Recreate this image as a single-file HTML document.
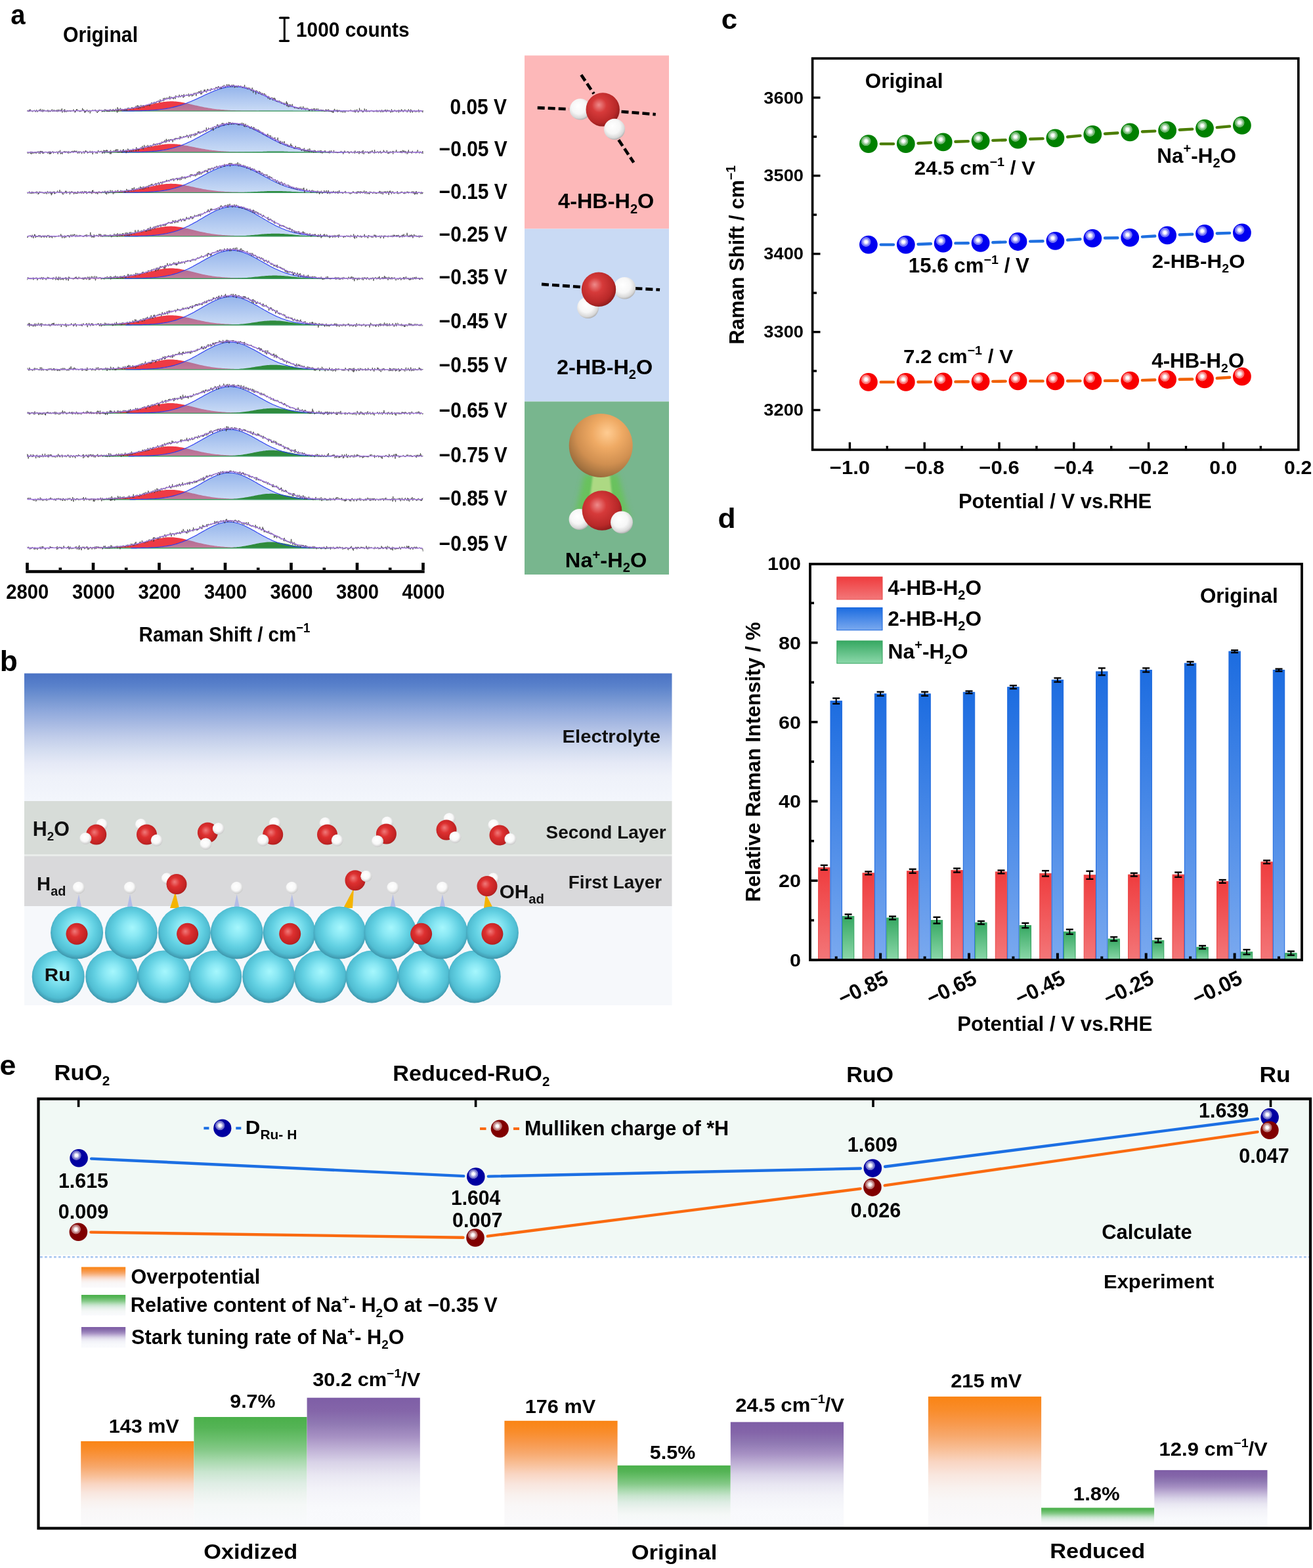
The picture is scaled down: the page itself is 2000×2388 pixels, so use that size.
<!DOCTYPE html><html><head><meta charset="utf-8"><title>Figure</title><style>html,body{margin:0;padding:0;background:#fff;width:2000px;height:2388px;overflow:hidden}svg{display:block}text{font-family:"Liberation Sans",Arial,sans-serif;font-weight:bold}</style></head><body><svg width="2000" height="2388" viewBox="0 0 2000 2388"><rect width="2000" height="2388" fill="#fff"/><defs><linearGradient id="gBlueA" x1="0" y1="0" x2="0" y2="1"><stop offset="0" stop-color="#2a6ad8"/><stop offset="1" stop-color="#96b8ec"/></linearGradient></defs>
<path d="M111.5,168.8 113.5,168.8 115.5,168.7 117.5,168.7 119.5,168.7 121.5,168.7 123.5,168.7 125.5,168.7 127.5,168.7 129.5,168.7 131.5,168.7 133.5,168.6 135.5,168.6 137.5,168.6 139.5,168.6 141.5,168.6 143.5,168.5 145.5,168.5 147.5,168.5 149.5,168.5 151.5,168.4 153.5,168.4 155.5,168.3 157.5,168.3 159.5,168.2 161.5,168.2 163.5,168.1 165.5,168.1 167.5,168.0 169.5,167.9 171.5,167.8 173.5,167.7 175.5,167.6 177.5,167.5 179.5,167.4 181.5,167.2 183.5,167.1 185.5,166.9 187.5,166.7 189.5,166.5 191.5,166.3 193.5,166.1 195.5,165.8 197.5,165.5 199.5,165.3 201.5,165.0 203.5,164.6 205.5,164.3 207.5,164.0 209.5,163.6 211.5,163.2 213.5,162.8 215.5,162.4 217.5,161.9 219.5,161.5 221.5,161.0 223.5,160.6 225.5,160.1 227.5,159.6 229.5,159.2 231.5,158.7 233.5,158.2 235.5,157.8 237.5,157.3 239.5,156.9 241.5,156.5 243.5,156.1 245.5,155.7 247.5,155.4 249.5,155.1 251.5,154.9 253.5,154.7 255.5,154.5 257.5,154.4 259.5,154.3 261.5,154.3 263.5,154.3 265.5,154.4 267.5,154.6 269.5,154.8 271.5,155.0 273.5,155.3 275.5,155.6 277.5,155.9 279.5,156.3 281.5,156.7 283.5,157.1 285.5,157.6 287.5,158.0 289.5,158.5 291.5,158.9 293.5,159.4 295.5,159.9 297.5,160.4 299.5,160.8 301.5,161.3 303.5,161.7 305.5,162.2 307.5,162.6 309.5,163.0 311.5,163.4 313.5,163.8 315.5,164.1 317.5,164.5 319.5,164.8 321.5,165.1 323.5,165.4 325.5,165.7 327.5,165.9 329.5,166.2 331.5,166.4 333.5,166.6 335.5,166.8 337.5,167.0 339.5,167.1 341.5,167.3 343.5,167.4 345.5,167.5 347.5,167.7 349.5,167.8 351.5,167.9 353.5,167.9 355.5,168.0 357.5,168.1 359.5,168.2 361.5,168.2 363.5,168.3 365.5,168.3 367.5,168.4 369.5,168.4 371.5,168.4 373.5,168.5 375.5,168.5 377.5,168.5 379.5,168.6 381.5,168.6 383.5,168.6 385.5,168.6 387.5,168.6 389.5,168.6 391.5,168.7 393.5,168.7 395.5,168.7 397.5,168.7 399.5,168.7 401.5,168.7 403.5,168.7 405.5,168.7 407.5,168.8 409.5,168.8 411.5,168.8 L411.5,169.1 L111.5,169.1Z" fill="#ee3a44" stroke="none" stroke-width="1" />
<path d="M185.5,169.0 187.5,169.0 189.5,169.0 191.5,169.0 193.5,169.0 195.5,169.0 197.5,168.9 199.5,168.9 201.5,168.9 203.5,168.9 205.5,168.8 207.5,168.8 209.5,168.8 211.5,168.7 213.5,168.7 215.5,168.6 217.5,168.5 219.5,168.5 221.5,168.4 223.5,168.3 225.5,168.2 227.5,168.1 229.5,168.0 231.5,167.8 233.5,167.7 235.5,167.5 237.5,167.4 239.5,167.2 241.5,167.0 243.5,166.8 245.5,166.5 247.5,166.3 249.5,166.0 251.5,165.7 253.5,165.4 255.5,165.0 257.5,164.7 259.5,164.3 261.5,163.8 263.5,163.4 265.5,162.9 267.5,162.4 269.5,161.9 271.5,161.3 273.5,160.7 275.5,160.1 277.5,159.5 279.5,158.8 281.5,158.1 283.5,157.4 285.5,156.6 287.5,155.8 289.5,155.0 291.5,154.2 293.5,153.3 295.5,152.5 297.5,151.6 299.5,150.7 301.5,149.8 303.5,148.8 305.5,147.9 307.5,146.9 309.5,146.0 311.5,145.1 313.5,144.1 315.5,143.2 317.5,142.3 319.5,141.4 321.5,140.5 323.5,139.7 325.5,138.8 327.5,138.0 329.5,137.3 331.5,136.5 333.5,135.8 335.5,135.2 337.5,134.6 339.5,134.1 341.5,133.6 343.5,133.1 345.5,132.8 347.5,132.4 349.5,132.2 351.5,132.0 353.5,131.9 355.5,131.8 357.5,131.8 359.5,131.9 361.5,132.0 363.5,132.2 365.5,132.4 367.5,132.8 369.5,133.1 371.5,133.6 373.5,134.1 375.5,134.6 377.5,135.2 379.5,135.8 381.5,136.5 383.5,137.3 385.5,138.0 387.5,138.8 389.5,139.7 391.5,140.5 393.5,141.4 395.5,142.3 397.5,143.2 399.5,144.1 401.5,145.1 403.5,146.0 405.5,146.9 407.5,147.9 409.5,148.8 411.5,149.8 413.5,150.7 415.5,151.6 417.5,152.5 419.5,153.3 421.5,154.2 423.5,155.0 425.5,155.8 427.5,156.6 429.5,157.4 431.5,158.1 433.5,158.8 435.5,159.5 437.5,160.1 439.5,160.7 441.5,161.3 443.5,161.9 445.5,162.4 447.5,162.9 449.5,163.4 451.5,163.8 453.5,164.3 455.5,164.7 457.5,165.0 459.5,165.4 461.5,165.7 463.5,166.0 465.5,166.3 467.5,166.5 469.5,166.8 471.5,167.0 473.5,167.2 475.5,167.4 477.5,167.5 479.5,167.7 481.5,167.8 483.5,168.0 485.5,168.1 487.5,168.2 489.5,168.3 491.5,168.4 493.5,168.5 495.5,168.5 497.5,168.6 499.5,168.7 501.5,168.7 503.5,168.8 505.5,168.8 507.5,168.8 509.5,168.9 511.5,168.9 513.5,168.9 515.5,168.9 517.5,169.0 519.5,169.0 521.5,169.0 523.5,169.0 525.5,169.0 527.5,169.0 L527.5,169.1 L185.5,169.1Z" fill="url(#gBlueA)" stroke="none" stroke-width="1" fill-opacity="0.5"/>
<path d="M323.5,169.1 325.5,169.1 327.5,169.1 329.5,169.1 331.5,169.1 333.5,169.1 335.5,169.1 337.5,169.1 339.5,169.1 341.5,169.1 343.5,169.1 345.5,169.1 347.5,169.1 349.5,169.1 351.5,169.1 353.5,169.1 355.5,169.1 357.5,169.1 359.5,169.1 361.5,169.1 363.5,169.1 365.5,169.0 367.5,169.0 369.5,169.0 371.5,169.0 373.5,169.0 375.5,169.0 377.5,169.0 379.5,169.0 381.5,169.0 383.5,168.9 385.5,168.9 387.5,168.9 389.5,168.9 391.5,168.9 393.5,168.9 395.5,168.8 397.5,168.8 399.5,168.8 401.5,168.8 403.5,168.8 405.5,168.8 407.5,168.7 409.5,168.7 411.5,168.7 413.5,168.7 415.5,168.7 417.5,168.7 419.5,168.7 421.5,168.7 423.5,168.7 425.5,168.7 427.5,168.7 429.5,168.7 431.5,168.7 433.5,168.7 435.5,168.8 437.5,168.8 439.5,168.8 441.5,168.8 443.5,168.8 445.5,168.8 447.5,168.9 449.5,168.9 451.5,168.9 453.5,168.9 455.5,168.9 457.5,168.9 459.5,169.0 461.5,169.0 463.5,169.0 465.5,169.0 467.5,169.0 469.5,169.0 471.5,169.0 473.5,169.0 475.5,169.1 477.5,169.1 479.5,169.1 481.5,169.1 483.5,169.1 485.5,169.1 487.5,169.1 489.5,169.1 491.5,169.1 493.5,169.1 495.5,169.1 497.5,169.1 499.5,169.1 501.5,169.1 503.5,169.1 505.5,169.1 507.5,169.1 509.5,169.1 511.5,169.1 513.5,169.1 515.5,169.1 L515.5,169.1 L323.5,169.1Z" fill="#2e8b3c" stroke="none" stroke-width="1" />
<line x1="155" y1="169.1" x2="505" y2="169.1" stroke="#3d9a62" stroke-width="1.4" />
<path d="M185.5,169.0 187.5,169.0 189.5,169.0 191.5,169.0 193.5,169.0 195.5,169.0 197.5,168.9 199.5,168.9 201.5,168.9 203.5,168.9 205.5,168.8 207.5,168.8 209.5,168.8 211.5,168.7 213.5,168.7 215.5,168.6 217.5,168.5 219.5,168.5 221.5,168.4 223.5,168.3 225.5,168.2 227.5,168.1 229.5,168.0 231.5,167.8 233.5,167.7 235.5,167.5 237.5,167.4 239.5,167.2 241.5,167.0 243.5,166.8 245.5,166.5 247.5,166.3 249.5,166.0 251.5,165.7 253.5,165.4 255.5,165.0 257.5,164.7 259.5,164.3 261.5,163.8 263.5,163.4 265.5,162.9 267.5,162.4 269.5,161.9 271.5,161.3 273.5,160.7 275.5,160.1 277.5,159.5 279.5,158.8 281.5,158.1 283.5,157.4 285.5,156.6 287.5,155.8 289.5,155.0 291.5,154.2 293.5,153.3 295.5,152.5 297.5,151.6 299.5,150.7 301.5,149.8 303.5,148.8 305.5,147.9 307.5,146.9 309.5,146.0 311.5,145.1 313.5,144.1 315.5,143.2 317.5,142.3 319.5,141.4 321.5,140.5 323.5,139.7 325.5,138.8 327.5,138.0 329.5,137.3 331.5,136.5 333.5,135.8 335.5,135.2 337.5,134.6 339.5,134.1 341.5,133.6 343.5,133.1 345.5,132.8 347.5,132.4 349.5,132.2 351.5,132.0 353.5,131.9 355.5,131.8 357.5,131.8 359.5,131.9 361.5,132.0 363.5,132.2 365.5,132.4 367.5,132.8 369.5,133.1 371.5,133.6 373.5,134.1 375.5,134.6 377.5,135.2 379.5,135.8 381.5,136.5 383.5,137.3 385.5,138.0 387.5,138.8 389.5,139.7 391.5,140.5 393.5,141.4 395.5,142.3 397.5,143.2 399.5,144.1 401.5,145.1 403.5,146.0 405.5,146.9 407.5,147.9 409.5,148.8 411.5,149.8 413.5,150.7 415.5,151.6 417.5,152.5 419.5,153.3 421.5,154.2 423.5,155.0 425.5,155.8 427.5,156.6 429.5,157.4 431.5,158.1 433.5,158.8 435.5,159.5 437.5,160.1 439.5,160.7 441.5,161.3 443.5,161.9 445.5,162.4 447.5,162.9 449.5,163.4 451.5,163.8 453.5,164.3 455.5,164.7 457.5,165.0 459.5,165.4 461.5,165.7 463.5,166.0 465.5,166.3 467.5,166.5 469.5,166.8 471.5,167.0 473.5,167.2 475.5,167.4 477.5,167.5 479.5,167.7 481.5,167.8 483.5,168.0 485.5,168.1 487.5,168.2 489.5,168.3 491.5,168.4 493.5,168.5 495.5,168.5 497.5,168.6 499.5,168.7 501.5,168.7 503.5,168.8 505.5,168.8 507.5,168.8 509.5,168.9 511.5,168.9 513.5,168.9 515.5,168.9 517.5,169.0 519.5,169.0 521.5,169.0 523.5,169.0 525.5,169.0 527.5,169.0" fill="none" stroke="#2b3cf0" stroke-width="1.1" />
<path d="M41.5,168.6 42.0,169.6 42.6,167.8 43.1,168.7 43.7,170.2 44.2,169.2 44.8,166.9 45.4,170.0 45.9,166.8 46.5,166.8 47.0,169.3 47.5,168.9 48.1,169.3 48.6,169.4 49.2,169.6 49.8,170.4 50.3,168.5 50.9,168.8 51.4,168.4 52.0,167.7 52.5,167.9 53.0,169.2 53.6,169.0 54.1,170.6 54.7,168.8 55.2,167.9 55.8,167.1 56.4,170.0 56.9,170.7 57.5,169.4 58.0,169.7 58.5,168.1 59.1,167.7 59.7,168.2 60.2,167.1 60.8,169.2 61.3,166.5 61.9,165.8 62.4,169.1 63.0,170.1 63.5,168.0 64.0,168.9 64.6,166.7 65.2,170.6 65.7,168.1 66.2,169.5 66.8,167.0 67.3,168.3 67.9,168.2 68.5,169.5 69.0,168.8 69.5,168.7 70.1,168.8 70.7,169.6 71.2,168.6 71.8,169.5 72.3,167.7 72.8,167.2 73.4,170.7 74.0,168.3 74.5,167.8 75.1,169.8 75.6,170.2 76.2,168.7 76.7,170.2 77.2,169.8 77.8,168.5 78.3,168.6 78.9,166.8 79.5,166.5 80.0,170.0 80.6,169.8 81.1,168.6 81.7,169.5 82.2,167.0 82.8,169.1 83.3,170.0 83.8,168.5 84.4,168.9 85.0,167.8 85.5,169.7 86.1,167.6 86.6,169.1 87.2,170.4 87.7,167.2 88.2,167.4 88.8,168.9 89.3,170.1 89.9,166.8 90.5,168.9 91.0,168.0 91.6,169.0 92.1,169.6 92.7,167.0 93.2,169.3 93.8,169.1 94.3,165.2 94.8,171.5 95.4,170.4 96.0,169.8 96.5,168.8 97.1,167.4 97.6,167.7 98.2,170.8 98.7,166.4 99.2,170.6 99.8,169.3 100.3,169.3 100.9,170.2 101.5,170.7 102.0,167.9 102.6,168.2 103.1,170.0 103.7,168.3 104.2,169.0 104.8,169.7 105.3,168.0 105.9,168.3 106.4,169.8 107.0,168.2 107.5,169.9 108.1,168.0 108.6,169.5 109.2,168.5 109.7,168.9 110.2,168.1 110.8,169.1 111.4,169.1 111.9,166.6 112.5,169.0 113.0,168.9 113.6,169.1 114.1,171.4 114.7,169.2 115.2,170.4 115.8,168.5 116.3,166.5 116.9,168.6 117.4,166.2 118.0,168.4 118.5,169.4 119.1,168.2 119.6,167.9 120.2,169.4 120.7,169.0 121.2,169.8 121.8,170.4 122.4,168.0 122.9,169.6 123.5,169.8 124.0,169.3 124.6,168.2 125.1,167.6 125.7,164.8 126.2,168.3 126.8,169.1 127.3,166.8 127.9,169.2 128.4,167.8 128.9,171.7 129.5,169.0 130.1,171.2 130.6,169.3 131.2,168.2 131.7,169.8 132.2,167.1 132.8,167.2 133.4,168.3 133.9,168.2 134.4,170.8 135.0,168.6 135.6,168.8 136.1,167.9 136.7,168.1 137.2,172.6 137.8,168.9 138.3,168.3 138.9,168.3 139.4,169.5 139.9,168.4 140.5,167.5 141.1,167.5 141.6,168.1 142.2,167.7 142.7,168.8 143.2,168.6 143.8,167.6 144.4,168.4 144.9,167.4 145.4,167.0 146.0,169.6 146.6,168.3 147.1,169.3 147.7,170.9 148.2,172.0 148.8,169.9 149.3,170.2 149.9,169.1 150.4,170.1 150.9,166.9 151.5,167.5 152.1,168.7 152.6,167.5 153.2,168.1 153.7,168.3 154.2,168.4 154.8,167.5 155.4,170.6 155.9,169.4 156.4,169.6 157.0,167.9 157.6,167.9 158.1,169.8 158.7,170.4 159.2,168.4 159.8,166.2 160.3,167.7 160.9,167.7 161.4,166.9 161.9,168.1 162.5,169.9 163.1,167.0 163.6,170.0 164.2,168.3 164.7,169.8 165.2,170.1 165.8,167.1 166.4,167.2 166.9,170.2 167.5,168.0 168.0,166.2 168.6,167.5 169.1,167.9 169.7,168.4 170.2,168.4 170.8,169.8 171.3,166.7 171.9,168.7 172.4,166.4 173.0,166.5 173.5,167.6 174.1,169.7 174.6,168.1 175.2,167.6 175.7,166.9 176.2,165.8 176.8,166.1 177.4,167.8 177.9,168.5 178.5,171.8 179.0,163.3 179.6,167.1 180.1,169.8 180.7,165.8 181.2,167.2 181.8,166.2 182.3,166.4 182.9,166.3 183.4,164.5 184.0,167.0 184.5,168.7 185.1,166.3 185.6,165.8 186.2,167.4 186.7,166.2 187.2,167.7 187.8,166.7 188.4,166.7 188.9,167.6 189.5,166.9 190.0,168.2 190.6,165.4 191.1,168.0 191.7,166.8 192.2,167.4 192.8,165.8 193.3,168.7 193.9,164.6 194.4,165.6 195.0,165.1 195.5,163.8 196.1,164.8 196.6,165.3 197.2,166.4 197.7,164.6 198.2,165.8 198.8,166.5 199.4,166.3 199.9,165.6 200.5,163.5 201.0,164.9 201.6,163.4 202.1,165.4 202.7,166.0 203.2,166.4 203.8,163.6 204.3,164.5 204.9,165.1 205.4,163.0 206.0,163.4 206.5,164.5 207.1,161.4 207.6,162.3 208.2,164.7 208.7,164.7 209.2,160.3 209.8,163.4 210.4,160.8 210.9,165.5 211.5,164.1 212.0,161.4 212.6,162.8 213.1,164.4 213.7,165.0 214.2,161.5 214.8,159.8 215.3,161.9 215.9,161.7 216.4,163.6 217.0,162.0 217.5,160.1 218.1,161.0 218.6,160.2 219.2,163.8 219.7,160.8 220.3,160.6 220.8,160.3 221.4,161.4 221.9,160.8 222.5,159.8 223.0,161.4 223.6,160.0 224.1,159.5 224.7,161.3 225.2,160.4 225.8,159.4 226.3,159.7 226.9,160.9 227.4,159.6 228.0,161.7 228.5,158.5 229.1,159.1 229.6,159.4 230.2,157.4 230.7,156.1 231.3,158.4 231.8,156.7 232.4,157.7 232.9,157.4 233.5,157.0 234.0,158.2 234.6,155.2 235.1,156.0 235.7,156.9 236.2,157.8 236.8,156.2 237.3,156.4 237.9,156.2 238.4,156.5 239.0,154.1 239.5,155.1 240.1,153.8 240.6,154.4 241.2,153.7 241.7,153.4 242.3,156.0 242.8,154.0 243.4,155.6 243.9,151.4 244.5,154.0 245.0,154.9 245.6,153.8 246.1,153.3 246.7,152.7 247.2,153.6 247.8,152.0 248.3,153.4 248.9,149.4 249.4,153.6 250.0,153.1 250.5,152.4 251.1,148.9 251.6,151.3 252.2,151.3 252.7,150.9 253.3,150.3 253.8,148.7 254.4,151.2 254.9,150.0 255.5,150.9 256.0,148.7 256.6,150.3 257.1,150.4 257.6,150.2 258.2,146.5 258.8,151.4 259.3,150.5 259.9,150.4 260.4,147.2 261.0,148.6 261.5,148.8 262.1,149.9 262.6,148.7 263.1,150.0 263.7,148.1 264.2,151.2 264.8,148.4 265.4,149.2 265.9,147.5 266.5,148.9 267.0,150.8 267.6,145.5 268.1,145.9 268.6,146.3 269.2,146.8 269.8,147.4 270.3,147.3 270.9,147.2 271.4,147.0 272.0,148.5 272.5,146.7 273.1,144.2 273.6,145.9 274.1,147.4 274.7,148.1 275.2,146.9 275.8,147.1 276.4,144.7 276.9,145.7 277.5,145.3 278.0,145.6 278.6,145.0 279.1,149.0 279.6,145.1 280.2,143.4 280.8,147.5 281.3,146.1 281.9,146.0 282.4,145.6 283.0,144.8 283.5,145.8 284.1,144.1 284.6,145.1 285.1,144.4 285.7,145.2 286.2,145.4 286.8,145.4 287.4,142.6 287.9,147.3 288.5,145.3 289.0,144.1 289.6,144.0 290.1,145.7 290.7,143.1 291.2,143.5 291.8,143.4 292.3,146.7 292.9,144.5 293.4,145.6 294.0,146.2 294.5,145.2 295.1,141.7 295.6,142.7 296.2,144.2 296.7,143.3 297.2,141.1 297.8,141.8 298.4,143.4 298.9,146.2 299.5,142.5 300.0,140.6 300.6,140.6 301.1,141.6 301.7,142.2 302.2,142.2 302.8,139.1 303.3,141.3 303.9,139.2 304.4,140.0 305.0,141.1 305.5,143.5 306.1,137.6 306.6,141.9 307.2,143.8 307.7,141.0 308.2,139.9 308.8,141.2 309.4,140.4 309.9,140.6 310.5,139.0 311.0,136.7 311.6,139.3 312.1,136.4 312.7,139.0 313.2,138.7 313.8,139.8 314.3,140.9 314.9,140.5 315.4,136.4 316.0,137.8 316.5,135.5 317.1,137.2 317.6,136.8 318.2,138.3 318.7,138.1 319.2,137.6 319.8,136.6 320.4,138.3 320.9,138.7 321.5,134.4 322.0,136.4 322.6,135.3 323.1,136.4 323.7,136.5 324.2,135.8 324.8,135.6 325.3,134.9 325.9,136.0 326.4,135.7 327.0,136.7 327.5,135.7 328.1,134.3 328.6,132.9 329.2,132.5 329.7,134.3 330.2,134.3 330.8,132.9 331.4,135.3 331.9,133.6 332.5,131.0 333.0,133.5 333.6,132.5 334.1,133.7 334.7,134.7 335.2,133.3 335.8,132.1 336.3,135.2 336.9,133.4 337.4,134.9 338.0,132.5 338.5,132.2 339.1,130.8 339.6,132.1 340.2,132.3 340.7,131.1 341.2,129.5 341.8,130.4 342.4,131.2 342.9,131.4 343.5,133.2 344.0,131.6 344.6,131.2 345.1,131.1 345.7,128.2 346.2,131.9 346.8,130.3 347.3,129.7 347.9,129.6 348.4,128.6 349.0,131.3 349.5,129.0 350.1,131.6 350.6,131.2 351.2,132.5 351.7,130.9 352.2,131.0 352.8,129.1 353.4,131.3 353.9,132.5 354.5,130.8 355.0,128.9 355.6,130.3 356.1,130.4 356.7,129.5 357.2,133.7 357.8,131.4 358.3,132.6 358.9,131.9 359.4,132.4 360.0,132.6 360.5,130.5 361.1,131.9 361.6,133.1 362.2,131.8 362.7,130.1 363.2,130.4 363.8,131.4 364.4,131.1 364.9,131.1 365.5,131.7 366.0,132.5 366.6,130.4 367.1,130.9 367.7,131.8 368.2,131.8 368.8,132.7 369.3,134.0 369.9,132.1 370.4,131.9 371.0,132.4 371.5,132.9 372.1,133.7 372.6,129.3 373.2,133.5 373.7,133.1 374.2,134.0 374.8,133.7 375.4,132.6 375.9,133.6 376.5,135.4 377.0,136.1 377.6,134.3 378.1,133.1 378.7,135.7 379.2,136.0 379.8,134.2 380.3,133.6 380.9,136.1 381.4,134.9 382.0,137.6 382.5,136.0 383.1,138.5 383.6,136.1 384.2,133.5 384.7,136.5 385.2,138.0 385.8,141.4 386.4,136.6 386.9,138.2 387.5,138.8 388.0,138.1 388.6,139.5 389.1,138.3 389.7,143.7 390.2,137.5 390.8,139.5 391.3,138.7 391.9,139.2 392.4,138.8 393.0,141.2 393.5,141.0 394.1,142.9 394.6,140.5 395.2,139.1 395.7,140.7 396.3,142.3 396.8,140.3 397.4,143.5 397.9,142.7 398.5,144.3 399.0,141.6 399.6,144.5 400.1,142.5 400.7,142.2 401.2,144.6 401.8,144.4 402.3,145.3 402.9,142.1 403.4,143.9 404.0,144.8 404.5,144.3 405.1,144.2 405.6,147.1 406.2,146.3 406.7,146.9 407.3,146.4 407.8,148.3 408.4,150.4 408.9,146.5 409.5,146.7 410.0,147.9 410.6,149.8 411.1,152.0 411.7,149.0 412.2,149.8 412.8,149.4 413.3,148.6 413.9,148.6 414.4,149.2 415.0,148.6 415.5,153.0 416.1,151.1 416.6,149.2 417.2,152.0 417.7,150.5 418.3,148.8 418.8,153.1 419.4,150.5 419.9,152.2 420.5,154.4 421.0,153.9 421.6,153.1 422.1,155.1 422.7,154.8 423.2,153.1 423.8,154.2 424.3,154.8 424.9,155.4 425.4,153.0 426.0,154.2 426.5,155.7 427.1,154.9 427.6,154.5 428.2,155.0 428.7,157.7 429.3,155.7 429.8,156.0 430.4,157.1 430.9,157.0 431.5,156.9 432.0,158.3 432.6,156.6 433.1,159.7 433.7,157.2 434.2,156.8 434.8,157.4 435.3,158.3 435.9,157.6 436.4,154.2 437.0,161.9 437.5,156.3 438.1,161.1 438.6,158.2 439.2,163.2 439.7,160.5 440.3,160.2 440.8,159.3 441.4,162.9 441.9,158.8 442.5,160.7 443.0,159.8 443.6,162.1 444.1,162.1 444.7,160.6 445.2,158.5 445.8,161.9 446.3,161.6 446.9,163.2 447.4,162.9 448.0,162.1 448.5,164.9 449.1,163.5 449.6,164.4 450.2,163.7 450.7,164.4 451.3,164.9 451.8,163.8 452.4,163.8 452.9,164.6 453.5,165.5 454.0,164.0 454.6,165.8 455.1,164.1 455.7,165.4 456.2,162.8 456.8,165.3 457.3,164.3 457.9,164.6 458.4,162.3 459.0,165.6 459.5,166.9 460.1,165.1 460.6,164.7 461.2,165.2 461.7,161.9 462.3,164.6 462.8,165.7 463.4,166.3 463.9,164.5 464.5,165.3 465.0,164.5 465.6,167.5 466.1,166.1 466.7,165.1 467.2,165.0 467.8,164.0 468.3,166.8 468.9,166.5 469.4,165.6 470.0,165.7 470.5,168.9 471.1,166.1 471.6,168.7 472.2,166.2 472.7,167.5 473.3,166.8 473.8,167.4 474.4,165.7 474.9,166.8 475.5,169.2 476.0,165.9 476.6,166.0 477.1,166.7 477.7,165.9 478.2,165.0 478.8,168.6 479.3,165.4 479.9,165.9 480.4,168.6 481.0,167.6 481.5,166.4 482.1,165.3 482.6,166.8 483.2,167.3 483.7,166.7 484.3,165.3 484.8,165.8 485.4,167.2 485.9,168.8 486.5,167.6 487.0,167.2 487.6,168.2 488.1,168.4 488.7,166.8 489.2,168.2 489.8,167.2 490.3,169.3 490.9,167.2 491.4,168.5 492.0,169.0 492.5,167.2 493.1,169.5 493.6,168.5 494.2,168.6 494.7,169.7 495.3,169.5 495.8,167.5 496.4,166.4 496.9,169.5 497.5,167.3 498.0,169.4 498.6,168.0 499.1,167.1 499.7,167.6 500.2,166.4 500.8,170.1 501.3,169.5 501.9,167.6 502.4,170.1 503.0,169.3 503.5,169.6 504.1,168.4 504.6,170.4 505.2,168.2 505.7,170.4 506.3,171.4 506.8,169.6 507.4,168.9 507.9,171.8 508.5,167.4 509.0,168.8 509.6,165.8 510.1,167.0 510.7,167.6 511.2,168.7 511.8,169.4 512.3,168.8 512.9,167.2 513.4,170.1 514.0,170.8 514.5,167.4 515.0,170.3 515.6,168.2 516.2,168.3 516.7,169.5 517.2,167.6 517.8,168.9 518.4,169.3 518.9,170.4 519.5,170.9 520.0,169.4 520.5,169.7 521.1,169.6 521.7,170.1 522.2,171.5 522.8,171.2 523.3,168.5 523.9,168.2 524.4,168.9 525.0,169.7 525.5,171.8 526.0,168.9 526.6,169.3 527.2,168.7 527.7,169.1 528.2,168.9 528.8,169.0 529.4,169.0 529.9,169.5 530.5,170.2 531.0,168.3 531.5,168.6 532.1,168.8 532.7,168.1 533.2,167.8 533.8,168.0 534.3,167.5 534.9,167.7 535.4,169.1 536.0,169.4 536.5,168.9 537.1,168.6 537.6,170.3 538.2,168.1 538.7,168.5 539.2,168.2 539.8,170.9 540.4,169.4 540.9,167.2 541.5,171.3 542.0,168.4 542.6,169.7 543.1,169.4 543.7,166.5 544.2,168.8 544.8,169.6 545.3,171.2 545.9,169.4 546.4,170.5 547.0,169.9 547.5,164.6 548.1,167.9 548.6,168.1 549.2,167.9 549.7,168.7 550.2,169.4 550.8,167.4 551.4,169.4 551.9,170.9 552.5,170.8 553.0,169.3 553.6,170.8 554.1,169.2 554.7,168.9 555.2,165.4 555.8,168.0 556.3,169.1 556.9,170.1 557.4,169.9 558.0,166.4 558.5,170.4 559.1,169.5 559.6,169.0 560.2,170.3 560.7,168.5 561.2,168.9 561.8,169.7 562.4,169.1 562.9,170.6 563.5,168.3 564.0,169.3 564.6,168.8 565.1,168.6 565.7,168.1 566.2,168.3 566.8,168.4 567.3,170.0 567.9,168.7 568.4,170.2 569.0,170.2 569.5,168.9 570.1,170.4 570.6,169.5 571.2,169.5 571.7,168.8 572.2,169.9 572.8,169.9 573.4,167.6 573.9,169.6 574.5,170.9 575.0,168.0 575.6,168.1 576.1,169.3 576.7,170.5 577.2,170.2 577.8,169.1 578.3,167.7 578.9,168.5 579.4,168.4 580.0,171.1 580.5,170.0 581.1,168.0 581.6,167.1 582.2,169.8 582.7,171.0 583.2,168.5 583.8,167.9 584.4,170.5 584.9,169.7 585.5,167.7 586.0,169.1 586.6,167.6 587.1,169.6 587.7,166.9 588.2,170.6 588.8,168.6 589.3,170.2 589.9,167.8 590.4,167.1 591.0,169.6 591.5,167.9 592.1,168.6 592.6,169.9 593.2,167.8 593.7,168.8 594.2,169.7 594.8,171.4 595.4,170.5 595.9,170.7 596.5,166.3 597.0,170.7 597.6,168.9 598.1,168.4 598.7,170.6 599.2,168.8 599.8,169.4 600.3,169.5 600.9,169.1 601.4,167.2 602.0,169.0 602.5,169.5 603.1,170.2 603.6,170.4 604.2,168.0 604.7,170.0 605.2,169.7 605.8,168.7 606.4,169.8 606.9,167.4 607.5,171.5 608.0,168.0 608.6,167.9 609.1,170.0 609.7,168.2 610.2,170.3 610.8,170.0 611.3,166.5 611.9,168.9 612.4,167.4 613.0,169.2 613.5,168.9 614.1,170.8 614.6,167.9 615.2,168.5 615.7,169.1 616.2,168.4 616.8,166.7 617.4,168.7 617.9,169.2 618.5,169.1 619.0,168.8 619.6,167.9 620.1,171.2 620.7,170.6 621.2,167.9 621.8,169.4 622.3,166.3 622.9,167.5 623.4,169.0 624.0,169.4 624.5,168.0 625.1,171.5 625.6,166.5 626.2,167.1 626.7,169.1 627.2,170.3 627.8,168.1 628.4,171.4 628.9,169.1 629.5,169.8 630.0,170.1 630.6,168.9 631.1,167.8 631.7,168.8 632.2,170.7 632.8,170.7 633.3,169.4 633.9,168.4 634.4,170.1 635.0,170.7 635.5,169.4 636.1,168.5 636.6,169.3 637.2,168.4 637.7,166.8 638.2,171.2 638.8,168.1 639.4,169.0 639.9,168.8 640.5,168.1 641.0,168.4 641.6,169.7 642.1,169.5 642.7,168.6 643.2,168.8 643.8,171.2 644.3,168.1" fill="none" stroke="#3a3a3a" stroke-width="0.8" />
<path d="M41.5,168.9 43.5,168.9 45.5,168.9 47.5,168.9 49.5,168.9 51.5,168.9 53.5,168.9 55.5,168.9 57.5,168.9 59.5,168.9 61.5,168.9 63.5,168.9 65.5,168.9 67.5,168.9 69.5,168.9 71.5,168.9 73.5,168.9 75.5,168.9 77.5,168.9 79.5,168.9 81.5,168.9 83.5,168.9 85.5,168.9 87.5,168.8 89.5,168.8 91.5,168.8 93.5,168.8 95.5,168.8 97.5,168.8 99.5,168.8 101.5,168.8 103.5,168.8 105.5,168.8 107.5,168.8 109.5,168.8 111.5,168.8 113.5,168.8 115.5,168.7 117.5,168.7 119.5,168.7 121.5,168.7 123.5,168.7 125.5,168.7 127.5,168.7 129.5,168.7 131.5,168.7 133.5,168.6 135.5,168.6 137.5,168.6 139.5,168.6 141.5,168.6 143.5,168.5 145.5,168.5 147.5,168.5 149.5,168.5 151.5,168.4 153.5,168.4 155.5,168.3 157.5,168.3 159.5,168.2 161.5,168.2 163.5,168.1 165.5,168.0 167.5,168.0 169.5,167.9 171.5,167.8 173.5,167.7 175.5,167.6 177.5,167.5 179.5,167.3 181.5,167.2 183.5,167.0 185.5,166.8 187.5,166.6 189.5,166.4 191.5,166.2 193.5,165.9 195.5,165.7 197.5,165.4 199.5,165.1 201.5,164.8 203.5,164.4 205.5,164.0 207.5,163.7 209.5,163.2 211.5,162.8 213.5,162.4 215.5,161.9 217.5,161.4 219.5,160.9 221.5,160.3 223.5,159.8 225.5,159.2 227.5,158.6 229.5,158.0 231.5,157.4 233.5,156.8 235.5,156.2 237.5,155.6 239.5,155.0 241.5,154.4 243.5,153.8 245.5,153.2 247.5,152.6 249.5,152.0 251.5,151.5 253.5,150.9 255.5,150.4 257.5,149.9 259.5,149.5 261.5,149.0 263.5,148.6 265.5,148.2 267.5,147.9 269.5,147.5 271.5,147.2 273.5,146.9 275.5,146.6 277.5,146.3 279.5,146.0 281.5,145.7 283.5,145.4 285.5,145.1 287.5,144.7 289.5,144.4 291.5,144.0 293.5,143.6 295.5,143.2 297.5,142.8 299.5,142.4 301.5,141.9 303.5,141.4 305.5,141.0 307.5,140.4 309.5,139.9 311.5,139.4 313.5,138.8 315.5,138.2 317.5,137.7 319.5,137.1 321.5,136.5 323.5,136.0 325.5,135.4 327.5,134.9 329.5,134.3 331.5,133.8 333.5,133.3 335.5,132.9 337.5,132.5 339.5,132.1 341.5,131.8 343.5,131.5 345.5,131.2 347.5,131.0 349.5,130.8 351.5,130.7 353.5,130.7 355.5,130.7 357.5,130.8 359.5,130.9 361.5,131.1 363.5,131.3 365.5,131.6 367.5,132.0 369.5,132.4 371.5,132.8 373.5,133.3 375.5,133.9 377.5,134.5 379.5,135.2 381.5,135.9 383.5,136.6 385.5,137.4 387.5,138.2 389.5,139.0 391.5,139.8 393.5,140.7 395.5,141.6 397.5,142.5 399.5,143.4 401.5,144.4 403.5,145.3 405.5,146.2 407.5,147.2 409.5,148.1 411.5,149.0 413.5,150.0 415.5,150.9 417.5,151.8 419.5,152.6 421.5,153.5 423.5,154.3 425.5,155.2 427.5,156.0 429.5,156.7 431.5,157.5 433.5,158.2 435.5,158.9 437.5,159.6 439.5,160.2 441.5,160.8 443.5,161.4 445.5,161.9 447.5,162.5 449.5,163.0 451.5,163.4 453.5,163.9 455.5,164.3 457.5,164.7 459.5,165.0 461.5,165.4 463.5,165.7 465.5,166.0 467.5,166.3 469.5,166.5 471.5,166.7 473.5,167.0 475.5,167.2 477.5,167.3 479.5,167.5 481.5,167.7 483.5,167.8 485.5,167.9 487.5,168.0 489.5,168.1 491.5,168.2 493.5,168.3 495.5,168.4 497.5,168.5 499.5,168.5 501.5,168.6 503.5,168.6 505.5,168.7 507.5,168.7 509.5,168.7 511.5,168.8 513.5,168.8 515.5,168.8 517.5,168.8 519.5,168.9 521.5,168.9 523.5,168.9 525.5,168.9 527.5,168.9 529.5,168.9 531.5,168.9 533.5,169.0 535.5,169.0 537.5,169.0 539.5,169.0 541.5,169.0 543.5,169.0 545.5,169.0 547.5,169.0 549.5,169.0 551.5,169.0 553.5,169.0 555.5,169.0 557.5,169.0 559.5,169.0 561.5,169.0 563.5,169.0 565.5,169.0 567.5,169.0 569.5,169.0 571.5,169.0 573.5,169.0 575.5,169.0 577.5,169.0 579.5,169.0 581.5,169.0 583.5,169.0 585.5,169.0 587.5,169.0 589.5,169.0 591.5,169.0 593.5,169.0 595.5,169.0 597.5,169.0 599.5,169.0 601.5,169.0 603.5,169.0 605.5,169.0 607.5,169.0 609.5,169.0 611.5,169.0 613.5,169.0 615.5,169.0 617.5,169.0 619.5,169.0 621.5,169.0 623.5,169.0 625.5,169.0 627.5,169.0 629.5,169.0 631.5,169.0 633.5,169.0 635.5,169.0 637.5,169.0 639.5,169.0 641.5,169.0 643.5,169.0" fill="none" stroke="#a374e6" stroke-width="1.3" />
<text x="685.55" y="174" font-size="32.3" textLength="86.43" lengthAdjust="spacingAndGlyphs" >0.05 V</text>
<path d="M109.5,231.7 111.5,231.7 113.5,231.7 115.5,231.7 117.5,231.7 119.5,231.7 121.5,231.7 123.5,231.7 125.5,231.6 127.5,231.6 129.5,231.6 131.5,231.6 133.5,231.6 135.5,231.6 137.5,231.6 139.5,231.5 141.5,231.5 143.5,231.5 145.5,231.5 147.5,231.5 149.5,231.4 151.5,231.4 153.5,231.4 155.5,231.3 157.5,231.3 159.5,231.2 161.5,231.2 163.5,231.1 165.5,231.1 167.5,231.0 169.5,230.9 171.5,230.9 173.5,230.8 175.5,230.7 177.5,230.6 179.5,230.5 181.5,230.3 183.5,230.2 185.5,230.0 187.5,229.9 189.5,229.7 191.5,229.5 193.5,229.3 195.5,229.1 197.5,228.9 199.5,228.6 201.5,228.4 203.5,228.1 205.5,227.8 207.5,227.5 209.5,227.1 211.5,226.8 213.5,226.5 215.5,226.1 217.5,225.7 219.5,225.3 221.5,224.9 223.5,224.5 225.5,224.1 227.5,223.7 229.5,223.3 231.5,222.9 233.5,222.5 235.5,222.1 237.5,221.7 239.5,221.4 241.5,221.0 243.5,220.7 245.5,220.4 247.5,220.1 249.5,219.9 251.5,219.6 253.5,219.5 255.5,219.3 257.5,219.3 259.5,219.2 261.5,219.2 263.5,219.3 265.5,219.3 267.5,219.5 269.5,219.6 271.5,219.9 273.5,220.1 275.5,220.4 277.5,220.7 279.5,221.0 281.5,221.4 283.5,221.7 285.5,222.1 287.5,222.5 289.5,222.9 291.5,223.3 293.5,223.7 295.5,224.1 297.5,224.5 299.5,224.9 301.5,225.3 303.5,225.7 305.5,226.1 307.5,226.5 309.5,226.8 311.5,227.1 313.5,227.5 315.5,227.8 317.5,228.1 319.5,228.4 321.5,228.6 323.5,228.9 325.5,229.1 327.5,229.3 329.5,229.5 331.5,229.7 333.5,229.9 335.5,230.0 337.5,230.2 339.5,230.3 341.5,230.5 343.5,230.6 345.5,230.7 347.5,230.8 349.5,230.9 351.5,230.9 353.5,231.0 355.5,231.1 357.5,231.1 359.5,231.2 361.5,231.2 363.5,231.3 365.5,231.3 367.5,231.4 369.5,231.4 371.5,231.4 373.5,231.5 375.5,231.5 377.5,231.5 379.5,231.5 381.5,231.5 383.5,231.6 385.5,231.6 387.5,231.6 389.5,231.6 391.5,231.6 393.5,231.6 395.5,231.6 397.5,231.7 399.5,231.7 401.5,231.7 403.5,231.7 405.5,231.7 407.5,231.7 409.5,231.7 411.5,231.7 L411.5,232.0 L109.5,232.0Z" fill="#ee3a44" stroke="none" stroke-width="1" />
<path d="M185.5,231.9 187.5,231.9 189.5,231.9 191.5,231.9 193.5,231.9 195.5,231.9 197.5,231.8 199.5,231.8 201.5,231.8 203.5,231.8 205.5,231.7 207.5,231.7 209.5,231.6 211.5,231.6 213.5,231.5 215.5,231.5 217.5,231.4 219.5,231.3 221.5,231.2 223.5,231.1 225.5,231.0 227.5,230.9 229.5,230.7 231.5,230.6 233.5,230.4 235.5,230.3 237.5,230.1 239.5,229.9 241.5,229.6 243.5,229.4 245.5,229.1 247.5,228.8 249.5,228.5 251.5,228.1 253.5,227.8 255.5,227.4 257.5,226.9 259.5,226.5 261.5,226.0 263.5,225.5 265.5,224.9 267.5,224.3 269.5,223.7 271.5,223.1 273.5,222.4 275.5,221.7 277.5,220.9 279.5,220.1 281.5,219.3 283.5,218.4 285.5,217.5 287.5,216.6 289.5,215.7 291.5,214.7 293.5,213.7 295.5,212.7 297.5,211.6 299.5,210.6 301.5,209.5 303.5,208.4 305.5,207.3 307.5,206.2 309.5,205.1 311.5,204.0 313.5,202.9 315.5,201.8 317.5,200.7 319.5,199.7 321.5,198.6 323.5,197.6 325.5,196.7 327.5,195.7 329.5,194.8 331.5,194.0 333.5,193.2 335.5,192.5 337.5,191.8 339.5,191.2 341.5,190.6 343.5,190.1 345.5,189.7 347.5,189.3 349.5,189.1 351.5,188.9 353.5,188.7 355.5,188.7 357.5,188.7 359.5,188.8 361.5,189.0 363.5,189.3 365.5,189.6 367.5,190.0 369.5,190.5 371.5,191.0 373.5,191.6 375.5,192.3 377.5,193.0 379.5,193.8 381.5,194.7 383.5,195.5 385.5,196.5 387.5,197.4 389.5,198.4 391.5,199.4 393.5,200.5 395.5,201.6 397.5,202.6 399.5,203.7 401.5,204.9 403.5,206.0 405.5,207.1 407.5,208.2 409.5,209.3 411.5,210.3 413.5,211.4 415.5,212.5 417.5,213.5 419.5,214.5 421.5,215.5 423.5,216.4 425.5,217.4 427.5,218.3 429.5,219.1 431.5,219.9 433.5,220.7 435.5,221.5 437.5,222.2 439.5,222.9 441.5,223.6 443.5,224.2 445.5,224.8 447.5,225.4 449.5,225.9 451.5,226.4 453.5,226.8 455.5,227.3 457.5,227.7 459.5,228.1 461.5,228.4 463.5,228.7 465.5,229.0 467.5,229.3 469.5,229.6 471.5,229.8 473.5,230.0 475.5,230.2 477.5,230.4 479.5,230.6 481.5,230.7 483.5,230.9 485.5,231.0 487.5,231.1 489.5,231.2 491.5,231.3 493.5,231.4 495.5,231.4 497.5,231.5 499.5,231.6 501.5,231.6 503.5,231.7 505.5,231.7 507.5,231.7 509.5,231.8 511.5,231.8 513.5,231.8 515.5,231.9 517.5,231.9 519.5,231.9 521.5,231.9 523.5,231.9 525.5,231.9 L525.5,232.0 L185.5,232.0Z" fill="url(#gBlueA)" stroke="none" stroke-width="1" fill-opacity="0.5"/>
<path d="M323.5,232.0 325.5,232.0 327.5,232.0 329.5,232.0 331.5,232.0 333.5,232.0 335.5,232.0 337.5,232.0 339.5,232.0 341.5,232.0 343.5,232.0 345.5,232.0 347.5,232.0 349.5,231.9 351.5,231.9 353.5,231.9 355.5,231.9 357.5,231.9 359.5,231.9 361.5,231.9 363.5,231.8 365.5,231.8 367.5,231.8 369.5,231.7 371.5,231.7 373.5,231.6 375.5,231.6 377.5,231.6 379.5,231.5 381.5,231.4 383.5,231.4 385.5,231.3 387.5,231.3 389.5,231.2 391.5,231.1 393.5,231.1 395.5,231.0 397.5,230.9 399.5,230.9 401.5,230.8 403.5,230.7 405.5,230.7 407.5,230.6 409.5,230.6 411.5,230.6 413.5,230.5 415.5,230.5 417.5,230.5 419.5,230.5 421.5,230.5 423.5,230.5 425.5,230.5 427.5,230.6 429.5,230.6 431.5,230.6 433.5,230.7 435.5,230.7 437.5,230.8 439.5,230.9 441.5,230.9 443.5,231.0 445.5,231.1 447.5,231.1 449.5,231.2 451.5,231.3 453.5,231.3 455.5,231.4 457.5,231.4 459.5,231.5 461.5,231.6 463.5,231.6 465.5,231.6 467.5,231.7 469.5,231.7 471.5,231.8 473.5,231.8 475.5,231.8 477.5,231.9 479.5,231.9 481.5,231.9 483.5,231.9 485.5,231.9 487.5,231.9 489.5,231.9 491.5,232.0 493.5,232.0 495.5,232.0 497.5,232.0 499.5,232.0 501.5,232.0 503.5,232.0 505.5,232.0 507.5,232.0 509.5,232.0 511.5,232.0 513.5,232.0 515.5,232.0 L515.5,232.0 L323.5,232.0Z" fill="#2e8b3c" stroke="none" stroke-width="1" />
<line x1="155" y1="232" x2="505" y2="232" stroke="#3d9a62" stroke-width="1.4" />
<path d="M185.5,231.9 187.5,231.9 189.5,231.9 191.5,231.9 193.5,231.9 195.5,231.9 197.5,231.8 199.5,231.8 201.5,231.8 203.5,231.8 205.5,231.7 207.5,231.7 209.5,231.6 211.5,231.6 213.5,231.5 215.5,231.5 217.5,231.4 219.5,231.3 221.5,231.2 223.5,231.1 225.5,231.0 227.5,230.9 229.5,230.7 231.5,230.6 233.5,230.4 235.5,230.3 237.5,230.1 239.5,229.9 241.5,229.6 243.5,229.4 245.5,229.1 247.5,228.8 249.5,228.5 251.5,228.1 253.5,227.8 255.5,227.4 257.5,226.9 259.5,226.5 261.5,226.0 263.5,225.5 265.5,224.9 267.5,224.3 269.5,223.7 271.5,223.1 273.5,222.4 275.5,221.7 277.5,220.9 279.5,220.1 281.5,219.3 283.5,218.4 285.5,217.5 287.5,216.6 289.5,215.7 291.5,214.7 293.5,213.7 295.5,212.7 297.5,211.6 299.5,210.6 301.5,209.5 303.5,208.4 305.5,207.3 307.5,206.2 309.5,205.1 311.5,204.0 313.5,202.9 315.5,201.8 317.5,200.7 319.5,199.7 321.5,198.6 323.5,197.6 325.5,196.7 327.5,195.7 329.5,194.8 331.5,194.0 333.5,193.2 335.5,192.5 337.5,191.8 339.5,191.2 341.5,190.6 343.5,190.1 345.5,189.7 347.5,189.3 349.5,189.1 351.5,188.9 353.5,188.7 355.5,188.7 357.5,188.7 359.5,188.8 361.5,189.0 363.5,189.3 365.5,189.6 367.5,190.0 369.5,190.5 371.5,191.0 373.5,191.6 375.5,192.3 377.5,193.0 379.5,193.8 381.5,194.7 383.5,195.5 385.5,196.5 387.5,197.4 389.5,198.4 391.5,199.4 393.5,200.5 395.5,201.6 397.5,202.6 399.5,203.7 401.5,204.9 403.5,206.0 405.5,207.1 407.5,208.2 409.5,209.3 411.5,210.3 413.5,211.4 415.5,212.5 417.5,213.5 419.5,214.5 421.5,215.5 423.5,216.4 425.5,217.4 427.5,218.3 429.5,219.1 431.5,219.9 433.5,220.7 435.5,221.5 437.5,222.2 439.5,222.9 441.5,223.6 443.5,224.2 445.5,224.8 447.5,225.4 449.5,225.9 451.5,226.4 453.5,226.8 455.5,227.3 457.5,227.7 459.5,228.1 461.5,228.4 463.5,228.7 465.5,229.0 467.5,229.3 469.5,229.6 471.5,229.8 473.5,230.0 475.5,230.2 477.5,230.4 479.5,230.6 481.5,230.7 483.5,230.9 485.5,231.0 487.5,231.1 489.5,231.2 491.5,231.3 493.5,231.4 495.5,231.4 497.5,231.5 499.5,231.6 501.5,231.6 503.5,231.7 505.5,231.7 507.5,231.7 509.5,231.8 511.5,231.8 513.5,231.8 515.5,231.9 517.5,231.9 519.5,231.9 521.5,231.9 523.5,231.9 525.5,231.9" fill="none" stroke="#2b3cf0" stroke-width="1.1" />
<path d="M41.5,231.4 42.0,232.9 42.6,234.0 43.1,233.1 43.7,232.9 44.2,231.7 44.8,232.3 45.4,233.3 45.9,233.3 46.5,233.7 47.0,230.7 47.5,235.0 48.1,234.0 48.6,232.5 49.2,230.9 49.8,233.9 50.3,233.7 50.9,232.2 51.4,231.9 52.0,233.5 52.5,233.0 53.0,231.0 53.6,231.5 54.1,233.5 54.7,231.0 55.2,233.5 55.8,233.2 56.4,233.0 56.9,230.7 57.5,231.7 58.0,231.5 58.5,230.3 59.1,234.1 59.7,233.6 60.2,231.8 60.8,230.1 61.3,234.3 61.9,229.9 62.4,231.8 63.0,230.0 63.5,231.7 64.0,233.1 64.6,230.0 65.2,234.1 65.7,231.1 66.2,232.9 66.8,233.7 67.3,232.6 67.9,231.7 68.5,231.4 69.0,231.3 69.5,231.1 70.1,232.0 70.7,231.6 71.2,231.2 71.8,231.9 72.3,233.6 72.8,233.6 73.4,231.1 74.0,232.5 74.5,230.7 75.1,234.7 75.6,231.9 76.2,230.6 76.7,234.8 77.2,230.9 77.8,234.0 78.3,231.8 78.9,231.3 79.5,231.2 80.0,231.6 80.6,230.3 81.1,233.3 81.7,233.5 82.2,231.1 82.8,232.0 83.3,232.0 83.8,231.6 84.4,232.6 85.0,232.5 85.5,231.4 86.1,231.7 86.6,230.7 87.2,231.3 87.7,232.9 88.2,234.7 88.8,231.0 89.3,230.3 89.9,231.8 90.5,231.3 91.0,231.5 91.6,228.7 92.1,234.7 92.7,233.2 93.2,233.0 93.8,233.6 94.3,232.4 94.8,234.9 95.4,231.9 96.0,231.7 96.5,231.8 97.1,230.5 97.6,231.2 98.2,230.4 98.7,232.4 99.2,230.4 99.8,232.7 100.3,231.6 100.9,230.6 101.5,230.7 102.0,232.3 102.6,232.8 103.1,230.6 103.7,232.1 104.2,233.8 104.8,230.3 105.3,231.0 105.9,231.8 106.4,233.1 107.0,232.6 107.5,231.6 108.1,232.7 108.6,230.2 109.2,231.5 109.7,230.8 110.2,231.0 110.8,229.8 111.4,232.8 111.9,230.2 112.5,230.2 113.0,231.7 113.6,229.5 114.1,229.4 114.7,231.1 115.2,230.3 115.8,231.1 116.3,231.8 116.9,229.6 117.4,231.9 118.0,233.5 118.5,233.7 119.1,231.9 119.6,232.3 120.2,230.1 120.7,233.5 121.2,232.6 121.8,231.7 122.4,230.5 122.9,231.5 123.5,230.9 124.0,232.6 124.6,234.3 125.1,232.2 125.7,231.6 126.2,231.4 126.8,232.0 127.3,230.2 127.9,233.3 128.4,234.0 128.9,232.5 129.5,230.2 130.1,231.7 130.6,228.9 131.2,231.3 131.7,231.6 132.2,230.3 132.8,230.4 133.4,233.5 133.9,231.2 134.4,233.0 135.0,231.2 135.6,231.3 136.1,232.2 136.7,232.4 137.2,229.7 137.8,232.6 138.3,231.1 138.9,231.7 139.4,232.5 139.9,230.2 140.5,230.1 141.1,235.1 141.6,233.0 142.2,230.9 142.7,231.2 143.2,232.0 143.8,231.2 144.4,231.0 144.9,231.2 145.4,231.7 146.0,233.7 146.6,232.6 147.1,231.2 147.7,231.5 148.2,234.0 148.8,230.9 149.3,229.6 149.9,228.8 150.4,231.4 150.9,231.9 151.5,232.1 152.1,230.4 152.6,232.1 153.2,230.8 153.7,231.0 154.2,229.7 154.8,230.5 155.4,232.4 155.9,234.0 156.4,230.5 157.0,232.4 157.6,230.8 158.1,228.5 158.7,232.5 159.2,233.6 159.8,229.0 160.3,230.6 160.9,229.2 161.4,229.7 161.9,230.9 162.5,228.0 163.1,232.1 163.6,228.8 164.2,231.7 164.7,232.5 165.2,231.8 165.8,230.7 166.4,230.3 166.9,230.0 167.5,234.5 168.0,231.4 168.6,228.6 169.1,234.6 169.7,231.3 170.2,230.9 170.8,230.6 171.3,231.3 171.9,230.9 172.4,230.3 173.0,229.2 173.5,230.4 174.1,229.8 174.6,230.0 175.2,230.2 175.7,228.6 176.2,231.1 176.8,227.2 177.4,227.6 177.9,231.2 178.5,231.7 179.0,227.3 179.6,227.6 180.1,232.4 180.7,231.5 181.2,231.4 181.8,230.2 182.3,231.9 182.9,231.9 183.4,228.4 184.0,228.9 184.5,231.6 185.1,230.6 185.6,232.7 186.2,229.3 186.7,232.0 187.2,227.8 187.8,231.2 188.4,227.4 188.9,231.2 189.5,229.8 190.0,230.5 190.6,229.6 191.1,230.3 191.7,228.2 192.2,233.2 192.8,230.7 193.3,231.3 193.9,229.2 194.4,226.8 195.0,226.4 195.5,229.2 196.1,227.8 196.6,228.0 197.2,229.4 197.7,231.2 198.2,229.1 198.8,227.9 199.4,228.4 199.9,228.6 200.5,231.0 201.0,228.4 201.6,228.7 202.1,228.5 202.7,226.5 203.2,230.2 203.8,228.1 204.3,227.7 204.9,227.5 205.4,227.2 206.0,228.0 206.5,227.6 207.1,230.4 207.6,224.1 208.2,228.3 208.7,228.6 209.2,225.9 209.8,227.9 210.4,227.3 210.9,229.7 211.5,226.3 212.0,227.1 212.6,227.6 213.1,226.5 213.7,225.8 214.2,226.0 214.8,224.2 215.3,225.2 215.9,226.9 216.4,223.9 217.0,222.3 217.5,226.7 218.1,224.4 218.6,227.3 219.2,224.2 219.7,220.8 220.3,224.3 220.8,225.2 221.4,223.7 221.9,222.8 222.5,222.7 223.0,223.1 223.6,222.8 224.1,224.8 224.7,224.0 225.2,220.8 225.8,224.0 226.3,222.8 226.9,224.8 227.4,223.6 228.0,222.6 228.5,221.4 229.1,221.2 229.6,223.4 230.2,223.8 230.7,222.6 231.3,222.2 231.8,222.5 232.4,220.9 232.9,220.4 233.5,219.4 234.0,218.6 234.6,221.5 235.1,219.5 235.7,219.5 236.2,221.0 236.8,219.4 237.3,221.6 237.9,219.1 238.4,219.7 239.0,218.5 239.5,220.6 240.1,219.1 240.6,220.1 241.2,219.6 241.7,218.7 242.3,219.3 242.8,220.0 243.4,218.2 243.9,220.3 244.5,218.3 245.0,217.0 245.6,218.2 246.1,219.0 246.7,215.6 247.2,217.7 247.8,217.2 248.3,216.1 248.9,217.5 249.4,215.0 250.0,216.5 250.5,215.7 251.1,213.4 251.6,217.2 252.2,216.9 252.7,216.5 253.3,211.6 253.8,216.7 254.4,214.5 254.9,213.1 255.5,214.4 256.0,214.8 256.6,214.7 257.1,212.2 257.6,216.2 258.2,215.1 258.8,213.9 259.3,212.1 259.9,213.2 260.4,212.1 261.0,211.9 261.5,214.0 262.1,213.5 262.6,212.4 263.1,216.5 263.7,212.8 264.2,212.2 264.8,213.3 265.4,211.0 265.9,212.1 266.5,213.5 267.0,210.2 267.6,211.9 268.1,212.1 268.6,210.1 269.2,211.7 269.8,211.6 270.3,210.4 270.9,212.1 271.4,211.3 272.0,209.8 272.5,210.3 273.1,210.1 273.6,212.3 274.1,207.5 274.7,211.0 275.2,211.3 275.8,208.1 276.4,209.6 276.9,209.7 277.5,210.0 278.0,210.2 278.6,209.8 279.1,207.7 279.6,208.8 280.2,207.5 280.8,209.2 281.3,208.9 281.9,208.2 282.4,207.1 283.0,208.9 283.5,207.8 284.1,208.1 284.6,205.3 285.1,207.5 285.7,206.5 286.2,208.1 286.8,210.3 287.4,208.3 287.9,206.8 288.5,205.8 289.0,205.1 289.6,207.0 290.1,208.6 290.7,209.9 291.2,204.2 291.8,205.6 292.3,206.9 292.9,206.1 293.4,205.2 294.0,204.0 294.5,204.2 295.1,204.6 295.6,207.4 296.2,204.9 296.7,204.3 297.2,202.6 297.8,206.6 298.4,203.2 298.9,204.9 299.5,204.5 300.0,205.3 300.6,202.6 301.1,202.7 301.7,200.0 302.2,201.8 302.8,200.3 303.3,203.4 303.9,201.9 304.4,200.6 305.0,203.4 305.5,201.4 306.1,201.1 306.6,201.6 307.2,200.6 307.7,202.1 308.2,200.0 308.8,200.0 309.4,199.6 309.9,201.3 310.5,199.3 311.0,197.8 311.6,199.4 312.1,199.1 312.7,199.2 313.2,200.5 313.8,200.6 314.3,194.3 314.9,199.1 315.4,198.6 316.0,197.6 316.5,198.1 317.1,197.9 317.6,194.6 318.2,197.2 318.7,196.8 319.2,195.9 319.8,196.4 320.4,196.1 320.9,196.5 321.5,197.4 322.0,195.5 322.6,196.0 323.1,196.6 323.7,196.1 324.2,193.4 324.8,199.1 325.3,193.9 325.9,193.1 326.4,192.8 327.0,193.4 327.5,192.5 328.1,194.5 328.6,195.4 329.2,194.0 329.7,194.0 330.2,192.0 330.8,189.6 331.4,189.6 331.9,192.5 332.5,190.4 333.0,194.3 333.6,193.5 334.1,193.1 334.7,191.2 335.2,189.8 335.8,190.5 336.3,191.7 336.9,189.8 337.4,188.8 338.0,188.6 338.5,187.0 339.1,191.1 339.6,190.4 340.2,187.4 340.7,189.8 341.2,191.5 341.8,188.2 342.4,188.7 342.9,189.4 343.5,188.7 344.0,189.4 344.6,188.1 345.1,187.1 345.7,188.1 346.2,189.5 346.8,188.6 347.3,188.7 347.9,190.4 348.4,185.8 349.0,189.5 349.5,186.3 350.1,187.9 350.6,187.6 351.2,186.1 351.7,187.0 352.2,189.7 352.8,187.5 353.4,189.1 353.9,189.3 354.5,186.6 355.0,187.6 355.6,187.0 356.1,189.6 356.7,187.9 357.2,187.3 357.8,187.7 358.3,187.6 358.9,188.8 359.4,188.7 360.0,188.9 360.5,189.4 361.1,187.9 361.6,188.2 362.2,189.3 362.7,190.9 363.2,189.1 363.8,189.9 364.4,190.7 364.9,190.8 365.5,188.2 366.0,187.7 366.6,188.6 367.1,188.1 367.7,190.2 368.2,187.3 368.8,186.9 369.3,189.3 369.9,190.2 370.4,190.8 371.0,187.6 371.5,192.4 372.1,189.2 372.6,193.3 373.2,190.1 373.7,191.0 374.2,188.6 374.8,193.3 375.4,192.5 375.9,190.8 376.5,191.9 377.0,190.9 377.6,190.6 378.1,192.6 378.7,192.3 379.2,193.9 379.8,192.5 380.3,194.9 380.9,195.7 381.4,194.2 382.0,194.8 382.5,193.7 383.1,192.3 383.6,193.9 384.2,195.0 384.7,194.4 385.2,197.0 385.8,195.1 386.4,193.4 386.9,197.8 387.5,194.5 388.0,197.9 388.6,197.8 389.1,195.9 389.7,197.8 390.2,197.2 390.8,196.6 391.3,198.9 391.9,197.2 392.4,198.0 393.0,200.1 393.5,197.4 394.1,198.5 394.6,197.9 395.2,201.7 395.7,199.1 396.3,201.1 396.8,200.4 397.4,200.4 397.9,200.8 398.5,202.2 399.0,201.1 399.6,203.9 400.1,203.6 400.7,201.6 401.2,204.7 401.8,203.4 402.3,203.8 402.9,204.0 403.4,204.8 404.0,204.8 404.5,204.6 405.1,205.5 405.6,207.2 406.2,205.0 406.7,205.7 407.3,207.6 407.8,203.7 408.4,205.7 408.9,207.2 409.5,207.3 410.0,206.2 410.6,207.4 411.1,207.9 411.7,209.8 412.2,206.0 412.8,210.6 413.3,210.2 413.9,209.1 414.4,208.4 415.0,210.9 415.5,211.9 416.1,210.9 416.6,209.8 417.2,211.3 417.7,211.0 418.3,211.1 418.8,209.2 419.4,214.4 419.9,212.0 420.5,213.3 421.0,213.7 421.6,213.1 422.1,213.3 422.7,211.7 423.2,209.6 423.8,214.6 424.3,215.2 424.9,214.0 425.4,217.7 426.0,215.3 426.5,216.2 427.1,219.1 427.6,214.6 428.2,216.9 428.7,218.4 429.3,218.1 429.8,217.3 430.4,215.7 430.9,217.8 431.5,219.4 432.0,217.8 432.6,216.9 433.1,215.1 433.7,218.4 434.2,220.9 434.8,219.9 435.3,219.9 435.9,220.6 436.4,220.0 437.0,219.1 437.5,221.4 438.1,222.9 438.6,220.2 439.2,221.9 439.7,221.1 440.3,223.8 440.8,221.9 441.4,221.8 441.9,222.1 442.5,221.9 443.0,218.7 443.6,223.0 444.1,222.9 444.7,221.0 445.2,223.2 445.8,223.8 446.3,223.6 446.9,223.8 447.4,224.5 448.0,226.5 448.5,224.0 449.1,225.7 449.6,226.1 450.2,222.0 450.7,225.0 451.3,225.7 451.8,225.7 452.4,224.1 452.9,225.2 453.5,225.5 454.0,224.3 454.6,225.5 455.1,225.0 455.7,224.1 456.2,226.6 456.8,226.6 457.3,225.1 457.9,228.3 458.4,227.9 459.0,227.5 459.5,230.0 460.1,227.3 460.6,228.7 461.2,226.7 461.7,227.3 462.3,229.8 462.8,228.6 463.4,225.5 463.9,230.6 464.5,228.9 465.0,230.5 465.6,229.0 466.1,228.7 466.7,230.5 467.2,230.9 467.8,228.1 468.3,228.3 468.9,230.8 469.4,226.8 470.0,231.0 470.5,229.1 471.1,231.5 471.6,226.0 472.2,227.6 472.7,230.9 473.3,229.7 473.8,229.6 474.4,229.5 474.9,231.9 475.5,229.7 476.0,230.3 476.6,230.1 477.1,230.5 477.7,232.6 478.2,228.7 478.8,229.0 479.3,229.0 479.9,231.8 480.4,229.1 481.0,232.1 481.5,229.9 482.1,231.5 482.6,230.2 483.2,231.1 483.7,230.5 484.3,229.3 484.8,229.5 485.4,231.2 485.9,231.0 486.5,230.6 487.0,229.3 487.6,229.0 488.1,230.2 488.7,233.0 489.2,229.0 489.8,231.0 490.3,232.3 490.9,233.6 491.4,230.9 492.0,230.8 492.5,231.9 493.1,231.9 493.6,231.7 494.2,229.5 494.7,229.6 495.3,231.7 495.8,229.5 496.4,232.7 496.9,231.7 497.5,231.3 498.0,231.9 498.6,231.1 499.1,232.4 499.7,230.5 500.2,232.7 500.8,231.4 501.3,230.3 501.9,233.4 502.4,229.5 503.0,231.8 503.5,231.4 504.1,231.7 504.6,229.1 505.2,231.6 505.7,231.7 506.3,230.9 506.8,232.4 507.4,232.9 507.9,232.6 508.5,228.8 509.0,231.9 509.6,232.4 510.1,232.0 510.7,231.8 511.2,232.8 511.8,230.8 512.3,231.8 512.9,232.8 513.4,231.2 514.0,233.2 514.5,232.3 515.0,232.9 515.6,232.6 516.2,231.9 516.7,231.1 517.2,232.6 517.8,232.4 518.4,231.4 518.9,230.4 519.5,230.2 520.0,230.2 520.5,231.7 521.1,231.5 521.7,231.5 522.2,231.2 522.8,234.7 523.3,231.1 523.9,231.8 524.4,231.6 525.0,229.5 525.5,232.6 526.0,232.4 526.6,230.9 527.2,232.1 527.7,232.0 528.2,231.4 528.8,231.9 529.4,231.8 529.9,230.0 530.5,232.4 531.0,233.2 531.5,231.4 532.1,233.7 532.7,231.7 533.2,231.6 533.8,231.9 534.3,231.9 534.9,230.3 535.4,232.3 536.0,231.9 536.5,232.5 537.1,232.9 537.6,233.0 538.2,232.7 538.7,232.2 539.2,230.7 539.8,232.3 540.4,233.9 540.9,229.5 541.5,231.6 542.0,232.1 542.6,232.9 543.1,232.0 543.7,232.8 544.2,231.0 544.8,232.5 545.3,230.2 545.9,232.0 546.4,233.7 547.0,234.5 547.5,230.0 548.1,233.2 548.6,230.9 549.2,231.9 549.7,232.8 550.2,231.7 550.8,231.5 551.4,230.1 551.9,233.8 552.5,232.1 553.0,228.8 553.6,230.4 554.1,234.9 554.7,233.5 555.2,231.6 555.8,231.9 556.3,230.7 556.9,230.7 557.4,232.0 558.0,232.4 558.5,231.5 559.1,230.6 559.6,230.7 560.2,231.1 560.7,233.3 561.2,231.0 561.8,234.0 562.4,232.2 562.9,230.7 563.5,231.5 564.0,233.4 564.6,230.1 565.1,230.8 565.7,231.5 566.2,231.3 566.8,228.9 567.3,230.1 567.9,231.6 568.4,231.8 569.0,232.7 569.5,232.4 570.1,233.7 570.6,228.2 571.2,232.6 571.7,231.8 572.2,231.4 572.8,233.1 573.4,232.4 573.9,232.1 574.5,230.6 575.0,230.6 575.6,231.8 576.1,230.8 576.7,233.4 577.2,231.2 577.8,231.5 578.3,230.8 578.9,232.6 579.4,229.8 580.0,232.6 580.5,233.8 581.1,232.0 581.6,232.5 582.2,232.5 582.7,232.6 583.2,231.3 583.8,231.2 584.4,228.6 584.9,231.5 585.5,230.7 586.0,230.5 586.6,232.2 587.1,233.0 587.7,232.4 588.2,232.7 588.8,231.3 589.3,228.9 589.9,231.1 590.4,233.8 591.0,232.3 591.5,232.1 592.1,234.3 592.6,230.9 593.2,233.0 593.7,233.0 594.2,231.6 594.8,230.4 595.4,233.1 595.9,232.5 596.5,231.5 597.0,231.2 597.6,231.4 598.1,229.9 598.7,234.6 599.2,230.7 599.8,230.2 600.3,231.3 600.9,231.8 601.4,231.6 602.0,231.3 602.5,231.0 603.1,231.3 603.6,228.2 604.2,231.6 604.7,230.9 605.2,231.2 605.8,232.5 606.4,231.6 606.9,230.8 607.5,231.4 608.0,231.8 608.6,231.7 609.1,230.7 609.7,232.7 610.2,230.0 610.8,232.4 611.3,229.9 611.9,233.0 612.4,233.1 613.0,230.8 613.5,228.7 614.1,231.6 614.6,229.5 615.2,232.0 615.7,232.0 616.2,229.6 616.8,231.0 617.4,233.3 617.9,230.1 618.5,231.1 619.0,232.8 619.6,232.3 620.1,234.7 620.7,233.5 621.2,230.6 621.8,233.2 622.3,228.3 622.9,232.3 623.4,231.1 624.0,232.3 624.5,231.4 625.1,232.4 625.6,230.9 626.2,232.4 626.7,231.5 627.2,233.7 627.8,230.3 628.4,229.9 628.9,232.4 629.5,231.7 630.0,232.3 630.6,232.2 631.1,231.8 631.7,231.5 632.2,232.0 632.8,231.4 633.3,233.3 633.9,233.2 634.4,230.9 635.0,233.0 635.5,230.2 636.1,228.4 636.6,229.4 637.2,231.8 637.7,232.0 638.2,232.4 638.8,233.5 639.4,233.1 639.9,230.6 640.5,231.7 641.0,231.8 641.6,232.4 642.1,232.9 642.7,233.7 643.2,233.3 643.8,230.0 644.3,234.2" fill="none" stroke="#3a3a3a" stroke-width="0.8" />
<path d="M41.5,231.9 43.5,231.9 45.5,231.9 47.5,231.9 49.5,231.9 51.5,231.8 53.5,231.8 55.5,231.8 57.5,231.8 59.5,231.8 61.5,231.8 63.5,231.8 65.5,231.8 67.5,231.8 69.5,231.8 71.5,231.8 73.5,231.8 75.5,231.8 77.5,231.8 79.5,231.8 81.5,231.8 83.5,231.8 85.5,231.8 87.5,231.8 89.5,231.8 91.5,231.8 93.5,231.8 95.5,231.8 97.5,231.8 99.5,231.8 101.5,231.7 103.5,231.7 105.5,231.7 107.5,231.7 109.5,231.7 111.5,231.7 113.5,231.7 115.5,231.7 117.5,231.7 119.5,231.7 121.5,231.7 123.5,231.7 125.5,231.6 127.5,231.6 129.5,231.6 131.5,231.6 133.5,231.6 135.5,231.6 137.5,231.6 139.5,231.5 141.5,231.5 143.5,231.5 145.5,231.5 147.5,231.5 149.5,231.4 151.5,231.4 153.5,231.4 155.5,231.3 157.5,231.3 159.5,231.2 161.5,231.2 163.5,231.1 165.5,231.1 167.5,231.0 169.5,230.9 171.5,230.8 173.5,230.8 175.5,230.7 177.5,230.5 179.5,230.4 181.5,230.3 183.5,230.1 185.5,230.0 187.5,229.8 189.5,229.6 191.5,229.4 193.5,229.2 195.5,229.0 197.5,228.7 199.5,228.4 201.5,228.1 203.5,227.8 205.5,227.5 207.5,227.1 209.5,226.8 211.5,226.4 213.5,226.0 215.5,225.5 217.5,225.1 219.5,224.6 221.5,224.2 223.5,223.7 225.5,223.1 227.5,222.6 229.5,222.1 231.5,221.5 233.5,220.9 235.5,220.4 237.5,219.8 239.5,219.2 241.5,218.6 243.5,218.0 245.5,217.5 247.5,216.9 249.5,216.3 251.5,215.8 253.5,215.2 255.5,214.7 257.5,214.2 259.5,213.7 261.5,213.2 263.5,212.7 265.5,212.3 267.5,211.8 269.5,211.4 271.5,210.9 273.5,210.5 275.5,210.0 277.5,209.6 279.5,209.1 281.5,208.6 283.5,208.2 285.5,207.6 287.5,207.1 289.5,206.6 291.5,206.0 293.5,205.4 295.5,204.8 297.5,204.2 299.5,203.5 301.5,202.8 303.5,202.1 305.5,201.4 307.5,200.6 309.5,199.9 311.5,199.1 313.5,198.3 315.5,197.6 317.5,196.8 319.5,196.0 321.5,195.2 323.5,194.5 325.5,193.7 327.5,193.0 329.5,192.3 331.5,191.7 333.5,191.1 335.5,190.5 337.5,190.0 339.5,189.5 341.5,189.0 343.5,188.7 345.5,188.3 347.5,188.1 349.5,187.9 351.5,187.8 353.5,187.7 355.5,187.7 357.5,187.8 359.5,187.9 361.5,188.1 363.5,188.4 365.5,188.7 367.5,189.2 369.5,189.6 371.5,190.2 373.5,190.8 375.5,191.4 377.5,192.1 379.5,192.9 381.5,193.7 383.5,194.5 385.5,195.4 387.5,196.3 389.5,197.2 391.5,198.2 393.5,199.2 395.5,200.2 397.5,201.2 399.5,202.3 401.5,203.3 403.5,204.4 405.5,205.4 407.5,206.5 409.5,207.6 411.5,208.6 413.5,209.7 415.5,210.7 417.5,211.7 419.5,212.7 421.5,213.7 423.5,214.7 425.5,215.7 427.5,216.6 429.5,217.5 431.5,218.4 433.5,219.2 435.5,220.0 437.5,220.8 439.5,221.6 441.5,222.3 443.5,223.0 445.5,223.7 447.5,224.3 449.5,224.9 451.5,225.5 453.5,226.0 455.5,226.5 457.5,227.0 459.5,227.4 461.5,227.8 463.5,228.2 465.5,228.5 467.5,228.9 469.5,229.2 471.5,229.4 473.5,229.7 475.5,229.9 477.5,230.1 479.5,230.3 481.5,230.5 483.5,230.6 485.5,230.8 487.5,230.9 489.5,231.0 491.5,231.1 493.5,231.2 495.5,231.3 497.5,231.4 499.5,231.4 501.5,231.5 503.5,231.5 505.5,231.6 507.5,231.6 509.5,231.7 511.5,231.7 513.5,231.7 515.5,231.7 517.5,231.8 519.5,231.8 521.5,231.8 523.5,231.8 525.5,231.8 527.5,231.8 529.5,231.9 531.5,231.9 533.5,231.9 535.5,231.9 537.5,231.9 539.5,231.9 541.5,231.9 543.5,231.9 545.5,231.9 547.5,231.9 549.5,231.9 551.5,231.9 553.5,231.9 555.5,231.9 557.5,231.9 559.5,231.9 561.5,231.9 563.5,231.9 565.5,231.9 567.5,231.9 569.5,231.9 571.5,231.9 573.5,231.9 575.5,231.9 577.5,231.9 579.5,231.9 581.5,231.9 583.5,231.9 585.5,231.9 587.5,231.9 589.5,231.9 591.5,231.9 593.5,231.9 595.5,231.9 597.5,231.9 599.5,231.9 601.5,231.9 603.5,231.9 605.5,231.9 607.5,231.9 609.5,231.9 611.5,231.9 613.5,231.9 615.5,231.9 617.5,231.9 619.5,231.9 621.5,231.9 623.5,231.9 625.5,231.9 627.5,231.9 629.5,231.9 631.5,232.0 633.5,232.0 635.5,232.0 637.5,232.0 639.5,232.0 641.5,232.0 643.5,232.0" fill="none" stroke="#a374e6" stroke-width="1.3" />
<text x="668.8" y="238.2" font-size="32.3" textLength="103.95" lengthAdjust="spacingAndGlyphs" >−0.05 V</text>
<path d="M109.5,293.1 111.5,293.1 113.5,293.1 115.5,293.1 117.5,293.1 119.5,293.1 121.5,293.0 123.5,293.0 125.5,293.0 127.5,293.0 129.5,293.0 131.5,293.0 133.5,293.0 135.5,293.0 137.5,292.9 139.5,292.9 141.5,292.9 143.5,292.9 145.5,292.9 147.5,292.8 149.5,292.8 151.5,292.8 153.5,292.7 155.5,292.7 157.5,292.7 159.5,292.6 161.5,292.6 163.5,292.5 165.5,292.4 167.5,292.4 169.5,292.3 171.5,292.2 173.5,292.1 175.5,292.0 177.5,291.9 179.5,291.8 181.5,291.6 183.5,291.5 185.5,291.3 187.5,291.2 189.5,291.0 191.5,290.8 193.5,290.5 195.5,290.3 197.5,290.1 199.5,289.8 201.5,289.5 203.5,289.2 205.5,288.9 207.5,288.6 209.5,288.2 211.5,287.9 213.5,287.5 215.5,287.1 217.5,286.7 219.5,286.3 221.5,285.9 223.5,285.5 225.5,285.0 227.5,284.6 229.5,284.2 231.5,283.7 233.5,283.3 235.5,282.9 237.5,282.5 239.5,282.1 241.5,281.7 243.5,281.4 245.5,281.0 247.5,280.8 249.5,280.5 251.5,280.3 253.5,280.1 255.5,279.9 257.5,279.9 259.5,279.8 261.5,279.8 263.5,279.9 265.5,279.9 267.5,280.1 269.5,280.3 271.5,280.5 273.5,280.8 275.5,281.0 277.5,281.4 279.5,281.7 281.5,282.1 283.5,282.5 285.5,282.9 287.5,283.3 289.5,283.7 291.5,284.2 293.5,284.6 295.5,285.0 297.5,285.5 299.5,285.9 301.5,286.3 303.5,286.7 305.5,287.1 307.5,287.5 309.5,287.9 311.5,288.2 313.5,288.6 315.5,288.9 317.5,289.2 319.5,289.5 321.5,289.8 323.5,290.1 325.5,290.3 327.5,290.5 329.5,290.8 331.5,291.0 333.5,291.2 335.5,291.3 337.5,291.5 339.5,291.6 341.5,291.8 343.5,291.9 345.5,292.0 347.5,292.1 349.5,292.2 351.5,292.3 353.5,292.4 355.5,292.4 357.5,292.5 359.5,292.6 361.5,292.6 363.5,292.7 365.5,292.7 367.5,292.7 369.5,292.8 371.5,292.8 373.5,292.8 375.5,292.9 377.5,292.9 379.5,292.9 381.5,292.9 383.5,292.9 385.5,293.0 387.5,293.0 389.5,293.0 391.5,293.0 393.5,293.0 395.5,293.0 397.5,293.0 399.5,293.0 401.5,293.1 403.5,293.1 405.5,293.1 407.5,293.1 409.5,293.1 411.5,293.1 L411.5,293.4 L109.5,293.4Z" fill="#ee3a44" stroke="none" stroke-width="1" />
<path d="M187.5,293.3 189.5,293.3 191.5,293.3 193.5,293.3 195.5,293.3 197.5,293.3 199.5,293.2 201.5,293.2 203.5,293.2 205.5,293.1 207.5,293.1 209.5,293.1 211.5,293.0 213.5,293.0 215.5,292.9 217.5,292.8 219.5,292.8 221.5,292.7 223.5,292.6 225.5,292.5 227.5,292.4 229.5,292.3 231.5,292.1 233.5,292.0 235.5,291.8 237.5,291.6 239.5,291.4 241.5,291.2 243.5,291.0 245.5,290.7 247.5,290.4 249.5,290.1 251.5,289.8 253.5,289.4 255.5,289.0 257.5,288.6 259.5,288.2 261.5,287.7 263.5,287.2 265.5,286.7 267.5,286.1 269.5,285.5 271.5,284.9 273.5,284.2 275.5,283.5 277.5,282.8 279.5,282.0 281.5,281.2 283.5,280.4 285.5,279.5 287.5,278.6 289.5,277.7 291.5,276.8 293.5,275.8 295.5,274.8 297.5,273.7 299.5,272.7 301.5,271.7 303.5,270.6 305.5,269.5 307.5,268.4 309.5,267.3 311.5,266.3 313.5,265.2 315.5,264.1 317.5,263.1 319.5,262.1 321.5,261.0 323.5,260.1 325.5,259.1 327.5,258.2 329.5,257.4 331.5,256.6 333.5,255.8 335.5,255.1 337.5,254.4 339.5,253.8 341.5,253.3 343.5,252.8 345.5,252.5 347.5,252.1 349.5,251.9 351.5,251.7 353.5,251.6 355.5,251.6 357.5,251.7 359.5,251.8 361.5,252.0 363.5,252.3 365.5,252.6 367.5,253.1 369.5,253.6 371.5,254.1 373.5,254.7 375.5,255.4 377.5,256.2 379.5,257.0 381.5,257.8 383.5,258.7 385.5,259.6 387.5,260.6 389.5,261.5 391.5,262.6 393.5,263.6 395.5,264.7 397.5,265.7 399.5,266.8 401.5,267.9 403.5,269.0 405.5,270.0 407.5,271.1 409.5,272.2 411.5,273.2 413.5,274.3 415.5,275.3 417.5,276.3 419.5,277.2 421.5,278.2 423.5,279.1 425.5,280.0 427.5,280.8 429.5,281.6 431.5,282.4 433.5,283.2 435.5,283.9 437.5,284.6 439.5,285.2 441.5,285.8 443.5,286.4 445.5,287.0 447.5,287.5 449.5,288.0 451.5,288.4 453.5,288.8 455.5,289.2 457.5,289.6 459.5,289.9 461.5,290.3 463.5,290.6 465.5,290.8 467.5,291.1 469.5,291.3 471.5,291.5 473.5,291.7 475.5,291.9 477.5,292.0 479.5,292.2 481.5,292.3 483.5,292.4 485.5,292.5 487.5,292.6 489.5,292.7 491.5,292.8 493.5,292.9 495.5,292.9 497.5,293.0 499.5,293.0 501.5,293.1 503.5,293.1 505.5,293.2 507.5,293.2 509.5,293.2 511.5,293.2 513.5,293.3 515.5,293.3 517.5,293.3 519.5,293.3 521.5,293.3 L521.5,293.4 L187.5,293.4Z" fill="url(#gBlueA)" stroke="none" stroke-width="1" fill-opacity="0.5"/>
<path d="M323.5,293.4 325.5,293.4 327.5,293.4 329.5,293.4 331.5,293.4 333.5,293.4 335.5,293.4 337.5,293.4 339.5,293.4 341.5,293.4 343.5,293.3 345.5,293.3 347.5,293.3 349.5,293.3 351.5,293.3 353.5,293.3 355.5,293.2 357.5,293.2 359.5,293.2 361.5,293.1 363.5,293.1 365.5,293.0 367.5,293.0 369.5,292.9 371.5,292.9 373.5,292.8 375.5,292.7 377.5,292.6 379.5,292.5 381.5,292.4 383.5,292.3 385.5,292.2 387.5,292.1 389.5,292.0 391.5,291.9 393.5,291.8 395.5,291.7 397.5,291.6 399.5,291.5 401.5,291.4 403.5,291.3 405.5,291.2 407.5,291.1 409.5,291.1 411.5,291.0 413.5,291.0 415.5,290.9 417.5,290.9 419.5,290.9 421.5,290.9 423.5,290.9 425.5,291.0 427.5,291.0 429.5,291.1 431.5,291.2 433.5,291.2 435.5,291.3 437.5,291.4 439.5,291.5 441.5,291.6 443.5,291.7 445.5,291.9 447.5,292.0 449.5,292.1 451.5,292.2 453.5,292.3 455.5,292.4 457.5,292.5 459.5,292.6 461.5,292.7 463.5,292.8 465.5,292.8 467.5,292.9 469.5,293.0 471.5,293.0 473.5,293.1 475.5,293.1 477.5,293.2 479.5,293.2 481.5,293.2 483.5,293.3 485.5,293.3 487.5,293.3 489.5,293.3 491.5,293.3 493.5,293.3 495.5,293.4 497.5,293.4 499.5,293.4 501.5,293.4 503.5,293.4 505.5,293.4 507.5,293.4 509.5,293.4 511.5,293.4 513.5,293.4 515.5,293.4 L515.5,293.4 L323.5,293.4Z" fill="#2e8b3c" stroke="none" stroke-width="1" />
<line x1="155" y1="293.4" x2="505" y2="293.4" stroke="#3d9a62" stroke-width="1.4" />
<path d="M187.5,293.3 189.5,293.3 191.5,293.3 193.5,293.3 195.5,293.3 197.5,293.3 199.5,293.2 201.5,293.2 203.5,293.2 205.5,293.1 207.5,293.1 209.5,293.1 211.5,293.0 213.5,293.0 215.5,292.9 217.5,292.8 219.5,292.8 221.5,292.7 223.5,292.6 225.5,292.5 227.5,292.4 229.5,292.3 231.5,292.1 233.5,292.0 235.5,291.8 237.5,291.6 239.5,291.4 241.5,291.2 243.5,291.0 245.5,290.7 247.5,290.4 249.5,290.1 251.5,289.8 253.5,289.4 255.5,289.0 257.5,288.6 259.5,288.2 261.5,287.7 263.5,287.2 265.5,286.7 267.5,286.1 269.5,285.5 271.5,284.9 273.5,284.2 275.5,283.5 277.5,282.8 279.5,282.0 281.5,281.2 283.5,280.4 285.5,279.5 287.5,278.6 289.5,277.7 291.5,276.8 293.5,275.8 295.5,274.8 297.5,273.7 299.5,272.7 301.5,271.7 303.5,270.6 305.5,269.5 307.5,268.4 309.5,267.3 311.5,266.3 313.5,265.2 315.5,264.1 317.5,263.1 319.5,262.1 321.5,261.0 323.5,260.1 325.5,259.1 327.5,258.2 329.5,257.4 331.5,256.6 333.5,255.8 335.5,255.1 337.5,254.4 339.5,253.8 341.5,253.3 343.5,252.8 345.5,252.5 347.5,252.1 349.5,251.9 351.5,251.7 353.5,251.6 355.5,251.6 357.5,251.7 359.5,251.8 361.5,252.0 363.5,252.3 365.5,252.6 367.5,253.1 369.5,253.6 371.5,254.1 373.5,254.7 375.5,255.4 377.5,256.2 379.5,257.0 381.5,257.8 383.5,258.7 385.5,259.6 387.5,260.6 389.5,261.5 391.5,262.6 393.5,263.6 395.5,264.7 397.5,265.7 399.5,266.8 401.5,267.9 403.5,269.0 405.5,270.0 407.5,271.1 409.5,272.2 411.5,273.2 413.5,274.3 415.5,275.3 417.5,276.3 419.5,277.2 421.5,278.2 423.5,279.1 425.5,280.0 427.5,280.8 429.5,281.6 431.5,282.4 433.5,283.2 435.5,283.9 437.5,284.6 439.5,285.2 441.5,285.8 443.5,286.4 445.5,287.0 447.5,287.5 449.5,288.0 451.5,288.4 453.5,288.8 455.5,289.2 457.5,289.6 459.5,289.9 461.5,290.3 463.5,290.6 465.5,290.8 467.5,291.1 469.5,291.3 471.5,291.5 473.5,291.7 475.5,291.9 477.5,292.0 479.5,292.2 481.5,292.3 483.5,292.4 485.5,292.5 487.5,292.6 489.5,292.7 491.5,292.8 493.5,292.9 495.5,292.9 497.5,293.0 499.5,293.0 501.5,293.1 503.5,293.1 505.5,293.2 507.5,293.2 509.5,293.2 511.5,293.2 513.5,293.3 515.5,293.3 517.5,293.3 519.5,293.3 521.5,293.3" fill="none" stroke="#2b3cf0" stroke-width="1.1" />
<path d="M41.5,292.9 42.0,292.9 42.6,294.8 43.1,293.2 43.7,293.3 44.2,293.1 44.8,291.5 45.4,294.9 45.9,295.0 46.5,293.4 47.0,292.9 47.5,293.1 48.1,295.2 48.6,291.8 49.2,293.5 49.8,294.6 50.3,292.0 50.9,294.3 51.4,293.0 52.0,294.5 52.5,293.3 53.0,293.3 53.6,293.2 54.1,292.3 54.7,294.0 55.2,294.7 55.8,291.5 56.4,292.2 56.9,293.0 57.5,292.3 58.0,296.1 58.5,294.2 59.1,295.2 59.7,294.2 60.2,291.5 60.8,293.7 61.3,293.3 61.9,292.3 62.4,291.8 63.0,294.1 63.5,293.3 64.0,293.7 64.6,292.4 65.2,293.2 65.7,294.6 66.2,293.0 66.8,293.8 67.3,294.8 67.9,295.0 68.5,294.1 69.0,292.4 69.5,294.3 70.1,292.6 70.7,293.7 71.2,295.6 71.8,293.3 72.3,291.3 72.8,291.2 73.4,292.7 74.0,294.7 74.5,293.9 75.1,293.0 75.6,293.6 76.2,291.6 76.7,294.7 77.2,292.7 77.8,295.2 78.3,297.3 78.9,292.3 79.5,295.6 80.0,292.1 80.6,293.3 81.1,293.4 81.7,292.2 82.2,291.4 82.8,295.3 83.3,292.0 83.8,295.2 84.4,294.0 85.0,293.3 85.5,293.7 86.1,293.9 86.6,293.0 87.2,291.2 87.7,290.5 88.2,292.3 88.8,292.4 89.3,293.5 89.9,292.7 90.5,293.5 91.0,289.1 91.6,293.3 92.1,292.7 92.7,292.7 93.2,291.7 93.8,292.0 94.3,294.5 94.8,293.0 95.4,293.5 96.0,296.5 96.5,293.5 97.1,293.8 97.6,293.1 98.2,292.7 98.7,294.5 99.2,293.4 99.8,290.7 100.3,293.9 100.9,290.8 101.5,295.0 102.0,292.5 102.6,292.9 103.1,293.1 103.7,293.0 104.2,293.0 104.8,293.1 105.3,292.3 105.9,291.7 106.4,296.1 107.0,292.3 107.5,292.6 108.1,294.2 108.6,293.7 109.2,291.0 109.7,292.7 110.2,292.1 110.8,292.5 111.4,292.6 111.9,292.6 112.5,295.9 113.0,293.1 113.6,292.4 114.1,294.5 114.7,292.2 115.2,294.9 115.8,294.2 116.3,295.0 116.9,294.7 117.4,293.0 118.0,295.1 118.5,291.1 119.1,293.1 119.6,292.8 120.2,294.2 120.7,294.4 121.2,293.0 121.8,293.1 122.4,291.7 122.9,294.4 123.5,292.6 124.0,294.2 124.6,294.5 125.1,291.0 125.7,292.5 126.2,292.3 126.8,294.7 127.3,294.9 127.9,294.1 128.4,290.9 128.9,291.5 129.5,293.9 130.1,291.6 130.6,293.1 131.2,291.2 131.7,294.4 132.2,295.3 132.8,293.1 133.4,293.9 133.9,294.0 134.4,292.9 135.0,291.7 135.6,294.1 136.1,291.7 136.7,293.7 137.2,291.6 137.8,294.2 138.3,293.3 138.9,293.8 139.4,291.8 139.9,295.3 140.5,290.1 141.1,293.5 141.6,289.5 142.2,292.9 142.7,293.9 143.2,293.6 143.8,291.9 144.4,292.9 144.9,293.8 145.4,294.8 146.0,294.2 146.6,292.5 147.1,294.6 147.7,292.1 148.2,293.8 148.8,295.8 149.3,293.1 149.9,293.5 150.4,292.4 150.9,291.2 151.5,294.1 152.1,293.4 152.6,292.8 153.2,293.3 153.7,293.3 154.2,294.3 154.8,293.2 155.4,292.6 155.9,292.2 156.4,291.3 157.0,291.9 157.6,292.5 158.1,293.4 158.7,292.1 159.2,290.8 159.8,291.5 160.3,290.8 160.9,295.2 161.4,292.5 161.9,293.2 162.5,296.3 163.1,291.3 163.6,292.1 164.2,291.9 164.7,290.7 165.2,294.5 165.8,292.8 166.4,293.0 166.9,293.2 167.5,293.6 168.0,289.6 168.6,293.1 169.1,292.4 169.7,292.2 170.2,292.6 170.8,289.9 171.3,291.8 171.9,292.2 172.4,295.7 173.0,291.9 173.5,291.9 174.1,294.2 174.6,293.9 175.2,293.0 175.7,290.2 176.2,292.6 176.8,292.4 177.4,291.6 177.9,290.6 178.5,291.0 179.0,291.6 179.6,289.4 180.1,292.1 180.7,291.7 181.2,292.1 181.8,292.8 182.3,291.5 182.9,292.9 183.4,290.9 184.0,289.6 184.5,290.3 185.1,291.1 185.6,292.8 186.2,290.3 186.7,291.4 187.2,291.5 187.8,291.6 188.4,290.7 188.9,291.6 189.5,292.6 190.0,290.1 190.6,293.6 191.1,291.6 191.7,291.8 192.2,290.1 192.8,287.8 193.3,290.3 193.9,290.8 194.4,289.2 195.0,291.8 195.5,289.6 196.1,291.7 196.6,289.2 197.2,290.4 197.7,289.9 198.2,290.4 198.8,289.9 199.4,290.4 199.9,289.0 200.5,291.1 201.0,286.7 201.6,288.3 202.1,289.8 202.7,286.8 203.2,289.6 203.8,290.9 204.3,285.3 204.9,287.4 205.4,288.9 206.0,288.8 206.5,289.5 207.1,288.7 207.6,287.1 208.2,288.6 208.7,289.1 209.2,286.8 209.8,288.0 210.4,287.5 210.9,286.8 211.5,285.7 212.0,286.9 212.6,287.4 213.1,288.8 213.7,283.9 214.2,285.3 214.8,288.0 215.3,285.1 215.9,287.2 216.4,285.7 217.0,288.4 217.5,285.8 218.1,284.0 218.6,284.3 219.2,288.3 219.7,286.5 220.3,284.5 220.8,286.1 221.4,285.1 221.9,287.2 222.5,283.8 223.0,285.8 223.6,283.8 224.1,284.1 224.7,284.8 225.2,282.9 225.8,286.4 226.3,284.3 226.9,281.8 227.4,283.8 228.0,283.7 228.5,281.9 229.1,282.4 229.6,282.4 230.2,280.5 230.7,283.0 231.3,280.0 231.8,279.9 232.4,282.0 232.9,282.2 233.5,283.2 234.0,282.6 234.6,281.7 235.1,280.7 235.7,280.2 236.2,280.1 236.8,279.8 237.3,278.8 237.9,282.7 238.4,279.8 239.0,279.8 239.5,280.8 240.1,279.7 240.6,279.9 241.2,277.5 241.7,278.5 242.3,281.6 242.8,281.6 243.4,278.5 243.9,278.4 244.5,277.2 245.0,277.0 245.6,278.2 246.1,278.8 246.7,280.5 247.2,276.6 247.8,276.6 248.3,278.7 248.9,277.0 249.4,276.1 250.0,276.9 250.5,276.2 251.1,277.9 251.6,276.0 252.2,276.9 252.7,275.1 253.3,276.6 253.8,273.8 254.4,276.5 254.9,276.6 255.5,275.8 256.0,274.8 256.6,274.0 257.1,276.0 257.6,276.6 258.2,274.5 258.8,274.2 259.3,273.6 259.9,274.4 260.4,272.7 261.0,274.4 261.5,273.4 262.1,272.6 262.6,273.1 263.1,273.4 263.7,271.7 264.2,272.7 264.8,275.7 265.4,272.8 265.9,272.9 266.5,272.8 267.0,272.8 267.6,271.8 268.1,271.7 268.6,271.2 269.2,271.9 269.8,270.9 270.3,274.7 270.9,271.4 271.4,274.0 272.0,272.2 272.5,271.3 273.1,270.7 273.6,272.4 274.1,274.5 274.7,271.2 275.2,271.2 275.8,270.0 276.4,273.8 276.9,268.8 277.5,269.2 278.0,269.0 278.6,272.1 279.1,270.6 279.6,271.3 280.2,269.6 280.8,270.9 281.3,268.9 281.9,272.6 282.4,270.5 283.0,270.8 283.5,270.7 284.1,271.1 284.6,270.1 285.1,268.9 285.7,269.0 286.2,270.5 286.8,268.3 287.4,269.1 287.9,269.0 288.5,267.4 289.0,267.4 289.6,270.1 290.1,265.4 290.7,266.7 291.2,267.3 291.8,267.0 292.3,265.0 292.9,267.6 293.4,267.4 294.0,266.3 294.5,266.0 295.1,268.2 295.6,268.0 296.2,267.4 296.7,265.4 297.2,265.5 297.8,268.6 298.4,267.6 298.9,266.8 299.5,264.1 300.0,267.2 300.6,261.9 301.1,265.4 301.7,264.2 302.2,265.6 302.8,260.9 303.3,263.9 303.9,266.1 304.4,261.2 305.0,262.2 305.5,263.1 306.1,265.4 306.6,265.6 307.2,262.7 307.7,263.4 308.2,261.4 308.8,263.6 309.4,263.3 309.9,262.6 310.5,261.6 311.0,259.9 311.6,262.3 312.1,259.4 312.7,261.5 313.2,259.7 313.8,258.8 314.3,259.7 314.9,262.2 315.4,259.8 316.0,259.9 316.5,262.6 317.1,256.7 317.6,257.8 318.2,258.2 318.7,256.8 319.2,256.5 319.8,257.5 320.4,259.7 320.9,256.5 321.5,258.2 322.0,256.4 322.6,255.5 323.1,257.1 323.7,255.7 324.2,258.0 324.8,257.6 325.3,258.1 325.9,256.2 326.4,254.6 327.0,256.5 327.5,254.3 328.1,255.0 328.6,254.2 329.2,255.2 329.7,253.2 330.2,252.6 330.8,255.6 331.4,254.7 331.9,254.7 332.5,254.8 333.0,253.1 333.6,253.0 334.1,252.6 334.7,252.7 335.2,254.0 335.8,252.4 336.3,255.4 336.9,253.7 337.4,252.5 338.0,252.1 338.5,252.0 339.1,252.2 339.6,252.5 340.2,252.2 340.7,253.3 341.2,253.4 341.8,249.8 342.4,253.9 342.9,251.2 343.5,251.7 344.0,250.4 344.6,250.7 345.1,250.6 345.7,252.0 346.2,250.6 346.8,251.8 347.3,251.2 347.9,249.3 348.4,249.2 349.0,250.6 349.5,248.3 350.1,251.9 350.6,253.5 351.2,248.1 351.7,251.2 352.2,248.9 352.8,249.1 353.4,248.6 353.9,251.0 354.5,249.9 355.0,250.9 355.6,251.8 356.1,250.2 356.7,250.0 357.2,250.4 357.8,250.2 358.3,249.6 358.9,251.5 359.4,250.6 360.0,249.0 360.5,250.0 361.1,250.8 361.6,251.6 362.2,247.2 362.7,251.2 363.2,253.2 363.8,252.6 364.4,249.1 364.9,250.4 365.5,251.7 366.0,253.0 366.6,249.8 367.1,252.8 367.7,253.4 368.2,252.7 368.8,252.7 369.3,253.1 369.9,251.6 370.4,253.9 371.0,254.1 371.5,251.3 372.1,253.8 372.6,254.5 373.2,253.0 373.7,252.4 374.2,254.1 374.8,253.1 375.4,254.4 375.9,256.7 376.5,255.0 377.0,253.6 377.6,253.7 378.1,255.8 378.7,256.3 379.2,255.1 379.8,256.3 380.3,256.3 380.9,254.3 381.4,256.7 382.0,259.3 382.5,257.7 383.1,257.2 383.6,257.1 384.2,258.4 384.7,256.3 385.2,258.3 385.8,257.8 386.4,257.6 386.9,257.7 387.5,257.1 388.0,258.7 388.6,258.6 389.1,259.2 389.7,259.9 390.2,261.3 390.8,263.0 391.3,260.1 391.9,260.8 392.4,262.3 393.0,261.8 393.5,261.2 394.1,260.1 394.6,263.0 395.2,260.0 395.7,264.2 396.3,261.0 396.8,262.8 397.4,263.9 397.9,265.4 398.5,263.6 399.0,262.7 399.6,264.6 400.1,264.0 400.7,263.9 401.2,267.4 401.8,266.0 402.3,266.5 402.9,265.3 403.4,267.4 404.0,265.7 404.5,265.9 405.1,266.7 405.6,266.7 406.2,267.1 406.7,265.6 407.3,267.3 407.8,270.0 408.4,269.2 408.9,270.9 409.5,269.2 410.0,267.9 410.6,271.8 411.1,269.7 411.7,268.6 412.2,271.4 412.8,272.0 413.3,271.4 413.9,269.7 414.4,271.4 415.0,271.8 415.5,273.6 416.1,273.6 416.6,273.8 417.2,274.4 417.7,273.3 418.3,275.0 418.8,274.7 419.4,273.1 419.9,275.8 420.5,275.4 421.0,277.7 421.6,276.1 422.1,275.7 422.7,274.5 423.2,276.8 423.8,276.0 424.3,279.3 424.9,277.9 425.4,277.8 426.0,278.7 426.5,281.2 427.1,277.5 427.6,277.9 428.2,277.3 428.7,276.6 429.3,279.7 429.8,278.3 430.4,278.6 430.9,282.2 431.5,280.2 432.0,281.2 432.6,280.4 433.1,279.6 433.7,278.8 434.2,282.1 434.8,282.0 435.3,281.6 435.9,281.7 436.4,282.9 437.0,283.1 437.5,281.9 438.1,282.1 438.6,281.6 439.2,282.3 439.7,281.6 440.3,285.3 440.8,282.7 441.4,284.3 441.9,283.2 442.5,284.5 443.0,283.8 443.6,286.2 444.1,286.0 444.7,285.4 445.2,284.4 445.8,285.8 446.3,287.0 446.9,285.6 447.4,284.8 448.0,287.5 448.5,287.2 449.1,286.9 449.6,287.2 450.2,287.4 450.7,288.3 451.3,285.4 451.8,286.5 452.4,286.7 452.9,289.3 453.5,287.7 454.0,286.2 454.6,287.5 455.1,287.7 455.7,288.2 456.2,287.6 456.8,286.6 457.3,289.5 457.9,288.5 458.4,287.7 459.0,287.2 459.5,288.3 460.1,289.6 460.6,289.2 461.2,287.2 461.7,287.8 462.3,288.8 462.8,285.8 463.4,289.5 463.9,293.7 464.5,289.9 465.0,290.7 465.6,290.3 466.1,290.9 466.7,289.7 467.2,287.6 467.8,290.1 468.3,291.1 468.9,291.0 469.4,290.2 470.0,291.3 470.5,291.2 471.1,291.3 471.6,289.3 472.2,292.2 472.7,291.0 473.3,292.6 473.8,293.8 474.4,290.4 474.9,290.9 475.5,289.2 476.0,291.1 476.6,292.7 477.1,292.2 477.7,290.2 478.2,291.6 478.8,291.9 479.3,291.0 479.9,291.0 480.4,292.1 481.0,292.8 481.5,290.8 482.1,292.2 482.6,294.3 483.2,293.4 483.7,290.5 484.3,291.2 484.8,290.9 485.4,292.3 485.9,293.2 486.5,295.8 487.0,291.4 487.6,294.3 488.1,292.2 488.7,291.8 489.2,290.8 489.8,290.8 490.3,293.7 490.9,295.1 491.4,293.6 492.0,292.8 492.5,293.4 493.1,293.7 493.6,290.0 494.2,291.0 494.7,291.2 495.3,293.7 495.8,293.0 496.4,290.9 496.9,291.0 497.5,290.0 498.0,293.1 498.6,295.0 499.1,291.8 499.7,294.6 500.2,289.8 500.8,292.7 501.3,292.2 501.9,292.1 502.4,295.4 503.0,294.4 503.5,293.2 504.1,292.7 504.6,291.7 505.2,292.5 505.7,294.3 506.3,291.9 506.8,293.3 507.4,292.8 507.9,290.8 508.5,292.6 509.0,292.7 509.6,292.4 510.1,293.9 510.7,294.6 511.2,291.6 511.8,293.3 512.3,292.1 512.9,292.0 513.4,292.6 514.0,294.7 514.5,291.0 515.0,293.5 515.6,294.6 516.2,293.4 516.7,289.9 517.2,293.1 517.8,294.1 518.4,293.0 518.9,293.7 519.5,293.9 520.0,292.9 520.5,293.6 521.1,292.7 521.7,294.9 522.2,293.1 522.8,294.4 523.3,293.5 523.9,294.0 524.4,292.5 525.0,292.8 525.5,292.5 526.0,290.9 526.6,294.4 527.2,292.6 527.7,293.2 528.2,293.6 528.8,293.9 529.4,293.4 529.9,293.4 530.5,293.9 531.0,292.7 531.5,292.9 532.1,294.6 532.7,293.3 533.2,295.7 533.8,295.2 534.3,295.1 534.9,293.8 535.4,294.2 536.0,294.5 536.5,294.2 537.1,292.4 537.6,291.5 538.2,293.7 538.7,291.8 539.2,293.2 539.8,294.4 540.4,293.4 540.9,293.0 541.5,293.5 542.0,294.7 542.6,292.0 543.1,292.7 543.7,295.2 544.2,291.5 544.8,292.1 545.3,294.3 545.9,291.3 546.4,293.4 547.0,293.9 547.5,292.0 548.1,291.6 548.6,294.9 549.2,292.4 549.7,291.2 550.2,293.4 550.8,292.1 551.4,293.9 551.9,292.5 552.5,294.3 553.0,292.2 553.6,293.2 554.1,292.3 554.7,290.2 555.2,293.0 555.8,294.7 556.3,295.2 556.9,291.8 557.4,292.6 558.0,291.2 558.5,293.5 559.1,295.5 559.6,294.6 560.2,294.4 560.7,292.6 561.2,293.5 561.8,295.4 562.4,294.3 562.9,295.6 563.5,291.5 564.0,292.2 564.6,292.6 565.1,293.2 565.7,292.7 566.2,292.3 566.8,292.8 567.3,294.2 567.9,295.1 568.4,294.4 569.0,293.0 569.5,291.8 570.1,294.3 570.6,294.0 571.2,293.5 571.7,292.7 572.2,295.0 572.8,293.3 573.4,295.0 573.9,293.9 574.5,294.1 575.0,293.7 575.6,294.0 576.1,292.7 576.7,294.4 577.2,292.1 577.8,293.5 578.3,290.8 578.9,294.6 579.4,291.5 580.0,293.0 580.5,295.0 581.1,295.3 581.6,291.8 582.2,293.7 582.7,292.4 583.2,296.2 583.8,293.9 584.4,293.2 584.9,291.6 585.5,293.3 586.0,293.8 586.6,291.5 587.1,293.3 587.7,291.7 588.2,294.9 588.8,293.6 589.3,291.6 589.9,291.5 590.4,291.2 591.0,292.7 591.5,292.0 592.1,296.9 592.6,293.7 593.2,291.2 593.7,293.3 594.2,290.3 594.8,293.1 595.4,292.3 595.9,293.6 596.5,295.5 597.0,291.7 597.6,292.5 598.1,291.6 598.7,291.6 599.2,292.9 599.8,294.9 600.3,294.5 600.9,293.6 601.4,294.6 602.0,292.9 602.5,293.0 603.1,293.7 603.6,293.8 604.2,293.4 604.7,294.4 605.2,291.1 605.8,294.8 606.4,295.5 606.9,293.1 607.5,294.1 608.0,293.8 608.6,294.3 609.1,293.4 609.7,294.5 610.2,292.3 610.8,292.5 611.3,293.4 611.9,291.8 612.4,291.8 613.0,292.6 613.5,293.5 614.1,293.2 614.6,294.5 615.2,292.8 615.7,295.3 616.2,294.1 616.8,292.3 617.4,294.8 617.9,293.1 618.5,293.0 619.0,294.2 619.6,294.0 620.1,291.5 620.7,293.0 621.2,292.2 621.8,292.6 622.3,294.5 622.9,292.0 623.4,293.0 624.0,293.5 624.5,294.0 625.1,293.0 625.6,294.0 626.2,294.0 626.7,291.7 627.2,292.9 627.8,294.3 628.4,293.4 628.9,291.2 629.5,292.9 630.0,295.0 630.6,292.1 631.1,292.8 631.7,296.5 632.2,292.7 632.8,295.3 633.3,291.7 633.9,295.3 634.4,291.3 635.0,292.5 635.5,296.0 636.1,293.5 636.6,293.8 637.2,292.8 637.7,293.9 638.2,292.3 638.8,294.0 639.4,293.5 639.9,292.9 640.5,294.2 641.0,295.4 641.6,292.1 642.1,292.7 642.7,294.9 643.2,295.3 643.8,292.8 644.3,294.2" fill="none" stroke="#3a3a3a" stroke-width="0.8" />
<path d="M41.5,293.3 43.5,293.3 45.5,293.2 47.5,293.2 49.5,293.2 51.5,293.2 53.5,293.2 55.5,293.2 57.5,293.2 59.5,293.2 61.5,293.2 63.5,293.2 65.5,293.2 67.5,293.2 69.5,293.2 71.5,293.2 73.5,293.2 75.5,293.2 77.5,293.2 79.5,293.2 81.5,293.2 83.5,293.2 85.5,293.2 87.5,293.2 89.5,293.2 91.5,293.2 93.5,293.2 95.5,293.1 97.5,293.1 99.5,293.1 101.5,293.1 103.5,293.1 105.5,293.1 107.5,293.1 109.5,293.1 111.5,293.1 113.5,293.1 115.5,293.1 117.5,293.1 119.5,293.1 121.5,293.0 123.5,293.0 125.5,293.0 127.5,293.0 129.5,293.0 131.5,293.0 133.5,293.0 135.5,293.0 137.5,292.9 139.5,292.9 141.5,292.9 143.5,292.9 145.5,292.9 147.5,292.8 149.5,292.8 151.5,292.8 153.5,292.7 155.5,292.7 157.5,292.6 159.5,292.6 161.5,292.5 163.5,292.5 165.5,292.4 167.5,292.3 169.5,292.3 171.5,292.2 173.5,292.1 175.5,292.0 177.5,291.9 179.5,291.7 181.5,291.6 183.5,291.4 185.5,291.3 187.5,291.1 189.5,290.9 191.5,290.7 193.5,290.4 195.5,290.2 197.5,289.9 199.5,289.6 201.5,289.3 203.5,289.0 205.5,288.7 207.5,288.3 209.5,287.9 211.5,287.5 213.5,287.1 215.5,286.6 217.5,286.2 219.5,285.7 221.5,285.2 223.5,284.7 225.5,284.1 227.5,283.6 229.5,283.0 231.5,282.5 233.5,281.9 235.5,281.3 237.5,280.7 239.5,280.1 241.5,279.5 243.5,278.9 245.5,278.3 247.5,277.8 249.5,277.2 251.5,276.6 253.5,276.1 255.5,275.6 257.5,275.1 259.5,274.6 261.5,274.1 263.5,273.7 265.5,273.2 267.5,272.8 269.5,272.4 271.5,272.0 273.5,271.6 275.5,271.2 277.5,270.8 279.5,270.3 281.5,269.9 283.5,269.5 285.5,269.0 287.5,268.5 289.5,268.0 291.5,267.5 293.5,267.0 295.5,266.4 297.5,265.8 299.5,265.2 301.5,264.6 303.5,263.9 305.5,263.2 307.5,262.5 309.5,261.8 311.5,261.1 313.5,260.4 315.5,259.6 317.5,258.9 319.5,258.2 321.5,257.4 323.5,256.7 325.5,256.0 327.5,255.4 329.5,254.7 331.5,254.1 333.5,253.5 335.5,253.0 337.5,252.5 339.5,252.0 341.5,251.6 343.5,251.3 345.5,251.0 347.5,250.8 349.5,250.6 351.5,250.5 353.5,250.4 355.5,250.5 357.5,250.6 359.5,250.7 361.5,250.9 363.5,251.2 365.5,251.6 367.5,252.0 369.5,252.5 371.5,253.0 373.5,253.6 375.5,254.2 377.5,254.9 379.5,255.6 381.5,256.4 383.5,257.2 385.5,258.0 387.5,258.9 389.5,259.8 391.5,260.7 393.5,261.6 395.5,262.6 397.5,263.5 399.5,264.5 401.5,265.5 403.5,266.5 405.5,267.5 407.5,268.5 409.5,269.5 411.5,270.5 413.5,271.5 415.5,272.5 417.5,273.5 419.5,274.5 421.5,275.4 423.5,276.4 425.5,277.3 427.5,278.2 429.5,279.1 431.5,279.9 433.5,280.8 435.5,281.6 437.5,282.4 439.5,283.1 441.5,283.8 443.5,284.5 445.5,285.2 447.5,285.8 449.5,286.4 451.5,287.0 453.5,287.5 455.5,288.0 457.5,288.5 459.5,289.0 461.5,289.4 463.5,289.7 465.5,290.1 467.5,290.4 469.5,290.7 471.5,291.0 473.5,291.2 475.5,291.4 477.5,291.7 479.5,291.8 481.5,292.0 483.5,292.1 485.5,292.3 487.5,292.4 489.5,292.5 491.5,292.6 493.5,292.7 495.5,292.8 497.5,292.8 499.5,292.9 501.5,292.9 503.5,293.0 505.5,293.0 507.5,293.1 509.5,293.1 511.5,293.1 513.5,293.1 515.5,293.2 517.5,293.2 519.5,293.2 521.5,293.2 523.5,293.2 525.5,293.2 527.5,293.3 529.5,293.3 531.5,293.3 533.5,293.3 535.5,293.3 537.5,293.3 539.5,293.3 541.5,293.3 543.5,293.3 545.5,293.3 547.5,293.3 549.5,293.3 551.5,293.3 553.5,293.3 555.5,293.3 557.5,293.3 559.5,293.3 561.5,293.3 563.5,293.3 565.5,293.3 567.5,293.3 569.5,293.3 571.5,293.3 573.5,293.3 575.5,293.3 577.5,293.3 579.5,293.3 581.5,293.3 583.5,293.3 585.5,293.3 587.5,293.3 589.5,293.3 591.5,293.3 593.5,293.3 595.5,293.3 597.5,293.3 599.5,293.3 601.5,293.3 603.5,293.3 605.5,293.3 607.5,293.3 609.5,293.3 611.5,293.3 613.5,293.3 615.5,293.3 617.5,293.3 619.5,293.3 621.5,293.3 623.5,293.3 625.5,293.3 627.5,293.3 629.5,293.3 631.5,293.3 633.5,293.3 635.5,293.3 637.5,293.3 639.5,293.3 641.5,293.4 643.5,293.4" fill="none" stroke="#a374e6" stroke-width="1.3" />
<text x="668.8" y="302.6" font-size="32.3" textLength="103.95" lengthAdjust="spacingAndGlyphs" >−0.15 V</text>
<path d="M109.5,359.6 111.5,359.6 113.5,359.5 115.5,359.5 117.5,359.5 119.5,359.5 121.5,359.5 123.5,359.5 125.5,359.5 127.5,359.5 129.5,359.4 131.5,359.4 133.5,359.4 135.5,359.4 137.5,359.4 139.5,359.4 141.5,359.3 143.5,359.3 145.5,359.3 147.5,359.3 149.5,359.2 151.5,359.2 153.5,359.1 155.5,359.1 157.5,359.1 159.5,359.0 161.5,358.9 163.5,358.9 165.5,358.8 167.5,358.7 169.5,358.6 171.5,358.5 173.5,358.4 175.5,358.3 177.5,358.2 179.5,358.0 181.5,357.9 183.5,357.7 185.5,357.5 187.5,357.4 189.5,357.1 191.5,356.9 193.5,356.7 195.5,356.4 197.5,356.1 199.5,355.8 201.5,355.5 203.5,355.2 205.5,354.8 207.5,354.4 209.5,354.1 211.5,353.7 213.5,353.2 215.5,352.8 217.5,352.3 219.5,351.9 221.5,351.4 223.5,350.9 225.5,350.4 227.5,350.0 229.5,349.5 231.5,349.0 233.5,348.5 235.5,348.0 237.5,347.6 239.5,347.1 241.5,346.7 243.5,346.3 245.5,346.0 247.5,345.6 249.5,345.4 251.5,345.1 253.5,344.9 255.5,344.8 257.5,344.7 259.5,344.6 261.5,344.6 263.5,344.7 265.5,344.8 267.5,344.9 269.5,345.2 271.5,345.4 273.5,345.7 275.5,346.0 277.5,346.4 279.5,346.8 281.5,347.2 283.5,347.7 285.5,348.1 287.5,348.6 289.5,349.1 291.5,349.6 293.5,350.1 295.5,350.5 297.5,351.0 299.5,351.5 301.5,352.0 303.5,352.4 305.5,352.9 307.5,353.3 309.5,353.7 311.5,354.1 313.5,354.5 315.5,354.9 317.5,355.2 319.5,355.6 321.5,355.9 323.5,356.2 325.5,356.5 327.5,356.7 329.5,357.0 331.5,357.2 333.5,357.4 335.5,357.6 337.5,357.8 339.5,357.9 341.5,358.1 343.5,358.2 345.5,358.3 347.5,358.5 349.5,358.6 351.5,358.7 353.5,358.7 355.5,358.8 357.5,358.9 359.5,359.0 361.5,359.0 363.5,359.1 365.5,359.1 367.5,359.2 369.5,359.2 371.5,359.2 373.5,359.3 375.5,359.3 377.5,359.3 379.5,359.3 381.5,359.4 383.5,359.4 385.5,359.4 387.5,359.4 389.5,359.4 391.5,359.5 393.5,359.5 395.5,359.5 397.5,359.5 399.5,359.5 401.5,359.5 403.5,359.5 405.5,359.5 407.5,359.5 409.5,359.6 411.5,359.6 L411.5,359.9 L109.5,359.9Z" fill="#ee3a44" stroke="none" stroke-width="1" />
<path d="M189.5,359.8 191.5,359.8 193.5,359.8 195.5,359.8 197.5,359.8 199.5,359.7 201.5,359.7 203.5,359.7 205.5,359.6 207.5,359.6 209.5,359.6 211.5,359.5 213.5,359.5 215.5,359.4 217.5,359.3 219.5,359.2 221.5,359.2 223.5,359.1 225.5,359.0 227.5,358.8 229.5,358.7 231.5,358.6 233.5,358.4 235.5,358.2 237.5,358.0 239.5,357.8 241.5,357.6 243.5,357.3 245.5,357.0 247.5,356.7 249.5,356.4 251.5,356.0 253.5,355.7 255.5,355.2 257.5,354.8 259.5,354.3 261.5,353.8 263.5,353.3 265.5,352.7 267.5,352.1 269.5,351.4 271.5,350.7 273.5,350.0 275.5,349.2 277.5,348.4 279.5,347.6 281.5,346.7 283.5,345.8 285.5,344.8 287.5,343.9 289.5,342.8 291.5,341.8 293.5,340.7 295.5,339.6 297.5,338.5 299.5,337.4 301.5,336.2 303.5,335.0 305.5,333.8 307.5,332.7 309.5,331.5 311.5,330.3 313.5,329.1 315.5,328.0 317.5,326.8 319.5,325.7 321.5,324.6 323.5,323.6 325.5,322.5 327.5,321.6 329.5,320.6 331.5,319.8 333.5,318.9 335.5,318.2 337.5,317.5 339.5,316.9 341.5,316.3 343.5,315.9 345.5,315.5 347.5,315.1 349.5,314.9 351.5,314.8 353.5,314.7 355.5,314.7 357.5,314.8 359.5,315.0 361.5,315.3 363.5,315.6 365.5,316.1 367.5,316.6 369.5,317.2 371.5,317.8 373.5,318.6 375.5,319.3 377.5,320.2 379.5,321.1 381.5,322.0 383.5,323.0 385.5,324.1 387.5,325.1 389.5,326.3 391.5,327.4 393.5,328.5 395.5,329.7 397.5,330.9 399.5,332.1 401.5,333.3 403.5,334.4 405.5,335.6 407.5,336.8 409.5,337.9 411.5,339.1 413.5,340.2 415.5,341.3 417.5,342.3 419.5,343.4 421.5,344.4 423.5,345.3 425.5,346.3 427.5,347.1 429.5,348.0 431.5,348.8 433.5,349.6 435.5,350.4 437.5,351.1 439.5,351.7 441.5,352.4 443.5,353.0 445.5,353.5 447.5,354.1 449.5,354.6 451.5,355.0 453.5,355.5 455.5,355.9 457.5,356.2 459.5,356.6 461.5,356.9 463.5,357.2 465.5,357.4 467.5,357.7 469.5,357.9 471.5,358.1 473.5,358.3 475.5,358.5 477.5,358.6 479.5,358.8 481.5,358.9 483.5,359.0 485.5,359.1 487.5,359.2 489.5,359.3 491.5,359.4 493.5,359.4 495.5,359.5 497.5,359.5 499.5,359.6 501.5,359.6 503.5,359.7 505.5,359.7 507.5,359.7 509.5,359.7 511.5,359.8 513.5,359.8 515.5,359.8 517.5,359.8 519.5,359.8 L519.5,359.9 L189.5,359.9Z" fill="url(#gBlueA)" stroke="none" stroke-width="1" fill-opacity="0.5"/>
<path d="M323.5,359.9 325.5,359.9 327.5,359.9 329.5,359.9 331.5,359.9 333.5,359.9 335.5,359.9 337.5,359.9 339.5,359.8 341.5,359.8 343.5,359.8 345.5,359.8 347.5,359.8 349.5,359.7 351.5,359.7 353.5,359.7 355.5,359.6 357.5,359.6 359.5,359.5 361.5,359.5 363.5,359.4 365.5,359.3 367.5,359.2 369.5,359.1 371.5,359.0 373.5,358.9 375.5,358.7 377.5,358.6 379.5,358.4 381.5,358.3 383.5,358.1 385.5,357.9 387.5,357.8 389.5,357.6 391.5,357.4 393.5,357.2 395.5,357.0 397.5,356.8 399.5,356.6 401.5,356.5 403.5,356.3 405.5,356.2 407.5,356.1 409.5,355.9 411.5,355.9 413.5,355.8 415.5,355.7 417.5,355.7 419.5,355.7 421.5,355.7 423.5,355.8 425.5,355.8 427.5,355.9 429.5,356.0 431.5,356.1 433.5,356.3 435.5,356.4 437.5,356.6 439.5,356.8 441.5,357.0 443.5,357.1 445.5,357.3 447.5,357.5 449.5,357.7 451.5,357.9 453.5,358.1 455.5,358.2 457.5,358.4 459.5,358.6 461.5,358.7 463.5,358.8 465.5,359.0 467.5,359.1 469.5,359.2 471.5,359.3 473.5,359.4 475.5,359.4 477.5,359.5 479.5,359.6 481.5,359.6 483.5,359.7 485.5,359.7 487.5,359.7 489.5,359.8 491.5,359.8 493.5,359.8 495.5,359.8 497.5,359.8 499.5,359.9 501.5,359.9 503.5,359.9 505.5,359.9 507.5,359.9 509.5,359.9 511.5,359.9 513.5,359.9 515.5,359.9 L515.5,359.9 L323.5,359.9Z" fill="#2e8b3c" stroke="none" stroke-width="1" />
<line x1="155" y1="359.9" x2="505" y2="359.9" stroke="#3d9a62" stroke-width="1.4" />
<path d="M189.5,359.8 191.5,359.8 193.5,359.8 195.5,359.8 197.5,359.8 199.5,359.7 201.5,359.7 203.5,359.7 205.5,359.6 207.5,359.6 209.5,359.6 211.5,359.5 213.5,359.5 215.5,359.4 217.5,359.3 219.5,359.2 221.5,359.2 223.5,359.1 225.5,359.0 227.5,358.8 229.5,358.7 231.5,358.6 233.5,358.4 235.5,358.2 237.5,358.0 239.5,357.8 241.5,357.6 243.5,357.3 245.5,357.0 247.5,356.7 249.5,356.4 251.5,356.0 253.5,355.7 255.5,355.2 257.5,354.8 259.5,354.3 261.5,353.8 263.5,353.3 265.5,352.7 267.5,352.1 269.5,351.4 271.5,350.7 273.5,350.0 275.5,349.2 277.5,348.4 279.5,347.6 281.5,346.7 283.5,345.8 285.5,344.8 287.5,343.9 289.5,342.8 291.5,341.8 293.5,340.7 295.5,339.6 297.5,338.5 299.5,337.4 301.5,336.2 303.5,335.0 305.5,333.8 307.5,332.7 309.5,331.5 311.5,330.3 313.5,329.1 315.5,328.0 317.5,326.8 319.5,325.7 321.5,324.6 323.5,323.6 325.5,322.5 327.5,321.6 329.5,320.6 331.5,319.8 333.5,318.9 335.5,318.2 337.5,317.5 339.5,316.9 341.5,316.3 343.5,315.9 345.5,315.5 347.5,315.1 349.5,314.9 351.5,314.8 353.5,314.7 355.5,314.7 357.5,314.8 359.5,315.0 361.5,315.3 363.5,315.6 365.5,316.1 367.5,316.6 369.5,317.2 371.5,317.8 373.5,318.6 375.5,319.3 377.5,320.2 379.5,321.1 381.5,322.0 383.5,323.0 385.5,324.1 387.5,325.1 389.5,326.3 391.5,327.4 393.5,328.5 395.5,329.7 397.5,330.9 399.5,332.1 401.5,333.3 403.5,334.4 405.5,335.6 407.5,336.8 409.5,337.9 411.5,339.1 413.5,340.2 415.5,341.3 417.5,342.3 419.5,343.4 421.5,344.4 423.5,345.3 425.5,346.3 427.5,347.1 429.5,348.0 431.5,348.8 433.5,349.6 435.5,350.4 437.5,351.1 439.5,351.7 441.5,352.4 443.5,353.0 445.5,353.5 447.5,354.1 449.5,354.6 451.5,355.0 453.5,355.5 455.5,355.9 457.5,356.2 459.5,356.6 461.5,356.9 463.5,357.2 465.5,357.4 467.5,357.7 469.5,357.9 471.5,358.1 473.5,358.3 475.5,358.5 477.5,358.6 479.5,358.8 481.5,358.9 483.5,359.0 485.5,359.1 487.5,359.2 489.5,359.3 491.5,359.4 493.5,359.4 495.5,359.5 497.5,359.5 499.5,359.6 501.5,359.6 503.5,359.7 505.5,359.7 507.5,359.7 509.5,359.7 511.5,359.8 513.5,359.8 515.5,359.8 517.5,359.8 519.5,359.8" fill="none" stroke="#2b3cf0" stroke-width="1.1" />
<path d="M41.5,360.5 42.0,362.1 42.6,359.5 43.1,359.8 43.7,360.0 44.2,358.7 44.8,359.5 45.4,358.9 45.9,359.1 46.5,359.4 47.0,358.4 47.5,361.1 48.1,360.1 48.6,361.4 49.2,357.7 49.8,358.9 50.3,359.8 50.9,362.8 51.4,359.7 52.0,359.7 52.5,356.7 53.0,359.3 53.6,357.5 54.1,362.1 54.7,360.1 55.2,360.8 55.8,359.6 56.4,360.6 56.9,359.7 57.5,359.0 58.0,361.1 58.5,359.1 59.1,358.0 59.7,359.4 60.2,358.5 60.8,361.2 61.3,358.5 61.9,358.9 62.4,359.2 63.0,362.0 63.5,361.3 64.0,359.3 64.6,360.3 65.2,360.1 65.7,358.4 66.2,361.1 66.8,359.0 67.3,361.7 67.9,359.5 68.5,358.3 69.0,360.6 69.5,359.9 70.1,359.5 70.7,361.4 71.2,361.9 71.8,358.3 72.3,358.2 72.8,359.0 73.4,359.5 74.0,358.8 74.5,357.9 75.1,362.1 75.6,360.1 76.2,359.6 76.7,360.6 77.2,361.3 77.8,358.9 78.3,361.0 78.9,360.6 79.5,362.6 80.0,359.6 80.6,360.3 81.1,360.7 81.7,359.4 82.2,359.1 82.8,360.5 83.3,360.1 83.8,361.3 84.4,360.6 85.0,359.2 85.5,360.1 86.1,360.6 86.6,359.2 87.2,360.2 87.7,359.2 88.2,360.0 88.8,358.8 89.3,360.6 89.9,358.5 90.5,359.8 91.0,359.0 91.6,359.4 92.1,360.0 92.7,356.4 93.2,360.4 93.8,358.3 94.3,360.6 94.8,362.6 95.4,359.3 96.0,359.0 96.5,360.5 97.1,360.6 97.6,362.3 98.2,362.5 98.7,358.5 99.2,360.3 99.8,360.3 100.3,361.9 100.9,359.2 101.5,359.7 102.0,359.4 102.6,358.0 103.1,360.1 103.7,359.3 104.2,358.2 104.8,360.5 105.3,358.5 105.9,361.7 106.4,359.8 107.0,359.9 107.5,358.1 108.1,357.2 108.6,359.9 109.2,359.4 109.7,360.8 110.2,357.4 110.8,357.3 111.4,358.9 111.9,358.0 112.5,358.4 113.0,356.5 113.6,357.8 114.1,357.0 114.7,359.7 115.2,360.6 115.8,360.8 116.3,360.0 116.9,357.6 117.4,359.6 118.0,358.9 118.5,360.6 119.1,360.3 119.6,358.8 120.2,358.4 120.7,358.9 121.2,360.4 121.8,357.9 122.4,358.9 122.9,358.9 123.5,358.8 124.0,358.9 124.6,359.4 125.1,360.2 125.7,360.2 126.2,359.2 126.8,360.5 127.3,359.8 127.9,360.8 128.4,358.6 128.9,358.6 129.5,358.3 130.1,359.3 130.6,357.7 131.2,360.3 131.7,360.8 132.2,357.1 132.8,359.7 133.4,360.1 133.9,360.1 134.4,358.3 135.0,359.4 135.6,359.1 136.1,359.0 136.7,360.1 137.2,358.1 137.8,353.8 138.3,360.4 138.9,358.2 139.4,358.1 139.9,361.7 140.5,359.6 141.1,361.2 141.6,360.3 142.2,360.1 142.7,361.7 143.2,357.2 143.8,361.3 144.4,358.9 144.9,358.5 145.4,359.5 146.0,358.5 146.6,358.1 147.1,357.9 147.7,359.3 148.2,358.4 148.8,359.3 149.3,359.9 149.9,360.6 150.4,358.0 150.9,356.0 151.5,358.3 152.1,359.2 152.6,358.6 153.2,356.3 153.7,360.7 154.2,357.7 154.8,358.5 155.4,360.1 155.9,360.7 156.4,359.4 157.0,358.9 157.6,359.7 158.1,360.1 158.7,357.0 159.2,359.4 159.8,358.1 160.3,359.5 160.9,357.1 161.4,359.7 161.9,358.8 162.5,358.5 163.1,358.5 163.6,358.2 164.2,358.3 164.7,358.9 165.2,360.2 165.8,358.5 166.4,357.7 166.9,357.8 167.5,358.2 168.0,359.2 168.6,357.2 169.1,359.5 169.7,361.3 170.2,358.0 170.8,359.7 171.3,359.7 171.9,360.1 172.4,358.9 173.0,357.7 173.5,356.6 174.1,355.9 174.6,357.3 175.2,357.1 175.7,358.4 176.2,357.3 176.8,358.1 177.4,358.1 177.9,356.6 178.5,360.6 179.0,355.2 179.6,358.0 180.1,358.4 180.7,357.0 181.2,357.9 181.8,356.2 182.3,359.6 182.9,358.7 183.4,356.0 184.0,356.9 184.5,358.5 185.1,359.3 185.6,356.5 186.2,359.4 186.7,355.0 187.2,357.8 187.8,356.7 188.4,355.5 188.9,357.0 189.5,358.3 190.0,358.5 190.6,358.4 191.1,354.3 191.7,357.9 192.2,357.3 192.8,356.6 193.3,353.9 193.9,359.1 194.4,355.9 195.0,354.9 195.5,356.7 196.1,356.7 196.6,359.7 197.2,353.5 197.7,357.3 198.2,355.9 198.8,356.2 199.4,353.1 199.9,357.7 200.5,357.0 201.0,355.7 201.6,354.1 202.1,354.6 202.7,354.9 203.2,354.4 203.8,354.8 204.3,356.6 204.9,355.1 205.4,354.1 206.0,350.4 206.5,355.1 207.1,354.4 207.6,354.8 208.2,352.7 208.7,353.8 209.2,354.2 209.8,353.2 210.4,350.0 210.9,352.8 211.5,352.7 212.0,353.1 212.6,353.5 213.1,353.2 213.7,351.6 214.2,352.3 214.8,352.6 215.3,353.9 215.9,350.7 216.4,352.7 217.0,352.6 217.5,353.3 218.1,351.6 218.6,351.2 219.2,349.4 219.7,349.8 220.3,350.8 220.8,351.8 221.4,351.1 221.9,352.7 222.5,350.3 223.0,352.6 223.6,350.1 224.1,351.9 224.7,348.0 225.2,350.3 225.8,349.9 226.3,347.4 226.9,351.8 227.4,349.9 228.0,350.0 228.5,347.9 229.1,345.5 229.6,351.4 230.2,348.3 230.7,348.0 231.3,347.7 231.8,348.3 232.4,346.9 232.9,349.3 233.5,345.8 234.0,345.4 234.6,346.8 235.1,345.7 235.7,349.0 236.2,344.5 236.8,347.2 237.3,345.4 237.9,344.5 238.4,344.8 239.0,346.5 239.5,343.3 240.1,344.0 240.6,344.0 241.2,346.1 241.7,343.2 242.3,344.3 242.8,344.6 243.4,342.7 243.9,343.0 244.5,342.3 245.0,345.7 245.6,343.0 246.1,342.2 246.7,342.5 247.2,343.4 247.8,341.8 248.3,343.7 248.9,341.3 249.4,342.8 250.0,344.1 250.5,342.5 251.1,342.0 251.6,341.6 252.2,344.1 252.7,340.9 253.3,341.2 253.8,342.2 254.4,339.9 254.9,339.4 255.5,340.8 256.0,338.8 256.6,338.8 257.1,338.1 257.6,339.0 258.2,339.3 258.8,339.3 259.3,340.4 259.9,340.7 260.4,338.6 261.0,339.9 261.5,338.0 262.1,340.6 262.6,339.4 263.1,335.6 263.7,337.3 264.2,337.3 264.8,336.3 265.4,337.9 265.9,339.3 266.5,340.0 267.0,335.3 267.6,338.0 268.1,337.7 268.6,338.9 269.2,336.2 269.8,337.0 270.3,336.3 270.9,339.2 271.4,337.5 272.0,334.6 272.5,336.8 273.1,335.0 273.6,335.1 274.1,335.4 274.7,333.0 275.2,333.5 275.8,334.5 276.4,337.5 276.9,334.6 277.5,334.6 278.0,333.3 278.6,333.4 279.1,333.2 279.6,333.3 280.2,336.5 280.8,334.6 281.3,334.1 281.9,336.7 282.4,335.2 283.0,334.6 283.5,332.3 284.1,330.4 284.6,334.1 285.1,332.5 285.7,333.1 286.2,333.3 286.8,331.5 287.4,331.9 287.9,334.4 288.5,333.4 289.0,333.0 289.6,332.8 290.1,329.5 290.7,331.1 291.2,329.5 291.8,330.7 292.3,332.2 292.9,333.7 293.4,329.8 294.0,332.7 294.5,332.4 295.1,330.0 295.6,331.0 296.2,327.5 296.7,327.6 297.2,328.6 297.8,329.7 298.4,329.4 298.9,328.3 299.5,329.7 300.0,327.6 300.6,328.6 301.1,327.9 301.7,329.6 302.2,326.4 302.8,328.7 303.3,326.5 303.9,328.6 304.4,327.8 305.0,325.6 305.5,329.4 306.1,327.3 306.6,325.8 307.2,325.5 307.7,326.2 308.2,326.2 308.8,326.7 309.4,325.1 309.9,325.8 310.5,324.1 311.0,324.8 311.6,322.7 312.1,323.2 312.7,324.6 313.2,324.0 313.8,323.7 314.3,323.0 314.9,323.3 315.4,321.2 316.0,322.9 316.5,322.9 317.1,318.8 317.6,321.9 318.2,320.8 318.7,321.6 319.2,323.3 319.8,321.7 320.4,318.2 320.9,318.3 321.5,320.8 322.0,317.5 322.6,319.5 323.1,319.8 323.7,318.5 324.2,319.5 324.8,320.0 325.3,319.0 325.9,319.5 326.4,319.9 327.0,319.4 327.5,318.3 328.1,319.8 328.6,319.5 329.2,319.1 329.7,318.0 330.2,318.6 330.8,317.9 331.4,318.2 331.9,317.2 332.5,315.9 333.0,316.2 333.6,316.9 334.1,319.0 334.7,316.5 335.2,314.6 335.8,314.9 336.3,312.9 336.9,314.3 337.4,313.2 338.0,313.7 338.5,316.6 339.1,316.1 339.6,315.0 340.2,314.0 340.7,315.0 341.2,314.7 341.8,313.0 342.4,313.1 342.9,314.3 343.5,314.1 344.0,312.1 344.6,313.1 345.1,314.0 345.7,314.2 346.2,315.4 346.8,311.6 347.3,316.1 347.9,311.6 348.4,313.7 349.0,313.3 349.5,313.4 350.1,310.4 350.6,312.5 351.2,313.5 351.7,314.0 352.2,314.3 352.8,313.6 353.4,312.4 353.9,315.9 354.5,312.8 355.0,313.0 355.6,314.7 356.1,314.2 356.7,311.4 357.2,311.7 357.8,314.3 358.3,315.4 358.9,312.7 359.4,314.2 360.0,311.8 360.5,313.1 361.1,313.0 361.6,313.2 362.2,313.7 362.7,313.5 363.2,313.3 363.8,316.6 364.4,314.8 364.9,314.5 365.5,316.7 366.0,315.3 366.6,315.6 367.1,315.1 367.7,314.1 368.2,315.5 368.8,317.8 369.3,315.1 369.9,317.0 370.4,314.9 371.0,315.7 371.5,317.0 372.1,315.5 372.6,318.5 373.2,318.8 373.7,318.2 374.2,317.3 374.8,319.2 375.4,316.9 375.9,317.4 376.5,319.7 377.0,318.3 377.6,317.6 378.1,319.8 378.7,320.1 379.2,319.6 379.8,319.1 380.3,320.2 380.9,317.9 381.4,321.8 382.0,319.9 382.5,320.2 383.1,321.7 383.6,321.8 384.2,320.3 384.7,323.9 385.2,322.6 385.8,319.4 386.4,323.6 386.9,320.3 387.5,322.5 388.0,325.0 388.6,324.9 389.1,322.0 389.7,321.7 390.2,322.9 390.8,322.6 391.3,324.3 391.9,325.9 392.4,322.9 393.0,323.5 393.5,326.8 394.1,324.6 394.6,326.4 395.2,325.5 395.7,326.7 396.3,326.2 396.8,327.4 397.4,325.5 397.9,327.3 398.5,328.4 399.0,328.2 399.6,330.5 400.1,329.8 400.7,329.5 401.2,327.3 401.8,329.3 402.3,328.7 402.9,329.8 403.4,331.0 404.0,330.1 404.5,330.8 405.1,331.7 405.6,331.6 406.2,332.4 406.7,331.7 407.3,331.8 407.8,334.2 408.4,330.4 408.9,335.5 409.5,333.1 410.0,335.1 410.6,335.6 411.1,333.2 411.7,334.5 412.2,333.6 412.8,333.5 413.3,334.4 413.9,337.2 414.4,336.7 415.0,335.4 415.5,337.6 416.1,337.8 416.6,336.7 417.2,339.5 417.7,339.5 418.3,336.5 418.8,340.6 419.4,339.8 419.9,339.0 420.5,339.1 421.0,339.6 421.6,339.6 422.1,339.5 422.7,341.0 423.2,341.1 423.8,341.3 424.3,341.0 424.9,341.0 425.4,341.0 426.0,345.1 426.5,343.3 427.1,342.7 427.6,342.5 428.2,344.3 428.7,344.9 429.3,342.9 429.8,344.1 430.4,343.6 430.9,342.9 431.5,345.1 432.0,343.6 432.6,345.3 433.1,344.0 433.7,345.8 434.2,346.2 434.8,346.1 435.3,345.7 435.9,345.6 436.4,346.4 437.0,348.4 437.5,346.5 438.1,348.5 438.6,348.7 439.2,347.2 439.7,348.5 440.3,347.3 440.8,350.3 441.4,347.0 441.9,347.1 442.5,349.9 443.0,348.8 443.6,349.0 444.1,350.8 444.7,352.6 445.2,348.9 445.8,350.7 446.3,351.1 446.9,351.9 447.4,352.7 448.0,350.8 448.5,352.3 449.1,354.4 449.6,352.5 450.2,352.1 450.7,353.5 451.3,354.5 451.8,352.5 452.4,352.8 452.9,354.5 453.5,353.0 454.0,353.3 454.6,354.5 455.1,351.9 455.7,355.6 456.2,354.6 456.8,355.6 457.3,357.0 457.9,355.3 458.4,354.6 459.0,355.1 459.5,354.5 460.1,353.6 460.6,354.2 461.2,355.1 461.7,352.2 462.3,356.3 462.8,353.9 463.4,356.1 463.9,354.3 464.5,354.4 465.0,355.5 465.6,356.3 466.1,356.3 466.7,355.6 467.2,357.8 467.8,355.8 468.3,355.6 468.9,358.4 469.4,357.3 470.0,356.4 470.5,357.7 471.1,358.3 471.6,356.4 472.2,355.4 472.7,357.3 473.3,359.1 473.8,360.4 474.4,357.4 474.9,358.3 475.5,359.3 476.0,356.7 476.6,358.0 477.1,357.4 477.7,357.4 478.2,357.7 478.8,357.9 479.3,356.4 479.9,358.5 480.4,356.6 481.0,358.4 481.5,358.2 482.1,359.7 482.6,359.1 483.2,359.9 483.7,359.3 484.3,361.0 484.8,356.9 485.4,359.3 485.9,359.5 486.5,360.3 487.0,358.2 487.6,358.9 488.1,356.4 488.7,360.4 489.2,362.5 489.8,359.1 490.3,360.6 490.9,360.7 491.4,359.5 492.0,359.6 492.5,357.5 493.1,358.9 493.6,359.1 494.2,356.3 494.7,360.4 495.3,357.8 495.8,359.9 496.4,360.4 496.9,360.0 497.5,357.2 498.0,359.3 498.6,357.9 499.1,360.7 499.7,360.2 500.2,359.5 500.8,359.4 501.3,359.2 501.9,362.4 502.4,358.5 503.0,360.8 503.5,361.2 504.1,359.8 504.6,359.9 505.2,359.2 505.7,358.8 506.3,359.5 506.8,361.9 507.4,358.4 507.9,360.1 508.5,360.5 509.0,360.0 509.6,357.9 510.1,361.6 510.7,361.2 511.2,358.4 511.8,358.6 512.3,360.6 512.9,359.6 513.4,358.9 514.0,358.3 514.5,360.4 515.0,357.7 515.6,362.1 516.2,359.7 516.7,357.2 517.2,359.3 517.8,359.8 518.4,359.2 518.9,360.2 519.5,359.0 520.0,359.1 520.5,359.9 521.1,359.6 521.7,360.1 522.2,359.8 522.8,360.6 523.3,362.1 523.9,359.9 524.4,360.8 525.0,360.8 525.5,358.9 526.0,361.1 526.6,360.9 527.2,359.3 527.7,359.6 528.2,358.4 528.8,358.7 529.4,359.6 529.9,360.9 530.5,360.0 531.0,358.7 531.5,360.3 532.1,359.7 532.7,360.3 533.2,361.3 533.8,360.4 534.3,357.8 534.9,358.5 535.4,360.2 536.0,360.3 536.5,360.1 537.1,359.9 537.6,359.5 538.2,358.6 538.7,356.5 539.2,362.1 539.8,359.0 540.4,363.7 540.9,358.6 541.5,359.9 542.0,360.0 542.6,360.8 543.1,362.5 543.7,360.8 544.2,359.3 544.8,357.9 545.3,359.3 545.9,358.9 546.4,359.7 547.0,360.7 547.5,361.1 548.1,360.4 548.6,359.8 549.2,358.6 549.7,361.3 550.2,359.7 550.8,361.8 551.4,360.9 551.9,360.3 552.5,360.0 553.0,360.5 553.6,359.4 554.1,359.9 554.7,359.3 555.2,356.7 555.8,361.6 556.3,359.6 556.9,359.2 557.4,359.7 558.0,360.3 558.5,359.5 559.1,361.7 559.6,362.1 560.2,361.4 560.7,362.7 561.2,358.1 561.8,360.0 562.4,358.7 562.9,359.4 563.5,360.0 564.0,359.1 564.6,360.2 565.1,360.3 565.7,361.7 566.2,359.6 566.8,360.1 567.3,361.6 567.9,362.2 568.4,360.3 569.0,359.4 569.5,358.9 570.1,357.4 570.6,360.1 571.2,358.4 571.7,361.0 572.2,357.8 572.8,361.8 573.4,360.2 573.9,358.9 574.5,359.6 575.0,360.2 575.6,360.4 576.1,360.5 576.7,359.3 577.2,360.8 577.8,359.2 578.3,358.7 578.9,359.4 579.4,363.0 580.0,362.2 580.5,359.9 581.1,358.6 581.6,359.8 582.2,359.5 582.7,359.5 583.2,359.6 583.8,360.8 584.4,363.2 584.9,358.7 585.5,360.5 586.0,361.0 586.6,358.5 587.1,359.5 587.7,360.4 588.2,360.5 588.8,359.6 589.3,359.4 589.9,360.3 590.4,360.0 591.0,361.4 591.5,358.7 592.1,359.6 592.6,359.6 593.2,359.8 593.7,359.9 594.2,359.0 594.8,359.0 595.4,361.0 595.9,359.6 596.5,358.6 597.0,360.4 597.6,361.2 598.1,359.7 598.7,357.8 599.2,360.9 599.8,359.2 600.3,357.6 600.9,360.2 601.4,358.1 602.0,360.0 602.5,359.7 603.1,359.0 603.6,358.2 604.2,360.9 604.7,358.0 605.2,360.3 605.8,358.5 606.4,359.7 606.9,357.8 607.5,358.5 608.0,361.2 608.6,361.8 609.1,359.0 609.7,360.8 610.2,360.5 610.8,361.1 611.3,358.8 611.9,359.4 612.4,357.8 613.0,361.4 613.5,357.8 614.1,358.3 614.6,359.8 615.2,356.5 615.7,360.8 616.2,360.5 616.8,359.4 617.4,358.5 617.9,358.9 618.5,359.3 619.0,358.8 619.6,357.2 620.1,354.7 620.7,358.4 621.2,358.0 621.8,361.1 622.3,359.7 622.9,359.0 623.4,360.8 624.0,357.8 624.5,361.1 625.1,360.2 625.6,358.3 626.2,360.1 626.7,357.3 627.2,360.0 627.8,360.8 628.4,358.2 628.9,362.5 629.5,359.8 630.0,360.2 630.6,356.9 631.1,357.6 631.7,359.3 632.2,359.2 632.8,359.4 633.3,358.6 633.9,358.5 634.4,360.5 635.0,359.3 635.5,360.6 636.1,360.2 636.6,359.2 637.2,360.6 637.7,358.7 638.2,361.6 638.8,361.2 639.4,361.1 639.9,358.4 640.5,360.8 641.0,360.3 641.6,359.5 642.1,361.1 642.7,360.5 643.2,358.9 643.8,360.2 644.3,360.3" fill="none" stroke="#3a3a3a" stroke-width="0.8" />
<path d="M41.5,359.7 43.5,359.7 45.5,359.7 47.5,359.7 49.5,359.7 51.5,359.7 53.5,359.7 55.5,359.7 57.5,359.7 59.5,359.7 61.5,359.7 63.5,359.7 65.5,359.7 67.5,359.7 69.5,359.7 71.5,359.7 73.5,359.7 75.5,359.7 77.5,359.7 79.5,359.7 81.5,359.7 83.5,359.7 85.5,359.6 87.5,359.6 89.5,359.6 91.5,359.6 93.5,359.6 95.5,359.6 97.5,359.6 99.5,359.6 101.5,359.6 103.5,359.6 105.5,359.6 107.5,359.6 109.5,359.6 111.5,359.6 113.5,359.5 115.5,359.5 117.5,359.5 119.5,359.5 121.5,359.5 123.5,359.5 125.5,359.5 127.5,359.5 129.5,359.4 131.5,359.4 133.5,359.4 135.5,359.4 137.5,359.4 139.5,359.4 141.5,359.3 143.5,359.3 145.5,359.3 147.5,359.3 149.5,359.2 151.5,359.2 153.5,359.1 155.5,359.1 157.5,359.0 159.5,359.0 161.5,358.9 163.5,358.9 165.5,358.8 167.5,358.7 169.5,358.6 171.5,358.5 173.5,358.4 175.5,358.3 177.5,358.2 179.5,358.0 181.5,357.9 183.5,357.7 185.5,357.5 187.5,357.3 189.5,357.1 191.5,356.8 193.5,356.6 195.5,356.3 197.5,356.0 199.5,355.7 201.5,355.3 203.5,354.9 205.5,354.6 207.5,354.2 209.5,353.7 211.5,353.3 213.5,352.8 215.5,352.3 217.5,351.8 219.5,351.2 221.5,350.7 223.5,350.1 225.5,349.5 227.5,348.9 229.5,348.3 231.5,347.6 233.5,347.0 235.5,346.3 237.5,345.7 239.5,345.0 241.5,344.4 243.5,343.7 245.5,343.1 247.5,342.5 249.5,341.9 251.5,341.2 253.5,340.7 255.5,340.1 257.5,339.6 259.5,339.0 261.5,338.5 263.5,338.0 265.5,337.6 267.5,337.1 269.5,336.7 271.5,336.2 273.5,335.8 275.5,335.4 277.5,334.9 279.5,334.5 281.5,334.0 283.5,333.6 285.5,333.1 287.5,332.6 289.5,332.0 291.5,331.5 293.5,330.9 295.5,330.3 297.5,329.6 299.5,329.0 301.5,328.3 303.5,327.6 305.5,326.8 307.5,326.1 309.5,325.3 311.5,324.5 313.5,323.7 315.5,322.9 317.5,322.2 319.5,321.4 321.5,320.6 323.5,319.8 325.5,319.1 327.5,318.4 329.5,317.7 331.5,317.0 333.5,316.4 335.5,315.8 337.5,315.3 339.5,314.8 341.5,314.4 343.5,314.1 345.5,313.8 347.5,313.6 349.5,313.4 351.5,313.3 353.5,313.3 355.5,313.4 357.5,313.5 359.5,313.7 361.5,314.0 363.5,314.3 365.5,314.7 367.5,315.2 369.5,315.7 371.5,316.3 373.5,316.9 375.5,317.6 377.5,318.3 379.5,319.1 381.5,319.9 383.5,320.7 385.5,321.6 387.5,322.5 389.5,323.5 391.5,324.4 393.5,325.4 395.5,326.4 397.5,327.4 399.5,328.4 401.5,329.5 403.5,330.5 405.5,331.5 407.5,332.6 409.5,333.6 411.5,334.7 413.5,335.7 415.5,336.8 417.5,337.8 419.5,338.9 421.5,339.9 423.5,340.9 425.5,341.9 427.5,342.9 429.5,343.9 431.5,344.8 433.5,345.7 435.5,346.6 437.5,347.5 439.5,348.4 441.5,349.2 443.5,350.0 445.5,350.7 447.5,351.5 449.5,352.1 451.5,352.8 453.5,353.4 455.5,354.0 457.5,354.5 459.5,355.0 461.5,355.5 463.5,355.9 465.5,356.3 467.5,356.7 469.5,357.0 471.5,357.3 473.5,357.6 475.5,357.8 477.5,358.1 479.5,358.3 481.5,358.5 483.5,358.6 485.5,358.8 487.5,358.9 489.5,359.0 491.5,359.1 493.5,359.2 495.5,359.3 497.5,359.3 499.5,359.4 501.5,359.4 503.5,359.5 505.5,359.5 507.5,359.6 509.5,359.6 511.5,359.6 513.5,359.6 515.5,359.7 517.5,359.7 519.5,359.7 521.5,359.7 523.5,359.7 525.5,359.7 527.5,359.7 529.5,359.8 531.5,359.8 533.5,359.8 535.5,359.8 537.5,359.8 539.5,359.8 541.5,359.8 543.5,359.8 545.5,359.8 547.5,359.8 549.5,359.8 551.5,359.8 553.5,359.8 555.5,359.8 557.5,359.8 559.5,359.8 561.5,359.8 563.5,359.8 565.5,359.8 567.5,359.8 569.5,359.8 571.5,359.8 573.5,359.8 575.5,359.8 577.5,359.8 579.5,359.8 581.5,359.8 583.5,359.8 585.5,359.8 587.5,359.8 589.5,359.8 591.5,359.8 593.5,359.8 595.5,359.8 597.5,359.8 599.5,359.8 601.5,359.8 603.5,359.8 605.5,359.8 607.5,359.8 609.5,359.8 611.5,359.8 613.5,359.8 615.5,359.8 617.5,359.8 619.5,359.8 621.5,359.8 623.5,359.8 625.5,359.8 627.5,359.8 629.5,359.8 631.5,359.8 633.5,359.8 635.5,359.8 637.5,359.8 639.5,359.8 641.5,359.8 643.5,359.8" fill="none" stroke="#a374e6" stroke-width="1.3" />
<text x="668.8" y="368" font-size="32.3" textLength="103.95" lengthAdjust="spacingAndGlyphs" >−0.25 V</text>
<path d="M109.5,423.9 111.5,423.8 113.5,423.8 115.5,423.8 117.5,423.8 119.5,423.8 121.5,423.8 123.5,423.8 125.5,423.8 127.5,423.8 129.5,423.7 131.5,423.7 133.5,423.7 135.5,423.7 137.5,423.7 139.5,423.6 141.5,423.6 143.5,423.6 145.5,423.6 147.5,423.5 149.5,423.5 151.5,423.5 153.5,423.4 155.5,423.4 157.5,423.3 159.5,423.3 161.5,423.2 163.5,423.1 165.5,423.1 167.5,423.0 169.5,422.9 171.5,422.8 173.5,422.7 175.5,422.6 177.5,422.4 179.5,422.3 181.5,422.1 183.5,422.0 185.5,421.8 187.5,421.6 189.5,421.4 191.5,421.1 193.5,420.9 195.5,420.6 197.5,420.3 199.5,420.0 201.5,419.7 203.5,419.3 205.5,419.0 207.5,418.6 209.5,418.2 211.5,417.8 213.5,417.3 215.5,416.9 217.5,416.4 219.5,415.9 221.5,415.5 223.5,415.0 225.5,414.5 227.5,414.0 229.5,413.5 231.5,413.0 233.5,412.5 235.5,412.0 237.5,411.5 239.5,411.1 241.5,410.7 243.5,410.3 245.5,409.9 247.5,409.6 249.5,409.3 251.5,409.0 253.5,408.8 255.5,408.7 257.5,408.5 259.5,408.5 261.5,408.5 263.5,408.6 265.5,408.7 267.5,408.9 269.5,409.1 271.5,409.3 273.5,409.6 275.5,410.0 277.5,410.4 279.5,410.8 281.5,411.2 283.5,411.7 285.5,412.1 287.5,412.6 289.5,413.1 291.5,413.6 293.5,414.1 295.5,414.6 297.5,415.1 299.5,415.6 301.5,416.1 303.5,416.6 305.5,417.0 307.5,417.5 309.5,417.9 311.5,418.3 313.5,418.7 315.5,419.1 317.5,419.4 319.5,419.8 321.5,420.1 323.5,420.4 325.5,420.7 327.5,420.9 329.5,421.2 331.5,421.4 333.5,421.6 335.5,421.8 337.5,422.0 339.5,422.2 341.5,422.3 343.5,422.5 345.5,422.6 347.5,422.7 349.5,422.8 351.5,422.9 353.5,423.0 355.5,423.1 357.5,423.2 359.5,423.2 361.5,423.3 363.5,423.3 365.5,423.4 367.5,423.4 369.5,423.5 371.5,423.5 373.5,423.5 375.5,423.6 377.5,423.6 379.5,423.6 381.5,423.6 383.5,423.7 385.5,423.7 387.5,423.7 389.5,423.7 391.5,423.7 393.5,423.8 395.5,423.8 397.5,423.8 399.5,423.8 401.5,423.8 403.5,423.8 405.5,423.8 407.5,423.8 409.5,423.8 L409.5,424.2 L109.5,424.2Z" fill="#ee3a44" stroke="none" stroke-width="1" />
<path d="M189.5,424.1 191.5,424.1 193.5,424.1 195.5,424.1 197.5,424.1 199.5,424.1 201.5,424.0 203.5,424.0 205.5,424.0 207.5,423.9 209.5,423.9 211.5,423.9 213.5,423.8 215.5,423.7 217.5,423.7 219.5,423.6 221.5,423.5 223.5,423.4 225.5,423.3 227.5,423.2 229.5,423.1 231.5,423.0 233.5,422.8 235.5,422.6 237.5,422.5 239.5,422.3 241.5,422.0 243.5,421.8 245.5,421.5 247.5,421.2 249.5,420.9 251.5,420.6 253.5,420.2 255.5,419.8 257.5,419.4 259.5,419.0 261.5,418.5 263.5,417.9 265.5,417.4 267.5,416.8 269.5,416.2 271.5,415.5 273.5,414.8 275.5,414.1 277.5,413.3 279.5,412.5 281.5,411.7 283.5,410.8 285.5,409.9 287.5,408.9 289.5,407.9 291.5,406.9 293.5,405.9 295.5,404.8 297.5,403.7 299.5,402.6 301.5,401.5 303.5,400.4 305.5,399.3 307.5,398.1 309.5,397.0 311.5,395.8 313.5,394.7 315.5,393.6 317.5,392.5 319.5,391.4 321.5,390.4 323.5,389.4 325.5,388.4 327.5,387.5 329.5,386.6 331.5,385.8 333.5,385.0 335.5,384.3 337.5,383.7 339.5,383.1 341.5,382.6 343.5,382.2 345.5,381.9 347.5,381.6 349.5,381.4 351.5,381.3 353.5,381.3 355.5,381.4 357.5,381.5 359.5,381.7 361.5,382.0 363.5,382.4 365.5,382.9 367.5,383.4 369.5,384.0 371.5,384.7 373.5,385.4 375.5,386.2 377.5,387.1 379.5,388.0 381.5,388.9 383.5,389.9 385.5,390.9 387.5,392.0 389.5,393.1 391.5,394.2 393.5,395.3 395.5,396.4 397.5,397.6 399.5,398.7 401.5,399.8 403.5,401.0 405.5,402.1 407.5,403.2 409.5,404.3 411.5,405.4 413.5,406.4 415.5,407.4 417.5,408.4 419.5,409.4 421.5,410.3 423.5,411.2 425.5,412.1 427.5,412.9 429.5,413.7 431.5,414.5 433.5,415.2 435.5,415.9 437.5,416.5 439.5,417.1 441.5,417.7 443.5,418.2 445.5,418.7 447.5,419.2 449.5,419.6 451.5,420.0 453.5,420.4 455.5,420.8 457.5,421.1 459.5,421.4 461.5,421.7 463.5,421.9 465.5,422.2 467.5,422.4 469.5,422.6 471.5,422.7 473.5,422.9 475.5,423.0 477.5,423.2 479.5,423.3 481.5,423.4 483.5,423.5 485.5,423.6 487.5,423.6 489.5,423.7 491.5,423.8 493.5,423.8 495.5,423.9 497.5,423.9 499.5,424.0 501.5,424.0 503.5,424.0 505.5,424.0 507.5,424.1 509.5,424.1 511.5,424.1 513.5,424.1 515.5,424.1 L515.5,424.2 L189.5,424.2Z" fill="url(#gBlueA)" stroke="none" stroke-width="1" fill-opacity="0.5"/>
<path d="M321.5,424.2 323.5,424.2 325.5,424.2 327.5,424.2 329.5,424.2 331.5,424.2 333.5,424.2 335.5,424.2 337.5,424.1 339.5,424.1 341.5,424.1 343.5,424.1 345.5,424.1 347.5,424.1 349.5,424.0 351.5,424.0 353.5,423.9 355.5,423.9 357.5,423.8 359.5,423.8 361.5,423.7 363.5,423.6 365.5,423.5 367.5,423.4 369.5,423.3 371.5,423.2 373.5,423.1 375.5,422.9 377.5,422.7 379.5,422.6 381.5,422.4 383.5,422.2 385.5,422.0 387.5,421.8 389.5,421.6 391.5,421.4 393.5,421.2 395.5,421.0 397.5,420.8 399.5,420.6 401.5,420.4 403.5,420.3 405.5,420.1 407.5,420.0 409.5,419.8 411.5,419.8 413.5,419.7 415.5,419.6 417.5,419.6 419.5,419.6 421.5,419.6 423.5,419.7 425.5,419.8 427.5,419.8 429.5,420.0 431.5,420.1 433.5,420.3 435.5,420.4 437.5,420.6 439.5,420.8 441.5,421.0 443.5,421.2 445.5,421.4 447.5,421.6 449.5,421.8 451.5,422.0 453.5,422.2 455.5,422.4 457.5,422.6 459.5,422.7 461.5,422.9 463.5,423.1 465.5,423.2 467.5,423.3 469.5,423.4 471.5,423.5 473.5,423.6 475.5,423.7 477.5,423.8 479.5,423.8 481.5,423.9 483.5,423.9 485.5,424.0 487.5,424.0 489.5,424.1 491.5,424.1 493.5,424.1 495.5,424.1 497.5,424.1 499.5,424.1 501.5,424.2 503.5,424.2 505.5,424.2 507.5,424.2 509.5,424.2 511.5,424.2 513.5,424.2 515.5,424.2 L515.5,424.2 L321.5,424.2Z" fill="#2e8b3c" stroke="none" stroke-width="1" />
<line x1="155" y1="424.2" x2="505" y2="424.2" stroke="#3d9a62" stroke-width="1.4" />
<path d="M189.5,424.1 191.5,424.1 193.5,424.1 195.5,424.1 197.5,424.1 199.5,424.1 201.5,424.0 203.5,424.0 205.5,424.0 207.5,423.9 209.5,423.9 211.5,423.9 213.5,423.8 215.5,423.7 217.5,423.7 219.5,423.6 221.5,423.5 223.5,423.4 225.5,423.3 227.5,423.2 229.5,423.1 231.5,423.0 233.5,422.8 235.5,422.6 237.5,422.5 239.5,422.3 241.5,422.0 243.5,421.8 245.5,421.5 247.5,421.2 249.5,420.9 251.5,420.6 253.5,420.2 255.5,419.8 257.5,419.4 259.5,419.0 261.5,418.5 263.5,417.9 265.5,417.4 267.5,416.8 269.5,416.2 271.5,415.5 273.5,414.8 275.5,414.1 277.5,413.3 279.5,412.5 281.5,411.7 283.5,410.8 285.5,409.9 287.5,408.9 289.5,407.9 291.5,406.9 293.5,405.9 295.5,404.8 297.5,403.7 299.5,402.6 301.5,401.5 303.5,400.4 305.5,399.3 307.5,398.1 309.5,397.0 311.5,395.8 313.5,394.7 315.5,393.6 317.5,392.5 319.5,391.4 321.5,390.4 323.5,389.4 325.5,388.4 327.5,387.5 329.5,386.6 331.5,385.8 333.5,385.0 335.5,384.3 337.5,383.7 339.5,383.1 341.5,382.6 343.5,382.2 345.5,381.9 347.5,381.6 349.5,381.4 351.5,381.3 353.5,381.3 355.5,381.4 357.5,381.5 359.5,381.7 361.5,382.0 363.5,382.4 365.5,382.9 367.5,383.4 369.5,384.0 371.5,384.7 373.5,385.4 375.5,386.2 377.5,387.1 379.5,388.0 381.5,388.9 383.5,389.9 385.5,390.9 387.5,392.0 389.5,393.1 391.5,394.2 393.5,395.3 395.5,396.4 397.5,397.6 399.5,398.7 401.5,399.8 403.5,401.0 405.5,402.1 407.5,403.2 409.5,404.3 411.5,405.4 413.5,406.4 415.5,407.4 417.5,408.4 419.5,409.4 421.5,410.3 423.5,411.2 425.5,412.1 427.5,412.9 429.5,413.7 431.5,414.5 433.5,415.2 435.5,415.9 437.5,416.5 439.5,417.1 441.5,417.7 443.5,418.2 445.5,418.7 447.5,419.2 449.5,419.6 451.5,420.0 453.5,420.4 455.5,420.8 457.5,421.1 459.5,421.4 461.5,421.7 463.5,421.9 465.5,422.2 467.5,422.4 469.5,422.6 471.5,422.7 473.5,422.9 475.5,423.0 477.5,423.2 479.5,423.3 481.5,423.4 483.5,423.5 485.5,423.6 487.5,423.6 489.5,423.7 491.5,423.8 493.5,423.8 495.5,423.9 497.5,423.9 499.5,424.0 501.5,424.0 503.5,424.0 505.5,424.0 507.5,424.1 509.5,424.1 511.5,424.1 513.5,424.1 515.5,424.1" fill="none" stroke="#2b3cf0" stroke-width="1.1" />
<path d="M41.5,426.3 42.0,424.9 42.6,422.2 43.1,423.9 43.7,424.6 44.2,423.1 44.8,425.1 45.4,423.8 45.9,424.3 46.5,425.2 47.0,423.0 47.5,424.2 48.1,425.1 48.6,425.0 49.2,423.6 49.8,423.2 50.3,422.8 50.9,426.3 51.4,422.9 52.0,424.9 52.5,424.5 53.0,423.8 53.6,424.6 54.1,423.1 54.7,423.5 55.2,422.6 55.8,424.0 56.4,423.0 56.9,426.8 57.5,424.9 58.0,423.7 58.5,424.4 59.1,424.4 59.7,424.4 60.2,424.3 60.8,422.8 61.3,423.3 61.9,425.4 62.4,424.8 63.0,422.2 63.5,422.4 64.0,422.2 64.6,425.3 65.2,426.1 65.7,423.9 66.2,422.2 66.8,423.6 67.3,424.6 67.9,424.6 68.5,424.1 69.0,424.2 69.5,424.4 70.1,426.4 70.7,424.0 71.2,424.2 71.8,423.4 72.3,421.9 72.8,422.0 73.4,424.9 74.0,422.4 74.5,422.7 75.1,423.0 75.6,424.2 76.2,423.7 76.7,424.5 77.2,424.1 77.8,424.7 78.3,423.7 78.9,424.0 79.5,424.5 80.0,423.5 80.6,426.0 81.1,422.3 81.7,423.9 82.2,423.7 82.8,423.3 83.3,424.0 83.8,423.3 84.4,426.4 85.0,425.9 85.5,421.3 86.1,424.8 86.6,425.0 87.2,425.9 87.7,424.5 88.2,423.0 88.8,426.8 89.3,421.5 89.9,425.1 90.5,425.3 91.0,424.7 91.6,421.8 92.1,426.1 92.7,426.1 93.2,424.8 93.8,425.5 94.3,423.7 94.8,425.3 95.4,423.0 96.0,426.4 96.5,426.3 97.1,423.0 97.6,424.7 98.2,424.1 98.7,423.2 99.2,423.0 99.8,425.0 100.3,422.1 100.9,426.7 101.5,423.6 102.0,424.2 102.6,423.7 103.1,424.6 103.7,425.9 104.2,427.6 104.8,421.4 105.3,424.3 105.9,422.5 106.4,423.7 107.0,423.4 107.5,423.4 108.1,424.4 108.6,423.3 109.2,423.9 109.7,424.4 110.2,423.6 110.8,424.4 111.4,425.5 111.9,424.4 112.5,425.1 113.0,423.9 113.6,425.0 114.1,422.3 114.7,422.0 115.2,424.2 115.8,421.9 116.3,421.5 116.9,425.0 117.4,424.0 118.0,423.1 118.5,425.3 119.1,423.8 119.6,423.4 120.2,421.6 120.7,422.6 121.2,423.9 121.8,423.8 122.4,422.8 122.9,423.7 123.5,424.0 124.0,423.2 124.6,424.7 125.1,424.0 125.7,422.8 126.2,425.5 126.8,422.8 127.3,425.8 127.9,425.7 128.4,422.6 128.9,424.3 129.5,425.1 130.1,422.1 130.6,424.6 131.2,425.2 131.7,425.2 132.2,425.8 132.8,422.6 133.4,421.5 133.9,422.5 134.4,422.3 135.0,423.5 135.6,426.4 136.1,421.5 136.7,424.8 137.2,425.9 137.8,423.9 138.3,422.5 138.9,422.2 139.4,420.7 139.9,424.1 140.5,423.3 141.1,424.1 141.6,421.0 142.2,423.9 142.7,424.0 143.2,424.7 143.8,424.1 144.4,420.4 144.9,423.5 145.4,427.2 146.0,424.9 146.6,423.2 147.1,420.8 147.7,422.1 148.2,423.8 148.8,423.9 149.3,423.6 149.9,424.4 150.4,422.7 150.9,423.1 151.5,422.7 152.1,423.6 152.6,422.6 153.2,422.3 153.7,423.3 154.2,425.4 154.8,423.7 155.4,423.2 155.9,424.0 156.4,423.5 157.0,423.2 157.6,424.2 158.1,424.1 158.7,425.4 159.2,423.6 159.8,422.2 160.3,422.6 160.9,422.3 161.4,423.1 161.9,422.3 162.5,422.2 163.1,421.4 163.6,420.9 164.2,423.8 164.7,424.4 165.2,423.7 165.8,421.9 166.4,423.9 166.9,422.6 167.5,423.6 168.0,420.6 168.6,425.5 169.1,424.6 169.7,421.3 170.2,424.1 170.8,422.8 171.3,423.3 171.9,422.2 172.4,421.7 173.0,423.6 173.5,421.8 174.1,421.1 174.6,423.3 175.2,423.1 175.7,419.8 176.2,422.7 176.8,421.8 177.4,421.7 177.9,424.0 178.5,420.9 179.0,420.9 179.6,424.1 180.1,422.0 180.7,421.9 181.2,423.1 181.8,422.9 182.3,420.9 182.9,421.8 183.4,420.3 184.0,424.2 184.5,421.1 185.1,423.0 185.6,420.4 186.2,423.1 186.7,421.3 187.2,424.3 187.8,420.4 188.4,421.0 188.9,420.5 189.5,419.1 190.0,422.7 190.6,423.0 191.1,420.4 191.7,423.0 192.2,423.1 192.8,420.8 193.3,420.4 193.9,419.6 194.4,420.0 195.0,417.1 195.5,419.3 196.1,422.2 196.6,418.7 197.2,421.0 197.7,420.1 198.2,420.1 198.8,418.2 199.4,420.1 199.9,419.5 200.5,418.3 201.0,419.5 201.6,419.1 202.1,419.1 202.7,420.2 203.2,419.1 203.8,417.7 204.3,418.5 204.9,418.0 205.4,419.8 206.0,420.5 206.5,415.7 207.1,419.1 207.6,418.7 208.2,418.4 208.7,415.8 209.2,416.4 209.8,418.6 210.4,417.8 210.9,418.3 211.5,416.2 212.0,418.7 212.6,419.1 213.1,418.0 213.7,417.2 214.2,417.9 214.8,416.9 215.3,415.8 215.9,416.1 216.4,417.2 217.0,414.1 217.5,416.8 218.1,413.9 218.6,415.8 219.2,416.4 219.7,415.5 220.3,415.7 220.8,415.0 221.4,414.4 221.9,414.2 222.5,414.0 223.0,415.5 223.6,414.6 224.1,414.1 224.7,415.5 225.2,413.7 225.8,411.6 226.3,413.7 226.9,413.1 227.4,412.8 228.0,411.8 228.5,412.2 229.1,411.9 229.6,412.0 230.2,413.5 230.7,410.5 231.3,412.7 231.8,410.5 232.4,411.4 232.9,410.8 233.5,410.0 234.0,410.2 234.6,409.4 235.1,409.7 235.7,410.2 236.2,410.4 236.8,412.9 237.3,413.4 237.9,407.9 238.4,411.2 239.0,409.2 239.5,407.6 240.1,408.9 240.6,412.2 241.2,407.8 241.7,410.5 242.3,408.7 242.8,407.1 243.4,409.6 243.9,405.5 244.5,406.4 245.0,405.5 245.6,407.8 246.1,405.9 246.7,406.6 247.2,406.5 247.8,405.2 248.3,406.8 248.9,407.4 249.4,406.4 250.0,409.4 250.5,405.6 251.1,404.1 251.6,408.8 252.2,403.8 252.7,406.3 253.3,405.9 253.8,404.9 254.4,403.7 254.9,400.8 255.5,403.1 256.0,403.6 256.6,405.5 257.1,404.7 257.6,404.1 258.2,403.7 258.8,401.4 259.3,404.4 259.9,404.5 260.4,402.7 261.0,402.3 261.5,404.4 262.1,401.8 262.6,401.6 263.1,401.6 263.7,401.9 264.2,401.4 264.8,399.4 265.4,403.1 265.9,402.1 266.5,402.6 267.0,400.1 267.6,403.5 268.1,401.3 268.6,404.2 269.2,400.3 269.8,403.8 270.3,401.7 270.9,401.8 271.4,401.8 272.0,398.0 272.5,401.7 273.1,401.7 273.6,400.0 274.1,399.3 274.7,401.4 275.2,401.6 275.8,399.9 276.4,398.4 276.9,400.8 277.5,401.0 278.0,398.7 278.6,400.0 279.1,398.5 279.6,399.3 280.2,399.0 280.8,399.5 281.3,401.5 281.9,399.1 282.4,397.3 283.0,399.0 283.5,398.9 284.1,397.4 284.6,398.6 285.1,397.5 285.7,396.1 286.2,398.5 286.8,397.0 287.4,396.8 287.9,396.7 288.5,397.4 289.0,398.5 289.6,398.0 290.1,396.7 290.7,398.6 291.2,395.7 291.8,395.8 292.3,395.6 292.9,396.0 293.4,397.0 294.0,394.1 294.5,395.2 295.1,396.4 295.6,396.4 296.2,396.2 296.7,394.8 297.2,395.8 297.8,396.8 298.4,396.2 298.9,395.4 299.5,393.9 300.0,392.9 300.6,392.9 301.1,392.0 301.7,394.1 302.2,392.7 302.8,394.0 303.3,393.8 303.9,391.8 304.4,392.5 305.0,391.1 305.5,391.9 306.1,390.8 306.6,389.2 307.2,389.9 307.7,390.3 308.2,390.5 308.8,390.6 309.4,390.8 309.9,392.3 310.5,390.5 311.0,390.1 311.6,389.5 312.1,389.2 312.7,390.4 313.2,388.4 313.8,388.1 314.3,388.4 314.9,389.3 315.4,386.7 316.0,390.8 316.5,388.5 317.1,385.1 317.6,387.9 318.2,385.9 318.7,386.6 319.2,387.4 319.8,386.7 320.4,389.4 320.9,386.5 321.5,386.4 322.0,389.2 322.6,385.1 323.1,384.6 323.7,386.0 324.2,384.9 324.8,384.2 325.3,384.9 325.9,385.6 326.4,385.2 327.0,384.9 327.5,384.8 328.1,383.5 328.6,383.8 329.2,383.9 329.7,384.4 330.2,383.6 330.8,381.3 331.4,384.2 331.9,381.4 332.5,383.2 333.0,383.8 333.6,382.5 334.1,380.6 334.7,382.0 335.2,379.6 335.8,380.0 336.3,380.8 336.9,383.2 337.4,380.9 338.0,380.3 338.5,381.3 339.1,381.7 339.6,380.8 340.2,382.0 340.7,382.3 341.2,380.5 341.8,378.5 342.4,379.9 342.9,380.0 343.5,381.1 344.0,380.3 344.6,380.6 345.1,381.8 345.7,381.5 346.2,378.1 346.8,381.0 347.3,379.1 347.9,379.7 348.4,380.0 349.0,380.2 349.5,379.9 350.1,382.7 350.6,378.1 351.2,380.6 351.7,379.6 352.2,382.3 352.8,380.3 353.4,380.4 353.9,380.3 354.5,378.7 355.0,379.5 355.6,377.7 356.1,378.6 356.7,381.3 357.2,379.5 357.8,378.9 358.3,377.4 358.9,381.0 359.4,379.6 360.0,379.2 360.5,376.8 361.1,377.9 361.6,382.9 362.2,380.4 362.7,381.4 363.2,382.1 363.8,381.0 364.4,382.6 364.9,380.2 365.5,379.7 366.0,382.9 366.6,382.0 367.1,378.0 367.7,381.0 368.2,381.1 368.8,383.5 369.3,380.5 369.9,382.2 370.4,382.2 371.0,381.2 371.5,382.8 372.1,383.3 372.6,383.2 373.2,383.0 373.7,383.4 374.2,383.9 374.8,384.0 375.4,384.6 375.9,384.0 376.5,382.2 377.0,385.8 377.6,385.4 378.1,385.3 378.7,385.9 379.2,385.2 379.8,387.2 380.3,385.5 380.9,385.6 381.4,387.7 382.0,386.4 382.5,385.1 383.1,389.7 383.6,388.6 384.2,386.9 384.7,385.3 385.2,389.3 385.8,387.1 386.4,390.1 386.9,389.0 387.5,389.6 388.0,390.0 388.6,388.2 389.1,388.4 389.7,390.6 390.2,389.7 390.8,391.5 391.3,391.0 391.9,393.6 392.4,391.5 393.0,390.8 393.5,392.2 394.1,391.3 394.6,393.3 395.2,392.7 395.7,391.3 396.3,393.7 396.8,395.2 397.4,394.7 397.9,394.2 398.5,391.9 399.0,394.8 399.6,394.6 400.1,395.3 400.7,393.2 401.2,397.2 401.8,396.9 402.3,395.7 402.9,398.6 403.4,396.5 404.0,396.1 404.5,397.3 405.1,395.7 405.6,396.0 406.2,398.3 406.7,397.4 407.3,400.6 407.8,398.2 408.4,397.7 408.9,397.5 409.5,397.1 410.0,399.8 410.6,400.5 411.1,400.0 411.7,400.9 412.2,400.6 412.8,403.2 413.3,400.7 413.9,401.2 414.4,403.5 415.0,402.0 415.5,401.7 416.1,402.0 416.6,404.0 417.2,405.7 417.7,403.9 418.3,405.2 418.8,403.1 419.4,403.7 419.9,405.1 420.5,406.8 421.0,404.2 421.6,406.4 422.1,403.0 422.7,407.9 423.2,405.5 423.8,407.0 424.3,406.4 424.9,406.6 425.4,406.4 426.0,406.9 426.5,406.8 427.1,408.8 427.6,406.7 428.2,407.0 428.7,409.8 429.3,408.5 429.8,408.8 430.4,410.6 430.9,408.3 431.5,410.7 432.0,410.1 432.6,411.3 433.1,409.3 433.7,410.8 434.2,413.7 434.8,411.4 435.3,411.7 435.9,414.3 436.4,411.6 437.0,412.6 437.5,415.4 438.1,412.7 438.6,414.9 439.2,414.8 439.7,414.4 440.3,415.5 440.8,415.0 441.4,413.1 441.9,414.6 442.5,413.7 443.0,413.7 443.6,415.2 444.1,415.1 444.7,416.2 445.2,413.5 445.8,414.9 446.3,418.7 446.9,415.3 447.4,419.2 448.0,415.0 448.5,415.7 449.1,414.8 449.6,416.4 450.2,418.1 450.7,417.8 451.3,418.1 451.8,419.1 452.4,417.8 452.9,415.2 453.5,416.7 454.0,418.7 454.6,421.6 455.1,417.2 455.7,417.7 456.2,417.1 456.8,418.7 457.3,416.2 457.9,421.1 458.4,419.3 459.0,420.4 459.5,418.8 460.1,419.4 460.6,419.6 461.2,420.9 461.7,422.3 462.3,419.4 462.8,418.1 463.4,422.1 463.9,422.0 464.5,420.5 465.0,420.5 465.6,422.4 466.1,421.0 466.7,420.0 467.2,421.0 467.8,419.9 468.3,422.0 468.9,421.5 469.4,418.6 470.0,422.8 470.5,420.7 471.1,421.0 471.6,423.0 472.2,421.8 472.7,421.9 473.3,421.4 473.8,422.7 474.4,422.4 474.9,421.2 475.5,423.9 476.0,421.8 476.6,420.6 477.1,423.1 477.7,422.4 478.2,421.9 478.8,421.1 479.3,420.8 479.9,421.8 480.4,422.6 481.0,421.5 481.5,422.6 482.1,423.4 482.6,423.7 483.2,424.0 483.7,424.0 484.3,424.1 484.8,424.0 485.4,422.8 485.9,422.6 486.5,422.7 487.0,423.6 487.6,424.8 488.1,422.5 488.7,422.8 489.2,421.5 489.8,422.8 490.3,425.2 490.9,423.1 491.4,425.9 492.0,424.7 492.5,425.4 493.1,425.5 493.6,424.2 494.2,424.9 494.7,425.2 495.3,423.4 495.8,423.5 496.4,422.0 496.9,421.5 497.5,424.2 498.0,424.8 498.6,424.0 499.1,420.8 499.7,424.3 500.2,423.4 500.8,423.1 501.3,424.9 501.9,423.8 502.4,423.6 503.0,425.5 503.5,423.1 504.1,424.2 504.6,423.0 505.2,425.1 505.7,423.4 506.3,423.9 506.8,423.3 507.4,423.6 507.9,424.0 508.5,424.1 509.0,423.8 509.6,424.6 510.1,422.9 510.7,421.9 511.2,422.8 511.8,426.0 512.3,423.8 512.9,423.3 513.4,422.2 514.0,424.2 514.5,425.3 515.0,424.4 515.6,422.4 516.2,422.5 516.7,426.0 517.2,423.4 517.8,423.8 518.4,426.0 518.9,424.2 519.5,422.9 520.0,425.1 520.5,425.0 521.1,423.0 521.7,422.6 522.2,425.6 522.8,422.8 523.3,422.5 523.9,422.0 524.4,424.3 525.0,424.1 525.5,423.4 526.0,424.6 526.6,424.1 527.2,423.4 527.7,424.0 528.2,423.1 528.8,424.5 529.4,425.3 529.9,425.3 530.5,422.3 531.0,421.6 531.5,423.1 532.1,422.7 532.7,423.5 533.2,424.8 533.8,423.9 534.3,421.8 534.9,424.9 535.4,421.1 536.0,422.5 536.5,422.5 537.1,421.7 537.6,426.1 538.2,422.4 538.7,423.0 539.2,422.9 539.8,428.2 540.4,423.6 540.9,425.2 541.5,423.2 542.0,424.2 542.6,423.0 543.1,424.2 543.7,425.4 544.2,426.7 544.8,423.0 545.3,424.2 545.9,425.7 546.4,423.3 547.0,422.8 547.5,425.7 548.1,424.6 548.6,423.7 549.2,424.4 549.7,424.6 550.2,424.9 550.8,424.9 551.4,425.3 551.9,422.5 552.5,423.8 553.0,426.8 553.6,426.1 554.1,423.8 554.7,422.1 555.2,423.0 555.8,424.7 556.3,423.5 556.9,422.6 557.4,425.2 558.0,423.8 558.5,425.7 559.1,423.3 559.6,422.0 560.2,423.5 560.7,423.4 561.2,423.9 561.8,425.6 562.4,426.3 562.9,424.2 563.5,424.3 564.0,423.6 564.6,423.7 565.1,425.5 565.7,423.2 566.2,424.5 566.8,423.7 567.3,423.9 567.9,422.5 568.4,423.4 569.0,427.6 569.5,424.3 570.1,423.4 570.6,424.1 571.2,423.6 571.7,422.1 572.2,422.8 572.8,422.8 573.4,423.1 573.9,425.4 574.5,424.0 575.0,423.4 575.6,424.5 576.1,422.3 576.7,424.9 577.2,424.2 577.8,420.8 578.3,423.0 578.9,425.7 579.4,424.5 580.0,424.6 580.5,425.0 581.1,424.3 581.6,422.6 582.2,424.2 582.7,422.1 583.2,425.2 583.8,424.7 584.4,422.6 584.9,425.0 585.5,420.0 586.0,421.8 586.6,424.9 587.1,421.5 587.7,423.9 588.2,424.5 588.8,425.0 589.3,422.0 589.9,423.4 590.4,424.5 591.0,426.7 591.5,424.0 592.1,421.6 592.6,422.0 593.2,425.2 593.7,423.1 594.2,424.3 594.8,423.1 595.4,425.5 595.9,424.5 596.5,422.0 597.0,424.8 597.6,425.4 598.1,422.6 598.7,423.2 599.2,424.3 599.8,423.9 600.3,423.5 600.9,422.3 601.4,424.0 602.0,425.1 602.5,426.7 603.1,426.0 603.6,426.7 604.2,425.1 604.7,424.4 605.2,425.1 605.8,423.8 606.4,425.7 606.9,425.1 607.5,425.2 608.0,423.6 608.6,424.7 609.1,422.9 609.7,422.7 610.2,425.0 610.8,426.7 611.3,424.0 611.9,425.3 612.4,424.3 613.0,423.5 613.5,424.2 614.1,425.2 614.6,422.1 615.2,425.5 615.7,422.1 616.2,425.0 616.8,425.5 617.4,423.0 617.9,423.4 618.5,421.1 619.0,423.5 619.6,425.0 620.1,425.2 620.7,423.3 621.2,424.4 621.8,424.9 622.3,423.1 622.9,426.3 623.4,425.1 624.0,425.1 624.5,426.8 625.1,423.0 625.6,426.0 626.2,424.0 626.7,423.9 627.2,425.5 627.8,424.5 628.4,422.5 628.9,425.5 629.5,424.7 630.0,425.4 630.6,422.3 631.1,422.1 631.7,424.8 632.2,422.6 632.8,423.8 633.3,425.4 633.9,421.6 634.4,424.0 635.0,423.9 635.5,424.3 636.1,423.5 636.6,424.4 637.2,423.3 637.7,424.3 638.2,423.2 638.8,426.0 639.4,423.7 639.9,425.7 640.5,423.7 641.0,424.4 641.6,423.9 642.1,422.8 642.7,424.3 643.2,423.5 643.8,425.4 644.3,423.8" fill="none" stroke="#3a3a3a" stroke-width="0.8" />
<path d="M41.5,424.0 43.5,424.0 45.5,424.0 47.5,424.0 49.5,424.0 51.5,424.0 53.5,424.0 55.5,424.0 57.5,424.0 59.5,424.0 61.5,424.0 63.5,424.0 65.5,424.0 67.5,424.0 69.5,424.0 71.5,424.0 73.5,424.0 75.5,424.0 77.5,424.0 79.5,424.0 81.5,423.9 83.5,423.9 85.5,423.9 87.5,423.9 89.5,423.9 91.5,423.9 93.5,423.9 95.5,423.9 97.5,423.9 99.5,423.9 101.5,423.9 103.5,423.9 105.5,423.9 107.5,423.9 109.5,423.9 111.5,423.8 113.5,423.8 115.5,423.8 117.5,423.8 119.5,423.8 121.5,423.8 123.5,423.8 125.5,423.8 127.5,423.8 129.5,423.7 131.5,423.7 133.5,423.7 135.5,423.7 137.5,423.7 139.5,423.6 141.5,423.6 143.5,423.6 145.5,423.6 147.5,423.5 149.5,423.5 151.5,423.5 153.5,423.4 155.5,423.4 157.5,423.3 159.5,423.3 161.5,423.2 163.5,423.1 165.5,423.1 167.5,423.0 169.5,422.9 171.5,422.8 173.5,422.7 175.5,422.5 177.5,422.4 179.5,422.3 181.5,422.1 183.5,421.9 185.5,421.7 187.5,421.5 189.5,421.3 191.5,421.0 193.5,420.8 195.5,420.5 197.5,420.2 199.5,419.9 201.5,419.5 203.5,419.1 205.5,418.7 207.5,418.3 209.5,417.9 211.5,417.4 213.5,416.9 215.5,416.4 217.5,415.9 219.5,415.4 221.5,414.8 223.5,414.2 225.5,413.6 227.5,413.0 229.5,412.4 231.5,411.7 233.5,411.1 235.5,410.4 237.5,409.8 239.5,409.1 241.5,408.5 243.5,407.9 245.5,407.2 247.5,406.6 249.5,406.0 251.5,405.4 253.5,404.8 255.5,404.3 257.5,403.8 259.5,403.3 261.5,402.8 263.5,402.3 265.5,401.9 267.5,401.5 269.5,401.1 271.5,400.7 273.5,400.3 275.5,399.9 277.5,399.5 279.5,399.1 281.5,398.7 283.5,398.2 285.5,397.8 287.5,397.3 289.5,396.9 291.5,396.3 293.5,395.8 295.5,395.3 297.5,394.7 299.5,394.1 301.5,393.4 303.5,392.8 305.5,392.1 307.5,391.4 309.5,390.7 311.5,390.0 313.5,389.2 315.5,388.5 317.5,387.7 319.5,387.0 321.5,386.3 323.5,385.6 325.5,384.9 327.5,384.2 329.5,383.6 331.5,383.0 333.5,382.5 335.5,381.9 337.5,381.5 339.5,381.1 341.5,380.7 343.5,380.4 345.5,380.2 347.5,380.0 349.5,379.9 351.5,379.8 353.5,379.9 355.5,380.0 357.5,380.1 359.5,380.3 361.5,380.6 363.5,381.0 365.5,381.4 367.5,381.9 369.5,382.4 371.5,383.0 373.5,383.6 375.5,384.3 377.5,385.0 379.5,385.8 381.5,386.6 383.5,387.4 385.5,388.2 387.5,389.1 389.5,390.0 391.5,390.9 393.5,391.8 395.5,392.8 397.5,393.7 399.5,394.7 401.5,395.7 403.5,396.6 405.5,397.6 407.5,398.6 409.5,399.6 411.5,400.6 413.5,401.6 415.5,402.5 417.5,403.5 419.5,404.5 421.5,405.4 423.5,406.4 425.5,407.3 427.5,408.3 429.5,409.2 431.5,410.1 433.5,411.0 435.5,411.8 437.5,412.6 439.5,413.5 441.5,414.2 443.5,415.0 445.5,415.7 447.5,416.4 449.5,417.0 451.5,417.6 453.5,418.2 455.5,418.8 457.5,419.3 459.5,419.7 461.5,420.2 463.5,420.6 465.5,421.0 467.5,421.3 469.5,421.6 471.5,421.9 473.5,422.1 475.5,422.4 477.5,422.6 479.5,422.8 481.5,422.9 483.5,423.1 485.5,423.2 487.5,423.3 489.5,423.4 491.5,423.5 493.5,423.6 495.5,423.6 497.5,423.7 499.5,423.8 501.5,423.8 503.5,423.8 505.5,423.9 507.5,423.9 509.5,423.9 511.5,424.0 513.5,424.0 515.5,424.0 517.5,424.0 519.5,424.0 521.5,424.0 523.5,424.0 525.5,424.0 527.5,424.1 529.5,424.1 531.5,424.1 533.5,424.1 535.5,424.1 537.5,424.1 539.5,424.1 541.5,424.1 543.5,424.1 545.5,424.1 547.5,424.1 549.5,424.1 551.5,424.1 553.5,424.1 555.5,424.1 557.5,424.1 559.5,424.1 561.5,424.1 563.5,424.1 565.5,424.1 567.5,424.1 569.5,424.1 571.5,424.1 573.5,424.1 575.5,424.1 577.5,424.1 579.5,424.1 581.5,424.1 583.5,424.1 585.5,424.1 587.5,424.1 589.5,424.1 591.5,424.1 593.5,424.1 595.5,424.1 597.5,424.1 599.5,424.1 601.5,424.1 603.5,424.1 605.5,424.1 607.5,424.1 609.5,424.1 611.5,424.1 613.5,424.1 615.5,424.1 617.5,424.1 619.5,424.1 621.5,424.1 623.5,424.1 625.5,424.1 627.5,424.1 629.5,424.1 631.5,424.1 633.5,424.1 635.5,424.1 637.5,424.1 639.5,424.1 641.5,424.1 643.5,424.1" fill="none" stroke="#a374e6" stroke-width="1.3" />
<text x="668.8" y="432.9" font-size="32.3" textLength="103.95" lengthAdjust="spacingAndGlyphs" >−0.35 V</text>
<path d="M109.5,494.7 111.5,494.7 113.5,494.7 115.5,494.6 117.5,494.6 119.5,494.6 121.5,494.6 123.5,494.6 125.5,494.6 127.5,494.6 129.5,494.6 131.5,494.5 133.5,494.5 135.5,494.5 137.5,494.5 139.5,494.5 141.5,494.5 143.5,494.4 145.5,494.4 147.5,494.4 149.5,494.3 151.5,494.3 153.5,494.3 155.5,494.2 157.5,494.2 159.5,494.1 161.5,494.1 163.5,494.0 165.5,493.9 167.5,493.8 169.5,493.8 171.5,493.7 173.5,493.6 175.5,493.4 177.5,493.3 179.5,493.2 181.5,493.0 183.5,492.9 185.5,492.7 187.5,492.5 189.5,492.3 191.5,492.1 193.5,491.8 195.5,491.6 197.5,491.3 199.5,491.0 201.5,490.7 203.5,490.4 205.5,490.0 207.5,489.7 209.5,489.3 211.5,488.9 213.5,488.5 215.5,488.1 217.5,487.6 219.5,487.2 221.5,486.7 223.5,486.3 225.5,485.8 227.5,485.3 229.5,484.8 231.5,484.4 233.5,483.9 235.5,483.5 237.5,483.0 239.5,482.6 241.5,482.2 243.5,481.8 245.5,481.5 247.5,481.2 249.5,480.9 251.5,480.7 253.5,480.5 255.5,480.3 257.5,480.2 259.5,480.2 261.5,480.2 263.5,480.3 265.5,480.4 267.5,480.6 269.5,480.8 271.5,481.0 273.5,481.3 275.5,481.6 277.5,482.0 279.5,482.4 281.5,482.8 283.5,483.2 285.5,483.7 287.5,484.1 289.5,484.6 291.5,485.1 293.5,485.5 295.5,486.0 297.5,486.5 299.5,486.9 301.5,487.4 303.5,487.8 305.5,488.3 307.5,488.7 309.5,489.1 311.5,489.5 313.5,489.9 315.5,490.2 317.5,490.5 319.5,490.9 321.5,491.2 323.5,491.4 325.5,491.7 327.5,492.0 329.5,492.2 331.5,492.4 333.5,492.6 335.5,492.8 337.5,493.0 339.5,493.1 341.5,493.3 343.5,493.4 345.5,493.5 347.5,493.6 349.5,493.7 351.5,493.8 353.5,493.9 355.5,494.0 357.5,494.0 359.5,494.1 361.5,494.1 363.5,494.2 365.5,494.2 367.5,494.3 369.5,494.3 371.5,494.4 373.5,494.4 375.5,494.4 377.5,494.4 379.5,494.5 381.5,494.5 383.5,494.5 385.5,494.5 387.5,494.5 389.5,494.6 391.5,494.6 393.5,494.6 395.5,494.6 397.5,494.6 399.5,494.6 401.5,494.6 403.5,494.6 405.5,494.6 407.5,494.7 409.5,494.7 L409.5,495.0 L109.5,495.0Z" fill="#ee3a44" stroke="none" stroke-width="1" />
<path d="M191.5,494.9 193.5,494.9 195.5,494.9 197.5,494.9 199.5,494.9 201.5,494.8 203.5,494.8 205.5,494.8 207.5,494.8 209.5,494.7 211.5,494.7 213.5,494.6 215.5,494.6 217.5,494.5 219.5,494.4 221.5,494.4 223.5,494.3 225.5,494.2 227.5,494.1 229.5,493.9 231.5,493.8 233.5,493.7 235.5,493.5 237.5,493.3 239.5,493.1 241.5,492.9 243.5,492.6 245.5,492.4 247.5,492.1 249.5,491.8 251.5,491.4 253.5,491.1 255.5,490.7 257.5,490.2 259.5,489.8 261.5,489.3 263.5,488.8 265.5,488.2 267.5,487.6 269.5,487.0 271.5,486.3 273.5,485.6 275.5,484.8 277.5,484.0 279.5,483.2 281.5,482.3 283.5,481.4 285.5,480.5 287.5,479.5 289.5,478.5 291.5,477.5 293.5,476.4 295.5,475.4 297.5,474.3 299.5,473.1 301.5,472.0 303.5,470.8 305.5,469.7 307.5,468.5 309.5,467.3 311.5,466.2 313.5,465.0 315.5,463.9 317.5,462.8 319.5,461.7 321.5,460.7 323.5,459.7 325.5,458.7 327.5,457.8 329.5,456.9 331.5,456.1 333.5,455.3 335.5,454.6 337.5,454.0 339.5,453.4 341.5,453.0 343.5,452.6 345.5,452.2 347.5,452.0 349.5,451.9 351.5,451.8 353.5,451.8 355.5,451.9 357.5,452.1 359.5,452.4 361.5,452.8 363.5,453.2 365.5,453.7 367.5,454.3 369.5,454.9 371.5,455.7 373.5,456.5 375.5,457.3 377.5,458.2 379.5,459.2 381.5,460.2 383.5,461.2 385.5,462.3 387.5,463.4 389.5,464.5 391.5,465.6 393.5,466.8 395.5,467.9 397.5,469.1 399.5,470.3 401.5,471.4 403.5,472.6 405.5,473.7 407.5,474.8 409.5,475.9 411.5,477.0 413.5,478.0 415.5,479.0 417.5,480.0 419.5,481.0 421.5,481.9 423.5,482.8 425.5,483.6 427.5,484.4 429.5,485.2 431.5,485.9 433.5,486.6 435.5,487.3 437.5,487.9 439.5,488.5 441.5,489.0 443.5,489.5 445.5,490.0 447.5,490.5 449.5,490.9 451.5,491.3 453.5,491.6 455.5,491.9 457.5,492.2 459.5,492.5 461.5,492.8 463.5,493.0 465.5,493.2 467.5,493.4 469.5,493.6 471.5,493.7 473.5,493.9 475.5,494.0 477.5,494.1 479.5,494.2 481.5,494.3 483.5,494.4 485.5,494.5 487.5,494.5 489.5,494.6 491.5,494.6 493.5,494.7 495.5,494.7 497.5,494.8 499.5,494.8 501.5,494.8 503.5,494.9 505.5,494.9 507.5,494.9 509.5,494.9 511.5,494.9 513.5,494.9 L513.5,495.0 L191.5,495.0Z" fill="url(#gBlueA)" stroke="none" stroke-width="1" fill-opacity="0.5"/>
<path d="M319.5,495.0 321.5,495.0 323.5,495.0 325.5,495.0 327.5,495.0 329.5,495.0 331.5,494.9 333.5,494.9 335.5,494.9 337.5,494.9 339.5,494.9 341.5,494.8 343.5,494.8 345.5,494.8 347.5,494.7 349.5,494.7 351.5,494.6 353.5,494.5 355.5,494.4 357.5,494.3 359.5,494.2 361.5,494.1 363.5,493.9 365.5,493.8 367.5,493.6 369.5,493.4 371.5,493.2 373.5,493.0 375.5,492.7 377.5,492.5 379.5,492.2 381.5,491.9 383.5,491.6 385.5,491.3 387.5,491.0 389.5,490.7 391.5,490.4 393.5,490.1 395.5,489.8 397.5,489.6 399.5,489.3 401.5,489.1 403.5,488.8 405.5,488.7 407.5,488.5 409.5,488.4 411.5,488.3 413.5,488.2 415.5,488.2 417.5,488.2 419.5,488.3 421.5,488.4 423.5,488.5 425.5,488.6 427.5,488.8 429.5,489.0 431.5,489.3 433.5,489.5 435.5,489.8 437.5,490.1 439.5,490.4 441.5,490.7 443.5,491.0 445.5,491.3 447.5,491.6 449.5,491.9 451.5,492.2 453.5,492.5 455.5,492.7 457.5,493.0 459.5,493.2 461.5,493.4 463.5,493.6 465.5,493.8 467.5,493.9 469.5,494.1 471.5,494.2 473.5,494.3 475.5,494.4 477.5,494.5 479.5,494.6 481.5,494.7 483.5,494.7 485.5,494.8 487.5,494.8 489.5,494.8 491.5,494.9 493.5,494.9 495.5,494.9 497.5,494.9 499.5,494.9 501.5,495.0 503.5,495.0 505.5,495.0 507.5,495.0 509.5,495.0 511.5,495.0 L511.5,495.0 L319.5,495.0Z" fill="#2e8b3c" stroke="none" stroke-width="1" />
<line x1="155" y1="495" x2="505" y2="495" stroke="#3d9a62" stroke-width="1.4" />
<path d="M191.5,494.9 193.5,494.9 195.5,494.9 197.5,494.9 199.5,494.9 201.5,494.8 203.5,494.8 205.5,494.8 207.5,494.8 209.5,494.7 211.5,494.7 213.5,494.6 215.5,494.6 217.5,494.5 219.5,494.4 221.5,494.4 223.5,494.3 225.5,494.2 227.5,494.1 229.5,493.9 231.5,493.8 233.5,493.7 235.5,493.5 237.5,493.3 239.5,493.1 241.5,492.9 243.5,492.6 245.5,492.4 247.5,492.1 249.5,491.8 251.5,491.4 253.5,491.1 255.5,490.7 257.5,490.2 259.5,489.8 261.5,489.3 263.5,488.8 265.5,488.2 267.5,487.6 269.5,487.0 271.5,486.3 273.5,485.6 275.5,484.8 277.5,484.0 279.5,483.2 281.5,482.3 283.5,481.4 285.5,480.5 287.5,479.5 289.5,478.5 291.5,477.5 293.5,476.4 295.5,475.4 297.5,474.3 299.5,473.1 301.5,472.0 303.5,470.8 305.5,469.7 307.5,468.5 309.5,467.3 311.5,466.2 313.5,465.0 315.5,463.9 317.5,462.8 319.5,461.7 321.5,460.7 323.5,459.7 325.5,458.7 327.5,457.8 329.5,456.9 331.5,456.1 333.5,455.3 335.5,454.6 337.5,454.0 339.5,453.4 341.5,453.0 343.5,452.6 345.5,452.2 347.5,452.0 349.5,451.9 351.5,451.8 353.5,451.8 355.5,451.9 357.5,452.1 359.5,452.4 361.5,452.8 363.5,453.2 365.5,453.7 367.5,454.3 369.5,454.9 371.5,455.7 373.5,456.5 375.5,457.3 377.5,458.2 379.5,459.2 381.5,460.2 383.5,461.2 385.5,462.3 387.5,463.4 389.5,464.5 391.5,465.6 393.5,466.8 395.5,467.9 397.5,469.1 399.5,470.3 401.5,471.4 403.5,472.6 405.5,473.7 407.5,474.8 409.5,475.9 411.5,477.0 413.5,478.0 415.5,479.0 417.5,480.0 419.5,481.0 421.5,481.9 423.5,482.8 425.5,483.6 427.5,484.4 429.5,485.2 431.5,485.9 433.5,486.6 435.5,487.3 437.5,487.9 439.5,488.5 441.5,489.0 443.5,489.5 445.5,490.0 447.5,490.5 449.5,490.9 451.5,491.3 453.5,491.6 455.5,491.9 457.5,492.2 459.5,492.5 461.5,492.8 463.5,493.0 465.5,493.2 467.5,493.4 469.5,493.6 471.5,493.7 473.5,493.9 475.5,494.0 477.5,494.1 479.5,494.2 481.5,494.3 483.5,494.4 485.5,494.5 487.5,494.5 489.5,494.6 491.5,494.6 493.5,494.7 495.5,494.7 497.5,494.8 499.5,494.8 501.5,494.8 503.5,494.9 505.5,494.9 507.5,494.9 509.5,494.9 511.5,494.9 513.5,494.9" fill="none" stroke="#2b3cf0" stroke-width="1.1" />
<path d="M41.5,495.6 42.0,495.3 42.6,493.3 43.1,494.4 43.7,495.5 44.2,491.8 44.8,497.4 45.4,492.8 45.9,495.1 46.5,494.7 47.0,495.9 47.5,493.6 48.1,496.3 48.6,494.1 49.2,495.7 49.8,495.2 50.3,497.4 50.9,496.1 51.4,494.3 52.0,496.7 52.5,492.7 53.0,495.1 53.6,494.9 54.1,497.2 54.7,492.7 55.2,494.7 55.8,495.6 56.4,495.9 56.9,494.4 57.5,495.7 58.0,492.3 58.5,491.9 59.1,494.6 59.7,495.3 60.2,496.2 60.8,495.4 61.3,492.6 61.9,494.3 62.4,493.5 63.0,497.5 63.5,492.3 64.0,492.5 64.6,494.0 65.2,494.7 65.7,494.8 66.2,495.2 66.8,493.9 67.3,493.9 67.9,495.7 68.5,495.6 69.0,494.1 69.5,493.5 70.1,495.7 70.7,494.9 71.2,494.8 71.8,494.8 72.3,495.7 72.8,495.5 73.4,495.7 74.0,493.5 74.5,494.1 75.1,496.2 75.6,493.7 76.2,496.7 76.7,496.8 77.2,495.1 77.8,494.9 78.3,493.2 78.9,495.6 79.5,493.6 80.0,492.2 80.6,493.8 81.1,492.4 81.7,495.4 82.2,491.7 82.8,494.9 83.3,495.4 83.8,494.5 84.4,495.8 85.0,494.8 85.5,493.6 86.1,495.2 86.6,494.8 87.2,495.6 87.7,493.7 88.2,495.0 88.8,495.6 89.3,493.5 89.9,493.8 90.5,495.5 91.0,494.5 91.6,493.8 92.1,494.4 92.7,493.6 93.2,498.0 93.8,495.1 94.3,494.1 94.8,493.6 95.4,493.9 96.0,494.3 96.5,495.4 97.1,493.8 97.6,494.2 98.2,496.0 98.7,496.1 99.2,496.0 99.8,492.9 100.3,492.8 100.9,498.1 101.5,494.6 102.0,494.4 102.6,494.1 103.1,494.6 103.7,496.5 104.2,494.9 104.8,494.5 105.3,495.2 105.9,494.2 106.4,495.4 107.0,495.4 107.5,494.2 108.1,494.4 108.6,492.3 109.2,494.9 109.7,494.1 110.2,493.9 110.8,494.8 111.4,494.6 111.9,497.1 112.5,493.1 113.0,496.0 113.6,494.7 114.1,494.7 114.7,492.2 115.2,493.8 115.8,495.1 116.3,497.3 116.9,493.8 117.4,494.9 118.0,494.4 118.5,494.7 119.1,495.3 119.6,494.7 120.2,494.5 120.7,495.0 121.2,496.0 121.8,495.6 122.4,494.6 122.9,494.4 123.5,496.1 124.0,493.4 124.6,495.0 125.1,496.9 125.7,494.9 126.2,494.4 126.8,492.4 127.3,494.0 127.9,494.9 128.4,494.6 128.9,494.0 129.5,494.8 130.1,495.2 130.6,493.8 131.2,492.9 131.7,493.5 132.2,492.1 132.8,497.4 133.4,498.2 133.9,495.6 134.4,494.8 135.0,493.6 135.6,491.9 136.1,494.6 136.7,493.7 137.2,495.7 137.8,496.6 138.3,493.7 138.9,493.7 139.4,493.9 139.9,492.0 140.5,495.4 141.1,495.9 141.6,492.9 142.2,495.9 142.7,494.5 143.2,495.2 143.8,494.9 144.4,494.2 144.9,494.8 145.4,494.7 146.0,493.5 146.6,495.6 147.1,494.4 147.7,493.9 148.2,493.5 148.8,492.6 149.3,493.7 149.9,492.2 150.4,494.8 150.9,494.8 151.5,496.7 152.1,493.5 152.6,495.7 153.2,493.7 153.7,492.2 154.2,497.2 154.8,494.3 155.4,495.0 155.9,495.5 156.4,494.2 157.0,493.5 157.6,494.0 158.1,494.1 158.7,495.5 159.2,495.6 159.8,491.5 160.3,493.0 160.9,494.8 161.4,494.7 161.9,492.5 162.5,493.3 163.1,495.1 163.6,493.2 164.2,493.2 164.7,493.8 165.2,492.6 165.8,494.7 166.4,494.3 166.9,493.7 167.5,493.0 168.0,493.4 168.6,495.0 169.1,494.4 169.7,494.4 170.2,494.7 170.8,492.6 171.3,493.6 171.9,496.4 172.4,494.6 173.0,494.9 173.5,493.7 174.1,493.5 174.6,491.7 175.2,493.7 175.7,495.2 176.2,494.7 176.8,493.3 177.4,490.4 177.9,494.5 178.5,492.5 179.0,494.0 179.6,493.7 180.1,493.3 180.7,492.9 181.2,493.7 181.8,494.6 182.3,491.8 182.9,492.5 183.4,492.8 184.0,492.8 184.5,495.3 185.1,491.6 185.6,493.1 186.2,494.7 186.7,491.8 187.2,490.8 187.8,492.8 188.4,492.4 188.9,493.7 189.5,492.1 190.0,492.4 190.6,492.4 191.1,492.2 191.7,492.7 192.2,491.4 192.8,492.1 193.3,490.8 193.9,490.0 194.4,494.0 195.0,491.6 195.5,491.3 196.1,493.9 196.6,492.6 197.2,490.1 197.7,489.8 198.2,492.3 198.8,490.0 199.4,490.8 199.9,491.0 200.5,491.1 201.0,490.9 201.6,489.8 202.1,488.2 202.7,488.5 203.2,491.9 203.8,489.3 204.3,489.9 204.9,490.8 205.4,486.4 206.0,488.1 206.5,489.9 207.1,486.6 207.6,488.1 208.2,490.4 208.7,490.8 209.2,488.5 209.8,490.5 210.4,489.3 210.9,491.3 211.5,488.6 212.0,487.7 212.6,489.0 213.1,487.1 213.7,488.6 214.2,486.7 214.8,485.9 215.3,488.7 215.9,488.4 216.4,489.3 217.0,489.7 217.5,486.4 218.1,484.7 218.6,485.3 219.2,487.2 219.7,489.1 220.3,485.0 220.8,487.7 221.4,485.2 221.9,484.5 222.5,486.7 223.0,483.7 223.6,485.5 224.1,485.5 224.7,482.5 225.2,484.9 225.8,484.4 226.3,485.5 226.9,485.4 227.4,485.6 228.0,484.1 228.5,482.7 229.1,485.6 229.6,485.2 230.2,480.1 230.7,482.3 231.3,484.9 231.8,483.2 232.4,483.3 232.9,485.3 233.5,481.9 234.0,479.6 234.6,482.2 235.1,483.0 235.7,479.4 236.2,483.8 236.8,481.1 237.3,481.4 237.9,480.7 238.4,480.5 239.0,480.5 239.5,479.2 240.1,479.9 240.6,480.2 241.2,480.0 241.7,478.6 242.3,478.2 242.8,480.2 243.4,478.4 243.9,478.1 244.5,479.1 245.0,478.8 245.6,481.6 246.1,480.6 246.7,477.0 247.2,475.4 247.8,478.9 248.3,479.2 248.9,479.0 249.4,479.1 250.0,478.3 250.5,475.7 251.1,478.8 251.6,476.8 252.2,478.4 252.7,477.7 253.3,477.3 253.8,477.4 254.4,473.8 254.9,475.6 255.5,479.0 256.0,474.8 256.6,475.5 257.1,472.9 257.6,474.0 258.2,476.9 258.8,473.1 259.3,474.2 259.9,474.3 260.4,474.8 261.0,475.5 261.5,473.2 262.1,473.9 262.6,475.2 263.1,474.5 263.7,474.1 264.2,473.9 264.8,472.9 265.4,473.7 265.9,473.4 266.5,471.8 267.0,472.2 267.6,475.4 268.1,472.2 268.6,472.5 269.2,472.8 269.8,473.1 270.3,470.0 270.9,472.3 271.4,471.6 272.0,471.1 272.5,470.9 273.1,471.5 273.6,472.9 274.1,472.8 274.7,473.6 275.2,472.2 275.8,470.9 276.4,470.8 276.9,472.4 277.5,470.4 278.0,469.6 278.6,468.6 279.1,471.6 279.6,469.3 280.2,471.3 280.8,470.8 281.3,470.3 281.9,468.8 282.4,468.6 283.0,470.6 283.5,470.8 284.1,469.4 284.6,470.1 285.1,467.6 285.7,468.8 286.2,470.6 286.8,468.8 287.4,470.7 287.9,468.5 288.5,469.6 289.0,467.2 289.6,468.1 290.1,466.0 290.7,467.7 291.2,467.1 291.8,467.9 292.3,469.4 292.9,465.2 293.4,469.2 294.0,465.9 294.5,467.0 295.1,466.5 295.6,465.2 296.2,464.7 296.7,465.5 297.2,466.6 297.8,463.6 298.4,465.5 298.9,463.0 299.5,464.3 300.0,465.3 300.6,463.1 301.1,466.0 301.7,464.1 302.2,464.0 302.8,462.5 303.3,461.8 303.9,464.8 304.4,463.7 305.0,462.6 305.5,463.2 306.1,462.7 306.6,464.3 307.2,462.2 307.7,461.6 308.2,464.6 308.8,460.4 309.4,460.1 309.9,460.6 310.5,462.4 311.0,460.6 311.6,458.6 312.1,461.5 312.7,461.6 313.2,460.8 313.8,460.6 314.3,457.9 314.9,461.7 315.4,458.1 316.0,458.4 316.5,457.6 317.1,458.4 317.6,459.0 318.2,456.2 318.7,458.7 319.2,457.5 319.8,459.0 320.4,457.2 320.9,455.9 321.5,456.8 322.0,457.3 322.6,458.6 323.1,455.5 323.7,456.1 324.2,456.9 324.8,452.9 325.3,455.6 325.9,453.7 326.4,453.7 327.0,454.4 327.5,453.9 328.1,456.2 328.6,455.3 329.2,455.0 329.7,452.2 330.2,453.9 330.8,452.5 331.4,453.7 331.9,455.8 332.5,451.5 333.0,454.2 333.6,450.2 334.1,454.2 334.7,452.5 335.2,452.9 335.8,453.4 336.3,453.6 336.9,452.0 337.4,449.2 338.0,451.7 338.5,451.5 339.1,451.7 339.6,451.0 340.2,451.0 340.7,451.0 341.2,453.1 341.8,451.7 342.4,449.4 342.9,450.8 343.5,447.7 344.0,452.1 344.6,449.9 345.1,452.9 345.7,450.4 346.2,450.2 346.8,451.4 347.3,452.0 347.9,452.3 348.4,450.1 349.0,450.5 349.5,450.7 350.1,450.1 350.6,449.6 351.2,449.4 351.7,450.1 352.2,447.7 352.8,449.0 353.4,449.1 353.9,449.6 354.5,451.9 355.0,447.5 355.6,452.2 356.1,450.7 356.7,449.2 357.2,450.4 357.8,451.3 358.3,450.2 358.9,448.0 359.4,451.7 360.0,454.0 360.5,449.7 361.1,452.0 361.6,451.9 362.2,451.1 362.7,450.8 363.2,449.7 363.8,452.3 364.4,450.1 364.9,450.3 365.5,452.4 366.0,452.1 366.6,451.0 367.1,453.0 367.7,452.2 368.2,453.8 368.8,453.5 369.3,454.7 369.9,454.8 370.4,450.9 371.0,451.7 371.5,454.9 372.1,451.0 372.6,454.1 373.2,452.5 373.7,451.4 374.2,454.9 374.8,452.8 375.4,454.7 375.9,454.7 376.5,455.1 377.0,454.8 377.6,453.5 378.1,455.0 378.7,453.5 379.2,456.7 379.8,455.8 380.3,457.6 380.9,456.6 381.4,457.6 382.0,456.5 382.5,458.4 383.1,457.9 383.6,457.1 384.2,461.4 384.7,456.0 385.2,457.6 385.8,455.7 386.4,462.0 386.9,457.5 387.5,456.9 388.0,457.7 388.6,459.0 389.1,458.4 389.7,462.5 390.2,460.5 390.8,462.1 391.3,462.8 391.9,460.3 392.4,459.2 393.0,460.9 393.5,461.0 394.1,462.5 394.6,462.1 395.2,461.8 395.7,461.6 396.3,460.7 396.8,463.1 397.4,464.0 397.9,463.7 398.5,463.6 399.0,464.3 399.6,466.4 400.1,462.7 400.7,465.1 401.2,462.6 401.8,467.1 402.3,465.6 402.9,466.0 403.4,464.7 404.0,466.1 404.5,466.4 405.1,466.0 405.6,464.4 406.2,466.9 406.7,467.0 407.3,467.9 407.8,466.8 408.4,468.1 408.9,469.3 409.5,473.1 410.0,471.0 410.6,470.7 411.1,470.2 411.7,468.5 412.2,471.1 412.8,468.0 413.3,471.1 413.9,469.5 414.4,471.8 415.0,473.4 415.5,470.9 416.1,472.4 416.6,470.9 417.2,473.1 417.7,472.4 418.3,474.1 418.8,472.2 419.4,474.2 419.9,477.6 420.5,474.0 421.0,475.7 421.6,472.5 422.1,472.8 422.7,475.0 423.2,476.4 423.8,478.1 424.3,477.4 424.9,477.0 425.4,476.8 426.0,479.2 426.5,476.6 427.1,477.6 427.6,477.9 428.2,478.0 428.7,477.4 429.3,479.4 429.8,479.7 430.4,480.1 430.9,478.9 431.5,478.5 432.0,478.4 432.6,481.3 433.1,481.1 433.7,479.2 434.2,479.5 434.8,482.5 435.3,483.5 435.9,484.9 436.4,483.4 437.0,482.8 437.5,482.7 438.1,484.2 438.6,483.7 439.2,484.9 439.7,482.4 440.3,483.8 440.8,484.0 441.4,484.5 441.9,484.9 442.5,483.5 443.0,485.2 443.6,484.4 444.1,486.2 444.7,483.8 445.2,484.3 445.8,487.9 446.3,486.1 446.9,488.3 447.4,488.3 448.0,486.5 448.5,485.5 449.1,485.4 449.6,487.6 450.2,488.4 450.7,488.2 451.3,487.1 451.8,488.1 452.4,490.1 452.9,486.5 453.5,488.8 454.0,487.5 454.6,489.6 455.1,489.6 455.7,488.6 456.2,490.1 456.8,488.4 457.3,489.0 457.9,486.6 458.4,489.8 459.0,490.0 459.5,489.7 460.1,489.9 460.6,490.8 461.2,491.4 461.7,491.2 462.3,492.2 462.8,489.9 463.4,489.8 463.9,490.3 464.5,490.2 465.0,489.2 465.6,493.7 466.1,493.8 466.7,493.4 467.2,491.9 467.8,491.7 468.3,493.5 468.9,493.1 469.4,493.3 470.0,493.3 470.5,492.6 471.1,494.4 471.6,493.6 472.2,490.8 472.7,494.1 473.3,493.5 473.8,494.1 474.4,492.0 474.9,490.7 475.5,493.3 476.0,490.1 476.6,493.9 477.1,491.6 477.7,492.2 478.2,494.0 478.8,495.3 479.3,493.1 479.9,491.7 480.4,492.3 481.0,493.8 481.5,492.6 482.1,492.4 482.6,493.1 483.2,494.1 483.7,493.9 484.3,495.9 484.8,498.8 485.4,496.2 485.9,492.0 486.5,492.7 487.0,492.6 487.6,494.8 488.1,494.6 488.7,493.9 489.2,493.0 489.8,495.9 490.3,495.3 490.9,492.9 491.4,494.7 492.0,493.2 492.5,494.9 493.1,493.9 493.6,496.1 494.2,495.3 494.7,497.7 495.3,494.3 495.8,494.8 496.4,495.5 496.9,492.8 497.5,494.6 498.0,497.2 498.6,495.4 499.1,495.6 499.7,495.1 500.2,496.3 500.8,495.2 501.3,497.5 501.9,494.8 502.4,494.1 503.0,495.9 503.5,495.2 504.1,493.5 504.6,493.4 505.2,495.0 505.7,494.1 506.3,495.3 506.8,494.4 507.4,496.0 507.9,495.8 508.5,494.0 509.0,493.4 509.6,495.9 510.1,492.5 510.7,494.6 511.2,494.3 511.8,496.1 512.3,492.8 512.9,497.3 513.4,493.9 514.0,493.6 514.5,496.3 515.0,495.3 515.6,495.1 516.2,495.6 516.7,497.8 517.2,494.0 517.8,494.9 518.4,495.7 518.9,494.2 519.5,495.6 520.0,494.6 520.5,496.5 521.1,495.9 521.7,496.1 522.2,496.4 522.8,493.2 523.3,496.0 523.9,495.7 524.4,494.8 525.0,493.7 525.5,494.4 526.0,497.1 526.6,494.8 527.2,494.6 527.7,494.3 528.2,495.6 528.8,494.8 529.4,493.7 529.9,493.7 530.5,492.8 531.0,495.5 531.5,493.2 532.1,494.7 532.7,497.1 533.2,495.5 533.8,495.1 534.3,494.1 534.9,496.4 535.4,494.3 536.0,495.7 536.5,496.3 537.1,497.2 537.6,496.0 538.2,495.1 538.7,496.8 539.2,494.5 539.8,495.7 540.4,493.9 540.9,494.6 541.5,494.7 542.0,497.9 542.6,494.4 543.1,492.3 543.7,492.9 544.2,496.2 544.8,495.8 545.3,495.2 545.9,495.2 546.4,494.8 547.0,493.3 547.5,495.5 548.1,495.2 548.6,496.1 549.2,494.1 549.7,494.5 550.2,494.5 550.8,496.9 551.4,495.7 551.9,494.1 552.5,494.6 553.0,495.7 553.6,495.6 554.1,493.2 554.7,494.2 555.2,494.5 555.8,495.3 556.3,497.0 556.9,497.5 557.4,494.7 558.0,496.4 558.5,494.7 559.1,494.7 559.6,494.8 560.2,494.2 560.7,495.9 561.2,494.7 561.8,494.3 562.4,494.2 562.9,498.6 563.5,494.1 564.0,495.6 564.6,491.7 565.1,493.6 565.7,493.4 566.2,494.7 566.8,495.4 567.3,493.9 567.9,494.0 568.4,496.8 569.0,495.6 569.5,494.3 570.1,494.7 570.6,494.1 571.2,496.6 571.7,497.0 572.2,494.2 572.8,497.5 573.4,494.6 573.9,493.7 574.5,495.5 575.0,494.5 575.6,495.1 576.1,494.3 576.7,497.5 577.2,493.4 577.8,494.5 578.3,493.2 578.9,496.0 579.4,496.4 580.0,492.6 580.5,496.2 581.1,494.3 581.6,495.2 582.2,495.1 582.7,493.7 583.2,495.4 583.8,496.5 584.4,493.7 584.9,495.3 585.5,491.2 586.0,495.3 586.6,494.5 587.1,495.5 587.7,492.9 588.2,494.5 588.8,496.5 589.3,494.5 589.9,492.5 590.4,496.5 591.0,494.9 591.5,496.3 592.1,494.6 592.6,494.4 593.2,492.5 593.7,496.5 594.2,496.2 594.8,494.6 595.4,494.7 595.9,494.8 596.5,495.1 597.0,495.0 597.6,495.2 598.1,492.4 598.7,495.0 599.2,495.7 599.8,495.8 600.3,497.6 600.9,495.1 601.4,495.9 602.0,495.4 602.5,491.9 603.1,492.7 603.6,497.0 604.2,495.6 604.7,493.7 605.2,492.4 605.8,491.9 606.4,492.4 606.9,495.1 607.5,495.2 608.0,494.5 608.6,495.3 609.1,494.2 609.7,494.1 610.2,496.1 610.8,496.1 611.3,493.4 611.9,493.0 612.4,496.6 613.0,495.0 613.5,495.9 614.1,495.0 614.6,496.2 615.2,495.4 615.7,497.9 616.2,494.9 616.8,497.7 617.4,497.3 617.9,494.1 618.5,494.1 619.0,494.2 619.6,496.3 620.1,496.1 620.7,496.4 621.2,495.7 621.8,495.8 622.3,494.9 622.9,492.4 623.4,494.3 624.0,495.9 624.5,492.9 625.1,493.0 625.6,495.7 626.2,495.1 626.7,493.0 627.2,494.8 627.8,496.4 628.4,494.5 628.9,495.2 629.5,494.3 630.0,496.3 630.6,494.8 631.1,495.6 631.7,495.1 632.2,492.9 632.8,495.2 633.3,495.4 633.9,496.1 634.4,495.6 635.0,493.2 635.5,494.3 636.1,495.0 636.6,494.3 637.2,496.0 637.7,495.1 638.2,495.9 638.8,495.3 639.4,494.3 639.9,496.5 640.5,494.7 641.0,493.9 641.6,493.3 642.1,495.8 642.7,496.4 643.2,495.9 643.8,495.6 644.3,495.4" fill="none" stroke="#3a3a3a" stroke-width="0.8" />
<path d="M41.5,494.8 43.5,494.8 45.5,494.8 47.5,494.8 49.5,494.8 51.5,494.8 53.5,494.8 55.5,494.8 57.5,494.8 59.5,494.8 61.5,494.8 63.5,494.8 65.5,494.8 67.5,494.8 69.5,494.8 71.5,494.8 73.5,494.8 75.5,494.8 77.5,494.8 79.5,494.8 81.5,494.8 83.5,494.8 85.5,494.8 87.5,494.7 89.5,494.7 91.5,494.7 93.5,494.7 95.5,494.7 97.5,494.7 99.5,494.7 101.5,494.7 103.5,494.7 105.5,494.7 107.5,494.7 109.5,494.7 111.5,494.7 113.5,494.7 115.5,494.6 117.5,494.6 119.5,494.6 121.5,494.6 123.5,494.6 125.5,494.6 127.5,494.6 129.5,494.6 131.5,494.5 133.5,494.5 135.5,494.5 137.5,494.5 139.5,494.5 141.5,494.4 143.5,494.4 145.5,494.4 147.5,494.4 149.5,494.3 151.5,494.3 153.5,494.3 155.5,494.2 157.5,494.2 159.5,494.1 161.5,494.1 163.5,494.0 165.5,493.9 167.5,493.8 169.5,493.8 171.5,493.7 173.5,493.5 175.5,493.4 177.5,493.3 179.5,493.2 181.5,493.0 183.5,492.8 185.5,492.7 187.5,492.5 189.5,492.2 191.5,492.0 193.5,491.7 195.5,491.5 197.5,491.2 199.5,490.9 201.5,490.5 203.5,490.2 205.5,489.8 207.5,489.4 209.5,489.0 211.5,488.6 213.5,488.1 215.5,487.6 217.5,487.1 219.5,486.6 221.5,486.1 223.5,485.5 225.5,485.0 227.5,484.4 229.5,483.8 231.5,483.2 233.5,482.6 235.5,481.9 237.5,481.3 239.5,480.7 241.5,480.1 243.5,479.5 245.5,478.8 247.5,478.2 249.5,477.7 251.5,477.1 253.5,476.5 255.5,476.0 257.5,475.5 259.5,475.0 261.5,474.5 263.5,474.0 265.5,473.6 267.5,473.1 269.5,472.7 271.5,472.3 273.5,471.9 275.5,471.5 277.5,471.0 279.5,470.6 281.5,470.1 283.5,469.7 285.5,469.2 287.5,468.7 289.5,468.1 291.5,467.6 293.5,467.0 295.5,466.4 297.5,465.7 299.5,465.1 301.5,464.4 303.5,463.7 305.5,462.9 307.5,462.2 309.5,461.4 311.5,460.7 313.5,459.9 315.5,459.1 317.5,458.3 319.5,457.6 321.5,456.8 323.5,456.1 325.5,455.4 327.5,454.7 329.5,454.0 331.5,453.4 333.5,452.8 335.5,452.3 337.5,451.8 339.5,451.4 341.5,451.1 343.5,450.8 345.5,450.5 347.5,450.3 349.5,450.2 351.5,450.2 353.5,450.2 355.5,450.3 357.5,450.5 359.5,450.7 361.5,451.0 363.5,451.3 365.5,451.7 367.5,452.2 369.5,452.7 371.5,453.2 373.5,453.8 375.5,454.5 377.5,455.1 379.5,455.8 381.5,456.6 383.5,457.3 385.5,458.1 387.5,458.9 389.5,459.8 391.5,460.6 393.5,461.5 395.5,462.4 397.5,463.3 399.5,464.2 401.5,465.1 403.5,466.0 405.5,467.0 407.5,468.0 409.5,468.9 411.5,469.9 413.5,470.9 415.5,471.9 417.5,472.9 419.5,474.0 421.5,475.0 423.5,476.0 425.5,477.0 427.5,478.0 429.5,479.0 431.5,480.0 433.5,480.9 435.5,481.8 437.5,482.8 439.5,483.6 441.5,484.5 443.5,485.3 445.5,486.1 447.5,486.9 449.5,487.6 451.5,488.2 453.5,488.9 455.5,489.5 457.5,490.0 459.5,490.5 461.5,491.0 463.5,491.4 465.5,491.8 467.5,492.1 469.5,492.5 471.5,492.8 473.5,493.0 475.5,493.3 477.5,493.5 479.5,493.6 481.5,493.8 483.5,494.0 485.5,494.1 487.5,494.2 489.5,494.3 491.5,494.4 493.5,494.4 495.5,494.5 497.5,494.6 499.5,494.6 501.5,494.7 503.5,494.7 505.5,494.7 507.5,494.7 509.5,494.8 511.5,494.8 513.5,494.8 515.5,494.8 517.5,494.8 519.5,494.8 521.5,494.8 523.5,494.9 525.5,494.9 527.5,494.9 529.5,494.9 531.5,494.9 533.5,494.9 535.5,494.9 537.5,494.9 539.5,494.9 541.5,494.9 543.5,494.9 545.5,494.9 547.5,494.9 549.5,494.9 551.5,494.9 553.5,494.9 555.5,494.9 557.5,494.9 559.5,494.9 561.5,494.9 563.5,494.9 565.5,494.9 567.5,494.9 569.5,494.9 571.5,494.9 573.5,494.9 575.5,494.9 577.5,494.9 579.5,494.9 581.5,494.9 583.5,494.9 585.5,494.9 587.5,494.9 589.5,494.9 591.5,494.9 593.5,494.9 595.5,494.9 597.5,494.9 599.5,494.9 601.5,494.9 603.5,494.9 605.5,494.9 607.5,494.9 609.5,494.9 611.5,494.9 613.5,494.9 615.5,494.9 617.5,494.9 619.5,494.9 621.5,494.9 623.5,494.9 625.5,494.9 627.5,494.9 629.5,494.9 631.5,494.9 633.5,494.9 635.5,494.9 637.5,494.9 639.5,494.9 641.5,494.9 643.5,494.9" fill="none" stroke="#a374e6" stroke-width="1.3" />
<text x="668.8" y="499.6" font-size="32.3" textLength="103.95" lengthAdjust="spacingAndGlyphs" >−0.45 V</text>
<path d="M109.5,562.6 111.5,562.5 113.5,562.5 115.5,562.5 117.5,562.5 119.5,562.5 121.5,562.5 123.5,562.5 125.5,562.5 127.5,562.5 129.5,562.4 131.5,562.4 133.5,562.4 135.5,562.4 137.5,562.4 139.5,562.4 141.5,562.3 143.5,562.3 145.5,562.3 147.5,562.2 149.5,562.2 151.5,562.2 153.5,562.1 155.5,562.1 157.5,562.0 159.5,562.0 161.5,561.9 163.5,561.9 165.5,561.8 167.5,561.7 169.5,561.6 171.5,561.5 173.5,561.4 175.5,561.3 177.5,561.2 179.5,561.0 181.5,560.9 183.5,560.7 185.5,560.5 187.5,560.3 189.5,560.1 191.5,559.9 193.5,559.6 195.5,559.3 197.5,559.1 199.5,558.8 201.5,558.4 203.5,558.1 205.5,557.7 207.5,557.4 209.5,557.0 211.5,556.5 213.5,556.1 215.5,555.7 217.5,555.2 219.5,554.8 221.5,554.3 223.5,553.8 225.5,553.3 227.5,552.8 229.5,552.3 231.5,551.8 233.5,551.4 235.5,550.9 237.5,550.4 239.5,550.0 241.5,549.6 243.5,549.2 245.5,548.8 247.5,548.5 249.5,548.2 251.5,548.0 253.5,547.8 255.5,547.6 257.5,547.5 259.5,547.5 261.5,547.5 263.5,547.6 265.5,547.7 267.5,547.9 269.5,548.1 271.5,548.4 273.5,548.7 275.5,549.0 277.5,549.4 279.5,549.8 281.5,550.2 283.5,550.7 285.5,551.1 287.5,551.6 289.5,552.1 291.5,552.6 293.5,553.1 295.5,553.6 297.5,554.0 299.5,554.5 301.5,555.0 303.5,555.5 305.5,555.9 307.5,556.3 309.5,556.8 311.5,557.2 313.5,557.5 315.5,557.9 317.5,558.3 319.5,558.6 321.5,558.9 323.5,559.2 325.5,559.5 327.5,559.7 329.5,560.0 331.5,560.2 333.5,560.4 335.5,560.6 337.5,560.8 339.5,560.9 341.5,561.1 343.5,561.2 345.5,561.3 347.5,561.5 349.5,561.6 351.5,561.7 353.5,561.7 355.5,561.8 357.5,561.9 359.5,562.0 361.5,562.0 363.5,562.1 365.5,562.1 367.5,562.2 369.5,562.2 371.5,562.2 373.5,562.3 375.5,562.3 377.5,562.3 379.5,562.3 381.5,562.4 383.5,562.4 385.5,562.4 387.5,562.4 389.5,562.4 391.5,562.5 393.5,562.5 395.5,562.5 397.5,562.5 399.5,562.5 401.5,562.5 403.5,562.5 405.5,562.5 407.5,562.5 409.5,562.6 L409.5,562.9 L109.5,562.9Z" fill="#ee3a44" stroke="none" stroke-width="1" />
<path d="M191.5,562.8 193.5,562.8 195.5,562.8 197.5,562.8 199.5,562.8 201.5,562.8 203.5,562.7 205.5,562.7 207.5,562.7 209.5,562.6 211.5,562.6 213.5,562.6 215.5,562.5 217.5,562.4 219.5,562.4 221.5,562.3 223.5,562.2 225.5,562.1 227.5,562.0 229.5,561.9 231.5,561.8 233.5,561.6 235.5,561.5 237.5,561.3 239.5,561.1 241.5,560.9 243.5,560.7 245.5,560.4 247.5,560.1 249.5,559.8 251.5,559.5 253.5,559.1 255.5,558.8 257.5,558.3 259.5,557.9 261.5,557.4 263.5,556.9 265.5,556.4 267.5,555.8 269.5,555.1 271.5,554.5 273.5,553.8 275.5,553.1 277.5,552.3 279.5,551.5 281.5,550.6 283.5,549.7 285.5,548.8 287.5,547.9 289.5,546.9 291.5,545.9 293.5,544.8 295.5,543.8 297.5,542.7 299.5,541.6 301.5,540.4 303.5,539.3 305.5,538.2 307.5,537.0 309.5,535.9 311.5,534.8 313.5,533.6 315.5,532.5 317.5,531.5 319.5,530.4 321.5,529.4 323.5,528.4 325.5,527.5 327.5,526.6 329.5,525.7 331.5,524.9 333.5,524.2 335.5,523.6 337.5,523.0 339.5,522.5 341.5,522.0 343.5,521.7 345.5,521.4 347.5,521.2 349.5,521.1 351.5,521.1 353.5,521.2 355.5,521.3 357.5,521.5 359.5,521.9 361.5,522.3 363.5,522.7 365.5,523.3 367.5,523.9 369.5,524.6 371.5,525.3 373.5,526.1 375.5,527.0 377.5,527.9 379.5,528.9 381.5,529.9 383.5,530.9 385.5,532.0 387.5,533.1 389.5,534.2 391.5,535.3 393.5,536.5 395.5,537.6 397.5,538.7 399.5,539.9 401.5,541.0 403.5,542.1 405.5,543.2 407.5,544.3 409.5,545.4 411.5,546.4 413.5,547.4 415.5,548.3 417.5,549.3 419.5,550.2 421.5,551.1 423.5,551.9 425.5,552.7 427.5,553.4 429.5,554.1 431.5,554.8 433.5,555.5 435.5,556.1 437.5,556.6 439.5,557.2 441.5,557.7 443.5,558.1 445.5,558.6 447.5,559.0 449.5,559.3 451.5,559.7 453.5,560.0 455.5,560.3 457.5,560.5 459.5,560.8 461.5,561.0 463.5,561.2 465.5,561.4 467.5,561.6 469.5,561.7 471.5,561.8 473.5,562.0 475.5,562.1 477.5,562.2 479.5,562.3 481.5,562.3 483.5,562.4 485.5,562.5 487.5,562.5 489.5,562.6 491.5,562.6 493.5,562.7 495.5,562.7 497.5,562.7 499.5,562.7 501.5,562.8 503.5,562.8 505.5,562.8 507.5,562.8 509.5,562.8 L509.5,562.9 L191.5,562.9Z" fill="url(#gBlueA)" stroke="none" stroke-width="1" fill-opacity="0.5"/>
<path d="M321.5,562.9 323.5,562.9 325.5,562.9 327.5,562.9 329.5,562.9 331.5,562.9 333.5,562.8 335.5,562.8 337.5,562.8 339.5,562.8 341.5,562.8 343.5,562.7 345.5,562.7 347.5,562.6 349.5,562.6 351.5,562.5 353.5,562.4 355.5,562.4 357.5,562.3 359.5,562.2 361.5,562.0 363.5,561.9 365.5,561.7 367.5,561.6 369.5,561.4 371.5,561.2 373.5,560.9 375.5,560.7 377.5,560.4 379.5,560.2 381.5,559.9 383.5,559.6 385.5,559.3 387.5,558.9 389.5,558.6 391.5,558.3 393.5,558.0 395.5,557.7 397.5,557.4 399.5,557.1 401.5,556.8 403.5,556.5 405.5,556.3 407.5,556.1 409.5,556.0 411.5,555.8 413.5,555.8 415.5,555.7 417.5,555.7 419.5,555.7 421.5,555.8 423.5,555.9 425.5,556.0 427.5,556.2 429.5,556.4 431.5,556.7 433.5,556.9 435.5,557.2 437.5,557.5 439.5,557.8 441.5,558.1 443.5,558.5 445.5,558.8 447.5,559.1 449.5,559.4 451.5,559.7 453.5,560.0 455.5,560.3 457.5,560.6 459.5,560.8 461.5,561.0 463.5,561.3 465.5,561.5 467.5,561.6 469.5,561.8 471.5,562.0 473.5,562.1 475.5,562.2 477.5,562.3 479.5,562.4 481.5,562.5 483.5,562.6 485.5,562.6 487.5,562.7 489.5,562.7 491.5,562.7 493.5,562.8 495.5,562.8 497.5,562.8 499.5,562.8 501.5,562.8 503.5,562.9 505.5,562.9 507.5,562.9 509.5,562.9 511.5,562.9 513.5,562.9 L513.5,562.9 L321.5,562.9Z" fill="#2e8b3c" stroke="none" stroke-width="1" />
<line x1="155" y1="562.9" x2="505" y2="562.9" stroke="#3d9a62" stroke-width="1.4" />
<path d="M191.5,562.8 193.5,562.8 195.5,562.8 197.5,562.8 199.5,562.8 201.5,562.8 203.5,562.7 205.5,562.7 207.5,562.7 209.5,562.6 211.5,562.6 213.5,562.6 215.5,562.5 217.5,562.4 219.5,562.4 221.5,562.3 223.5,562.2 225.5,562.1 227.5,562.0 229.5,561.9 231.5,561.8 233.5,561.6 235.5,561.5 237.5,561.3 239.5,561.1 241.5,560.9 243.5,560.7 245.5,560.4 247.5,560.1 249.5,559.8 251.5,559.5 253.5,559.1 255.5,558.8 257.5,558.3 259.5,557.9 261.5,557.4 263.5,556.9 265.5,556.4 267.5,555.8 269.5,555.1 271.5,554.5 273.5,553.8 275.5,553.1 277.5,552.3 279.5,551.5 281.5,550.6 283.5,549.7 285.5,548.8 287.5,547.9 289.5,546.9 291.5,545.9 293.5,544.8 295.5,543.8 297.5,542.7 299.5,541.6 301.5,540.4 303.5,539.3 305.5,538.2 307.5,537.0 309.5,535.9 311.5,534.8 313.5,533.6 315.5,532.5 317.5,531.5 319.5,530.4 321.5,529.4 323.5,528.4 325.5,527.5 327.5,526.6 329.5,525.7 331.5,524.9 333.5,524.2 335.5,523.6 337.5,523.0 339.5,522.5 341.5,522.0 343.5,521.7 345.5,521.4 347.5,521.2 349.5,521.1 351.5,521.1 353.5,521.2 355.5,521.3 357.5,521.5 359.5,521.9 361.5,522.3 363.5,522.7 365.5,523.3 367.5,523.9 369.5,524.6 371.5,525.3 373.5,526.1 375.5,527.0 377.5,527.9 379.5,528.9 381.5,529.9 383.5,530.9 385.5,532.0 387.5,533.1 389.5,534.2 391.5,535.3 393.5,536.5 395.5,537.6 397.5,538.7 399.5,539.9 401.5,541.0 403.5,542.1 405.5,543.2 407.5,544.3 409.5,545.4 411.5,546.4 413.5,547.4 415.5,548.3 417.5,549.3 419.5,550.2 421.5,551.1 423.5,551.9 425.5,552.7 427.5,553.4 429.5,554.1 431.5,554.8 433.5,555.5 435.5,556.1 437.5,556.6 439.5,557.2 441.5,557.7 443.5,558.1 445.5,558.6 447.5,559.0 449.5,559.3 451.5,559.7 453.5,560.0 455.5,560.3 457.5,560.5 459.5,560.8 461.5,561.0 463.5,561.2 465.5,561.4 467.5,561.6 469.5,561.7 471.5,561.8 473.5,562.0 475.5,562.1 477.5,562.2 479.5,562.3 481.5,562.3 483.5,562.4 485.5,562.5 487.5,562.5 489.5,562.6 491.5,562.6 493.5,562.7 495.5,562.7 497.5,562.7 499.5,562.7 501.5,562.8 503.5,562.8 505.5,562.8 507.5,562.8 509.5,562.8" fill="none" stroke="#2b3cf0" stroke-width="1.1" />
<path d="M41.5,561.3 42.0,560.6 42.6,561.4 43.1,562.0 43.7,564.2 44.2,564.4 44.8,559.8 45.4,561.6 45.9,563.7 46.5,561.9 47.0,562.7 47.5,563.3 48.1,563.8 48.6,563.4 49.2,564.2 49.8,564.9 50.3,562.8 50.9,561.8 51.4,561.7 52.0,563.1 52.5,564.1 53.0,560.1 53.6,563.2 54.1,562.2 54.7,562.0 55.2,561.4 55.8,561.8 56.4,561.3 56.9,561.2 57.5,563.1 58.0,562.3 58.5,563.7 59.1,562.9 59.7,562.3 60.2,564.1 60.8,563.0 61.3,559.2 61.9,562.6 62.4,562.5 63.0,564.4 63.5,559.4 64.0,562.9 64.6,563.6 65.2,561.6 65.7,563.2 66.2,564.3 66.8,561.9 67.3,562.7 67.9,562.3 68.5,562.8 69.0,562.8 69.5,562.5 70.1,563.8 70.7,562.4 71.2,562.8 71.8,565.0 72.3,561.9 72.8,562.2 73.4,562.7 74.0,563.5 74.5,561.1 75.1,563.2 75.6,561.6 76.2,561.7 76.7,562.6 77.2,562.9 77.8,560.7 78.3,564.0 78.9,563.6 79.5,562.0 80.0,564.0 80.6,563.9 81.1,560.9 81.7,563.0 82.2,563.8 82.8,560.9 83.3,564.4 83.8,563.8 84.4,563.6 85.0,563.0 85.5,561.7 86.1,562.6 86.6,564.4 87.2,564.0 87.7,561.8 88.2,565.1 88.8,562.0 89.3,562.5 89.9,563.9 90.5,562.6 91.0,565.1 91.6,562.0 92.1,563.3 92.7,561.4 93.2,561.7 93.8,561.4 94.3,563.9 94.8,562.9 95.4,560.4 96.0,562.3 96.5,563.7 97.1,561.7 97.6,560.3 98.2,562.8 98.7,563.6 99.2,561.3 99.8,562.6 100.3,563.2 100.9,563.4 101.5,563.9 102.0,564.7 102.6,563.2 103.1,563.9 103.7,561.9 104.2,561.8 104.8,564.5 105.3,562.5 105.9,559.9 106.4,562.8 107.0,563.1 107.5,562.1 108.1,558.0 108.6,561.2 109.2,562.2 109.7,561.7 110.2,562.1 110.8,561.6 111.4,563.8 111.9,560.3 112.5,561.8 113.0,562.5 113.6,559.7 114.1,562.2 114.7,562.1 115.2,560.9 115.8,563.4 116.3,563.2 116.9,562.8 117.4,562.1 118.0,561.7 118.5,563.2 119.1,562.0 119.6,563.8 120.2,562.9 120.7,562.1 121.2,563.3 121.8,562.4 122.4,562.6 122.9,562.4 123.5,561.0 124.0,562.3 124.6,562.4 125.1,564.8 125.7,561.0 126.2,563.5 126.8,562.6 127.3,562.7 127.9,563.4 128.4,563.9 128.9,563.1 129.5,561.9 130.1,561.7 130.6,564.3 131.2,562.9 131.7,564.9 132.2,562.0 132.8,559.7 133.4,564.2 133.9,561.7 134.4,563.0 135.0,562.8 135.6,562.4 136.1,562.4 136.7,561.7 137.2,561.6 137.8,561.2 138.3,562.1 138.9,562.0 139.4,563.9 139.9,564.2 140.5,561.1 141.1,563.4 141.6,561.4 142.2,563.5 142.7,563.1 143.2,562.9 143.8,562.7 144.4,562.9 144.9,564.4 145.4,563.6 146.0,563.8 146.6,559.7 147.1,562.3 147.7,563.1 148.2,561.6 148.8,562.0 149.3,559.0 149.9,562.0 150.4,563.3 150.9,564.0 151.5,562.3 152.1,560.8 152.6,561.5 153.2,563.1 153.7,561.0 154.2,561.9 154.8,560.8 155.4,561.0 155.9,561.6 156.4,563.3 157.0,562.3 157.6,561.6 158.1,561.0 158.7,561.3 159.2,561.9 159.8,561.9 160.3,560.9 160.9,559.9 161.4,561.6 161.9,561.7 162.5,560.7 163.1,565.0 163.6,561.9 164.2,560.4 164.7,562.0 165.2,562.8 165.8,561.6 166.4,561.8 166.9,561.3 167.5,563.7 168.0,562.1 168.6,558.5 169.1,559.8 169.7,561.5 170.2,561.3 170.8,562.3 171.3,562.2 171.9,563.4 172.4,559.2 173.0,561.4 173.5,560.6 174.1,561.7 174.6,562.4 175.2,564.1 175.7,562.2 176.2,561.5 176.8,563.7 177.4,562.2 177.9,561.5 178.5,561.0 179.0,561.6 179.6,562.1 180.1,558.6 180.7,561.3 181.2,560.8 181.8,559.7 182.3,559.9 182.9,559.8 183.4,560.4 184.0,561.2 184.5,560.8 185.1,561.7 185.6,561.0 186.2,562.7 186.7,560.9 187.2,558.6 187.8,559.4 188.4,558.6 188.9,560.2 189.5,560.1 190.0,562.4 190.6,557.6 191.1,559.6 191.7,559.7 192.2,559.3 192.8,560.9 193.3,559.7 193.9,557.1 194.4,560.0 195.0,557.4 195.5,559.7 196.1,555.8 196.6,559.3 197.2,558.4 197.7,558.8 198.2,556.6 198.8,559.9 199.4,558.8 199.9,558.9 200.5,559.3 201.0,557.7 201.6,558.6 202.1,556.4 202.7,560.0 203.2,557.4 203.8,557.3 204.3,558.8 204.9,558.1 205.4,557.5 206.0,557.9 206.5,560.6 207.1,557.3 207.6,556.2 208.2,558.9 208.7,557.9 209.2,557.0 209.8,555.9 210.4,558.4 210.9,555.7 211.5,556.3 212.0,555.4 212.6,556.4 213.1,554.7 213.7,554.1 214.2,554.5 214.8,556.8 215.3,554.0 215.9,555.3 216.4,552.9 217.0,555.1 217.5,554.8 218.1,553.7 218.6,555.6 219.2,553.7 219.7,554.3 220.3,554.5 220.8,552.5 221.4,550.4 221.9,553.3 222.5,553.6 223.0,554.6 223.6,554.9 224.1,552.9 224.7,552.7 225.2,552.7 225.8,553.1 226.3,551.6 226.9,551.0 227.4,553.7 228.0,552.2 228.5,552.2 229.1,552.0 229.6,554.2 230.2,551.6 230.7,552.8 231.3,552.7 231.8,547.9 232.4,550.2 232.9,551.3 233.5,548.6 234.0,548.8 234.6,550.1 235.1,548.0 235.7,548.6 236.2,549.1 236.8,552.3 237.3,548.7 237.9,551.1 238.4,549.3 239.0,548.0 239.5,546.9 240.1,548.0 240.6,548.3 241.2,548.1 241.7,547.5 242.3,549.7 242.8,546.6 243.4,547.8 243.9,547.4 244.5,545.9 245.0,547.3 245.6,547.4 246.1,548.0 246.7,545.4 247.2,547.4 247.8,545.3 248.3,543.1 248.9,545.4 249.4,544.0 250.0,544.8 250.5,547.2 251.1,542.4 251.6,546.9 252.2,546.3 252.7,543.2 253.3,543.4 253.8,544.2 254.4,544.3 254.9,544.1 255.5,542.2 256.0,544.0 256.6,541.2 257.1,544.0 257.6,542.2 258.2,544.1 258.8,541.8 259.3,543.2 259.9,544.1 260.4,544.5 261.0,541.4 261.5,542.7 262.1,542.1 262.6,545.1 263.1,539.9 263.7,543.7 264.2,540.3 264.8,541.8 265.4,542.3 265.9,542.5 266.5,540.0 267.0,539.1 267.6,539.6 268.1,540.6 268.6,539.3 269.2,540.7 269.8,539.4 270.3,539.9 270.9,539.3 271.4,538.3 272.0,540.1 272.5,538.4 273.1,535.8 273.6,539.7 274.1,540.5 274.7,538.8 275.2,537.7 275.8,539.5 276.4,539.5 276.9,537.9 277.5,541.1 278.0,536.3 278.6,538.2 279.1,535.5 279.6,538.8 280.2,537.0 280.8,538.8 281.3,537.6 281.9,538.7 282.4,537.6 283.0,535.5 283.5,536.3 284.1,536.4 284.6,536.8 285.1,538.2 285.7,535.2 286.2,536.3 286.8,537.8 287.4,536.5 287.9,535.1 288.5,536.8 289.0,538.2 289.6,537.1 290.1,534.9 290.7,538.6 291.2,534.0 291.8,536.4 292.3,535.6 292.9,536.7 293.4,536.2 294.0,535.8 294.5,534.0 295.1,535.5 295.6,535.2 296.2,534.8 296.7,535.6 297.2,536.0 297.8,533.2 298.4,533.8 298.9,532.7 299.5,534.8 300.0,533.3 300.6,531.1 301.1,534.2 301.7,532.5 302.2,531.7 302.8,531.3 303.3,532.7 303.9,531.6 304.4,531.9 305.0,531.9 305.5,530.7 306.1,529.5 306.6,528.3 307.2,530.6 307.7,527.3 308.2,531.6 308.8,529.8 309.4,531.2 309.9,529.9 310.5,532.2 311.0,527.3 311.6,529.1 312.1,530.2 312.7,529.9 313.2,531.0 313.8,528.5 314.3,529.7 314.9,526.4 315.4,528.1 316.0,527.7 316.5,526.3 317.1,524.1 317.6,528.2 318.2,526.5 318.7,526.6 319.2,525.4 319.8,525.6 320.4,523.9 320.9,527.8 321.5,526.2 322.0,525.6 322.6,527.2 323.1,526.0 323.7,524.1 324.2,521.9 324.8,524.9 325.3,522.4 325.9,525.5 326.4,525.7 327.0,521.8 327.5,522.5 328.1,524.3 328.6,521.2 329.2,522.5 329.7,521.3 330.2,522.5 330.8,521.6 331.4,521.4 331.9,522.2 332.5,521.6 333.0,520.5 333.6,519.9 334.1,518.5 334.7,521.3 335.2,521.2 335.8,519.7 336.3,519.6 336.9,522.2 337.4,520.1 338.0,520.5 338.5,521.6 339.1,523.0 339.6,517.8 340.2,521.8 340.7,521.3 341.2,521.7 341.8,520.5 342.4,519.9 342.9,521.2 343.5,519.5 344.0,520.6 344.6,517.7 345.1,521.1 345.7,518.9 346.2,517.7 346.8,521.4 347.3,518.3 347.9,518.3 348.4,520.0 349.0,522.9 349.5,518.8 350.1,519.4 350.6,518.9 351.2,519.1 351.7,518.9 352.2,520.0 352.8,518.8 353.4,519.0 353.9,518.0 354.5,520.3 355.0,520.7 355.6,518.1 356.1,519.4 356.7,519.0 357.2,520.1 357.8,519.6 358.3,519.5 358.9,520.9 359.4,519.6 360.0,520.0 360.5,521.1 361.1,521.2 361.6,523.6 362.2,522.3 362.7,522.8 363.2,521.3 363.8,519.7 364.4,522.3 364.9,522.7 365.5,520.4 366.0,522.0 366.6,519.6 367.1,521.3 367.7,522.1 368.2,521.4 368.8,521.2 369.3,522.3 369.9,523.3 370.4,521.5 371.0,522.4 371.5,521.6 372.1,524.7 372.6,520.8 373.2,524.6 373.7,522.9 374.2,523.4 374.8,524.2 375.4,524.5 375.9,523.5 376.5,526.1 377.0,525.5 377.6,524.2 378.1,524.6 378.7,526.3 379.2,526.5 379.8,525.9 380.3,525.0 380.9,526.0 381.4,525.8 382.0,525.4 382.5,526.4 383.1,525.4 383.6,526.8 384.2,527.3 384.7,528.5 385.2,527.4 385.8,527.1 386.4,528.3 386.9,529.5 387.5,528.3 388.0,528.5 388.6,528.9 389.1,529.8 389.7,529.7 390.2,528.9 390.8,529.6 391.3,530.0 391.9,531.8 392.4,530.0 393.0,531.0 393.5,531.0 394.1,529.2 394.6,531.5 395.2,529.6 395.7,533.7 396.3,531.0 396.8,534.0 397.4,530.3 397.9,533.5 398.5,531.3 399.0,533.0 399.6,535.5 400.1,535.3 400.7,536.0 401.2,534.0 401.8,534.5 402.3,535.9 402.9,533.9 403.4,537.7 404.0,538.1 404.5,537.6 405.1,533.5 405.6,538.8 406.2,539.8 406.7,537.5 407.3,536.4 407.8,533.5 408.4,538.2 408.9,537.5 409.5,538.8 410.0,536.7 410.6,538.7 411.1,537.6 411.7,539.8 412.2,540.6 412.8,538.5 413.3,540.4 413.9,541.0 414.4,541.9 415.0,539.7 415.5,541.1 416.1,539.5 416.6,541.4 417.2,538.4 417.7,544.6 418.3,540.8 418.8,540.6 419.4,542.2 419.9,543.4 420.5,539.9 421.0,545.3 421.6,541.8 422.1,542.8 422.7,542.2 423.2,544.3 423.8,544.5 424.3,544.3 424.9,545.2 425.4,545.9 426.0,544.7 426.5,547.3 427.1,547.0 427.6,547.3 428.2,546.9 428.7,547.8 429.3,545.6 429.8,547.7 430.4,546.2 430.9,549.4 431.5,548.5 432.0,547.2 432.6,550.9 433.1,549.9 433.7,550.3 434.2,549.4 434.8,548.8 435.3,550.5 435.9,549.5 436.4,553.5 437.0,549.9 437.5,549.9 438.1,550.6 438.6,549.9 439.2,553.0 439.7,552.0 440.3,552.1 440.8,551.7 441.4,551.0 441.9,553.4 442.5,553.0 443.0,554.4 443.6,552.9 444.1,553.5 444.7,554.4 445.2,554.4 445.8,553.8 446.3,555.3 446.9,553.6 447.4,553.7 448.0,555.5 448.5,556.4 449.1,555.4 449.6,558.0 450.2,556.2 450.7,556.6 451.3,558.1 451.8,553.7 452.4,558.0 452.9,558.1 453.5,557.6 454.0,556.5 454.6,554.6 455.1,557.6 455.7,555.8 456.2,556.7 456.8,555.3 457.3,557.0 457.9,557.3 458.4,557.7 459.0,556.8 459.5,556.6 460.1,558.3 460.6,558.0 461.2,557.3 461.7,558.9 462.3,559.1 462.8,558.5 463.4,557.1 463.9,559.5 464.5,559.3 465.0,560.4 465.6,560.0 466.1,559.4 466.7,559.8 467.2,559.5 467.8,561.8 468.3,558.2 468.9,560.3 469.4,560.6 470.0,558.6 470.5,559.3 471.1,560.4 471.6,559.3 472.2,559.9 472.7,559.5 473.3,560.5 473.8,560.8 474.4,561.5 474.9,559.7 475.5,559.2 476.0,561.5 476.6,560.4 477.1,560.5 477.7,560.2 478.2,561.3 478.8,564.4 479.3,561.4 479.9,561.4 480.4,564.6 481.0,562.3 481.5,562.2 482.1,563.5 482.6,561.0 483.2,561.9 483.7,562.0 484.3,560.0 484.8,559.8 485.4,562.3 485.9,562.2 486.5,563.1 487.0,565.2 487.6,560.8 488.1,561.1 488.7,561.7 489.2,561.2 489.8,562.9 490.3,558.7 490.9,559.3 491.4,561.2 492.0,562.7 492.5,563.0 493.1,560.9 493.6,563.0 494.2,562.3 494.7,563.8 495.3,565.4 495.8,561.0 496.4,561.7 496.9,562.7 497.5,562.5 498.0,561.2 498.6,563.6 499.1,564.3 499.7,563.1 500.2,564.3 500.8,562.1 501.3,562.6 501.9,559.8 502.4,562.1 503.0,563.2 503.5,563.0 504.1,563.1 504.6,564.7 505.2,562.8 505.7,560.8 506.3,563.4 506.8,565.4 507.4,564.8 507.9,564.9 508.5,562.8 509.0,564.3 509.6,563.4 510.1,563.2 510.7,561.7 511.2,565.7 511.8,560.9 512.3,563.4 512.9,563.6 513.4,562.4 514.0,561.6 514.5,563.5 515.0,562.7 515.6,561.3 516.2,563.3 516.7,561.6 517.2,562.2 517.8,562.9 518.4,562.0 518.9,562.9 519.5,562.7 520.0,562.5 520.5,561.9 521.1,564.6 521.7,563.1 522.2,563.0 522.8,562.2 523.3,564.9 523.9,562.5 524.4,563.4 525.0,564.3 525.5,564.3 526.0,560.0 526.6,561.5 527.2,561.8 527.7,562.3 528.2,562.6 528.8,563.0 529.4,564.1 529.9,563.3 530.5,561.8 531.0,565.4 531.5,563.2 532.1,560.8 532.7,562.6 533.2,561.2 533.8,562.6 534.3,561.4 534.9,564.2 535.4,562.8 536.0,561.5 536.5,563.9 537.1,565.6 537.6,561.3 538.2,561.7 538.7,566.9 539.2,560.3 539.8,565.3 540.4,562.0 540.9,562.8 541.5,562.2 542.0,563.5 542.6,563.0 543.1,565.2 543.7,563.1 544.2,563.1 544.8,561.8 545.3,562.2 545.9,561.1 546.4,564.9 547.0,563.0 547.5,564.0 548.1,564.5 548.6,560.6 549.2,562.4 549.7,562.8 550.2,561.4 550.8,561.8 551.4,563.6 551.9,564.3 552.5,561.7 553.0,563.3 553.6,563.5 554.1,563.7 554.7,562.7 555.2,563.1 555.8,562.5 556.3,561.1 556.9,564.6 557.4,561.7 558.0,562.5 558.5,562.9 559.1,564.2 559.6,563.2 560.2,563.7 560.7,560.4 561.2,561.9 561.8,563.5 562.4,562.6 562.9,563.1 563.5,562.2 564.0,562.2 564.6,564.8 565.1,563.3 565.7,562.6 566.2,562.5 566.8,562.9 567.3,559.9 567.9,563.6 568.4,564.1 569.0,562.7 569.5,565.6 570.1,565.4 570.6,560.7 571.2,561.4 571.7,562.8 572.2,562.5 572.8,562.6 573.4,563.6 573.9,562.3 574.5,561.6 575.0,559.7 575.6,563.5 576.1,560.3 576.7,561.9 577.2,563.4 577.8,564.8 578.3,561.8 578.9,563.0 579.4,564.6 580.0,566.4 580.5,566.1 581.1,563.2 581.6,561.9 582.2,562.1 582.7,564.3 583.2,561.2 583.8,562.7 584.4,562.7 584.9,560.8 585.5,564.1 586.0,564.1 586.6,562.5 587.1,562.7 587.7,563.3 588.2,562.7 588.8,562.8 589.3,562.6 589.9,562.3 590.4,563.2 591.0,563.4 591.5,563.9 592.1,564.3 592.6,565.2 593.2,563.2 593.7,560.4 594.2,565.0 594.8,561.0 595.4,563.1 595.9,564.8 596.5,564.5 597.0,562.1 597.6,561.5 598.1,565.2 598.7,564.6 599.2,562.0 599.8,560.8 600.3,562.0 600.9,561.4 601.4,564.1 602.0,563.5 602.5,565.4 603.1,561.3 603.6,564.5 604.2,562.8 604.7,564.5 605.2,561.9 605.8,562.8 606.4,561.8 606.9,560.9 607.5,562.4 608.0,566.0 608.6,562.5 609.1,564.8 609.7,563.4 610.2,564.7 610.8,564.3 611.3,561.0 611.9,562.2 612.4,561.8 613.0,562.2 613.5,563.5 614.1,563.6 614.6,564.2 615.2,562.1 615.7,562.6 616.2,564.1 616.8,565.7 617.4,562.2 617.9,561.9 618.5,559.7 619.0,563.7 619.6,564.4 620.1,564.2 620.7,562.6 621.2,562.4 621.8,560.4 622.3,563.7 622.9,562.0 623.4,563.3 624.0,565.1 624.5,561.9 625.1,563.0 625.6,559.4 626.2,560.8 626.7,565.2 627.2,563.6 627.8,563.6 628.4,562.5 628.9,564.6 629.5,561.1 630.0,564.2 630.6,564.7 631.1,563.9 631.7,563.1 632.2,560.9 632.8,562.9 633.3,562.7 633.9,563.7 634.4,562.4 635.0,563.8 635.5,563.6 636.1,564.0 636.6,562.6 637.2,563.1 637.7,562.8 638.2,559.8 638.8,561.5 639.4,560.2 639.9,563.7 640.5,563.5 641.0,561.3 641.6,564.2 642.1,562.3 642.7,562.7 643.2,563.2 643.8,562.1 644.3,563.0" fill="none" stroke="#3a3a3a" stroke-width="0.8" />
<path d="M41.5,562.7 43.5,562.7 45.5,562.7 47.5,562.7 49.5,562.7 51.5,562.7 53.5,562.7 55.5,562.7 57.5,562.7 59.5,562.7 61.5,562.7 63.5,562.7 65.5,562.7 67.5,562.7 69.5,562.7 71.5,562.7 73.5,562.7 75.5,562.7 77.5,562.7 79.5,562.7 81.5,562.7 83.5,562.6 85.5,562.6 87.5,562.6 89.5,562.6 91.5,562.6 93.5,562.6 95.5,562.6 97.5,562.6 99.5,562.6 101.5,562.6 103.5,562.6 105.5,562.6 107.5,562.6 109.5,562.6 111.5,562.5 113.5,562.5 115.5,562.5 117.5,562.5 119.5,562.5 121.5,562.5 123.5,562.5 125.5,562.5 127.5,562.5 129.5,562.4 131.5,562.4 133.5,562.4 135.5,562.4 137.5,562.4 139.5,562.4 141.5,562.3 143.5,562.3 145.5,562.3 147.5,562.2 149.5,562.2 151.5,562.2 153.5,562.1 155.5,562.1 157.5,562.0 159.5,562.0 161.5,561.9 163.5,561.9 165.5,561.8 167.5,561.7 169.5,561.6 171.5,561.5 173.5,561.4 175.5,561.3 177.5,561.1 179.5,561.0 181.5,560.8 183.5,560.7 185.5,560.5 187.5,560.3 189.5,560.0 191.5,559.8 193.5,559.5 195.5,559.3 197.5,558.9 199.5,558.6 201.5,558.3 203.5,557.9 205.5,557.5 207.5,557.1 209.5,556.7 211.5,556.2 213.5,555.8 215.5,555.3 217.5,554.8 219.5,554.2 221.5,553.7 223.5,553.1 225.5,552.5 227.5,551.9 229.5,551.3 231.5,550.7 233.5,550.1 235.5,549.5 237.5,548.8 239.5,548.2 241.5,547.6 243.5,547.0 245.5,546.3 247.5,545.7 249.5,545.2 251.5,544.6 253.5,544.0 255.5,543.5 257.5,543.0 259.5,542.5 261.5,542.0 263.5,541.6 265.5,541.2 267.5,540.7 269.5,540.3 271.5,539.9 273.5,539.5 275.5,539.2 277.5,538.8 279.5,538.3 281.5,537.9 283.5,537.5 285.5,537.0 287.5,536.6 289.5,536.1 291.5,535.5 293.5,535.0 295.5,534.4 297.5,533.8 299.5,533.2 301.5,532.5 303.5,531.9 305.5,531.2 307.5,530.5 309.5,529.7 311.5,529.0 313.5,528.3 315.5,527.5 317.5,526.8 319.5,526.1 321.5,525.4 323.5,524.7 325.5,524.0 327.5,523.4 329.5,522.8 331.5,522.2 333.5,521.7 335.5,521.2 337.5,520.8 339.5,520.4 341.5,520.1 343.5,519.8 345.5,519.6 347.5,519.5 349.5,519.5 351.5,519.5 353.5,519.6 355.5,519.7 357.5,519.9 359.5,520.2 361.5,520.5 363.5,520.9 365.5,521.3 367.5,521.8 369.5,522.3 371.5,522.9 373.5,523.5 375.5,524.2 377.5,524.9 379.5,525.6 381.5,526.3 383.5,527.1 385.5,527.8 387.5,528.6 389.5,529.4 391.5,530.3 393.5,531.1 395.5,531.9 397.5,532.8 399.5,533.6 401.5,534.5 403.5,535.4 405.5,536.3 407.5,537.2 409.5,538.1 411.5,539.0 413.5,539.9 415.5,540.8 417.5,541.8 419.5,542.7 421.5,543.7 423.5,544.6 425.5,545.5 427.5,546.5 429.5,547.4 431.5,548.3 433.5,549.2 435.5,550.1 437.5,551.0 439.5,551.8 441.5,552.7 443.5,553.4 445.5,554.2 447.5,554.9 449.5,555.6 451.5,556.3 453.5,556.9 455.5,557.5 457.5,558.0 459.5,558.5 461.5,559.0 463.5,559.4 465.5,559.8 467.5,560.1 469.5,560.4 471.5,560.7 473.5,561.0 475.5,561.2 477.5,561.4 479.5,561.6 481.5,561.8 483.5,561.9 485.5,562.0 487.5,562.1 489.5,562.2 491.5,562.3 493.5,562.4 495.5,562.4 497.5,562.5 499.5,562.5 501.5,562.6 503.5,562.6 505.5,562.6 507.5,562.7 509.5,562.7 511.5,562.7 513.5,562.7 515.5,562.7 517.5,562.7 519.5,562.7 521.5,562.8 523.5,562.8 525.5,562.8 527.5,562.8 529.5,562.8 531.5,562.8 533.5,562.8 535.5,562.8 537.5,562.8 539.5,562.8 541.5,562.8 543.5,562.8 545.5,562.8 547.5,562.8 549.5,562.8 551.5,562.8 553.5,562.8 555.5,562.8 557.5,562.8 559.5,562.8 561.5,562.8 563.5,562.8 565.5,562.8 567.5,562.8 569.5,562.8 571.5,562.8 573.5,562.8 575.5,562.8 577.5,562.8 579.5,562.8 581.5,562.8 583.5,562.8 585.5,562.8 587.5,562.8 589.5,562.8 591.5,562.8 593.5,562.8 595.5,562.8 597.5,562.8 599.5,562.8 601.5,562.8 603.5,562.8 605.5,562.8 607.5,562.8 609.5,562.8 611.5,562.8 613.5,562.8 615.5,562.8 617.5,562.8 619.5,562.8 621.5,562.8 623.5,562.8 625.5,562.8 627.5,562.8 629.5,562.8 631.5,562.8 633.5,562.8 635.5,562.8 637.5,562.8 639.5,562.8 641.5,562.8 643.5,562.8" fill="none" stroke="#a374e6" stroke-width="1.3" />
<text x="668.8" y="566.9" font-size="32.3" textLength="103.95" lengthAdjust="spacingAndGlyphs" >−0.55 V</text>
<path d="M109.5,629.1 111.5,629.0 113.5,629.0 115.5,629.0 117.5,629.0 119.5,629.0 121.5,629.0 123.5,629.0 125.5,629.0 127.5,629.0 129.5,628.9 131.5,628.9 133.5,628.9 135.5,628.9 137.5,628.9 139.5,628.8 141.5,628.8 143.5,628.8 145.5,628.8 147.5,628.7 149.5,628.7 151.5,628.7 153.5,628.6 155.5,628.6 157.5,628.5 159.5,628.5 161.5,628.4 163.5,628.3 165.5,628.3 167.5,628.2 169.5,628.1 171.5,628.0 173.5,627.9 175.5,627.8 177.5,627.6 179.5,627.5 181.5,627.3 183.5,627.2 185.5,627.0 187.5,626.8 189.5,626.6 191.5,626.3 193.5,626.1 195.5,625.8 197.5,625.5 199.5,625.2 201.5,624.9 203.5,624.6 205.5,624.2 207.5,623.8 209.5,623.4 211.5,623.0 213.5,622.6 215.5,622.1 217.5,621.7 219.5,621.2 221.5,620.7 223.5,620.3 225.5,619.8 227.5,619.3 229.5,618.8 231.5,618.3 233.5,617.8 235.5,617.3 237.5,616.9 239.5,616.4 241.5,616.0 243.5,615.6 245.5,615.3 247.5,615.0 249.5,614.7 251.5,614.5 253.5,614.3 255.5,614.1 257.5,614.0 259.5,614.0 261.5,614.0 263.5,614.1 265.5,614.2 267.5,614.4 269.5,614.6 271.5,614.9 273.5,615.2 275.5,615.5 277.5,615.9 279.5,616.3 281.5,616.8 283.5,617.2 285.5,617.7 287.5,618.1 289.5,618.6 291.5,619.1 293.5,619.6 295.5,620.1 297.5,620.6 299.5,621.1 301.5,621.5 303.5,622.0 305.5,622.4 307.5,622.9 309.5,623.3 311.5,623.7 313.5,624.1 315.5,624.4 317.5,624.8 319.5,625.1 321.5,625.4 323.5,625.7 325.5,626.0 327.5,626.3 329.5,626.5 331.5,626.7 333.5,626.9 335.5,627.1 337.5,627.3 339.5,627.5 341.5,627.6 343.5,627.7 345.5,627.9 347.5,628.0 349.5,628.1 351.5,628.2 353.5,628.3 355.5,628.3 357.5,628.4 359.5,628.5 361.5,628.5 363.5,628.6 365.5,628.6 367.5,628.7 369.5,628.7 371.5,628.7 373.5,628.8 375.5,628.8 377.5,628.8 379.5,628.8 381.5,628.9 383.5,628.9 385.5,628.9 387.5,628.9 389.5,628.9 391.5,629.0 393.5,629.0 395.5,629.0 397.5,629.0 399.5,629.0 401.5,629.0 403.5,629.0 405.5,629.0 407.5,629.0 409.5,629.1 L409.5,629.4 L109.5,629.4Z" fill="#ee3a44" stroke="none" stroke-width="1" />
<path d="M193.5,629.3 195.5,629.3 197.5,629.3 199.5,629.3 201.5,629.3 203.5,629.3 205.5,629.2 207.5,629.2 209.5,629.2 211.5,629.1 213.5,629.1 215.5,629.1 217.5,629.0 219.5,628.9 221.5,628.9 223.5,628.8 225.5,628.7 227.5,628.6 229.5,628.5 231.5,628.4 233.5,628.3 235.5,628.1 237.5,628.0 239.5,627.8 241.5,627.6 243.5,627.4 245.5,627.1 247.5,626.9 249.5,626.6 251.5,626.3 253.5,625.9 255.5,625.6 257.5,625.2 259.5,624.7 261.5,624.3 263.5,623.8 265.5,623.3 267.5,622.7 269.5,622.1 271.5,621.5 273.5,620.8 275.5,620.1 277.5,619.3 279.5,618.5 281.5,617.7 283.5,616.8 285.5,615.9 287.5,615.0 289.5,614.1 291.5,613.1 293.5,612.0 295.5,611.0 297.5,609.9 299.5,608.8 301.5,607.7 303.5,606.6 305.5,605.5 307.5,604.4 309.5,603.3 311.5,602.1 313.5,601.0 315.5,600.0 317.5,598.9 319.5,597.8 321.5,596.8 323.5,595.9 325.5,594.9 327.5,594.1 329.5,593.2 331.5,592.5 333.5,591.8 335.5,591.1 337.5,590.6 339.5,590.1 341.5,589.7 343.5,589.3 345.5,589.1 347.5,588.9 349.5,588.8 351.5,588.8 353.5,588.9 355.5,589.1 357.5,589.3 359.5,589.6 361.5,590.0 363.5,590.5 365.5,591.1 367.5,591.7 369.5,592.4 371.5,593.2 373.5,594.0 375.5,594.9 377.5,595.8 379.5,596.7 381.5,597.7 383.5,598.8 385.5,599.8 387.5,600.9 389.5,602.0 391.5,603.1 393.5,604.3 395.5,605.4 397.5,606.5 399.5,607.6 401.5,608.7 403.5,609.8 405.5,610.9 407.5,611.9 409.5,613.0 411.5,614.0 413.5,614.9 415.5,615.9 417.5,616.8 419.5,617.6 421.5,618.4 423.5,619.2 425.5,620.0 427.5,620.7 429.5,621.4 431.5,622.0 433.5,622.6 435.5,623.2 437.5,623.7 439.5,624.2 441.5,624.7 443.5,625.1 445.5,625.5 447.5,625.9 449.5,626.2 451.5,626.5 453.5,626.8 455.5,627.1 457.5,627.3 459.5,627.6 461.5,627.8 463.5,627.9 465.5,628.1 467.5,628.2 469.5,628.4 471.5,628.5 473.5,628.6 475.5,628.7 477.5,628.8 479.5,628.9 481.5,628.9 483.5,629.0 485.5,629.0 487.5,629.1 489.5,629.1 491.5,629.2 493.5,629.2 495.5,629.2 497.5,629.3 499.5,629.3 501.5,629.3 503.5,629.3 505.5,629.3 507.5,629.3 L507.5,629.4 L193.5,629.4Z" fill="url(#gBlueA)" stroke="none" stroke-width="1" fill-opacity="0.5"/>
<path d="M319.5,629.4 321.5,629.4 323.5,629.4 325.5,629.4 327.5,629.4 329.5,629.3 331.5,629.3 333.5,629.3 335.5,629.3 337.5,629.3 339.5,629.2 341.5,629.2 343.5,629.2 345.5,629.1 347.5,629.1 349.5,629.0 351.5,628.9 353.5,628.8 355.5,628.7 357.5,628.6 359.5,628.5 361.5,628.3 363.5,628.2 365.5,628.0 367.5,627.8 369.5,627.5 371.5,627.3 373.5,627.0 375.5,626.8 377.5,626.5 379.5,626.2 381.5,625.8 383.5,625.5 385.5,625.2 387.5,624.8 389.5,624.5 391.5,624.1 393.5,623.8 395.5,623.5 397.5,623.2 399.5,622.9 401.5,622.6 403.5,622.4 405.5,622.2 407.5,622.0 409.5,621.9 411.5,621.8 413.5,621.7 415.5,621.7 417.5,621.7 419.5,621.8 421.5,621.9 423.5,622.1 425.5,622.3 427.5,622.5 429.5,622.7 431.5,623.0 433.5,623.3 435.5,623.6 437.5,624.0 439.5,624.3 441.5,624.6 443.5,625.0 445.5,625.3 447.5,625.7 449.5,626.0 451.5,626.3 453.5,626.6 455.5,626.9 457.5,627.2 459.5,627.4 461.5,627.7 463.5,627.9 465.5,628.1 467.5,628.2 469.5,628.4 471.5,628.5 473.5,628.7 475.5,628.8 477.5,628.9 479.5,629.0 481.5,629.0 483.5,629.1 485.5,629.1 487.5,629.2 489.5,629.2 491.5,629.3 493.5,629.3 495.5,629.3 497.5,629.3 499.5,629.3 501.5,629.4 503.5,629.4 505.5,629.4 507.5,629.4 509.5,629.4 511.5,629.4 L511.5,629.4 L319.5,629.4Z" fill="#2e8b3c" stroke="none" stroke-width="1" />
<line x1="155" y1="629.4" x2="505" y2="629.4" stroke="#3d9a62" stroke-width="1.4" />
<path d="M193.5,629.3 195.5,629.3 197.5,629.3 199.5,629.3 201.5,629.3 203.5,629.3 205.5,629.2 207.5,629.2 209.5,629.2 211.5,629.1 213.5,629.1 215.5,629.1 217.5,629.0 219.5,628.9 221.5,628.9 223.5,628.8 225.5,628.7 227.5,628.6 229.5,628.5 231.5,628.4 233.5,628.3 235.5,628.1 237.5,628.0 239.5,627.8 241.5,627.6 243.5,627.4 245.5,627.1 247.5,626.9 249.5,626.6 251.5,626.3 253.5,625.9 255.5,625.6 257.5,625.2 259.5,624.7 261.5,624.3 263.5,623.8 265.5,623.3 267.5,622.7 269.5,622.1 271.5,621.5 273.5,620.8 275.5,620.1 277.5,619.3 279.5,618.5 281.5,617.7 283.5,616.8 285.5,615.9 287.5,615.0 289.5,614.1 291.5,613.1 293.5,612.0 295.5,611.0 297.5,609.9 299.5,608.8 301.5,607.7 303.5,606.6 305.5,605.5 307.5,604.4 309.5,603.3 311.5,602.1 313.5,601.0 315.5,600.0 317.5,598.9 319.5,597.8 321.5,596.8 323.5,595.9 325.5,594.9 327.5,594.1 329.5,593.2 331.5,592.5 333.5,591.8 335.5,591.1 337.5,590.6 339.5,590.1 341.5,589.7 343.5,589.3 345.5,589.1 347.5,588.9 349.5,588.8 351.5,588.8 353.5,588.9 355.5,589.1 357.5,589.3 359.5,589.6 361.5,590.0 363.5,590.5 365.5,591.1 367.5,591.7 369.5,592.4 371.5,593.2 373.5,594.0 375.5,594.9 377.5,595.8 379.5,596.7 381.5,597.7 383.5,598.8 385.5,599.8 387.5,600.9 389.5,602.0 391.5,603.1 393.5,604.3 395.5,605.4 397.5,606.5 399.5,607.6 401.5,608.7 403.5,609.8 405.5,610.9 407.5,611.9 409.5,613.0 411.5,614.0 413.5,614.9 415.5,615.9 417.5,616.8 419.5,617.6 421.5,618.4 423.5,619.2 425.5,620.0 427.5,620.7 429.5,621.4 431.5,622.0 433.5,622.6 435.5,623.2 437.5,623.7 439.5,624.2 441.5,624.7 443.5,625.1 445.5,625.5 447.5,625.9 449.5,626.2 451.5,626.5 453.5,626.8 455.5,627.1 457.5,627.3 459.5,627.6 461.5,627.8 463.5,627.9 465.5,628.1 467.5,628.2 469.5,628.4 471.5,628.5 473.5,628.6 475.5,628.7 477.5,628.8 479.5,628.9 481.5,628.9 483.5,629.0 485.5,629.0 487.5,629.1 489.5,629.1 491.5,629.2 493.5,629.2 495.5,629.2 497.5,629.3 499.5,629.3 501.5,629.3 503.5,629.3 505.5,629.3 507.5,629.3" fill="none" stroke="#2b3cf0" stroke-width="1.1" />
<path d="M41.5,628.8 42.0,629.5 42.6,627.4 43.1,630.2 43.7,628.5 44.2,627.9 44.8,631.3 45.4,628.2 45.9,630.6 46.5,630.3 47.0,629.7 47.5,629.7 48.1,627.8 48.6,629.1 49.2,628.0 49.8,628.2 50.3,630.2 50.9,629.6 51.4,628.0 52.0,631.5 52.5,629.7 53.0,626.5 53.6,629.1 54.1,630.6 54.7,629.7 55.2,628.5 55.8,628.7 56.4,628.6 56.9,627.8 57.5,630.3 58.0,629.0 58.5,629.8 59.1,632.1 59.7,628.1 60.2,630.2 60.8,629.1 61.3,631.0 61.9,628.4 62.4,630.5 63.0,629.7 63.5,630.1 64.0,631.6 64.6,630.2 65.2,628.4 65.7,630.9 66.2,629.7 66.8,628.4 67.3,627.9 67.9,629.1 68.5,632.0 69.0,629.4 69.5,632.5 70.1,628.2 70.7,629.0 71.2,628.9 71.8,627.4 72.3,629.5 72.8,627.6 73.4,627.5 74.0,630.0 74.5,628.7 75.1,630.3 75.6,628.6 76.2,629.8 76.7,627.8 77.2,628.6 77.8,630.5 78.3,630.0 78.9,629.3 79.5,628.7 80.0,629.6 80.6,628.1 81.1,628.8 81.7,630.2 82.2,629.4 82.8,627.0 83.3,630.5 83.8,630.1 84.4,631.1 85.0,627.1 85.5,629.1 86.1,630.5 86.6,628.7 87.2,630.4 87.7,629.1 88.2,628.7 88.8,630.1 89.3,630.4 89.9,631.7 90.5,629.1 91.0,629.6 91.6,627.8 92.1,631.0 92.7,630.3 93.2,629.5 93.8,627.6 94.3,628.7 94.8,628.5 95.4,625.1 96.0,630.6 96.5,627.9 97.1,628.3 97.6,627.0 98.2,628.2 98.7,626.7 99.2,628.5 99.8,627.9 100.3,628.0 100.9,630.8 101.5,630.4 102.0,628.9 102.6,630.4 103.1,629.4 103.7,628.5 104.2,629.9 104.8,628.7 105.3,630.0 105.9,627.2 106.4,629.3 107.0,628.8 107.5,629.0 108.1,630.1 108.6,627.8 109.2,630.4 109.7,627.2 110.2,629.0 110.8,631.1 111.4,627.5 111.9,628.5 112.5,629.4 113.0,629.5 113.6,628.2 114.1,630.2 114.7,630.9 115.2,630.7 115.8,629.1 116.3,626.8 116.9,628.3 117.4,627.8 118.0,631.1 118.5,629.1 119.1,628.4 119.6,628.8 120.2,631.0 120.7,630.3 121.2,629.5 121.8,629.6 122.4,629.7 122.9,629.7 123.5,631.4 124.0,629.8 124.6,629.3 125.1,628.2 125.7,628.9 126.2,627.9 126.8,628.9 127.3,627.1 127.9,628.9 128.4,628.2 128.9,629.6 129.5,629.6 130.1,627.9 130.6,627.7 131.2,627.4 131.7,630.2 132.2,628.8 132.8,625.7 133.4,628.9 133.9,627.7 134.4,629.1 135.0,627.0 135.6,627.6 136.1,629.2 136.7,630.3 137.2,627.7 137.8,627.3 138.3,629.4 138.9,626.8 139.4,630.4 139.9,628.3 140.5,629.6 141.1,630.0 141.6,627.7 142.2,628.2 142.7,630.3 143.2,628.3 143.8,630.0 144.4,629.2 144.9,629.2 145.4,628.3 146.0,628.8 146.6,629.4 147.1,627.1 147.7,631.0 148.2,626.1 148.8,625.5 149.3,628.0 149.9,625.8 150.4,629.5 150.9,628.1 151.5,630.7 152.1,626.9 152.6,625.4 153.2,630.8 153.7,628.6 154.2,628.5 154.8,628.5 155.4,629.8 155.9,629.3 156.4,627.2 157.0,630.2 157.6,630.0 158.1,627.4 158.7,628.8 159.2,630.6 159.8,629.0 160.3,629.1 160.9,632.0 161.4,628.9 161.9,628.6 162.5,629.6 163.1,626.5 163.6,632.0 164.2,628.1 164.7,628.3 165.2,627.5 165.8,628.0 166.4,628.5 166.9,626.8 167.5,625.1 168.0,629.7 168.6,625.4 169.1,627.4 169.7,629.0 170.2,625.7 170.8,629.3 171.3,628.3 171.9,627.7 172.4,627.8 173.0,627.9 173.5,628.7 174.1,625.4 174.6,627.4 175.2,627.0 175.7,627.9 176.2,628.1 176.8,627.1 177.4,627.6 177.9,628.3 178.5,627.3 179.0,625.2 179.6,628.9 180.1,627.1 180.7,625.5 181.2,626.8 181.8,626.7 182.3,627.5 182.9,626.0 183.4,625.7 184.0,628.9 184.5,626.7 185.1,626.9 185.6,627.2 186.2,625.9 186.7,627.7 187.2,626.0 187.8,624.7 188.4,627.0 188.9,626.7 189.5,625.8 190.0,624.7 190.6,626.3 191.1,626.2 191.7,625.0 192.2,625.8 192.8,628.3 193.3,628.2 193.9,625.8 194.4,628.1 195.0,628.5 195.5,626.0 196.1,624.1 196.6,627.9 197.2,625.3 197.7,624.2 198.2,626.5 198.8,622.9 199.4,625.0 199.9,626.4 200.5,625.6 201.0,626.0 201.6,625.3 202.1,623.9 202.7,623.4 203.2,624.1 203.8,624.4 204.3,624.3 204.9,623.5 205.4,623.8 206.0,623.8 206.5,621.4 207.1,623.9 207.6,624.4 208.2,622.6 208.7,624.2 209.2,621.5 209.8,624.4 210.4,624.7 210.9,624.2 211.5,622.5 212.0,621.9 212.6,622.6 213.1,621.8 213.7,623.6 214.2,623.6 214.8,621.5 215.3,621.5 215.9,621.4 216.4,620.9 217.0,620.0 217.5,621.1 218.1,621.3 218.6,619.8 219.2,620.4 219.7,619.3 220.3,620.3 220.8,619.2 221.4,619.9 221.9,620.9 222.5,623.1 223.0,621.6 223.6,620.1 224.1,620.0 224.7,617.6 225.2,618.6 225.8,619.7 226.3,616.9 226.9,619.4 227.4,620.9 228.0,618.4 228.5,618.9 229.1,620.3 229.6,617.0 230.2,616.4 230.7,617.5 231.3,618.5 231.8,616.0 232.4,615.8 232.9,618.6 233.5,618.0 234.0,616.4 234.6,615.9 235.1,617.5 235.7,615.3 236.2,617.9 236.8,616.7 237.3,615.0 237.9,614.5 238.4,615.6 239.0,613.8 239.5,614.8 240.1,613.3 240.6,614.3 241.2,617.3 241.7,614.3 242.3,618.7 242.8,614.8 243.4,614.3 243.9,613.9 244.5,613.0 245.0,612.1 245.6,613.2 246.1,612.0 246.7,611.6 247.2,610.2 247.8,614.1 248.3,613.1 248.9,612.0 249.4,613.1 250.0,612.0 250.5,610.6 251.1,610.4 251.6,610.3 252.2,609.0 252.7,613.5 253.3,610.1 253.8,610.2 254.4,609.7 254.9,610.9 255.5,610.8 256.0,611.6 256.6,608.0 257.1,609.6 257.6,608.0 258.2,607.7 258.8,610.5 259.3,607.7 259.9,608.3 260.4,608.5 261.0,608.4 261.5,609.1 262.1,608.6 262.6,608.5 263.1,606.7 263.7,606.8 264.2,607.7 264.8,611.1 265.4,606.3 265.9,609.6 266.5,606.2 267.0,606.3 267.6,608.7 268.1,607.3 268.6,607.9 269.2,606.3 269.8,606.0 270.3,608.9 270.9,608.6 271.4,606.1 272.0,606.3 272.5,607.3 273.1,605.9 273.6,606.6 274.1,607.1 274.7,603.2 275.2,607.6 275.8,603.9 276.4,608.1 276.9,608.7 277.5,608.0 278.0,606.4 278.6,601.0 279.1,606.6 279.6,604.0 280.2,606.1 280.8,606.1 281.3,603.8 281.9,605.6 282.4,602.5 283.0,606.0 283.5,604.6 284.1,605.6 284.6,605.2 285.1,603.4 285.7,605.7 286.2,603.0 286.8,607.1 287.4,603.7 287.9,603.8 288.5,603.1 289.0,604.4 289.6,602.3 290.1,603.8 290.7,605.1 291.2,603.1 291.8,604.7 292.3,602.6 292.9,603.1 293.4,603.6 294.0,603.6 294.5,599.8 295.1,600.2 295.6,601.5 296.2,602.3 296.7,601.1 297.2,602.1 297.8,600.5 298.4,600.1 298.9,599.1 299.5,600.9 300.0,601.3 300.6,599.1 301.1,599.8 301.7,601.1 302.2,598.7 302.8,598.3 303.3,599.0 303.9,598.2 304.4,597.9 305.0,597.8 305.5,597.9 306.1,597.2 306.6,598.5 307.2,595.7 307.7,595.9 308.2,597.1 308.8,598.2 309.4,594.5 309.9,597.9 310.5,595.5 311.0,595.1 311.6,598.8 312.1,596.0 312.7,593.6 313.2,595.9 313.8,593.6 314.3,593.4 314.9,594.6 315.4,594.9 316.0,596.4 316.5,594.9 317.1,593.1 317.6,593.7 318.2,595.7 318.7,593.3 319.2,593.8 319.8,594.9 320.4,591.9 320.9,592.2 321.5,590.1 322.0,593.6 322.6,591.9 323.1,593.4 323.7,594.6 324.2,591.1 324.8,593.3 325.3,590.7 325.9,591.8 326.4,590.5 327.0,590.3 327.5,587.9 328.1,589.6 328.6,588.9 329.2,589.8 329.7,593.1 330.2,590.0 330.8,589.9 331.4,589.6 331.9,588.2 332.5,591.7 333.0,593.0 333.6,590.4 334.1,587.4 334.7,585.9 335.2,589.1 335.8,589.8 336.3,589.5 336.9,588.3 337.4,589.2 338.0,589.0 338.5,588.0 339.1,588.3 339.6,588.2 340.2,586.5 340.7,584.3 341.2,585.9 341.8,586.2 342.4,588.7 342.9,587.0 343.5,587.0 344.0,589.2 344.6,586.2 345.1,587.0 345.7,586.2 346.2,584.8 346.8,587.7 347.3,586.5 347.9,589.9 348.4,587.9 349.0,584.8 349.5,585.3 350.1,586.4 350.6,588.2 351.2,587.8 351.7,588.2 352.2,587.6 352.8,586.1 353.4,588.5 353.9,588.0 354.5,585.6 355.0,587.7 355.6,586.1 356.1,589.4 356.7,585.5 357.2,587.4 357.8,589.1 358.3,587.9 358.9,587.9 359.4,587.3 360.0,587.5 360.5,588.6 361.1,586.6 361.6,586.7 362.2,586.2 362.7,586.6 363.2,589.1 363.8,586.3 364.4,587.8 364.9,589.1 365.5,588.0 366.0,588.2 366.6,591.1 367.1,586.5 367.7,587.9 368.2,590.9 368.8,589.7 369.3,589.9 369.9,588.6 370.4,593.1 371.0,592.4 371.5,587.5 372.1,591.5 372.6,591.9 373.2,590.5 373.7,591.0 374.2,592.9 374.8,589.2 375.4,590.9 375.9,592.9 376.5,591.6 377.0,590.6 377.6,591.9 378.1,594.6 378.7,590.9 379.2,592.5 379.8,594.5 380.3,593.9 380.9,592.8 381.4,591.7 382.0,592.2 382.5,592.4 383.1,595.1 383.6,595.9 384.2,596.4 384.7,592.0 385.2,593.3 385.8,595.4 386.4,597.6 386.9,593.5 387.5,596.6 388.0,598.1 388.6,595.7 389.1,595.1 389.7,595.4 390.2,595.7 390.8,595.8 391.3,597.8 391.9,598.2 392.4,596.1 393.0,596.9 393.5,596.8 394.1,598.1 394.6,598.2 395.2,598.9 395.7,600.4 396.3,599.2 396.8,598.1 397.4,601.7 397.9,600.1 398.5,598.2 399.0,601.6 399.6,601.5 400.1,599.6 400.7,600.0 401.2,601.0 401.8,600.4 402.3,599.6 402.9,602.4 403.4,602.8 404.0,601.4 404.5,602.0 405.1,603.3 405.6,602.8 406.2,605.1 406.7,603.2 407.3,602.7 407.8,604.2 408.4,604.2 408.9,605.3 409.5,605.9 410.0,606.4 410.6,605.6 411.1,605.4 411.7,604.6 412.2,605.5 412.8,608.9 413.3,607.4 413.9,606.5 414.4,606.9 415.0,608.0 415.5,608.6 416.1,609.9 416.6,606.7 417.2,608.6 417.7,610.7 418.3,610.0 418.8,609.7 419.4,609.2 419.9,611.0 420.5,609.4 421.0,611.3 421.6,610.6 422.1,609.2 422.7,609.9 423.2,610.0 423.8,610.3 424.3,611.0 424.9,611.5 425.4,613.4 426.0,613.8 426.5,612.8 427.1,613.8 427.6,612.7 428.2,611.9 428.7,613.9 429.3,614.2 429.8,613.2 430.4,614.5 430.9,615.8 431.5,615.9 432.0,617.0 432.6,614.4 433.1,616.4 433.7,614.1 434.2,615.1 434.8,616.5 435.3,617.1 435.9,616.4 436.4,619.2 437.0,618.9 437.5,617.3 438.1,617.6 438.6,618.2 439.2,618.2 439.7,618.1 440.3,619.9 440.8,620.9 441.4,620.2 441.9,621.3 442.5,621.1 443.0,621.5 443.6,620.3 444.1,620.3 444.7,620.9 445.2,621.9 445.8,620.6 446.3,620.7 446.9,621.1 447.4,621.9 448.0,622.3 448.5,621.6 449.1,622.2 449.6,623.5 450.2,625.1 450.7,623.2 451.3,622.8 451.8,622.8 452.4,625.0 452.9,623.0 453.5,623.8 454.0,620.7 454.6,622.4 455.1,624.6 455.7,623.7 456.2,626.3 456.8,625.8 457.3,625.5 457.9,624.1 458.4,625.0 459.0,626.3 459.5,624.6 460.1,624.4 460.6,623.3 461.2,625.5 461.7,627.1 462.3,625.7 462.8,627.3 463.4,624.7 463.9,625.5 464.5,627.1 465.0,624.1 465.6,627.1 466.1,626.2 466.7,625.9 467.2,627.4 467.8,627.4 468.3,626.7 468.9,628.1 469.4,629.6 470.0,626.7 470.5,628.5 471.1,626.5 471.6,627.7 472.2,630.4 472.7,626.9 473.3,629.1 473.8,626.6 474.4,629.7 474.9,626.7 475.5,627.4 476.0,622.6 476.6,626.9 477.1,625.4 477.7,628.5 478.2,627.7 478.8,628.3 479.3,631.0 479.9,628.2 480.4,629.0 481.0,629.1 481.5,629.4 482.1,629.5 482.6,626.8 483.2,629.4 483.7,628.1 484.3,627.9 484.8,629.2 485.4,628.7 485.9,625.7 486.5,628.4 487.0,628.8 487.6,627.8 488.1,630.5 488.7,629.3 489.2,626.7 489.8,630.1 490.3,629.9 490.9,630.3 491.4,628.6 492.0,630.9 492.5,631.6 493.1,630.5 493.6,628.8 494.2,631.0 494.7,628.5 495.3,627.0 495.8,628.3 496.4,629.3 496.9,627.2 497.5,629.2 498.0,627.4 498.6,626.9 499.1,632.0 499.7,627.5 500.2,630.1 500.8,629.6 501.3,631.0 501.9,627.1 502.4,628.4 503.0,629.5 503.5,630.2 504.1,629.7 504.6,627.3 505.2,631.0 505.7,629.4 506.3,629.3 506.8,628.4 507.4,629.3 507.9,627.2 508.5,628.4 509.0,629.1 509.6,630.1 510.1,628.4 510.7,628.2 511.2,630.4 511.8,628.9 512.3,631.8 512.9,627.4 513.4,628.5 514.0,631.8 514.5,629.9 515.0,627.7 515.6,629.7 516.2,628.5 516.7,627.3 517.2,629.0 517.8,630.7 518.4,630.4 518.9,625.9 519.5,630.3 520.0,628.8 520.5,630.9 521.1,630.6 521.7,628.9 522.2,629.2 522.8,629.9 523.3,629.2 523.9,629.6 524.4,630.5 525.0,628.6 525.5,628.1 526.0,631.5 526.6,628.5 527.2,629.8 527.7,628.8 528.2,629.5 528.8,631.1 529.4,629.3 529.9,630.5 530.5,628.4 531.0,630.0 531.5,629.0 532.1,628.1 532.7,628.2 533.2,631.0 533.8,629.2 534.3,629.5 534.9,629.6 535.4,630.1 536.0,630.9 536.5,631.5 537.1,629.4 537.6,629.3 538.2,630.8 538.7,628.4 539.2,631.2 539.8,630.9 540.4,629.2 540.9,628.1 541.5,630.5 542.0,631.5 542.6,632.3 543.1,630.6 543.7,629.7 544.2,625.9 544.8,629.7 545.3,629.6 545.9,628.7 546.4,628.6 547.0,631.7 547.5,630.1 548.1,628.0 548.6,630.6 549.2,630.4 549.7,626.5 550.2,629.5 550.8,628.9 551.4,627.9 551.9,631.3 552.5,628.5 553.0,630.7 553.6,630.3 554.1,629.9 554.7,632.2 555.2,628.6 555.8,629.6 556.3,629.6 556.9,628.9 557.4,627.8 558.0,630.4 558.5,631.3 559.1,628.5 559.6,629.1 560.2,626.3 560.7,630.8 561.2,628.9 561.8,630.4 562.4,630.0 562.9,629.2 563.5,627.5 564.0,629.8 564.6,631.3 565.1,630.0 565.7,629.7 566.2,629.2 566.8,630.7 567.3,630.0 567.9,627.6 568.4,630.9 569.0,629.3 569.5,631.6 570.1,632.7 570.6,629.1 571.2,629.5 571.7,629.4 572.2,630.1 572.8,629.8 573.4,628.9 573.9,629.8 574.5,629.5 575.0,627.4 575.6,629.2 576.1,629.3 576.7,630.9 577.2,630.6 577.8,629.7 578.3,627.6 578.9,629.9 579.4,630.6 580.0,629.3 580.5,629.0 581.1,630.0 581.6,627.8 582.2,631.6 582.7,630.6 583.2,629.1 583.8,627.9 584.4,629.6 584.9,624.8 585.5,629.7 586.0,628.8 586.6,628.9 587.1,630.3 587.7,630.8 588.2,629.2 588.8,630.0 589.3,630.1 589.9,627.9 590.4,631.4 591.0,629.8 591.5,628.8 592.1,627.4 592.6,629.4 593.2,630.2 593.7,631.1 594.2,629.0 594.8,630.5 595.4,628.5 595.9,628.4 596.5,630.4 597.0,627.3 597.6,631.7 598.1,630.7 598.7,630.1 599.2,629.8 599.8,629.3 600.3,629.9 600.9,628.1 601.4,631.4 602.0,630.0 602.5,628.6 603.1,633.0 603.6,629.4 604.2,629.7 604.7,628.0 605.2,630.3 605.8,630.0 606.4,628.6 606.9,628.0 607.5,630.8 608.0,628.8 608.6,628.6 609.1,630.9 609.7,629.1 610.2,630.2 610.8,629.6 611.3,630.8 611.9,627.5 612.4,629.4 613.0,629.5 613.5,627.4 614.1,630.0 614.6,628.4 615.2,630.1 615.7,627.8 616.2,630.8 616.8,628.0 617.4,627.2 617.9,629.1 618.5,628.3 619.0,628.3 619.6,628.9 620.1,630.9 620.7,629.1 621.2,629.8 621.8,629.2 622.3,629.7 622.9,627.7 623.4,628.0 624.0,630.5 624.5,631.7 625.1,628.1 625.6,629.1 626.2,629.1 626.7,629.9 627.2,626.7 627.8,628.0 628.4,629.9 628.9,628.9 629.5,628.8 630.0,630.6 630.6,630.0 631.1,629.3 631.7,629.6 632.2,629.1 632.8,629.1 633.3,627.8 633.9,628.3 634.4,628.8 635.0,630.4 635.5,627.1 636.1,629.8 636.6,629.3 637.2,629.2 637.7,626.5 638.2,630.2 638.8,627.5 639.4,630.6 639.9,630.7 640.5,630.5 641.0,628.2 641.6,629.3 642.1,628.9 642.7,630.0 643.2,630.3 643.8,631.1 644.3,629.3" fill="none" stroke="#3a3a3a" stroke-width="0.8" />
<path d="M41.5,629.2 43.5,629.2 45.5,629.2 47.5,629.2 49.5,629.2 51.5,629.2 53.5,629.2 55.5,629.2 57.5,629.2 59.5,629.2 61.5,629.2 63.5,629.2 65.5,629.2 67.5,629.2 69.5,629.2 71.5,629.2 73.5,629.2 75.5,629.2 77.5,629.2 79.5,629.2 81.5,629.2 83.5,629.1 85.5,629.1 87.5,629.1 89.5,629.1 91.5,629.1 93.5,629.1 95.5,629.1 97.5,629.1 99.5,629.1 101.5,629.1 103.5,629.1 105.5,629.1 107.5,629.1 109.5,629.1 111.5,629.0 113.5,629.0 115.5,629.0 117.5,629.0 119.5,629.0 121.5,629.0 123.5,629.0 125.5,629.0 127.5,629.0 129.5,628.9 131.5,628.9 133.5,628.9 135.5,628.9 137.5,628.9 139.5,628.8 141.5,628.8 143.5,628.8 145.5,628.8 147.5,628.7 149.5,628.7 151.5,628.7 153.5,628.6 155.5,628.6 157.5,628.5 159.5,628.5 161.5,628.4 163.5,628.3 165.5,628.3 167.5,628.2 169.5,628.1 171.5,628.0 173.5,627.9 175.5,627.8 177.5,627.6 179.5,627.5 181.5,627.3 183.5,627.1 185.5,627.0 187.5,626.7 189.5,626.5 191.5,626.3 193.5,626.0 195.5,625.7 197.5,625.4 199.5,625.1 201.5,624.8 203.5,624.4 205.5,624.0 207.5,623.6 209.5,623.2 211.5,622.7 213.5,622.3 215.5,621.8 217.5,621.3 219.5,620.8 221.5,620.2 223.5,619.6 225.5,619.1 227.5,618.5 229.5,617.9 231.5,617.3 233.5,616.7 235.5,616.1 237.5,615.4 239.5,614.8 241.5,614.2 243.5,613.6 245.5,613.0 247.5,612.4 249.5,611.9 251.5,611.3 253.5,610.8 255.5,610.3 257.5,609.8 259.5,609.3 261.5,608.9 263.5,608.5 265.5,608.1 267.5,607.7 269.5,607.3 271.5,606.9 273.5,606.6 275.5,606.2 277.5,605.8 279.5,605.4 281.5,605.1 283.5,604.6 285.5,604.2 287.5,603.8 289.5,603.3 291.5,602.8 293.5,602.3 295.5,601.7 297.5,601.1 299.5,600.5 301.5,599.9 303.5,599.2 305.5,598.6 307.5,597.9 309.5,597.2 311.5,596.4 313.5,595.7 315.5,595.0 317.5,594.3 319.5,593.6 321.5,592.9 323.5,592.2 325.5,591.5 327.5,590.9 329.5,590.3 331.5,589.7 333.5,589.2 335.5,588.8 337.5,588.3 339.5,588.0 341.5,587.7 343.5,587.4 345.5,587.3 347.5,587.1 349.5,587.1 351.5,587.1 353.5,587.2 355.5,587.3 357.5,587.5 359.5,587.8 361.5,588.1 363.5,588.4 365.5,588.9 367.5,589.3 369.5,589.8 371.5,590.4 373.5,591.0 375.5,591.6 377.5,592.3 379.5,592.9 381.5,593.6 383.5,594.4 385.5,595.1 387.5,595.9 389.5,596.6 391.5,597.4 393.5,598.2 395.5,599.0 397.5,599.9 399.5,600.7 401.5,601.6 403.5,602.4 405.5,603.3 407.5,604.2 409.5,605.1 411.5,606.0 413.5,606.9 415.5,607.8 417.5,608.8 419.5,609.7 421.5,610.7 423.5,611.6 425.5,612.6 427.5,613.5 429.5,614.4 431.5,615.4 433.5,616.3 435.5,617.2 437.5,618.0 439.5,618.9 441.5,619.7 443.5,620.5 445.5,621.2 447.5,621.9 449.5,622.6 451.5,623.2 453.5,623.8 455.5,624.4 457.5,624.9 459.5,625.4 461.5,625.8 463.5,626.2 465.5,626.6 467.5,626.9 469.5,627.2 471.5,627.5 473.5,627.7 475.5,627.9 477.5,628.1 479.5,628.3 481.5,628.4 483.5,628.5 485.5,628.6 487.5,628.7 489.5,628.8 491.5,628.9 493.5,628.9 495.5,629.0 497.5,629.0 499.5,629.1 501.5,629.1 503.5,629.1 505.5,629.2 507.5,629.2 509.5,629.2 511.5,629.2 513.5,629.2 515.5,629.2 517.5,629.2 519.5,629.3 521.5,629.3 523.5,629.3 525.5,629.3 527.5,629.3 529.5,629.3 531.5,629.3 533.5,629.3 535.5,629.3 537.5,629.3 539.5,629.3 541.5,629.3 543.5,629.3 545.5,629.3 547.5,629.3 549.5,629.3 551.5,629.3 553.5,629.3 555.5,629.3 557.5,629.3 559.5,629.3 561.5,629.3 563.5,629.3 565.5,629.3 567.5,629.3 569.5,629.3 571.5,629.3 573.5,629.3 575.5,629.3 577.5,629.3 579.5,629.3 581.5,629.3 583.5,629.3 585.5,629.3 587.5,629.3 589.5,629.3 591.5,629.3 593.5,629.3 595.5,629.3 597.5,629.3 599.5,629.3 601.5,629.3 603.5,629.3 605.5,629.3 607.5,629.3 609.5,629.3 611.5,629.3 613.5,629.3 615.5,629.3 617.5,629.3 619.5,629.3 621.5,629.3 623.5,629.3 625.5,629.3 627.5,629.3 629.5,629.3 631.5,629.3 633.5,629.3 635.5,629.3 637.5,629.3 639.5,629.3 641.5,629.3 643.5,629.3" fill="none" stroke="#a374e6" stroke-width="1.3" />
<text x="668.8" y="635.6" font-size="32.3" textLength="103.95" lengthAdjust="spacingAndGlyphs" >−0.65 V</text>
<path d="M109.5,694.4 111.5,694.4 113.5,694.3 115.5,694.3 117.5,694.3 119.5,694.3 121.5,694.3 123.5,694.3 125.5,694.3 127.5,694.3 129.5,694.3 131.5,694.2 133.5,694.2 135.5,694.2 137.5,694.2 139.5,694.2 141.5,694.1 143.5,694.1 145.5,694.1 147.5,694.1 149.5,694.0 151.5,694.0 153.5,693.9 155.5,693.9 157.5,693.9 159.5,693.8 161.5,693.7 163.5,693.7 165.5,693.6 167.5,693.5 169.5,693.4 171.5,693.3 173.5,693.2 175.5,693.1 177.5,693.0 179.5,692.8 181.5,692.7 183.5,692.5 185.5,692.3 187.5,692.1 189.5,691.9 191.5,691.7 193.5,691.4 195.5,691.2 197.5,690.9 199.5,690.6 201.5,690.3 203.5,689.9 205.5,689.6 207.5,689.2 209.5,688.8 211.5,688.4 213.5,688.0 215.5,687.6 217.5,687.1 219.5,686.7 221.5,686.2 223.5,685.7 225.5,685.3 227.5,684.8 229.5,684.3 231.5,683.8 233.5,683.4 235.5,682.9 237.5,682.5 239.5,682.0 241.5,681.6 243.5,681.3 245.5,680.9 247.5,680.6 249.5,680.3 251.5,680.1 253.5,679.9 255.5,679.8 257.5,679.7 259.5,679.7 261.5,679.7 263.5,679.8 265.5,679.9 267.5,680.1 269.5,680.3 271.5,680.6 273.5,680.9 275.5,681.2 277.5,681.6 279.5,682.0 281.5,682.4 283.5,682.9 285.5,683.3 287.5,683.8 289.5,684.3 291.5,684.7 293.5,685.2 295.5,685.7 297.5,686.2 299.5,686.6 301.5,687.1 303.5,687.5 305.5,688.0 307.5,688.4 309.5,688.8 311.5,689.2 313.5,689.6 315.5,689.9 317.5,690.2 319.5,690.6 321.5,690.9 323.5,691.2 325.5,691.4 327.5,691.7 329.5,691.9 331.5,692.1 333.5,692.3 335.5,692.5 337.5,692.7 339.5,692.8 341.5,693.0 343.5,693.1 345.5,693.2 347.5,693.3 349.5,693.4 351.5,693.5 353.5,693.6 355.5,693.7 357.5,693.7 359.5,693.8 361.5,693.8 363.5,693.9 365.5,693.9 367.5,694.0 369.5,694.0 371.5,694.1 373.5,694.1 375.5,694.1 377.5,694.1 379.5,694.2 381.5,694.2 383.5,694.2 385.5,694.2 387.5,694.2 389.5,694.3 391.5,694.3 393.5,694.3 395.5,694.3 397.5,694.3 399.5,694.3 401.5,694.3 403.5,694.3 405.5,694.3 407.5,694.4 409.5,694.4 L409.5,694.7 L109.5,694.7Z" fill="#ee3a44" stroke="none" stroke-width="1" />
<path d="M195.5,694.6 197.5,694.6 199.5,694.6 201.5,694.6 203.5,694.6 205.5,694.5 207.5,694.5 209.5,694.5 211.5,694.5 213.5,694.4 215.5,694.4 217.5,694.3 219.5,694.3 221.5,694.2 223.5,694.1 225.5,694.1 227.5,694.0 229.5,693.9 231.5,693.8 233.5,693.6 235.5,693.5 237.5,693.3 239.5,693.2 241.5,693.0 243.5,692.8 245.5,692.5 247.5,692.3 249.5,692.0 251.5,691.7 253.5,691.4 255.5,691.0 257.5,690.6 259.5,690.2 261.5,689.7 263.5,689.2 265.5,688.7 267.5,688.1 269.5,687.5 271.5,686.9 273.5,686.2 275.5,685.5 277.5,684.8 279.5,684.0 281.5,683.2 283.5,682.3 285.5,681.4 287.5,680.4 289.5,679.5 291.5,678.5 293.5,677.4 295.5,676.4 297.5,675.3 299.5,674.2 301.5,673.1 303.5,672.0 305.5,670.8 307.5,669.7 309.5,668.5 311.5,667.4 313.5,666.3 315.5,665.2 317.5,664.1 319.5,663.1 321.5,662.0 323.5,661.1 325.5,660.1 327.5,659.2 329.5,658.4 331.5,657.7 333.5,657.0 335.5,656.3 337.5,655.8 339.5,655.3 341.5,654.9 343.5,654.6 345.5,654.3 347.5,654.2 349.5,654.1 351.5,654.1 353.5,654.2 355.5,654.4 357.5,654.7 359.5,655.1 361.5,655.5 363.5,656.0 365.5,656.6 367.5,657.3 369.5,658.0 371.5,658.8 373.5,659.7 375.5,660.6 377.5,661.5 379.5,662.5 381.5,663.6 383.5,664.6 385.5,665.7 387.5,666.8 389.5,668.0 391.5,669.1 393.5,670.2 395.5,671.4 397.5,672.5 399.5,673.6 401.5,674.8 403.5,675.8 405.5,676.9 407.5,678.0 409.5,679.0 411.5,680.0 413.5,680.9 415.5,681.8 417.5,682.7 419.5,683.6 421.5,684.4 423.5,685.2 425.5,685.9 427.5,686.6 429.5,687.2 431.5,687.9 433.5,688.4 435.5,689.0 437.5,689.5 439.5,690.0 441.5,690.4 443.5,690.8 445.5,691.2 447.5,691.5 449.5,691.8 451.5,692.1 453.5,692.4 455.5,692.6 457.5,692.9 459.5,693.1 461.5,693.2 463.5,693.4 465.5,693.6 467.5,693.7 469.5,693.8 471.5,693.9 473.5,694.0 475.5,694.1 477.5,694.2 479.5,694.2 481.5,694.3 483.5,694.4 485.5,694.4 487.5,694.4 489.5,694.5 491.5,694.5 493.5,694.5 495.5,694.6 497.5,694.6 499.5,694.6 501.5,694.6 503.5,694.6 505.5,694.6 L505.5,694.7 L195.5,694.7Z" fill="url(#gBlueA)" stroke="none" stroke-width="1" fill-opacity="0.5"/>
<path d="M317.5,694.7 319.5,694.7 321.5,694.7 323.5,694.7 325.5,694.7 327.5,694.6 329.5,694.6 331.5,694.6 333.5,694.6 335.5,694.6 337.5,694.5 339.5,694.5 341.5,694.5 343.5,694.4 345.5,694.3 347.5,694.3 349.5,694.2 351.5,694.1 353.5,694.0 355.5,693.8 357.5,693.7 359.5,693.5 361.5,693.3 363.5,693.1 365.5,692.9 367.5,692.7 369.5,692.4 371.5,692.1 373.5,691.8 375.5,691.4 377.5,691.1 379.5,690.7 381.5,690.3 383.5,689.9 385.5,689.5 387.5,689.1 389.5,688.7 391.5,688.3 393.5,688.0 395.5,687.6 397.5,687.2 399.5,686.9 401.5,686.6 403.5,686.4 405.5,686.1 407.5,686.0 409.5,685.8 411.5,685.7 413.5,685.7 415.5,685.7 417.5,685.8 419.5,685.9 421.5,686.0 423.5,686.2 425.5,686.5 427.5,686.8 429.5,687.1 431.5,687.4 433.5,687.8 435.5,688.1 437.5,688.5 439.5,688.9 441.5,689.3 443.5,689.7 445.5,690.1 447.5,690.5 449.5,690.9 451.5,691.3 453.5,691.6 455.5,691.9 457.5,692.2 459.5,692.5 461.5,692.8 463.5,693.0 465.5,693.2 467.5,693.4 469.5,693.6 471.5,693.8 473.5,693.9 475.5,694.0 477.5,694.1 479.5,694.2 481.5,694.3 483.5,694.4 485.5,694.4 487.5,694.5 489.5,694.5 491.5,694.6 493.5,694.6 495.5,694.6 497.5,694.6 499.5,694.6 501.5,694.7 503.5,694.7 505.5,694.7 507.5,694.7 509.5,694.7 L509.5,694.7 L317.5,694.7Z" fill="#2e8b3c" stroke="none" stroke-width="1" />
<line x1="155" y1="694.7" x2="505" y2="694.7" stroke="#3d9a62" stroke-width="1.4" />
<path d="M195.5,694.6 197.5,694.6 199.5,694.6 201.5,694.6 203.5,694.6 205.5,694.5 207.5,694.5 209.5,694.5 211.5,694.5 213.5,694.4 215.5,694.4 217.5,694.3 219.5,694.3 221.5,694.2 223.5,694.1 225.5,694.1 227.5,694.0 229.5,693.9 231.5,693.8 233.5,693.6 235.5,693.5 237.5,693.3 239.5,693.2 241.5,693.0 243.5,692.8 245.5,692.5 247.5,692.3 249.5,692.0 251.5,691.7 253.5,691.4 255.5,691.0 257.5,690.6 259.5,690.2 261.5,689.7 263.5,689.2 265.5,688.7 267.5,688.1 269.5,687.5 271.5,686.9 273.5,686.2 275.5,685.5 277.5,684.8 279.5,684.0 281.5,683.2 283.5,682.3 285.5,681.4 287.5,680.4 289.5,679.5 291.5,678.5 293.5,677.4 295.5,676.4 297.5,675.3 299.5,674.2 301.5,673.1 303.5,672.0 305.5,670.8 307.5,669.7 309.5,668.5 311.5,667.4 313.5,666.3 315.5,665.2 317.5,664.1 319.5,663.1 321.5,662.0 323.5,661.1 325.5,660.1 327.5,659.2 329.5,658.4 331.5,657.7 333.5,657.0 335.5,656.3 337.5,655.8 339.5,655.3 341.5,654.9 343.5,654.6 345.5,654.3 347.5,654.2 349.5,654.1 351.5,654.1 353.5,654.2 355.5,654.4 357.5,654.7 359.5,655.1 361.5,655.5 363.5,656.0 365.5,656.6 367.5,657.3 369.5,658.0 371.5,658.8 373.5,659.7 375.5,660.6 377.5,661.5 379.5,662.5 381.5,663.6 383.5,664.6 385.5,665.7 387.5,666.8 389.5,668.0 391.5,669.1 393.5,670.2 395.5,671.4 397.5,672.5 399.5,673.6 401.5,674.8 403.5,675.8 405.5,676.9 407.5,678.0 409.5,679.0 411.5,680.0 413.5,680.9 415.5,681.8 417.5,682.7 419.5,683.6 421.5,684.4 423.5,685.2 425.5,685.9 427.5,686.6 429.5,687.2 431.5,687.9 433.5,688.4 435.5,689.0 437.5,689.5 439.5,690.0 441.5,690.4 443.5,690.8 445.5,691.2 447.5,691.5 449.5,691.8 451.5,692.1 453.5,692.4 455.5,692.6 457.5,692.9 459.5,693.1 461.5,693.2 463.5,693.4 465.5,693.6 467.5,693.7 469.5,693.8 471.5,693.9 473.5,694.0 475.5,694.1 477.5,694.2 479.5,694.2 481.5,694.3 483.5,694.4 485.5,694.4 487.5,694.4 489.5,694.5 491.5,694.5 493.5,694.5 495.5,694.6 497.5,694.6 499.5,694.6 501.5,694.6 503.5,694.6 505.5,694.6" fill="none" stroke="#2b3cf0" stroke-width="1.1" />
<path d="M41.5,691.4 42.0,695.6 42.6,692.6 43.1,698.5 43.7,695.6 44.2,695.3 44.8,694.7 45.4,696.0 45.9,694.8 46.5,693.3 47.0,692.1 47.5,693.7 48.1,695.1 48.6,696.1 49.2,695.0 49.8,695.8 50.3,692.0 50.9,695.5 51.4,693.4 52.0,695.1 52.5,694.6 53.0,693.8 53.6,694.5 54.1,694.5 54.7,698.1 55.2,693.2 55.8,693.5 56.4,692.7 56.9,694.1 57.5,696.2 58.0,696.2 58.5,696.1 59.1,693.8 59.7,694.0 60.2,697.2 60.8,693.6 61.3,695.2 61.9,693.7 62.4,695.8 63.0,695.0 63.5,695.3 64.0,695.4 64.6,691.4 65.2,694.0 65.7,696.3 66.2,693.8 66.8,694.5 67.3,695.0 67.9,695.4 68.5,690.9 69.0,695.5 69.5,695.5 70.1,695.5 70.7,694.5 71.2,693.1 71.8,694.8 72.3,695.1 72.8,696.2 73.4,692.0 74.0,696.5 74.5,693.7 75.1,694.6 75.6,692.8 76.2,692.1 76.7,693.4 77.2,692.3 77.8,694.2 78.3,692.5 78.9,694.2 79.5,696.2 80.0,695.1 80.6,694.6 81.1,695.0 81.7,696.2 82.2,695.6 82.8,695.3 83.3,695.1 83.8,696.5 84.4,696.3 85.0,695.8 85.5,696.2 86.1,693.7 86.6,693.4 87.2,693.5 87.7,696.2 88.2,693.3 88.8,691.4 89.3,694.5 89.9,693.7 90.5,695.7 91.0,693.0 91.6,696.3 92.1,694.2 92.7,694.9 93.2,694.3 93.8,693.7 94.3,692.5 94.8,696.6 95.4,693.5 96.0,695.1 96.5,695.0 97.1,694.2 97.6,694.1 98.2,695.2 98.7,695.8 99.2,693.1 99.8,693.9 100.3,694.7 100.9,696.2 101.5,694.2 102.0,694.2 102.6,694.3 103.1,692.5 103.7,692.3 104.2,694.6 104.8,693.5 105.3,696.3 105.9,695.6 106.4,696.5 107.0,697.0 107.5,695.9 108.1,692.9 108.6,693.8 109.2,694.6 109.7,694.9 110.2,694.5 110.8,696.6 111.4,693.9 111.9,693.4 112.5,694.1 113.0,695.6 113.6,695.5 114.1,695.4 114.7,697.7 115.2,695.1 115.8,693.4 116.3,694.0 116.9,694.4 117.4,693.2 118.0,695.5 118.5,694.3 119.1,694.2 119.6,692.1 120.2,694.4 120.7,693.8 121.2,693.1 121.8,694.9 122.4,694.2 122.9,694.8 123.5,695.4 124.0,695.2 124.6,694.3 125.1,693.8 125.7,693.8 126.2,692.4 126.8,697.9 127.3,692.0 127.9,694.2 128.4,695.5 128.9,696.4 129.5,694.4 130.1,693.2 130.6,693.0 131.2,692.8 131.7,693.9 132.2,692.6 132.8,695.7 133.4,694.4 133.9,696.4 134.4,696.9 135.0,692.3 135.6,695.4 136.1,694.8 136.7,694.5 137.2,691.9 137.8,692.2 138.3,693.6 138.9,692.0 139.4,693.5 139.9,695.8 140.5,693.0 141.1,694.4 141.6,691.9 142.2,693.6 142.7,696.3 143.2,693.6 143.8,693.2 144.4,694.5 144.9,696.8 145.4,693.7 146.0,695.2 146.6,694.6 147.1,694.1 147.7,692.7 148.2,693.4 148.8,691.6 149.3,695.7 149.9,694.3 150.4,695.6 150.9,693.6 151.5,695.1 152.1,694.1 152.6,695.5 153.2,692.8 153.7,693.6 154.2,693.6 154.8,692.5 155.4,694.9 155.9,695.4 156.4,693.4 157.0,694.7 157.6,693.1 158.1,693.2 158.7,693.2 159.2,693.0 159.8,693.6 160.3,693.0 160.9,693.7 161.4,695.9 161.9,692.6 162.5,693.1 163.1,692.9 163.6,696.1 164.2,694.2 164.7,693.6 165.2,693.9 165.8,690.1 166.4,692.8 166.9,695.9 167.5,695.3 168.0,694.1 168.6,690.6 169.1,694.4 169.7,692.5 170.2,693.8 170.8,694.9 171.3,693.3 171.9,694.4 172.4,695.1 173.0,693.3 173.5,694.0 174.1,694.1 174.6,694.1 175.2,693.5 175.7,694.7 176.2,692.1 176.8,692.7 177.4,691.1 177.9,692.2 178.5,692.8 179.0,693.0 179.6,694.3 180.1,692.0 180.7,690.7 181.2,692.8 181.8,692.4 182.3,693.3 182.9,693.7 183.4,691.2 184.0,692.2 184.5,696.0 185.1,693.5 185.6,690.7 186.2,692.4 186.7,692.0 187.2,692.1 187.8,694.7 188.4,693.1 188.9,692.8 189.5,691.4 190.0,693.0 190.6,689.4 191.1,691.5 191.7,691.5 192.2,692.7 192.8,690.8 193.3,692.0 193.9,692.2 194.4,693.5 195.0,690.7 195.5,692.2 196.1,690.4 196.6,691.8 197.2,693.0 197.7,693.0 198.2,689.4 198.8,690.7 199.4,692.7 199.9,690.6 200.5,687.6 201.0,692.0 201.6,692.7 202.1,689.6 202.7,690.3 203.2,690.8 203.8,691.0 204.3,690.7 204.9,690.5 205.4,689.7 206.0,690.6 206.5,689.9 207.1,689.6 207.6,688.5 208.2,689.0 208.7,688.7 209.2,689.0 209.8,689.2 210.4,687.2 210.9,688.4 211.5,687.9 212.0,686.7 212.6,687.6 213.1,688.8 213.7,687.2 214.2,688.0 214.8,687.9 215.3,687.8 215.9,688.5 216.4,687.1 217.0,684.9 217.5,687.1 218.1,685.3 218.6,687.1 219.2,687.1 219.7,687.5 220.3,684.4 220.8,685.8 221.4,685.0 221.9,687.7 222.5,684.6 223.0,685.3 223.6,685.2 224.1,685.3 224.7,686.7 225.2,682.3 225.8,686.2 226.3,685.1 226.9,686.0 227.4,686.0 228.0,682.5 228.5,682.4 229.1,682.7 229.6,682.4 230.2,683.5 230.7,684.6 231.3,683.0 231.8,683.8 232.4,681.5 232.9,684.5 233.5,680.8 234.0,682.2 234.6,682.3 235.1,681.3 235.7,682.5 236.2,682.2 236.8,682.2 237.3,681.2 237.9,680.8 238.4,682.0 239.0,681.2 239.5,679.9 240.1,678.2 240.6,679.6 241.2,680.3 241.7,681.8 242.3,679.6 242.8,679.7 243.4,679.8 243.9,679.7 244.5,679.8 245.0,679.1 245.6,680.9 246.1,679.0 246.7,677.1 247.2,679.5 247.8,676.7 248.3,680.4 248.9,677.7 249.4,677.6 250.0,678.1 250.5,674.8 251.1,678.3 251.6,678.4 252.2,678.3 252.7,675.6 253.3,677.1 253.8,676.7 254.4,675.1 254.9,674.2 255.5,676.4 256.0,676.8 256.6,676.1 257.1,674.8 257.6,673.0 258.2,675.9 258.8,674.3 259.3,674.2 259.9,676.7 260.4,674.2 261.0,674.7 261.5,675.8 262.1,671.0 262.6,673.9 263.1,674.5 263.7,672.6 264.2,673.1 264.8,672.5 265.4,673.3 265.9,674.6 266.5,673.5 267.0,673.3 267.6,672.1 268.1,673.7 268.6,674.4 269.2,674.8 269.8,675.3 270.3,674.1 270.9,673.9 271.4,673.7 272.0,673.8 272.5,673.0 273.1,672.4 273.6,672.5 274.1,671.6 274.7,671.9 275.2,669.3 275.8,673.6 276.4,672.2 276.9,669.4 277.5,669.7 278.0,669.9 278.6,670.8 279.1,671.9 279.6,671.1 280.2,670.7 280.8,671.5 281.3,669.4 281.9,670.3 282.4,670.9 283.0,671.5 283.5,669.1 284.1,670.2 284.6,666.8 285.1,671.5 285.7,670.1 286.2,670.0 286.8,672.2 287.4,669.1 287.9,669.7 288.5,667.4 289.0,669.6 289.6,670.7 290.1,670.1 290.7,669.3 291.2,669.1 291.8,667.7 292.3,666.4 292.9,670.1 293.4,669.3 294.0,669.6 294.5,669.5 295.1,668.7 295.6,667.4 296.2,668.5 296.7,665.3 297.2,666.6 297.8,665.8 298.4,665.6 298.9,665.1 299.5,666.1 300.0,665.0 300.6,666.2 301.1,667.8 301.7,665.9 302.2,663.2 302.8,665.0 303.3,665.7 303.9,666.7 304.4,665.8 305.0,664.8 305.5,664.1 306.1,662.8 306.6,663.9 307.2,664.6 307.7,663.8 308.2,662.6 308.8,664.9 309.4,663.0 309.9,665.0 310.5,662.4 311.0,663.1 311.6,660.5 312.1,663.5 312.7,661.9 313.2,661.2 313.8,659.5 314.3,659.8 314.9,663.5 315.4,661.4 316.0,661.9 316.5,659.6 317.1,660.2 317.6,661.4 318.2,658.9 318.7,660.0 319.2,656.6 319.8,660.0 320.4,659.4 320.9,656.6 321.5,655.4 322.0,656.6 322.6,658.5 323.1,656.9 323.7,660.1 324.2,658.0 324.8,657.1 325.3,656.2 325.9,656.3 326.4,655.4 327.0,655.2 327.5,655.9 328.1,654.9 328.6,654.7 329.2,654.6 329.7,656.1 330.2,655.1 330.8,653.5 331.4,656.6 331.9,653.3 332.5,653.0 333.0,655.1 333.6,654.9 334.1,653.1 334.7,656.1 335.2,656.2 335.8,652.0 336.3,654.3 336.9,653.3 337.4,654.0 338.0,653.1 338.5,655.8 339.1,653.5 339.6,653.3 340.2,653.0 340.7,652.6 341.2,653.9 341.8,653.3 342.4,651.6 342.9,653.2 343.5,653.3 344.0,652.5 344.6,656.8 345.1,649.1 345.7,654.7 346.2,652.4 346.8,653.7 347.3,649.5 347.9,653.8 348.4,651.7 349.0,652.2 349.5,652.2 350.1,653.0 350.6,654.6 351.2,652.6 351.7,651.2 352.2,652.3 352.8,652.7 353.4,650.6 353.9,653.7 354.5,652.7 355.0,653.3 355.6,652.6 356.1,653.9 356.7,652.9 357.2,650.8 357.8,653.2 358.3,651.4 358.9,654.1 359.4,653.3 360.0,651.5 360.5,653.7 361.1,653.2 361.6,653.5 362.2,653.2 362.7,653.5 363.2,653.8 363.8,654.5 364.4,652.5 364.9,656.2 365.5,652.0 366.0,653.8 366.6,653.9 367.1,654.9 367.7,654.8 368.2,654.5 368.8,656.8 369.3,655.6 369.9,654.8 370.4,655.8 371.0,655.9 371.5,653.5 372.1,654.9 372.6,654.3 373.2,656.8 373.7,654.6 374.2,654.5 374.8,656.2 375.4,656.5 375.9,655.9 376.5,656.3 377.0,658.4 377.6,656.6 378.1,656.5 378.7,657.8 379.2,658.6 379.8,656.8 380.3,657.9 380.9,659.0 381.4,660.2 382.0,656.5 382.5,657.4 383.1,659.1 383.6,661.1 384.2,659.4 384.7,659.7 385.2,662.4 385.8,657.5 386.4,658.0 386.9,660.4 387.5,660.5 388.0,662.3 388.6,661.9 389.1,662.6 389.7,660.7 390.2,661.3 390.8,663.6 391.3,662.7 391.9,662.6 392.4,660.1 393.0,663.9 393.5,662.2 394.1,660.6 394.6,662.9 395.2,662.8 395.7,662.6 396.3,662.6 396.8,663.1 397.4,665.4 397.9,663.8 398.5,663.5 399.0,664.9 399.6,664.7 400.1,667.1 400.7,668.2 401.2,663.8 401.8,666.3 402.3,665.7 402.9,666.5 403.4,667.3 404.0,665.8 404.5,667.6 405.1,667.9 405.6,667.1 406.2,668.3 406.7,669.7 407.3,669.7 407.8,668.5 408.4,668.4 408.9,672.4 409.5,669.0 410.0,668.3 410.6,670.7 411.1,669.4 411.7,670.8 412.2,670.8 412.8,669.5 413.3,673.8 413.9,671.8 414.4,674.6 415.0,672.8 415.5,671.9 416.1,672.9 416.6,674.6 417.2,670.9 417.7,672.9 418.3,673.6 418.8,673.2 419.4,674.9 419.9,671.7 420.5,677.1 421.0,675.7 421.6,673.5 422.1,676.7 422.7,676.2 423.2,676.5 423.8,675.6 424.3,678.2 424.9,675.5 425.4,677.6 426.0,678.9 426.5,678.8 427.1,676.4 427.6,678.6 428.2,676.5 428.7,678.0 429.3,679.5 429.8,679.2 430.4,679.5 430.9,679.8 431.5,678.7 432.0,679.0 432.6,681.0 433.1,683.8 433.7,680.6 434.2,680.3 434.8,682.8 435.3,681.1 435.9,681.2 436.4,681.9 437.0,682.5 437.5,682.4 438.1,681.5 438.6,684.9 439.2,681.9 439.7,683.8 440.3,683.6 440.8,683.3 441.4,684.8 441.9,686.6 442.5,686.0 443.0,685.8 443.6,688.3 444.1,684.6 444.7,686.3 445.2,687.2 445.8,685.4 446.3,685.6 446.9,686.7 447.4,686.8 448.0,685.4 448.5,688.5 449.1,689.7 449.6,684.1 450.2,686.9 450.7,688.9 451.3,687.0 451.8,688.8 452.4,689.2 452.9,690.0 453.5,690.4 454.0,687.9 454.6,687.5 455.1,691.2 455.7,690.8 456.2,690.0 456.8,690.1 457.3,689.0 457.9,690.1 458.4,690.3 459.0,690.5 459.5,689.7 460.1,691.1 460.6,688.9 461.2,691.3 461.7,690.0 462.3,692.0 462.8,692.0 463.4,689.7 463.9,691.2 464.5,691.0 465.0,691.3 465.6,693.7 466.1,691.9 466.7,692.2 467.2,693.0 467.8,692.1 468.3,694.3 468.9,693.5 469.4,692.9 470.0,692.9 470.5,692.6 471.1,692.5 471.6,693.2 472.2,694.1 472.7,692.8 473.3,695.1 473.8,693.9 474.4,695.1 474.9,692.7 475.5,692.5 476.0,693.9 476.6,693.1 477.1,694.1 477.7,693.6 478.2,694.4 478.8,693.6 479.3,696.2 479.9,693.0 480.4,692.3 481.0,693.1 481.5,695.0 482.1,693.2 482.6,691.6 483.2,691.6 483.7,693.3 484.3,692.5 484.8,695.7 485.4,695.2 485.9,693.4 486.5,692.7 487.0,695.7 487.6,695.3 488.1,693.9 488.7,694.8 489.2,696.0 489.8,694.0 490.3,692.4 490.9,693.0 491.4,693.3 492.0,695.6 492.5,694.9 493.1,694.7 493.6,695.6 494.2,692.8 494.7,694.5 495.3,694.4 495.8,694.9 496.4,696.0 496.9,694.5 497.5,695.3 498.0,694.7 498.6,692.0 499.1,693.8 499.7,695.0 500.2,690.0 500.8,693.9 501.3,694.2 501.9,694.4 502.4,694.2 503.0,694.4 503.5,693.8 504.1,695.2 504.6,694.9 505.2,693.2 505.7,694.0 506.3,694.0 506.8,692.8 507.4,695.1 507.9,692.2 508.5,693.1 509.0,695.0 509.6,692.6 510.1,697.6 510.7,695.5 511.2,695.2 511.8,696.3 512.3,694.0 512.9,697.4 513.4,693.5 514.0,694.6 514.5,695.4 515.0,695.2 515.6,696.5 516.2,697.5 516.7,694.6 517.2,697.0 517.8,694.4 518.4,696.0 518.9,696.2 519.5,695.4 520.0,694.2 520.5,695.7 521.1,692.1 521.7,693.8 522.2,695.5 522.8,698.1 523.3,693.9 523.9,696.8 524.4,692.4 525.0,692.5 525.5,694.5 526.0,694.7 526.6,694.9 527.2,694.3 527.7,691.3 528.2,696.5 528.8,694.0 529.4,697.0 529.9,697.3 530.5,692.9 531.0,694.8 531.5,694.2 532.1,694.1 532.7,695.0 533.2,696.7 533.8,694.3 534.3,695.3 534.9,693.1 535.4,695.0 536.0,695.5 536.5,694.0 537.1,693.3 537.6,695.4 538.2,696.7 538.7,695.6 539.2,695.4 539.8,692.4 540.4,696.4 540.9,695.6 541.5,694.1 542.0,693.4 542.6,693.8 543.1,695.8 543.7,692.0 544.2,692.2 544.8,694.7 545.3,693.1 545.9,692.8 546.4,694.7 547.0,693.7 547.5,693.7 548.1,696.5 548.6,694.0 549.2,693.9 549.7,695.7 550.2,694.5 550.8,695.8 551.4,695.4 551.9,696.9 552.5,697.6 553.0,695.1 553.6,696.8 554.1,693.8 554.7,695.8 555.2,696.1 555.8,694.8 556.3,695.1 556.9,694.8 557.4,694.6 558.0,696.1 558.5,694.8 559.1,694.8 559.6,696.2 560.2,694.3 560.7,696.1 561.2,696.3 561.8,693.9 562.4,694.8 562.9,694.7 563.5,693.8 564.0,692.1 564.6,694.0 565.1,693.1 565.7,692.8 566.2,692.1 566.8,693.2 567.3,694.5 567.9,694.9 568.4,694.2 569.0,694.7 569.5,695.5 570.1,692.9 570.6,697.3 571.2,694.0 571.7,694.1 572.2,694.5 572.8,695.7 573.4,695.9 573.9,694.7 574.5,693.5 575.0,694.4 575.6,694.4 576.1,693.7 576.7,696.5 577.2,693.8 577.8,695.8 578.3,694.8 578.9,693.9 579.4,695.9 580.0,694.9 580.5,697.3 581.1,695.7 581.6,695.6 582.2,698.8 582.7,695.1 583.2,694.2 583.8,695.3 584.4,694.2 584.9,694.0 585.5,695.5 586.0,695.3 586.6,695.5 587.1,693.2 587.7,693.5 588.2,693.4 588.8,693.5 589.3,694.1 589.9,695.8 590.4,695.1 591.0,695.8 591.5,695.1 592.1,696.5 592.6,691.6 593.2,692.9 593.7,694.3 594.2,695.3 594.8,695.5 595.4,695.0 595.9,695.0 596.5,694.0 597.0,693.0 597.6,694.2 598.1,696.3 598.7,694.4 599.2,693.1 599.8,693.9 600.3,691.6 600.9,694.9 601.4,694.1 602.0,698.7 602.5,691.5 603.1,694.5 603.6,691.3 604.2,692.2 604.7,694.1 605.2,693.9 605.8,695.1 606.4,693.8 606.9,693.7 607.5,694.1 608.0,697.0 608.6,695.0 609.1,693.9 609.7,694.8 610.2,696.2 610.8,694.8 611.3,694.4 611.9,695.1 612.4,694.9 613.0,695.2 613.5,694.8 614.1,692.9 614.6,693.5 615.2,695.1 615.7,695.3 616.2,694.1 616.8,695.7 617.4,695.6 617.9,695.8 618.5,694.9 619.0,694.4 619.6,692.6 620.1,694.2 620.7,693.7 621.2,692.4 621.8,693.6 622.3,693.7 622.9,694.9 623.4,695.4 624.0,693.2 624.5,693.3 625.1,693.1 625.6,695.3 626.2,694.5 626.7,693.3 627.2,695.9 627.8,694.4 628.4,695.8 628.9,695.0 629.5,695.1 630.0,694.6 630.6,694.1 631.1,693.3 631.7,693.7 632.2,694.2 632.8,695.4 633.3,696.2 633.9,692.8 634.4,696.8 635.0,694.2 635.5,693.0 636.1,695.5 636.6,692.6 637.2,693.5 637.7,695.1 638.2,695.6 638.8,693.0 639.4,694.2 639.9,693.0 640.5,690.3 641.0,693.9 641.6,692.6 642.1,695.7 642.7,695.2 643.2,694.0 643.8,695.1 644.3,694.4" fill="none" stroke="#3a3a3a" stroke-width="0.8" />
<path d="M41.5,694.5 43.5,694.5 45.5,694.5 47.5,694.5 49.5,694.5 51.5,694.5 53.5,694.5 55.5,694.5 57.5,694.5 59.5,694.5 61.5,694.5 63.5,694.5 65.5,694.5 67.5,694.5 69.5,694.5 71.5,694.5 73.5,694.5 75.5,694.5 77.5,694.5 79.5,694.5 81.5,694.5 83.5,694.5 85.5,694.4 87.5,694.4 89.5,694.4 91.5,694.4 93.5,694.4 95.5,694.4 97.5,694.4 99.5,694.4 101.5,694.4 103.5,694.4 105.5,694.4 107.5,694.4 109.5,694.4 111.5,694.4 113.5,694.3 115.5,694.3 117.5,694.3 119.5,694.3 121.5,694.3 123.5,694.3 125.5,694.3 127.5,694.3 129.5,694.3 131.5,694.2 133.5,694.2 135.5,694.2 137.5,694.2 139.5,694.2 141.5,694.1 143.5,694.1 145.5,694.1 147.5,694.1 149.5,694.0 151.5,694.0 153.5,693.9 155.5,693.9 157.5,693.8 159.5,693.8 161.5,693.7 163.5,693.7 165.5,693.6 167.5,693.5 169.5,693.4 171.5,693.3 173.5,693.2 175.5,693.1 177.5,693.0 179.5,692.8 181.5,692.7 183.5,692.5 185.5,692.3 187.5,692.1 189.5,691.9 191.5,691.6 193.5,691.4 195.5,691.1 197.5,690.8 199.5,690.5 201.5,690.2 203.5,689.8 205.5,689.4 207.5,689.0 209.5,688.6 211.5,688.2 213.5,687.7 215.5,687.3 217.5,686.8 219.5,686.3 221.5,685.7 223.5,685.2 225.5,684.6 227.5,684.1 229.5,683.5 231.5,682.9 233.5,682.3 235.5,681.7 237.5,681.1 239.5,680.5 241.5,679.9 243.5,679.3 245.5,678.7 247.5,678.2 249.5,677.6 251.5,677.1 253.5,676.6 255.5,676.1 257.5,675.6 259.5,675.2 261.5,674.7 263.5,674.3 265.5,673.9 267.5,673.5 269.5,673.2 271.5,672.8 273.5,672.4 275.5,672.1 277.5,671.7 279.5,671.3 281.5,670.9 283.5,670.4 285.5,670.0 287.5,669.5 289.5,669.0 291.5,668.5 293.5,668.0 295.5,667.4 297.5,666.8 299.5,666.1 301.5,665.5 303.5,664.8 305.5,664.1 307.5,663.4 309.5,662.6 311.5,661.9 313.5,661.1 315.5,660.4 317.5,659.6 319.5,658.9 321.5,658.2 323.5,657.5 325.5,656.8 327.5,656.2 329.5,655.6 331.5,655.0 333.5,654.5 335.5,654.0 337.5,653.6 339.5,653.2 341.5,652.9 343.5,652.6 345.5,652.5 347.5,652.4 349.5,652.3 351.5,652.3 353.5,652.4 355.5,652.5 357.5,652.7 359.5,653.0 361.5,653.3 363.5,653.7 365.5,654.1 367.5,654.5 369.5,655.0 371.5,655.6 373.5,656.1 375.5,656.7 377.5,657.4 379.5,658.0 381.5,658.7 383.5,659.4 385.5,660.1 387.5,660.8 389.5,661.6 391.5,662.3 393.5,663.1 395.5,663.9 397.5,664.7 399.5,665.5 401.5,666.3 403.5,667.1 405.5,668.0 407.5,668.9 409.5,669.8 411.5,670.7 413.5,671.6 415.5,672.5 417.5,673.5 419.5,674.5 421.5,675.4 423.5,676.4 425.5,677.4 427.5,678.4 429.5,679.3 431.5,680.3 433.5,681.2 435.5,682.2 437.5,683.1 439.5,684.0 441.5,684.8 443.5,685.6 445.5,686.4 447.5,687.1 449.5,687.8 451.5,688.5 453.5,689.1 455.5,689.7 457.5,690.2 459.5,690.7 461.5,691.1 463.5,691.6 465.5,691.9 467.5,692.3 469.5,692.6 471.5,692.8 473.5,693.1 475.5,693.3 477.5,693.4 479.5,693.6 481.5,693.8 483.5,693.9 485.5,694.0 487.5,694.1 489.5,694.2 491.5,694.2 493.5,694.3 495.5,694.3 497.5,694.4 499.5,694.4 501.5,694.4 503.5,694.5 505.5,694.5 507.5,694.5 509.5,694.5 511.5,694.5 513.5,694.5 515.5,694.5 517.5,694.6 519.5,694.6 521.5,694.6 523.5,694.6 525.5,694.6 527.5,694.6 529.5,694.6 531.5,694.6 533.5,694.6 535.5,694.6 537.5,694.6 539.5,694.6 541.5,694.6 543.5,694.6 545.5,694.6 547.5,694.6 549.5,694.6 551.5,694.6 553.5,694.6 555.5,694.6 557.5,694.6 559.5,694.6 561.5,694.6 563.5,694.6 565.5,694.6 567.5,694.6 569.5,694.6 571.5,694.6 573.5,694.6 575.5,694.6 577.5,694.6 579.5,694.6 581.5,694.6 583.5,694.6 585.5,694.6 587.5,694.6 589.5,694.6 591.5,694.6 593.5,694.6 595.5,694.6 597.5,694.6 599.5,694.6 601.5,694.6 603.5,694.6 605.5,694.6 607.5,694.6 609.5,694.6 611.5,694.6 613.5,694.6 615.5,694.6 617.5,694.6 619.5,694.6 621.5,694.6 623.5,694.6 625.5,694.6 627.5,694.6 629.5,694.6 631.5,694.6 633.5,694.6 635.5,694.6 637.5,694.6 639.5,694.6 641.5,694.6 643.5,694.6" fill="none" stroke="#a374e6" stroke-width="1.3" />
<text x="668.8" y="703.8" font-size="32.3" textLength="103.95" lengthAdjust="spacingAndGlyphs" >−0.75 V</text>
<path d="M109.5,760.4 111.5,760.4 113.5,760.4 115.5,760.3 117.5,760.3 119.5,760.3 121.5,760.3 123.5,760.3 125.5,760.3 127.5,760.3 129.5,760.3 131.5,760.2 133.5,760.2 135.5,760.2 137.5,760.2 139.5,760.2 141.5,760.1 143.5,760.1 145.5,760.1 147.5,760.1 149.5,760.0 151.5,760.0 153.5,760.0 155.5,759.9 157.5,759.9 159.5,759.8 161.5,759.7 163.5,759.7 165.5,759.6 167.5,759.5 169.5,759.4 171.5,759.3 173.5,759.2 175.5,759.1 177.5,759.0 179.5,758.8 181.5,758.7 183.5,758.5 185.5,758.4 187.5,758.2 189.5,757.9 191.5,757.7 193.5,757.5 195.5,757.2 197.5,756.9 199.5,756.6 201.5,756.3 203.5,756.0 205.5,755.6 207.5,755.3 209.5,754.9 211.5,754.5 213.5,754.1 215.5,753.7 217.5,753.2 219.5,752.8 221.5,752.3 223.5,751.8 225.5,751.4 227.5,750.9 229.5,750.4 231.5,750.0 233.5,749.5 235.5,749.0 237.5,748.6 239.5,748.2 241.5,747.8 243.5,747.4 245.5,747.1 247.5,746.8 249.5,746.5 251.5,746.3 253.5,746.1 255.5,746.0 257.5,745.9 259.5,745.9 261.5,745.9 263.5,746.0 265.5,746.1 267.5,746.3 269.5,746.5 271.5,746.8 273.5,747.1 275.5,747.4 277.5,747.8 279.5,748.2 281.5,748.6 283.5,749.0 285.5,749.5 287.5,750.0 289.5,750.4 291.5,750.9 293.5,751.4 295.5,751.8 297.5,752.3 299.5,752.8 301.5,753.2 303.5,753.7 305.5,754.1 307.5,754.5 309.5,754.9 311.5,755.3 313.5,755.6 315.5,756.0 317.5,756.3 319.5,756.6 321.5,756.9 323.5,757.2 325.5,757.5 327.5,757.7 329.5,757.9 331.5,758.2 333.5,758.4 335.5,758.5 337.5,758.7 339.5,758.8 341.5,759.0 343.5,759.1 345.5,759.2 347.5,759.3 349.5,759.4 351.5,759.5 353.5,759.6 355.5,759.7 357.5,759.7 359.5,759.8 361.5,759.9 363.5,759.9 365.5,760.0 367.5,760.0 369.5,760.0 371.5,760.1 373.5,760.1 375.5,760.1 377.5,760.1 379.5,760.2 381.5,760.2 383.5,760.2 385.5,760.2 387.5,760.2 389.5,760.3 391.5,760.3 393.5,760.3 395.5,760.3 397.5,760.3 399.5,760.3 401.5,760.3 403.5,760.3 405.5,760.4 407.5,760.4 409.5,760.4 L409.5,760.7 L109.5,760.7Z" fill="#ee3a44" stroke="none" stroke-width="1" />
<path d="M197.5,760.6 199.5,760.6 201.5,760.6 203.5,760.6 205.5,760.6 207.5,760.5 209.5,760.5 211.5,760.5 213.5,760.5 215.5,760.4 217.5,760.4 219.5,760.3 221.5,760.3 223.5,760.2 225.5,760.1 227.5,760.0 229.5,759.9 231.5,759.8 233.5,759.7 235.5,759.6 237.5,759.4 239.5,759.3 241.5,759.1 243.5,758.9 245.5,758.6 247.5,758.4 249.5,758.1 251.5,757.8 253.5,757.5 255.5,757.1 257.5,756.8 259.5,756.3 261.5,755.9 263.5,755.4 265.5,754.9 267.5,754.3 269.5,753.7 271.5,753.1 273.5,752.4 275.5,751.7 277.5,751.0 279.5,750.2 281.5,749.3 283.5,748.5 285.5,747.6 287.5,746.6 289.5,745.6 291.5,744.6 293.5,743.6 295.5,742.5 297.5,741.4 299.5,740.3 301.5,739.2 303.5,738.0 305.5,736.9 307.5,735.7 309.5,734.6 311.5,733.4 313.5,732.3 315.5,731.2 317.5,730.1 319.5,729.0 321.5,728.0 323.5,727.0 325.5,726.1 327.5,725.2 329.5,724.3 331.5,723.6 333.5,722.9 335.5,722.2 337.5,721.7 339.5,721.2 341.5,720.8 343.5,720.5 345.5,720.3 347.5,720.1 349.5,720.1 351.5,720.1 353.5,720.3 355.5,720.5 357.5,720.8 359.5,721.2 361.5,721.7 363.5,722.2 365.5,722.9 367.5,723.6 369.5,724.3 371.5,725.2 373.5,726.1 375.5,727.0 377.5,728.0 379.5,729.0 381.5,730.1 383.5,731.2 385.5,732.3 387.5,733.4 389.5,734.6 391.5,735.7 393.5,736.9 395.5,738.0 397.5,739.2 399.5,740.3 401.5,741.4 403.5,742.5 405.5,743.6 407.5,744.6 409.5,745.6 411.5,746.6 413.5,747.6 415.5,748.5 417.5,749.3 419.5,750.2 421.5,751.0 423.5,751.7 425.5,752.4 427.5,753.1 429.5,753.7 431.5,754.3 433.5,754.9 435.5,755.4 437.5,755.9 439.5,756.3 441.5,756.8 443.5,757.1 445.5,757.5 447.5,757.8 449.5,758.1 451.5,758.4 453.5,758.6 455.5,758.9 457.5,759.1 459.5,759.3 461.5,759.4 463.5,759.6 465.5,759.7 467.5,759.8 469.5,759.9 471.5,760.0 473.5,760.1 475.5,760.2 477.5,760.3 479.5,760.3 481.5,760.4 483.5,760.4 485.5,760.5 487.5,760.5 489.5,760.5 491.5,760.5 493.5,760.6 495.5,760.6 497.5,760.6 499.5,760.6 501.5,760.6 L501.5,760.7 L197.5,760.7Z" fill="url(#gBlueA)" stroke="none" stroke-width="1" fill-opacity="0.5"/>
<path d="M317.5,760.7 319.5,760.7 321.5,760.7 323.5,760.7 325.5,760.7 327.5,760.6 329.5,760.6 331.5,760.6 333.5,760.6 335.5,760.6 337.5,760.5 339.5,760.5 341.5,760.4 343.5,760.4 345.5,760.3 347.5,760.2 349.5,760.1 351.5,760.0 353.5,759.9 355.5,759.8 357.5,759.6 359.5,759.5 361.5,759.3 363.5,759.0 365.5,758.8 367.5,758.5 369.5,758.3 371.5,758.0 373.5,757.6 375.5,757.3 377.5,757.0 379.5,756.6 381.5,756.2 383.5,755.8 385.5,755.4 387.5,755.0 389.5,754.6 391.5,754.2 393.5,753.8 395.5,753.5 397.5,753.2 399.5,752.8 401.5,752.6 403.5,752.3 405.5,752.1 407.5,752.0 409.5,751.9 411.5,751.8 413.5,751.8 415.5,751.8 417.5,751.9 419.5,752.1 421.5,752.2 423.5,752.4 425.5,752.7 427.5,753.0 429.5,753.3 431.5,753.7 433.5,754.0 435.5,754.4 437.5,754.8 439.5,755.2 441.5,755.6 443.5,756.0 445.5,756.4 447.5,756.8 449.5,757.1 451.5,757.5 453.5,757.8 455.5,758.1 457.5,758.4 459.5,758.7 461.5,758.9 463.5,759.2 465.5,759.4 467.5,759.5 469.5,759.7 471.5,759.8 473.5,760.0 475.5,760.1 477.5,760.2 479.5,760.3 481.5,760.3 483.5,760.4 485.5,760.5 487.5,760.5 489.5,760.5 491.5,760.6 493.5,760.6 495.5,760.6 497.5,760.6 499.5,760.6 501.5,760.7 503.5,760.7 505.5,760.7 507.5,760.7 509.5,760.7 L509.5,760.7 L317.5,760.7Z" fill="#2e8b3c" stroke="none" stroke-width="1" />
<line x1="155" y1="760.7" x2="505" y2="760.7" stroke="#3d9a62" stroke-width="1.4" />
<path d="M197.5,760.6 199.5,760.6 201.5,760.6 203.5,760.6 205.5,760.6 207.5,760.5 209.5,760.5 211.5,760.5 213.5,760.5 215.5,760.4 217.5,760.4 219.5,760.3 221.5,760.3 223.5,760.2 225.5,760.1 227.5,760.0 229.5,759.9 231.5,759.8 233.5,759.7 235.5,759.6 237.5,759.4 239.5,759.3 241.5,759.1 243.5,758.9 245.5,758.6 247.5,758.4 249.5,758.1 251.5,757.8 253.5,757.5 255.5,757.1 257.5,756.8 259.5,756.3 261.5,755.9 263.5,755.4 265.5,754.9 267.5,754.3 269.5,753.7 271.5,753.1 273.5,752.4 275.5,751.7 277.5,751.0 279.5,750.2 281.5,749.3 283.5,748.5 285.5,747.6 287.5,746.6 289.5,745.6 291.5,744.6 293.5,743.6 295.5,742.5 297.5,741.4 299.5,740.3 301.5,739.2 303.5,738.0 305.5,736.9 307.5,735.7 309.5,734.6 311.5,733.4 313.5,732.3 315.5,731.2 317.5,730.1 319.5,729.0 321.5,728.0 323.5,727.0 325.5,726.1 327.5,725.2 329.5,724.3 331.5,723.6 333.5,722.9 335.5,722.2 337.5,721.7 339.5,721.2 341.5,720.8 343.5,720.5 345.5,720.3 347.5,720.1 349.5,720.1 351.5,720.1 353.5,720.3 355.5,720.5 357.5,720.8 359.5,721.2 361.5,721.7 363.5,722.2 365.5,722.9 367.5,723.6 369.5,724.3 371.5,725.2 373.5,726.1 375.5,727.0 377.5,728.0 379.5,729.0 381.5,730.1 383.5,731.2 385.5,732.3 387.5,733.4 389.5,734.6 391.5,735.7 393.5,736.9 395.5,738.0 397.5,739.2 399.5,740.3 401.5,741.4 403.5,742.5 405.5,743.6 407.5,744.6 409.5,745.6 411.5,746.6 413.5,747.6 415.5,748.5 417.5,749.3 419.5,750.2 421.5,751.0 423.5,751.7 425.5,752.4 427.5,753.1 429.5,753.7 431.5,754.3 433.5,754.9 435.5,755.4 437.5,755.9 439.5,756.3 441.5,756.8 443.5,757.1 445.5,757.5 447.5,757.8 449.5,758.1 451.5,758.4 453.5,758.6 455.5,758.9 457.5,759.1 459.5,759.3 461.5,759.4 463.5,759.6 465.5,759.7 467.5,759.8 469.5,759.9 471.5,760.0 473.5,760.1 475.5,760.2 477.5,760.3 479.5,760.3 481.5,760.4 483.5,760.4 485.5,760.5 487.5,760.5 489.5,760.5 491.5,760.5 493.5,760.6 495.5,760.6 497.5,760.6 499.5,760.6 501.5,760.6" fill="none" stroke="#2b3cf0" stroke-width="1.1" />
<path d="M41.5,759.0 42.0,758.8 42.6,761.0 43.1,758.0 43.7,759.0 44.2,759.2 44.8,759.2 45.4,758.3 45.9,759.4 46.5,758.4 47.0,759.5 47.5,760.2 48.1,760.8 48.6,760.9 49.2,760.1 49.8,761.0 50.3,762.0 50.9,760.9 51.4,761.8 52.0,762.9 52.5,761.8 53.0,760.3 53.6,760.1 54.1,759.9 54.7,763.6 55.2,763.2 55.8,760.8 56.4,760.7 56.9,760.1 57.5,761.7 58.0,758.7 58.5,760.0 59.1,760.8 59.7,761.8 60.2,761.1 60.8,759.7 61.3,757.6 61.9,761.9 62.4,760.4 63.0,759.3 63.5,759.4 64.0,761.5 64.6,760.0 65.2,762.8 65.7,762.6 66.2,760.1 66.8,761.5 67.3,760.0 67.9,760.3 68.5,761.6 69.0,761.1 69.5,761.4 70.1,760.0 70.7,759.0 71.2,763.0 71.8,761.9 72.3,761.3 72.8,760.4 73.4,760.3 74.0,759.7 74.5,761.4 75.1,759.3 75.6,759.1 76.2,759.5 76.7,760.9 77.2,757.7 77.8,760.3 78.3,759.7 78.9,760.8 79.5,759.4 80.0,759.9 80.6,760.0 81.1,760.9 81.7,761.6 82.2,760.0 82.8,759.6 83.3,761.7 83.8,759.6 84.4,760.3 85.0,762.6 85.5,760.1 86.1,758.8 86.6,760.6 87.2,760.9 87.7,759.7 88.2,761.0 88.8,758.5 89.3,760.8 89.9,760.5 90.5,759.5 91.0,759.0 91.6,760.3 92.1,761.9 92.7,759.1 93.2,760.0 93.8,761.4 94.3,761.4 94.8,760.7 95.4,763.0 96.0,758.7 96.5,761.0 97.1,759.5 97.6,761.9 98.2,761.5 98.7,760.7 99.2,762.8 99.8,761.7 100.3,759.6 100.9,759.5 101.5,761.0 102.0,760.7 102.6,761.2 103.1,761.7 103.7,758.5 104.2,760.2 104.8,760.4 105.3,760.1 105.9,760.0 106.4,758.3 107.0,760.1 107.5,760.5 108.1,760.4 108.6,762.7 109.2,760.2 109.7,761.8 110.2,760.4 110.8,757.1 111.4,761.2 111.9,764.1 112.5,760.8 113.0,759.2 113.6,760.5 114.1,761.3 114.7,761.4 115.2,760.3 115.8,761.8 116.3,759.0 116.9,760.8 117.4,759.0 118.0,759.1 118.5,761.2 119.1,759.7 119.6,761.9 120.2,760.1 120.7,760.3 121.2,760.4 121.8,761.7 122.4,759.7 122.9,760.4 123.5,761.1 124.0,759.7 124.6,761.0 125.1,759.2 125.7,759.8 126.2,760.5 126.8,757.9 127.3,757.1 127.9,762.7 128.4,761.7 128.9,759.3 129.5,760.2 130.1,760.7 130.6,757.6 131.2,760.3 131.7,761.4 132.2,759.5 132.8,760.2 133.4,760.3 133.9,761.0 134.4,759.6 135.0,761.7 135.6,761.3 136.1,761.3 136.7,762.2 137.2,759.4 137.8,760.5 138.3,760.9 138.9,761.7 139.4,758.9 139.9,759.7 140.5,759.6 141.1,760.3 141.6,760.0 142.2,763.6 142.7,759.0 143.2,760.6 143.8,763.9 144.4,761.0 144.9,759.5 145.4,760.3 146.0,761.8 146.6,760.6 147.1,760.9 147.7,760.3 148.2,759.6 148.8,758.8 149.3,762.1 149.9,759.2 150.4,760.1 150.9,760.1 151.5,761.2 152.1,760.6 152.6,761.3 153.2,757.8 153.7,759.9 154.2,760.2 154.8,763.3 155.4,760.3 155.9,758.3 156.4,759.4 157.0,761.0 157.6,760.4 158.1,761.7 158.7,759.8 159.2,760.5 159.8,760.6 160.3,760.6 160.9,760.0 161.4,760.0 161.9,760.0 162.5,758.3 163.1,760.5 163.6,759.0 164.2,760.9 164.7,758.7 165.2,761.1 165.8,758.2 166.4,759.5 166.9,760.3 167.5,761.9 168.0,757.7 168.6,762.7 169.1,759.1 169.7,762.2 170.2,755.8 170.8,761.6 171.3,758.2 171.9,761.3 172.4,759.9 173.0,758.9 173.5,759.6 174.1,757.8 174.6,762.5 175.2,759.9 175.7,757.8 176.2,758.9 176.8,758.0 177.4,759.4 177.9,758.1 178.5,760.1 179.0,760.1 179.6,755.2 180.1,759.1 180.7,756.9 181.2,759.2 181.8,759.0 182.3,758.6 182.9,756.0 183.4,759.7 184.0,757.8 184.5,757.6 185.1,758.0 185.6,758.1 186.2,756.8 186.7,758.3 187.2,756.9 187.8,759.5 188.4,756.5 188.9,756.0 189.5,756.6 190.0,757.4 190.6,760.1 191.1,758.3 191.7,757.5 192.2,757.5 192.8,757.2 193.3,759.1 193.9,757.6 194.4,757.3 195.0,756.3 195.5,758.1 196.1,758.1 196.6,754.7 197.2,756.5 197.7,758.4 198.2,756.8 198.8,757.9 199.4,756.3 199.9,756.5 200.5,756.5 201.0,757.2 201.6,757.7 202.1,755.8 202.7,757.8 203.2,752.6 203.8,757.9 204.3,756.6 204.9,756.5 205.4,755.5 206.0,755.5 206.5,754.7 207.1,754.3 207.6,755.9 208.2,754.9 208.7,753.5 209.2,753.7 209.8,755.2 210.4,754.7 210.9,755.4 211.5,754.6 212.0,756.3 212.6,753.8 213.1,752.4 213.7,754.7 214.2,753.2 214.8,755.4 215.3,753.3 215.9,753.2 216.4,752.4 217.0,752.6 217.5,754.0 218.1,751.2 218.6,752.3 219.2,752.9 219.7,750.5 220.3,753.9 220.8,751.1 221.4,750.4 221.9,749.5 222.5,751.2 223.0,752.4 223.6,750.9 224.1,750.0 224.7,750.9 225.2,752.1 225.8,747.4 226.3,750.0 226.9,749.7 227.4,750.1 228.0,751.3 228.5,749.9 229.1,749.1 229.6,749.7 230.2,748.6 230.7,750.9 231.3,748.5 231.8,748.8 232.4,749.9 232.9,747.3 233.5,747.3 234.0,747.7 234.6,749.7 235.1,750.7 235.7,749.5 236.2,745.5 236.8,748.8 237.3,748.5 237.9,748.6 238.4,745.7 239.0,743.7 239.5,749.1 240.1,747.7 240.6,744.6 241.2,747.3 241.7,748.0 242.3,746.0 242.8,746.5 243.4,745.6 243.9,748.2 244.5,745.1 245.0,744.4 245.6,743.4 246.1,744.0 246.7,746.5 247.2,744.4 247.8,744.8 248.3,743.1 248.9,743.8 249.4,744.5 250.0,743.6 250.5,744.0 251.1,744.7 251.6,745.1 252.2,743.8 252.7,742.0 253.3,742.9 253.8,741.5 254.4,743.2 254.9,743.1 255.5,742.4 256.0,741.8 256.6,742.1 257.1,742.3 257.6,741.9 258.2,739.3 258.8,742.0 259.3,743.1 259.9,741.5 260.4,744.1 261.0,742.2 261.5,740.7 262.1,742.1 262.6,737.3 263.1,741.2 263.7,742.1 264.2,740.5 264.8,740.7 265.4,741.3 265.9,741.8 266.5,739.4 267.0,740.5 267.6,739.6 268.1,739.4 268.6,741.9 269.2,738.0 269.8,739.9 270.3,738.3 270.9,740.8 271.4,740.8 272.0,739.5 272.5,737.0 273.1,738.3 273.6,736.7 274.1,738.3 274.7,740.8 275.2,738.8 275.8,737.8 276.4,738.1 276.9,737.4 277.5,739.4 278.0,734.6 278.6,737.4 279.1,738.9 279.6,739.3 280.2,737.1 280.8,737.2 281.3,736.6 281.9,736.5 282.4,738.4 283.0,736.1 283.5,736.6 284.1,736.9 284.6,736.6 285.1,734.8 285.7,738.1 286.2,735.8 286.8,734.9 287.4,734.8 287.9,737.2 288.5,733.8 289.0,737.9 289.6,734.7 290.1,735.9 290.7,733.8 291.2,735.2 291.8,736.1 292.3,734.7 292.9,734.5 293.4,736.1 294.0,736.2 294.5,733.1 295.1,733.6 295.6,732.9 296.2,732.1 296.7,735.8 297.2,733.9 297.8,733.5 298.4,732.5 298.9,734.9 299.5,732.1 300.0,734.5 300.6,732.5 301.1,732.4 301.7,732.4 302.2,733.1 302.8,731.3 303.3,729.9 303.9,732.0 304.4,732.3 305.0,732.5 305.5,729.3 306.1,728.4 306.6,729.1 307.2,729.5 307.7,731.9 308.2,728.1 308.8,728.1 309.4,730.4 309.9,726.5 310.5,732.5 311.0,728.4 311.6,730.1 312.1,728.2 312.7,729.0 313.2,727.4 313.8,725.9 314.3,724.4 314.9,726.4 315.4,727.6 316.0,724.4 316.5,726.7 317.1,726.5 317.6,726.0 318.2,725.8 318.7,723.8 319.2,723.3 319.8,725.3 320.4,723.8 320.9,723.5 321.5,724.8 322.0,725.8 322.6,725.0 323.1,723.3 323.7,724.3 324.2,724.0 324.8,721.9 325.3,723.2 325.9,722.5 326.4,722.1 327.0,722.6 327.5,722.1 328.1,722.0 328.6,721.1 329.2,720.6 329.7,721.2 330.2,721.9 330.8,722.2 331.4,723.3 331.9,720.9 332.5,719.0 333.0,719.5 333.6,720.8 334.1,723.2 334.7,719.5 335.2,722.3 335.8,718.2 336.3,719.5 336.9,719.1 337.4,718.9 338.0,720.7 338.5,718.4 339.1,719.6 339.6,717.4 340.2,720.8 340.7,719.4 341.2,719.0 341.8,718.9 342.4,718.1 342.9,719.0 343.5,719.7 344.0,720.1 344.6,719.6 345.1,717.7 345.7,720.1 346.2,718.3 346.8,718.4 347.3,720.1 347.9,719.1 348.4,719.5 349.0,719.7 349.5,716.9 350.1,718.5 350.6,716.9 351.2,718.1 351.7,716.5 352.2,717.7 352.8,718.7 353.4,717.9 353.9,718.0 354.5,718.7 355.0,719.0 355.6,717.1 356.1,717.8 356.7,718.2 357.2,720.0 357.8,719.6 358.3,718.2 358.9,718.6 359.4,719.5 360.0,720.1 360.5,719.6 361.1,719.7 361.6,719.8 362.2,721.1 362.7,720.3 363.2,719.1 363.8,719.6 364.4,721.9 364.9,720.4 365.5,718.0 366.0,721.0 366.6,719.9 367.1,723.0 367.7,720.7 368.2,722.0 368.8,720.3 369.3,719.5 369.9,721.5 370.4,719.7 371.0,722.9 371.5,720.3 372.1,723.1 372.6,723.1 373.2,724.2 373.7,721.5 374.2,722.1 374.8,721.8 375.4,723.6 375.9,724.1 376.5,723.2 377.0,723.6 377.6,722.7 378.1,723.3 378.7,725.7 379.2,724.5 379.8,723.2 380.3,727.0 380.9,725.3 381.4,726.2 382.0,725.9 382.5,725.9 383.1,725.7 383.6,727.6 384.2,725.2 384.7,726.4 385.2,725.9 385.8,726.8 386.4,727.3 386.9,727.0 387.5,729.1 388.0,727.3 388.6,727.4 389.1,727.5 389.7,726.7 390.2,731.5 390.8,727.0 391.3,727.0 391.9,727.5 392.4,730.7 393.0,731.3 393.5,729.1 394.1,731.4 394.6,729.7 395.2,729.9 395.7,730.8 396.3,732.4 396.8,730.9 397.4,731.0 397.9,730.9 398.5,731.2 399.0,732.9 399.6,733.1 400.1,733.9 400.7,733.3 401.2,734.4 401.8,734.3 402.3,733.2 402.9,735.1 403.4,733.8 404.0,735.2 404.5,735.5 405.1,734.5 405.6,733.5 406.2,734.6 406.7,736.6 407.3,737.7 407.8,735.7 408.4,734.3 408.9,735.9 409.5,736.7 410.0,738.3 410.6,736.3 411.1,738.2 411.7,737.5 412.2,738.6 412.8,739.0 413.3,738.4 413.9,739.4 414.4,737.9 415.0,742.0 415.5,739.7 416.1,737.5 416.6,741.7 417.2,739.6 417.7,741.3 418.3,741.9 418.8,740.5 419.4,740.3 419.9,740.1 420.5,740.7 421.0,741.4 421.6,739.7 422.1,742.7 422.7,743.1 423.2,743.3 423.8,741.6 424.3,745.0 424.9,745.6 425.4,744.8 426.0,746.3 426.5,745.7 427.1,745.0 427.6,743.3 428.2,746.0 428.7,742.5 429.3,748.3 429.8,746.8 430.4,747.2 430.9,745.6 431.5,746.3 432.0,748.8 432.6,748.9 433.1,747.4 433.7,748.7 434.2,748.2 434.8,746.1 435.3,747.6 435.9,749.6 436.4,747.3 437.0,749.6 437.5,749.5 438.1,749.5 438.6,750.5 439.2,751.0 439.7,752.6 440.3,751.7 440.8,751.0 441.4,751.1 441.9,753.5 442.5,750.9 443.0,752.0 443.6,752.4 444.1,752.3 444.7,753.0 445.2,755.6 445.8,754.1 446.3,751.2 446.9,755.9 447.4,754.6 448.0,751.2 448.5,753.8 449.1,753.7 449.6,753.3 450.2,755.0 450.7,755.3 451.3,755.8 451.8,756.4 452.4,756.7 452.9,753.7 453.5,754.8 454.0,756.6 454.6,755.1 455.1,756.3 455.7,753.7 456.2,756.2 456.8,757.7 457.3,758.4 457.9,756.0 458.4,755.2 459.0,758.2 459.5,756.2 460.1,756.9 460.6,758.9 461.2,757.5 461.7,754.1 462.3,757.6 462.8,756.5 463.4,757.4 463.9,760.6 464.5,755.9 465.0,759.1 465.6,758.7 466.1,760.3 466.7,757.4 467.2,760.4 467.8,760.4 468.3,758.3 468.9,757.9 469.4,758.9 470.0,758.0 470.5,756.3 471.1,759.0 471.6,758.9 472.2,759.3 472.7,758.7 473.3,760.2 473.8,759.9 474.4,760.4 474.9,759.6 475.5,760.7 476.0,758.5 476.6,760.6 477.1,761.6 477.7,759.6 478.2,759.2 478.8,759.2 479.3,759.9 479.9,761.3 480.4,760.5 481.0,756.9 481.5,758.8 482.1,759.9 482.6,760.5 483.2,760.0 483.7,760.6 484.3,758.7 484.8,759.9 485.4,760.9 485.9,759.8 486.5,758.6 487.0,761.7 487.6,760.2 488.1,758.9 488.7,758.1 489.2,757.3 489.8,762.6 490.3,763.0 490.9,761.2 491.4,759.0 492.0,761.0 492.5,761.4 493.1,760.1 493.6,759.7 494.2,758.7 494.7,759.8 495.3,760.2 495.8,758.8 496.4,759.5 496.9,759.5 497.5,762.2 498.0,760.7 498.6,762.2 499.1,760.2 499.7,760.7 500.2,760.4 500.8,762.1 501.3,759.8 501.9,760.5 502.4,758.4 503.0,759.5 503.5,762.3 504.1,759.2 504.6,759.5 505.2,759.9 505.7,761.3 506.3,761.4 506.8,760.4 507.4,758.8 507.9,758.5 508.5,761.5 509.0,761.4 509.6,761.0 510.1,762.2 510.7,759.0 511.2,760.5 511.8,758.9 512.3,757.1 512.9,759.8 513.4,758.6 514.0,759.2 514.5,757.0 515.0,758.4 515.6,759.4 516.2,761.0 516.7,759.1 517.2,759.2 517.8,760.2 518.4,760.7 518.9,760.2 519.5,759.0 520.0,759.9 520.5,758.1 521.1,762.3 521.7,760.8 522.2,759.8 522.8,760.2 523.3,761.6 523.9,762.9 524.4,760.8 525.0,760.6 525.5,763.7 526.0,760.2 526.6,763.0 527.2,759.4 527.7,762.5 528.2,759.9 528.8,760.5 529.4,761.0 529.9,760.5 530.5,759.8 531.0,760.1 531.5,761.8 532.1,760.8 532.7,763.2 533.2,762.2 533.8,761.1 534.3,763.5 534.9,762.0 535.4,759.5 536.0,761.0 536.5,758.7 537.1,760.2 537.6,761.7 538.2,761.3 538.7,761.3 539.2,763.4 539.8,760.4 540.4,759.7 540.9,760.7 541.5,759.9 542.0,761.5 542.6,761.8 543.1,763.3 543.7,759.9 544.2,759.4 544.8,761.9 545.3,759.7 545.9,760.1 546.4,760.0 547.0,759.8 547.5,762.0 548.1,758.3 548.6,759.9 549.2,762.3 549.7,762.7 550.2,759.5 550.8,760.4 551.4,761.0 551.9,760.3 552.5,761.4 553.0,761.4 553.6,762.7 554.1,762.1 554.7,762.8 555.2,760.5 555.8,760.0 556.3,759.9 556.9,762.2 557.4,759.2 558.0,762.3 558.5,760.0 559.1,760.4 559.6,760.6 560.2,757.8 560.7,761.1 561.2,759.8 561.8,760.4 562.4,759.2 562.9,760.3 563.5,763.0 564.0,759.4 564.6,758.8 565.1,762.5 565.7,761.4 566.2,760.7 566.8,758.9 567.3,761.8 567.9,759.6 568.4,761.6 569.0,759.0 569.5,761.9 570.1,758.8 570.6,759.4 571.2,760.2 571.7,762.5 572.2,762.4 572.8,759.8 573.4,759.7 573.9,760.2 574.5,760.8 575.0,760.8 575.6,759.7 576.1,762.1 576.7,762.1 577.2,762.1 577.8,761.5 578.3,761.3 578.9,759.3 579.4,761.0 580.0,762.1 580.5,759.9 581.1,759.3 581.6,759.5 582.2,760.4 582.7,760.0 583.2,758.9 583.8,759.8 584.4,762.8 584.9,759.7 585.5,760.3 586.0,759.1 586.6,759.7 587.1,761.5 587.7,757.8 588.2,758.9 588.8,761.2 589.3,760.5 589.9,761.7 590.4,760.0 591.0,759.8 591.5,761.6 592.1,760.8 592.6,760.9 593.2,761.3 593.7,759.8 594.2,762.1 594.8,760.3 595.4,761.6 595.9,761.5 596.5,759.2 597.0,759.3 597.6,762.2 598.1,763.8 598.7,756.0 599.2,762.0 599.8,761.4 600.3,760.5 600.9,758.9 601.4,761.1 602.0,762.0 602.5,764.3 603.1,759.5 603.6,759.8 604.2,760.9 604.7,760.5 605.2,760.8 605.8,760.2 606.4,758.7 606.9,759.5 607.5,761.1 608.0,760.6 608.6,758.6 609.1,761.7 609.7,759.1 610.2,763.3 610.8,761.6 611.3,761.4 611.9,759.5 612.4,758.0 613.0,759.8 613.5,762.0 614.1,760.1 614.6,760.6 615.2,760.3 615.7,762.6 616.2,759.8 616.8,759.7 617.4,758.1 617.9,760.4 618.5,760.9 619.0,760.2 619.6,762.5 620.1,761.4 620.7,758.1 621.2,759.8 621.8,762.5 622.3,758.9 622.9,762.1 623.4,763.8 624.0,762.6 624.5,760.1 625.1,759.6 625.6,760.1 626.2,760.3 626.7,759.1 627.2,760.7 627.8,757.0 628.4,761.8 628.9,762.5 629.5,760.6 630.0,758.8 630.6,760.3 631.1,761.0 631.7,759.3 632.2,760.5 632.8,761.2 633.3,761.1 633.9,761.4 634.4,762.9 635.0,760.3 635.5,761.1 636.1,762.2 636.6,759.4 637.2,758.8 637.7,760.3 638.2,760.5 638.8,761.8 639.4,760.1 639.9,759.8 640.5,760.9 641.0,762.9 641.6,760.5 642.1,762.8 642.7,759.1 643.2,761.4 643.8,758.7 644.3,758.4" fill="none" stroke="#3a3a3a" stroke-width="0.8" />
<path d="M41.5,760.5 43.5,760.5 45.5,760.5 47.5,760.5 49.5,760.5 51.5,760.5 53.5,760.5 55.5,760.5 57.5,760.5 59.5,760.5 61.5,760.5 63.5,760.5 65.5,760.5 67.5,760.5 69.5,760.5 71.5,760.5 73.5,760.5 75.5,760.5 77.5,760.5 79.5,760.5 81.5,760.5 83.5,760.5 85.5,760.5 87.5,760.4 89.5,760.4 91.5,760.4 93.5,760.4 95.5,760.4 97.5,760.4 99.5,760.4 101.5,760.4 103.5,760.4 105.5,760.4 107.5,760.4 109.5,760.4 111.5,760.4 113.5,760.4 115.5,760.3 117.5,760.3 119.5,760.3 121.5,760.3 123.5,760.3 125.5,760.3 127.5,760.3 129.5,760.3 131.5,760.2 133.5,760.2 135.5,760.2 137.5,760.2 139.5,760.2 141.5,760.1 143.5,760.1 145.5,760.1 147.5,760.1 149.5,760.0 151.5,760.0 153.5,760.0 155.5,759.9 157.5,759.9 159.5,759.8 161.5,759.7 163.5,759.7 165.5,759.6 167.5,759.5 169.5,759.4 171.5,759.3 173.5,759.2 175.5,759.1 177.5,759.0 179.5,758.8 181.5,758.7 183.5,758.5 185.5,758.3 187.5,758.1 189.5,757.9 191.5,757.7 193.5,757.4 195.5,757.2 197.5,756.9 199.5,756.6 201.5,756.2 203.5,755.9 205.5,755.5 207.5,755.1 209.5,754.7 211.5,754.3 213.5,753.8 215.5,753.4 217.5,752.9 219.5,752.4 221.5,751.9 223.5,751.3 225.5,750.8 227.5,750.2 229.5,749.7 231.5,749.1 233.5,748.5 235.5,747.9 237.5,747.3 239.5,746.7 241.5,746.2 243.5,745.6 245.5,745.0 247.5,744.5 249.5,743.9 251.5,743.4 253.5,742.9 255.5,742.4 257.5,742.0 259.5,741.5 261.5,741.1 263.5,740.7 265.5,740.3 267.5,739.9 269.5,739.6 271.5,739.2 273.5,738.8 275.5,738.4 277.5,738.1 279.5,737.7 281.5,737.3 283.5,736.8 285.5,736.4 287.5,735.9 289.5,735.4 291.5,734.8 293.5,734.3 295.5,733.7 297.5,733.0 299.5,732.4 301.5,731.7 303.5,731.0 305.5,730.3 307.5,729.5 309.5,728.8 311.5,728.0 313.5,727.2 315.5,726.5 317.5,725.7 319.5,724.9 321.5,724.2 323.5,723.5 325.5,722.8 327.5,722.1 329.5,721.5 331.5,720.9 333.5,720.4 335.5,719.9 337.5,719.5 339.5,719.1 341.5,718.8 343.5,718.6 345.5,718.4 347.5,718.3 349.5,718.3 351.5,718.3 353.5,718.4 355.5,718.6 357.5,718.8 359.5,719.1 361.5,719.4 363.5,719.8 365.5,720.2 367.5,720.7 369.5,721.2 371.5,721.8 373.5,722.4 375.5,723.0 377.5,723.7 379.5,724.4 381.5,725.1 383.5,725.8 385.5,726.5 387.5,727.3 389.5,728.0 391.5,728.8 393.5,729.6 395.5,730.4 397.5,731.2 399.5,732.1 401.5,732.9 403.5,733.8 405.5,734.7 407.5,735.6 409.5,736.5 411.5,737.4 413.5,738.4 415.5,739.3 417.5,740.3 419.5,741.2 421.5,742.2 423.5,743.2 425.5,744.2 427.5,745.1 429.5,746.1 431.5,747.0 433.5,748.0 435.5,748.9 437.5,749.8 439.5,750.6 441.5,751.4 443.5,752.2 445.5,753.0 447.5,753.7 449.5,754.3 451.5,755.0 453.5,755.5 455.5,756.1 457.5,756.6 459.5,757.0 461.5,757.5 463.5,757.8 465.5,758.2 467.5,758.5 469.5,758.8 471.5,759.0 473.5,759.2 475.5,759.4 477.5,759.6 479.5,759.7 481.5,759.9 483.5,760.0 485.5,760.1 487.5,760.1 489.5,760.2 491.5,760.3 493.5,760.3 495.5,760.4 497.5,760.4 499.5,760.4 501.5,760.5 503.5,760.5 505.5,760.5 507.5,760.5 509.5,760.5 511.5,760.5 513.5,760.5 515.5,760.6 517.5,760.6 519.5,760.6 521.5,760.6 523.5,760.6 525.5,760.6 527.5,760.6 529.5,760.6 531.5,760.6 533.5,760.6 535.5,760.6 537.5,760.6 539.5,760.6 541.5,760.6 543.5,760.6 545.5,760.6 547.5,760.6 549.5,760.6 551.5,760.6 553.5,760.6 555.5,760.6 557.5,760.6 559.5,760.6 561.5,760.6 563.5,760.6 565.5,760.6 567.5,760.6 569.5,760.6 571.5,760.6 573.5,760.6 575.5,760.6 577.5,760.6 579.5,760.6 581.5,760.6 583.5,760.6 585.5,760.6 587.5,760.6 589.5,760.6 591.5,760.6 593.5,760.6 595.5,760.6 597.5,760.6 599.5,760.6 601.5,760.6 603.5,760.6 605.5,760.6 607.5,760.6 609.5,760.6 611.5,760.6 613.5,760.6 615.5,760.6 617.5,760.6 619.5,760.6 621.5,760.6 623.5,760.6 625.5,760.6 627.5,760.6 629.5,760.6 631.5,760.6 633.5,760.6 635.5,760.6 637.5,760.6 639.5,760.6 641.5,760.6 643.5,760.6" fill="none" stroke="#a374e6" stroke-width="1.3" />
<text x="668.8" y="769.9" font-size="32.3" textLength="103.95" lengthAdjust="spacingAndGlyphs" >−0.85 V</text>
<path d="M109.5,834.3 111.5,834.3 113.5,834.3 115.5,834.3 117.5,834.3 119.5,834.3 121.5,834.3 123.5,834.3 125.5,834.2 127.5,834.2 129.5,834.2 131.5,834.2 133.5,834.2 135.5,834.2 137.5,834.1 139.5,834.1 141.5,834.1 143.5,834.1 145.5,834.0 147.5,834.0 149.5,833.9 151.5,833.9 153.5,833.9 155.5,833.8 157.5,833.8 159.5,833.7 161.5,833.6 163.5,833.6 165.5,833.5 167.5,833.4 169.5,833.3 171.5,833.2 173.5,833.1 175.5,832.9 177.5,832.8 179.5,832.6 181.5,832.5 183.5,832.3 185.5,832.1 187.5,831.9 189.5,831.6 191.5,831.4 193.5,831.1 195.5,830.8 197.5,830.5 199.5,830.2 201.5,829.8 203.5,829.4 205.5,829.0 207.5,828.6 209.5,828.2 211.5,827.8 213.5,827.3 215.5,826.8 217.5,826.3 219.5,825.8 221.5,825.3 223.5,824.8 225.5,824.3 227.5,823.7 229.5,823.2 231.5,822.7 233.5,822.2 235.5,821.7 237.5,821.2 239.5,820.7 241.5,820.3 243.5,819.9 245.5,819.5 247.5,819.2 249.5,818.9 251.5,818.6 253.5,818.4 255.5,818.3 257.5,818.2 259.5,818.2 261.5,818.2 263.5,818.3 265.5,818.5 267.5,818.7 269.5,818.9 271.5,819.2 273.5,819.5 275.5,819.9 277.5,820.3 279.5,820.8 281.5,821.2 283.5,821.7 285.5,822.2 287.5,822.7 289.5,823.3 291.5,823.8 293.5,824.3 295.5,824.8 297.5,825.4 299.5,825.9 301.5,826.4 303.5,826.9 305.5,827.3 307.5,827.8 309.5,828.2 311.5,828.7 313.5,829.1 315.5,829.5 317.5,829.8 319.5,830.2 321.5,830.5 323.5,830.8 325.5,831.1 327.5,831.4 329.5,831.6 331.5,831.9 333.5,832.1 335.5,832.3 337.5,832.5 339.5,832.6 341.5,832.8 343.5,832.9 345.5,833.1 347.5,833.2 349.5,833.3 351.5,833.4 353.5,833.5 355.5,833.6 357.5,833.6 359.5,833.7 361.5,833.8 363.5,833.8 365.5,833.9 367.5,833.9 369.5,834.0 371.5,834.0 373.5,834.0 375.5,834.1 377.5,834.1 379.5,834.1 381.5,834.1 383.5,834.2 385.5,834.2 387.5,834.2 389.5,834.2 391.5,834.2 393.5,834.2 395.5,834.3 397.5,834.3 399.5,834.3 401.5,834.3 403.5,834.3 405.5,834.3 407.5,834.3 409.5,834.3 L409.5,834.7 L109.5,834.7Z" fill="#ee3a44" stroke="none" stroke-width="1" />
<path d="M199.5,834.6 201.5,834.6 203.5,834.6 205.5,834.6 207.5,834.6 209.5,834.5 211.5,834.5 213.5,834.5 215.5,834.4 217.5,834.4 219.5,834.4 221.5,834.3 223.5,834.2 225.5,834.2 227.5,834.1 229.5,834.0 231.5,833.9 233.5,833.8 235.5,833.7 237.5,833.5 239.5,833.4 241.5,833.2 243.5,833.0 245.5,832.8 247.5,832.6 249.5,832.3 251.5,832.0 253.5,831.7 255.5,831.4 257.5,831.0 259.5,830.6 261.5,830.2 263.5,829.7 265.5,829.2 267.5,828.7 269.5,828.1 271.5,827.5 273.5,826.8 275.5,826.1 277.5,825.4 279.5,824.6 281.5,823.8 283.5,822.9 285.5,822.0 287.5,821.1 289.5,820.1 291.5,819.1 293.5,818.1 295.5,817.1 297.5,816.0 299.5,814.9 301.5,813.8 303.5,812.6 305.5,811.5 307.5,810.3 309.5,809.2 311.5,808.1 313.5,806.9 315.5,805.8 317.5,804.7 319.5,803.7 321.5,802.7 323.5,801.7 325.5,800.8 327.5,799.9 329.5,799.1 331.5,798.3 333.5,797.6 335.5,797.0 337.5,796.5 339.5,796.0 341.5,795.6 343.5,795.3 345.5,795.1 347.5,795.0 349.5,795.0 351.5,795.1 353.5,795.2 355.5,795.5 357.5,795.8 359.5,796.2 361.5,796.7 363.5,797.3 365.5,797.9 367.5,798.7 369.5,799.5 371.5,800.3 373.5,801.2 375.5,802.2 377.5,803.2 379.5,804.2 381.5,805.3 383.5,806.4 385.5,807.5 387.5,808.6 389.5,809.8 391.5,810.9 393.5,812.1 395.5,813.2 397.5,814.3 399.5,815.4 401.5,816.5 403.5,817.6 405.5,818.6 407.5,819.7 409.5,820.6 411.5,821.6 413.5,822.5 415.5,823.4 417.5,824.2 419.5,825.0 421.5,825.8 423.5,826.5 425.5,827.1 427.5,827.8 429.5,828.4 431.5,828.9 433.5,829.5 435.5,829.9 437.5,830.4 439.5,830.8 441.5,831.2 443.5,831.5 445.5,831.9 447.5,832.2 449.5,832.4 451.5,832.7 453.5,832.9 455.5,833.1 457.5,833.3 459.5,833.5 461.5,833.6 463.5,833.7 465.5,833.9 467.5,834.0 469.5,834.1 471.5,834.1 473.5,834.2 475.5,834.3 477.5,834.3 479.5,834.4 481.5,834.4 483.5,834.5 485.5,834.5 487.5,834.5 489.5,834.6 491.5,834.6 493.5,834.6 495.5,834.6 497.5,834.6 499.5,834.6 L499.5,834.7 L199.5,834.7Z" fill="url(#gBlueA)" stroke="none" stroke-width="1" fill-opacity="0.5"/>
<path d="M315.5,834.7 317.5,834.7 319.5,834.7 321.5,834.7 323.5,834.7 325.5,834.6 327.5,834.6 329.5,834.6 331.5,834.6 333.5,834.6 335.5,834.5 337.5,834.5 339.5,834.5 341.5,834.4 343.5,834.3 345.5,834.3 347.5,834.2 349.5,834.1 351.5,834.0 353.5,833.9 355.5,833.7 357.5,833.5 359.5,833.4 361.5,833.1 363.5,832.9 365.5,832.7 367.5,832.4 369.5,832.1 371.5,831.8 373.5,831.4 375.5,831.1 377.5,830.7 379.5,830.3 381.5,829.9 383.5,829.5 385.5,829.1 387.5,828.7 389.5,828.3 391.5,827.8 393.5,827.5 395.5,827.1 397.5,826.7 399.5,826.4 401.5,826.2 403.5,825.9 405.5,825.7 407.5,825.6 409.5,825.5 411.5,825.4 413.5,825.4 415.5,825.5 417.5,825.6 419.5,825.7 421.5,825.9 423.5,826.1 425.5,826.4 427.5,826.7 429.5,827.1 431.5,827.4 433.5,827.8 435.5,828.2 437.5,828.6 439.5,829.0 441.5,829.5 443.5,829.9 445.5,830.3 447.5,830.7 449.5,831.0 451.5,831.4 453.5,831.7 455.5,832.1 457.5,832.4 459.5,832.6 461.5,832.9 463.5,833.1 465.5,833.3 467.5,833.5 469.5,833.7 471.5,833.8 473.5,834.0 475.5,834.1 477.5,834.2 479.5,834.3 481.5,834.3 483.5,834.4 485.5,834.5 487.5,834.5 489.5,834.5 491.5,834.6 493.5,834.6 495.5,834.6 497.5,834.6 499.5,834.6 501.5,834.7 503.5,834.7 505.5,834.7 507.5,834.7 509.5,834.7 L509.5,834.7 L315.5,834.7Z" fill="#2e8b3c" stroke="none" stroke-width="1" />
<line x1="155" y1="834.7" x2="505" y2="834.7" stroke="#3d9a62" stroke-width="1.4" />
<path d="M199.5,834.6 201.5,834.6 203.5,834.6 205.5,834.6 207.5,834.6 209.5,834.5 211.5,834.5 213.5,834.5 215.5,834.4 217.5,834.4 219.5,834.4 221.5,834.3 223.5,834.2 225.5,834.2 227.5,834.1 229.5,834.0 231.5,833.9 233.5,833.8 235.5,833.7 237.5,833.5 239.5,833.4 241.5,833.2 243.5,833.0 245.5,832.8 247.5,832.6 249.5,832.3 251.5,832.0 253.5,831.7 255.5,831.4 257.5,831.0 259.5,830.6 261.5,830.2 263.5,829.7 265.5,829.2 267.5,828.7 269.5,828.1 271.5,827.5 273.5,826.8 275.5,826.1 277.5,825.4 279.5,824.6 281.5,823.8 283.5,822.9 285.5,822.0 287.5,821.1 289.5,820.1 291.5,819.1 293.5,818.1 295.5,817.1 297.5,816.0 299.5,814.9 301.5,813.8 303.5,812.6 305.5,811.5 307.5,810.3 309.5,809.2 311.5,808.1 313.5,806.9 315.5,805.8 317.5,804.7 319.5,803.7 321.5,802.7 323.5,801.7 325.5,800.8 327.5,799.9 329.5,799.1 331.5,798.3 333.5,797.6 335.5,797.0 337.5,796.5 339.5,796.0 341.5,795.6 343.5,795.3 345.5,795.1 347.5,795.0 349.5,795.0 351.5,795.1 353.5,795.2 355.5,795.5 357.5,795.8 359.5,796.2 361.5,796.7 363.5,797.3 365.5,797.9 367.5,798.7 369.5,799.5 371.5,800.3 373.5,801.2 375.5,802.2 377.5,803.2 379.5,804.2 381.5,805.3 383.5,806.4 385.5,807.5 387.5,808.6 389.5,809.8 391.5,810.9 393.5,812.1 395.5,813.2 397.5,814.3 399.5,815.4 401.5,816.5 403.5,817.6 405.5,818.6 407.5,819.7 409.5,820.6 411.5,821.6 413.5,822.5 415.5,823.4 417.5,824.2 419.5,825.0 421.5,825.8 423.5,826.5 425.5,827.1 427.5,827.8 429.5,828.4 431.5,828.9 433.5,829.5 435.5,829.9 437.5,830.4 439.5,830.8 441.5,831.2 443.5,831.5 445.5,831.9 447.5,832.2 449.5,832.4 451.5,832.7 453.5,832.9 455.5,833.1 457.5,833.3 459.5,833.5 461.5,833.6 463.5,833.7 465.5,833.9 467.5,834.0 469.5,834.1 471.5,834.1 473.5,834.2 475.5,834.3 477.5,834.3 479.5,834.4 481.5,834.4 483.5,834.5 485.5,834.5 487.5,834.5 489.5,834.6 491.5,834.6 493.5,834.6 495.5,834.6 497.5,834.6 499.5,834.6" fill="none" stroke="#2b3cf0" stroke-width="1.1" />
<path d="M41.5,832.8 42.0,833.7 42.6,834.0 43.1,833.2 43.7,832.8 44.2,834.0 44.8,835.5 45.4,836.5 45.9,836.5 46.5,834.6 47.0,833.7 47.5,836.1 48.1,833.9 48.6,834.1 49.2,833.5 49.8,833.4 50.3,834.0 50.9,835.0 51.4,835.3 52.0,836.8 52.5,834.0 53.0,833.5 53.6,836.6 54.1,834.8 54.7,835.0 55.2,835.5 55.8,835.7 56.4,835.8 56.9,837.3 57.5,834.4 58.0,835.5 58.5,835.2 59.1,834.2 59.7,834.7 60.2,833.6 60.8,835.6 61.3,832.7 61.9,835.6 62.4,836.3 63.0,833.9 63.5,834.1 64.0,832.0 64.6,835.6 65.2,833.9 65.7,832.1 66.2,835.0 66.8,834.8 67.3,834.1 67.9,834.9 68.5,836.7 69.0,835.7 69.5,836.8 70.1,835.3 70.7,834.6 71.2,835.2 71.8,834.1 72.3,834.4 72.8,834.3 73.4,834.0 74.0,836.2 74.5,836.0 75.1,835.3 75.6,835.3 76.2,832.1 76.7,834.9 77.2,832.8 77.8,834.6 78.3,833.3 78.9,834.3 79.5,833.9 80.0,833.2 80.6,834.9 81.1,833.8 81.7,834.5 82.2,834.1 82.8,834.5 83.3,834.2 83.8,834.8 84.4,834.5 85.0,834.8 85.5,833.2 86.1,833.8 86.6,837.1 87.2,832.0 87.7,835.2 88.2,836.3 88.8,834.5 89.3,833.5 89.9,833.7 90.5,832.9 91.0,833.0 91.6,834.6 92.1,833.6 92.7,833.3 93.2,835.6 93.8,833.3 94.3,836.1 94.8,834.2 95.4,834.4 96.0,834.0 96.5,835.5 97.1,831.3 97.6,833.0 98.2,834.6 98.7,834.0 99.2,833.9 99.8,834.7 100.3,834.6 100.9,833.9 101.5,835.3 102.0,835.2 102.6,833.1 103.1,834.0 103.7,834.0 104.2,831.7 104.8,836.3 105.3,833.3 105.9,836.5 106.4,834.1 107.0,832.5 107.5,835.4 108.1,834.5 108.6,835.2 109.2,836.2 109.7,835.6 110.2,835.6 110.8,834.7 111.4,835.6 111.9,834.5 112.5,834.9 113.0,834.8 113.6,834.5 114.1,835.3 114.7,832.7 115.2,834.7 115.8,835.4 116.3,832.2 116.9,833.5 117.4,836.7 118.0,834.7 118.5,835.1 119.1,832.8 119.6,833.0 120.2,837.3 120.7,830.5 121.2,836.4 121.8,835.3 122.4,834.8 122.9,833.3 123.5,834.9 124.0,838.0 124.6,833.7 125.1,833.3 125.7,832.6 126.2,834.2 126.8,833.4 127.3,834.9 127.9,832.6 128.4,833.7 128.9,836.3 129.5,834.2 130.1,834.5 130.6,834.9 131.2,833.5 131.7,832.1 132.2,834.5 132.8,834.5 133.4,832.5 133.9,837.2 134.4,834.9 135.0,836.7 135.6,836.2 136.1,835.4 136.7,835.4 137.2,834.9 137.8,832.9 138.3,833.8 138.9,833.8 139.4,835.5 139.9,836.6 140.5,836.3 141.1,834.3 141.6,833.0 142.2,835.1 142.7,834.8 143.2,833.5 143.8,833.7 144.4,836.4 144.9,832.3 145.4,834.8 146.0,834.3 146.6,836.0 147.1,832.0 147.7,833.7 148.2,832.9 148.8,832.5 149.3,833.1 149.9,835.1 150.4,832.3 150.9,834.5 151.5,833.1 152.1,834.8 152.6,835.4 153.2,834.1 153.7,832.8 154.2,834.1 154.8,834.3 155.4,834.1 155.9,836.5 156.4,835.5 157.0,834.4 157.6,831.7 158.1,831.5 158.7,832.0 159.2,833.2 159.8,831.6 160.3,831.2 160.9,834.2 161.4,835.5 161.9,833.4 162.5,833.3 163.1,834.0 163.6,835.5 164.2,833.1 164.7,832.5 165.2,835.2 165.8,832.4 166.4,835.5 166.9,834.9 167.5,832.2 168.0,834.8 168.6,834.8 169.1,830.2 169.7,834.6 170.2,832.7 170.8,831.5 171.3,834.7 171.9,834.0 172.4,833.0 173.0,834.0 173.5,832.6 174.1,834.1 174.6,834.7 175.2,832.8 175.7,832.9 176.2,831.8 176.8,832.7 177.4,833.6 177.9,831.4 178.5,832.3 179.0,835.2 179.6,831.5 180.1,832.8 180.7,832.4 181.2,832.7 181.8,832.5 182.3,831.7 182.9,836.4 183.4,831.6 184.0,832.4 184.5,831.8 185.1,832.1 185.6,833.7 186.2,831.2 186.7,831.1 187.2,831.0 187.8,832.1 188.4,830.7 188.9,832.3 189.5,831.9 190.0,832.7 190.6,831.4 191.1,833.2 191.7,831.8 192.2,829.9 192.8,830.7 193.3,830.0 193.9,832.2 194.4,829.4 195.0,832.3 195.5,831.5 196.1,831.3 196.6,829.5 197.2,830.2 197.7,830.8 198.2,830.3 198.8,831.7 199.4,827.9 199.9,829.5 200.5,830.2 201.0,828.4 201.6,830.0 202.1,828.4 202.7,831.5 203.2,831.2 203.8,830.5 204.3,828.4 204.9,830.7 205.4,826.7 206.0,828.3 206.5,826.8 207.1,825.1 207.6,829.6 208.2,828.5 208.7,828.6 209.2,829.7 209.8,828.3 210.4,828.7 210.9,827.6 211.5,827.6 212.0,827.0 212.6,825.7 213.1,827.5 213.7,824.8 214.2,827.1 214.8,826.8 215.3,826.7 215.9,826.5 216.4,823.0 217.0,825.2 217.5,826.1 218.1,825.0 218.6,825.4 219.2,827.1 219.7,827.0 220.3,825.8 220.8,826.0 221.4,826.2 221.9,826.8 222.5,824.2 223.0,823.9 223.6,823.6 224.1,825.4 224.7,825.5 225.2,825.3 225.8,822.9 226.3,822.3 226.9,824.1 227.4,821.5 228.0,822.7 228.5,822.2 229.1,822.5 229.6,821.8 230.2,824.0 230.7,823.2 231.3,821.2 231.8,822.4 232.4,821.1 232.9,821.1 233.5,818.5 234.0,824.9 234.6,821.3 235.1,818.1 235.7,821.1 236.2,819.8 236.8,820.8 237.3,819.0 237.9,820.5 238.4,819.9 239.0,819.1 239.5,820.0 240.1,821.4 240.6,818.0 241.2,820.9 241.7,821.0 242.3,819.6 242.8,818.9 243.4,816.8 243.9,819.7 244.5,818.5 245.0,816.8 245.6,817.7 246.1,817.1 246.7,818.0 247.2,816.3 247.8,818.2 248.3,818.1 248.9,818.6 249.4,818.3 250.0,817.2 250.5,814.2 251.1,814.8 251.6,814.0 252.2,815.8 252.7,818.1 253.3,814.9 253.8,814.9 254.4,815.5 254.9,814.2 255.5,814.1 256.0,814.5 256.6,814.7 257.1,813.7 257.6,814.5 258.2,815.1 258.8,813.5 259.3,811.4 259.9,813.8 260.4,813.5 261.0,817.2 261.5,812.7 262.1,812.2 262.6,813.7 263.1,812.9 263.7,813.0 264.2,812.2 264.8,813.3 265.4,815.5 265.9,814.6 266.5,812.6 267.0,812.8 267.6,811.7 268.1,812.6 268.6,814.1 269.2,811.0 269.8,812.3 270.3,810.8 270.9,812.4 271.4,812.7 272.0,811.6 272.5,811.3 273.1,812.7 273.6,809.9 274.1,813.0 274.7,813.0 275.2,812.8 275.8,812.3 276.4,810.0 276.9,808.3 277.5,809.8 278.0,811.3 278.6,810.4 279.1,805.8 279.6,807.7 280.2,808.8 280.8,808.5 281.3,809.9 281.9,811.1 282.4,809.6 283.0,809.4 283.5,812.1 284.1,810.0 284.6,809.6 285.1,812.4 285.7,806.3 286.2,809.1 286.8,808.3 287.4,811.1 287.9,808.5 288.5,808.8 289.0,805.8 289.6,809.6 290.1,809.0 290.7,808.3 291.2,808.3 291.8,808.7 292.3,808.1 292.9,806.5 293.4,806.8 294.0,809.2 294.5,803.4 295.1,806.7 295.6,807.4 296.2,805.7 296.7,807.2 297.2,806.8 297.8,807.1 298.4,805.3 298.9,806.5 299.5,807.7 300.0,805.4 300.6,807.8 301.1,805.8 301.7,806.9 302.2,805.6 302.8,806.2 303.3,804.6 303.9,804.7 304.4,801.6 305.0,804.2 305.5,804.9 306.1,805.0 306.6,802.5 307.2,803.7 307.7,805.8 308.2,802.5 308.8,799.4 309.4,802.5 309.9,801.8 310.5,800.5 311.0,802.7 311.6,801.4 312.1,801.5 312.7,802.4 313.2,801.5 313.8,800.5 314.3,800.8 314.9,798.4 315.4,802.6 316.0,800.7 316.5,798.7 317.1,799.1 317.6,798.1 318.2,798.6 318.7,799.8 319.2,799.7 319.8,798.9 320.4,798.0 320.9,797.5 321.5,799.5 322.0,798.8 322.6,798.5 323.1,797.4 323.7,797.3 324.2,796.9 324.8,798.2 325.3,797.9 325.9,797.1 326.4,797.8 327.0,793.6 327.5,797.8 328.1,796.9 328.6,796.7 329.2,794.4 329.7,797.2 330.2,794.7 330.8,793.6 331.4,795.9 331.9,796.8 332.5,797.1 333.0,794.5 333.6,795.9 334.1,794.0 334.7,794.0 335.2,795.1 335.8,794.8 336.3,792.5 336.9,794.7 337.4,794.3 338.0,793.0 338.5,793.8 339.1,792.7 339.6,794.1 340.2,794.9 340.7,792.2 341.2,794.0 341.8,793.3 342.4,797.0 342.9,795.3 343.5,794.3 344.0,791.3 344.6,793.4 345.1,790.3 345.7,792.5 346.2,794.9 346.8,792.3 347.3,794.9 347.9,792.2 348.4,793.4 349.0,794.5 349.5,792.8 350.1,792.3 350.6,793.8 351.2,793.4 351.7,792.0 352.2,794.5 352.8,793.3 353.4,794.2 353.9,792.5 354.5,793.4 355.0,793.8 355.6,795.6 356.1,795.5 356.7,792.4 357.2,793.6 357.8,793.1 358.3,791.6 358.9,794.0 359.4,793.2 360.0,792.5 360.5,794.8 361.1,795.2 361.6,793.4 362.2,796.0 362.7,794.8 363.2,792.8 363.8,792.1 364.4,794.7 364.9,795.8 365.5,794.3 366.0,794.1 366.6,794.4 367.1,796.2 367.7,796.7 368.2,797.6 368.8,796.2 369.3,797.0 369.9,796.1 370.4,799.1 371.0,796.1 371.5,795.9 372.1,795.7 372.6,799.1 373.2,797.1 373.7,797.4 374.2,795.9 374.8,796.3 375.4,795.5 375.9,799.3 376.5,800.0 377.0,798.7 377.6,798.6 378.1,795.3 378.7,797.5 379.2,799.4 379.8,798.5 380.3,800.7 380.9,799.4 381.4,799.4 382.0,801.2 382.5,801.8 383.1,801.1 383.6,801.1 384.2,802.1 384.7,800.9 385.2,799.8 385.8,800.9 386.4,801.0 386.9,802.8 387.5,802.4 388.0,802.3 388.6,803.2 389.1,799.3 389.7,804.4 390.2,802.1 390.8,801.8 391.3,802.5 391.9,801.8 392.4,803.2 393.0,804.0 393.5,804.7 394.1,805.6 394.6,806.0 395.2,805.1 395.7,802.3 396.3,804.2 396.8,805.8 397.4,805.9 397.9,807.8 398.5,805.9 399.0,807.3 399.6,806.2 400.1,802.5 400.7,806.1 401.2,804.9 401.8,808.1 402.3,810.5 402.9,807.2 403.4,809.4 404.0,810.2 404.5,808.9 405.1,809.4 405.6,811.2 406.2,810.5 406.7,810.8 407.3,809.4 407.8,811.9 408.4,810.3 408.9,810.3 409.5,808.6 410.0,812.8 410.6,812.0 411.1,811.6 411.7,812.4 412.2,813.7 412.8,811.3 413.3,812.2 413.9,813.9 414.4,812.3 415.0,812.5 415.5,814.2 416.1,813.6 416.6,813.9 417.2,815.7 417.7,819.1 418.3,817.3 418.8,814.8 419.4,816.6 419.9,817.6 420.5,815.2 421.0,816.9 421.6,819.5 422.1,816.2 422.7,816.2 423.2,817.3 423.8,817.3 424.3,817.4 424.9,817.4 425.4,819.6 426.0,817.6 426.5,819.2 427.1,818.8 427.6,819.8 428.2,821.6 428.7,820.8 429.3,820.1 429.8,820.8 430.4,820.7 430.9,821.2 431.5,820.6 432.0,823.7 432.6,824.0 433.1,819.0 433.7,822.1 434.2,824.2 434.8,823.5 435.3,821.9 435.9,824.5 436.4,824.6 437.0,824.5 437.5,824.2 438.1,825.3 438.6,825.8 439.2,824.1 439.7,824.7 440.3,826.1 440.8,826.7 441.4,826.0 441.9,824.7 442.5,827.8 443.0,824.4 443.6,820.9 444.1,823.4 444.7,827.2 445.2,825.7 445.8,829.6 446.3,829.1 446.9,828.0 447.4,826.5 448.0,825.7 448.5,830.0 449.1,828.7 449.6,827.7 450.2,830.6 450.7,828.4 451.3,828.8 451.8,829.3 452.4,830.3 452.9,832.0 453.5,829.6 454.0,829.0 454.6,830.6 455.1,831.5 455.7,832.3 456.2,829.9 456.8,830.0 457.3,829.7 457.9,833.8 458.4,831.1 459.0,831.6 459.5,829.7 460.1,831.1 460.6,831.0 461.2,830.0 461.7,832.6 462.3,830.2 462.8,831.9 463.4,831.2 463.9,833.3 464.5,830.9 465.0,833.0 465.6,830.5 466.1,833.7 466.7,831.9 467.2,831.2 467.8,832.9 468.3,832.5 468.9,832.1 469.4,833.4 470.0,834.5 470.5,834.2 471.1,834.7 471.6,832.3 472.2,834.6 472.7,833.0 473.3,834.0 473.8,832.5 474.4,833.4 474.9,834.4 475.5,833.1 476.0,834.6 476.6,832.0 477.1,831.8 477.7,835.1 478.2,833.8 478.8,835.1 479.3,831.9 479.9,833.9 480.4,834.3 481.0,833.7 481.5,833.9 482.1,836.3 482.6,835.3 483.2,833.9 483.7,834.7 484.3,835.1 484.8,835.3 485.4,834.1 485.9,834.1 486.5,833.0 487.0,833.7 487.6,833.5 488.1,834.7 488.7,835.9 489.2,836.3 489.8,834.7 490.3,833.3 490.9,833.7 491.4,835.3 492.0,833.8 492.5,834.0 493.1,832.8 493.6,833.6 494.2,833.2 494.7,834.7 495.3,836.3 495.8,834.8 496.4,834.2 496.9,836.1 497.5,831.8 498.0,834.4 498.6,833.3 499.1,833.7 499.7,835.3 500.2,835.2 500.8,833.4 501.3,834.1 501.9,834.8 502.4,834.4 503.0,833.0 503.5,836.9 504.1,833.2 504.6,833.3 505.2,834.2 505.7,835.0 506.3,835.6 506.8,834.3 507.4,832.8 507.9,833.2 508.5,834.1 509.0,836.2 509.6,835.2 510.1,835.7 510.7,834.9 511.2,835.6 511.8,835.3 512.3,835.3 512.9,832.8 513.4,833.9 514.0,832.9 514.5,833.0 515.0,835.7 515.6,833.7 516.2,834.1 516.7,834.8 517.2,832.6 517.8,833.0 518.4,835.0 518.9,833.3 519.5,835.2 520.0,834.6 520.5,833.8 521.1,834.8 521.7,833.1 522.2,836.9 522.8,835.3 523.3,834.9 523.9,834.8 524.4,835.9 525.0,836.1 525.5,833.8 526.0,835.8 526.6,833.8 527.2,833.2 527.7,834.6 528.2,834.1 528.8,834.2 529.4,833.9 529.9,837.1 530.5,837.7 531.0,834.1 531.5,835.4 532.1,836.1 532.7,835.4 533.2,835.7 533.8,833.1 534.3,834.5 534.9,832.2 535.4,831.8 536.0,833.8 536.5,834.4 537.1,836.8 537.6,834.5 538.2,838.6 538.7,835.3 539.2,834.8 539.8,834.0 540.4,835.8 540.9,835.7 541.5,833.1 542.0,833.1 542.6,835.4 543.1,833.3 543.7,836.4 544.2,834.9 544.8,833.0 545.3,833.1 545.9,835.2 546.4,833.3 547.0,833.9 547.5,834.3 548.1,835.8 548.6,834.7 549.2,834.0 549.7,832.8 550.2,834.9 550.8,832.9 551.4,834.6 551.9,834.5 552.5,833.2 553.0,835.3 553.6,834.8 554.1,833.3 554.7,834.3 555.2,836.1 555.8,834.1 556.3,834.4 556.9,834.6 557.4,834.8 558.0,831.4 558.5,836.0 559.1,833.6 559.6,833.6 560.2,836.6 560.7,834.4 561.2,835.2 561.8,832.7 562.4,835.5 562.9,833.6 563.5,834.8 564.0,833.8 564.6,835.1 565.1,833.3 565.7,834.5 566.2,833.8 566.8,834.0 567.3,834.5 567.9,834.9 568.4,834.0 569.0,835.1 569.5,836.0 570.1,836.3 570.6,835.5 571.2,832.8 571.7,833.8 572.2,835.5 572.8,834.4 573.4,835.3 573.9,834.7 574.5,835.1 575.0,833.7 575.6,833.0 576.1,835.7 576.7,836.1 577.2,836.2 577.8,834.9 578.3,834.1 578.9,836.1 579.4,835.6 580.0,835.7 580.5,833.4 581.1,831.5 581.6,834.7 582.2,833.1 582.7,834.0 583.2,836.1 583.8,833.6 584.4,835.6 584.9,834.4 585.5,834.0 586.0,833.7 586.6,833.7 587.1,834.9 587.7,832.7 588.2,836.1 588.8,833.4 589.3,836.7 589.9,833.9 590.4,831.5 591.0,832.9 591.5,833.6 592.1,835.0 592.6,834.6 593.2,832.8 593.7,834.1 594.2,836.1 594.8,834.4 595.4,837.2 595.9,835.8 596.5,835.3 597.0,836.6 597.6,832.8 598.1,838.3 598.7,834.6 599.2,833.9 599.8,833.4 600.3,834.8 600.9,834.9 601.4,836.7 602.0,835.4 602.5,836.2 603.1,836.6 603.6,834.2 604.2,834.5 604.7,836.1 605.2,835.6 605.8,834.8 606.4,836.2 606.9,835.5 607.5,835.6 608.0,835.1 608.6,832.6 609.1,834.2 609.7,834.8 610.2,836.9 610.8,834.0 611.3,834.9 611.9,832.9 612.4,833.4 613.0,832.9 613.5,834.3 614.1,833.8 614.6,834.0 615.2,833.9 615.7,834.5 616.2,832.5 616.8,833.5 617.4,834.7 617.9,834.4 618.5,835.4 619.0,834.1 619.6,831.2 620.1,833.9 620.7,833.2 621.2,835.0 621.8,831.6 622.3,835.8 622.9,831.6 623.4,835.2 624.0,835.0 624.5,834.4 625.1,836.8 625.6,834.9 626.2,833.5 626.7,833.8 627.2,834.6 627.8,833.4 628.4,836.2 628.9,837.0 629.5,835.9 630.0,833.4 630.6,834.1 631.1,833.1 631.7,832.9 632.2,833.1 632.8,835.5 633.3,833.4 633.9,835.5 634.4,832.8 635.0,833.0 635.5,835.3 636.1,833.9 636.6,835.2 637.2,835.1 637.7,834.6 638.2,834.3 638.8,834.0 639.4,833.9 639.9,834.0 640.5,835.7 641.0,835.2 641.6,834.4 642.1,835.1 642.7,836.2 643.2,836.5 643.8,835.6 644.3,839.7" fill="none" stroke="#3a3a3a" stroke-width="0.8" />
<path d="M41.5,834.5 43.5,834.5 45.5,834.5 47.5,834.5 49.5,834.5 51.5,834.5 53.5,834.5 55.5,834.5 57.5,834.5 59.5,834.5 61.5,834.5 63.5,834.5 65.5,834.5 67.5,834.5 69.5,834.5 71.5,834.5 73.5,834.5 75.5,834.5 77.5,834.4 79.5,834.4 81.5,834.4 83.5,834.4 85.5,834.4 87.5,834.4 89.5,834.4 91.5,834.4 93.5,834.4 95.5,834.4 97.5,834.4 99.5,834.4 101.5,834.4 103.5,834.4 105.5,834.3 107.5,834.3 109.5,834.3 111.5,834.3 113.5,834.3 115.5,834.3 117.5,834.3 119.5,834.3 121.5,834.3 123.5,834.3 125.5,834.2 127.5,834.2 129.5,834.2 131.5,834.2 133.5,834.2 135.5,834.2 137.5,834.1 139.5,834.1 141.5,834.1 143.5,834.1 145.5,834.0 147.5,834.0 149.5,833.9 151.5,833.9 153.5,833.9 155.5,833.8 157.5,833.8 159.5,833.7 161.5,833.6 163.5,833.6 165.5,833.5 167.5,833.4 169.5,833.3 171.5,833.2 173.5,833.1 175.5,832.9 177.5,832.8 179.5,832.6 181.5,832.4 183.5,832.3 185.5,832.0 187.5,831.8 189.5,831.6 191.5,831.3 193.5,831.0 195.5,830.7 197.5,830.4 199.5,830.1 201.5,829.7 203.5,829.3 205.5,828.9 207.5,828.5 209.5,828.0 211.5,827.6 213.5,827.1 215.5,826.6 217.5,826.0 219.5,825.5 221.5,824.9 223.5,824.3 225.5,823.7 227.5,823.1 229.5,822.5 231.5,821.9 233.5,821.3 235.5,820.6 237.5,820.0 239.5,819.4 241.5,818.8 243.5,818.2 245.5,817.6 247.5,817.0 249.5,816.5 251.5,816.0 253.5,815.5 255.5,815.0 257.5,814.5 259.5,814.1 261.5,813.7 263.5,813.3 265.5,813.0 267.5,812.6 269.5,812.3 271.5,812.0 273.5,811.7 275.5,811.3 277.5,811.0 279.5,810.7 281.5,810.3 283.5,810.0 285.5,809.6 287.5,809.2 289.5,808.7 291.5,808.2 293.5,807.7 295.5,807.2 297.5,806.6 299.5,806.1 301.5,805.4 303.5,804.8 305.5,804.1 307.5,803.4 309.5,802.7 311.5,802.0 313.5,801.3 315.5,800.6 317.5,799.9 319.5,799.1 321.5,798.4 323.5,797.8 325.5,797.1 327.5,796.5 329.5,795.9 331.5,795.4 333.5,794.9 335.5,794.4 337.5,794.0 339.5,793.7 341.5,793.4 343.5,793.2 345.5,793.1 347.5,793.0 349.5,793.0 351.5,793.0 353.5,793.2 355.5,793.3 357.5,793.6 359.5,793.9 361.5,794.2 363.5,794.6 365.5,795.1 367.5,795.6 369.5,796.1 371.5,796.7 373.5,797.3 375.5,797.9 377.5,798.6 379.5,799.2 381.5,799.9 383.5,800.6 385.5,801.3 387.5,802.1 389.5,802.8 391.5,803.6 393.5,804.4 395.5,805.1 397.5,805.9 399.5,806.7 401.5,807.6 403.5,808.4 405.5,809.3 407.5,810.1 409.5,811.0 411.5,811.9 413.5,812.8 415.5,813.8 417.5,814.7 419.5,815.7 421.5,816.6 423.5,817.6 425.5,818.5 427.5,819.5 429.5,820.4 431.5,821.4 433.5,822.3 435.5,823.2 437.5,824.0 439.5,824.9 441.5,825.7 443.5,826.5 445.5,827.2 447.5,827.9 449.5,828.5 451.5,829.2 453.5,829.7 455.5,830.3 457.5,830.7 459.5,831.2 461.5,831.6 463.5,832.0 465.5,832.3 467.5,832.6 469.5,832.8 471.5,833.1 473.5,833.3 475.5,833.5 477.5,833.6 479.5,833.8 481.5,833.9 483.5,834.0 485.5,834.1 487.5,834.2 489.5,834.2 491.5,834.3 493.5,834.3 495.5,834.4 497.5,834.4 499.5,834.4 501.5,834.5 503.5,834.5 505.5,834.5 507.5,834.5 509.5,834.5 511.5,834.5 513.5,834.5 515.5,834.5 517.5,834.6 519.5,834.6 521.5,834.6 523.5,834.6 525.5,834.6 527.5,834.6 529.5,834.6 531.5,834.6 533.5,834.6 535.5,834.6 537.5,834.6 539.5,834.6 541.5,834.6 543.5,834.6 545.5,834.6 547.5,834.6 549.5,834.6 551.5,834.6 553.5,834.6 555.5,834.6 557.5,834.6 559.5,834.6 561.5,834.6 563.5,834.6 565.5,834.6 567.5,834.6 569.5,834.6 571.5,834.6 573.5,834.6 575.5,834.6 577.5,834.6 579.5,834.6 581.5,834.6 583.5,834.6 585.5,834.6 587.5,834.6 589.5,834.6 591.5,834.6 593.5,834.6 595.5,834.6 597.5,834.6 599.5,834.6 601.5,834.6 603.5,834.6 605.5,834.6 607.5,834.6 609.5,834.6 611.5,834.6 613.5,834.6 615.5,834.6 617.5,834.6 619.5,834.6 621.5,834.6 623.5,834.6 625.5,834.6 627.5,834.6 629.5,834.6 631.5,834.6 633.5,834.6 635.5,834.6 637.5,834.6 639.5,834.6 641.5,834.6 643.5,834.6" fill="none" stroke="#a374e6" stroke-width="1.3" />
<text x="668.8" y="838.9" font-size="32.3" textLength="103.95" lengthAdjust="spacingAndGlyphs" >−0.95 V</text>
<line x1="39.3" y1="870.5" x2="646.7" y2="870.5" stroke="#000" stroke-width="4.4" />
<line x1="41.5" y1="868" x2="41.5" y2="857" stroke="#000" stroke-width="4.6" />
<line x1="91.8" y1="868" x2="91.8" y2="864.5" stroke="#000" stroke-width="4.6" />
<line x1="142" y1="868" x2="142" y2="857" stroke="#000" stroke-width="4.6" />
<line x1="192.2" y1="868" x2="192.2" y2="864.5" stroke="#000" stroke-width="4.6" />
<line x1="242.5" y1="868" x2="242.5" y2="857" stroke="#000" stroke-width="4.6" />
<line x1="292.8" y1="868" x2="292.8" y2="864.5" stroke="#000" stroke-width="4.6" />
<line x1="343" y1="868" x2="343" y2="857" stroke="#000" stroke-width="4.6" />
<line x1="393.2" y1="868" x2="393.2" y2="864.5" stroke="#000" stroke-width="4.6" />
<line x1="443.5" y1="868" x2="443.5" y2="857" stroke="#000" stroke-width="4.6" />
<line x1="493.8" y1="868" x2="493.8" y2="864.5" stroke="#000" stroke-width="4.6" />
<line x1="544" y1="868" x2="544" y2="857" stroke="#000" stroke-width="4.6" />
<line x1="594.2" y1="868" x2="594.2" y2="864.5" stroke="#000" stroke-width="4.6" />
<line x1="644.5" y1="868" x2="644.5" y2="857" stroke="#000" stroke-width="4.6" />
<text x="9.26" y="911.5" font-size="30.6" textLength="65.01" lengthAdjust="spacingAndGlyphs" >2800</text>
<text x="109.91" y="911.5" font-size="30.6" textLength="65.01" lengthAdjust="spacingAndGlyphs" >3000</text>
<text x="210.41" y="911.5" font-size="30.6" textLength="65.01" lengthAdjust="spacingAndGlyphs" >3200</text>
<text x="310.91" y="911.5" font-size="30.6" textLength="65.01" lengthAdjust="spacingAndGlyphs" >3400</text>
<text x="411.41" y="911.5" font-size="30.6" textLength="65.01" lengthAdjust="spacingAndGlyphs" >3600</text>
<text x="511.91" y="911.5" font-size="30.6" textLength="65.01" lengthAdjust="spacingAndGlyphs" >3800</text>
<text x="612.48" y="911.5" font-size="30.6" textLength="65.01" lengthAdjust="spacingAndGlyphs" >4000</text>
<text x="211.58" y="976.8" font-size="32.2" textLength="260.89" lengthAdjust="spacingAndGlyphs" >Raman Shift / cm<tspan font-size="20.29" dy="-14">−1</tspan></text>
<text x="16.2" y="37.3" font-size="43" textLength="22.35" lengthAdjust="spacingAndGlyphs" >a</text>
<text x="95.99" y="64" font-size="33" textLength="114.07" lengthAdjust="spacingAndGlyphs" >Original</text>
<line x1="433.3" y1="27.2" x2="433.3" y2="62.3" stroke="#000" stroke-width="3" />
<line x1="426.5" y1="27.2" x2="439.5" y2="27.2" stroke="#000" stroke-width="3.2" stroke-linecap="round"/>
<line x1="426.5" y1="62.3" x2="439.5" y2="62.3" stroke="#000" stroke-width="3.2" stroke-linecap="round"/>
<text x="451.01" y="56" font-size="32.2" textLength="172.65" lengthAdjust="spacingAndGlyphs" >1000 counts</text>
<defs><radialGradient id="gO" cx="0.42" cy="0.4" r="0.62" fx="0.38" fy="0.36"><stop offset="0" stop-color="#ee8a8a"/><stop offset="0.35" stop-color="#d63a3a"/><stop offset="0.8" stop-color="#b82828"/><stop offset="1" stop-color="#8e1c1c"/></radialGradient><radialGradient id="gH" cx="0.45" cy="0.4" r="0.62" fx="0.4" fy="0.35"><stop offset="0" stop-color="#ffffff"/><stop offset="0.55" stop-color="#f6f6f6"/><stop offset="0.85" stop-color="#d8d8d8"/><stop offset="1" stop-color="#a8a8a8"/></radialGradient><radialGradient id="gNa" cx="0.6" cy="0.32" r="0.78" fx="0.6" fy="0.3"><stop offset="0" stop-color="#ffcc92"/><stop offset="0.3" stop-color="#efaa64"/><stop offset="0.62" stop-color="#d08f50"/><stop offset="0.85" stop-color="#a2713f"/><stop offset="1" stop-color="#7a5632"/></radialGradient><filter id="fBlur" x="-30%" y="-30%" width="160%" height="160%"><feGaussianBlur stdDeviation="4"/></filter><filter id="fBlur2" x="-30%" y="-30%" width="160%" height="160%"><feGaussianBlur stdDeviation="1.5"/></filter><linearGradient id="gGlow" x1="0" y1="0" x2="1" y2="0"><stop offset="0" stop-color="#79b68f"/><stop offset="0.3" stop-color="#6cc45c"/><stop offset="0.7" stop-color="#6cc45c"/><stop offset="1" stop-color="#79b68f"/></linearGradient><linearGradient id="gCone" x1="0" y1="0" x2="0" y2="1"><stop offset="0" stop-color="#8fd07a"/><stop offset="1" stop-color="#6cc255"/></linearGradient></defs>
<rect x="799" y="84.5" width="220" height="264" fill="#fdb8b9" />
<rect x="799" y="348.5" width="220" height="263" fill="#c9daf4" />
<rect x="799" y="611.5" width="220" height="263.5" fill="#78b68e" />
<line x1="818.7" y1="164.1" x2="866.8" y2="166.2" stroke="#000" stroke-width="4.6" stroke-dasharray="11 5"/>
<line x1="946.5" y1="170" x2="998.8" y2="174.2" stroke="#000" stroke-width="4.6" stroke-dasharray="11 5"/>
<line x1="885.3" y1="114" x2="904.6" y2="142.8" stroke="#000" stroke-width="4.6" stroke-dasharray="11 5"/>
<line x1="942.3" y1="213" x2="965.3" y2="247.5" stroke="#000" stroke-width="4.6" stroke-dasharray="11 5"/>
<circle cx="884" cy="166.4" r="16.2" fill="url(#gH)" />
<circle cx="918.2" cy="166.9" r="25.7" fill="url(#gO)" />
<circle cx="936" cy="196.7" r="16" fill="url(#gH)" />
<text x="850.11" y="317.4" font-size="32" textLength="146.21" lengthAdjust="spacingAndGlyphs" >4-HB-H<tspan font-size="19.84" dy="7.2">2</tspan><tspan dy="-7.2">O</tspan></text>
<line x1="825" y1="432.9" x2="884.7" y2="437.1" stroke="#000" stroke-width="4.6" stroke-dasharray="11 5"/>
<line x1="967.4" y1="439.2" x2="1005.1" y2="441.3" stroke="#000" stroke-width="4.6" stroke-dasharray="11 5"/>
<circle cx="951.5" cy="438.7" r="16.8" fill="url(#gH)" />
<circle cx="895.6" cy="468.5" r="16.5" fill="url(#gH)" />
<circle cx="912" cy="440.8" r="26.2" fill="url(#gO)" />
<text x="848.03" y="570" font-size="32" textLength="146.2" lengthAdjust="spacingAndGlyphs" >2-HB-H<tspan font-size="19.84" dy="7.2">2</tspan><tspan dy="-7.2">O</tspan></text>
<path d="M890 722 L874 792 L960 792 L941 722 Z" fill="#66c455" opacity="0.85" filter="url(#fBlur)"/>
<path d="M903 724 L898 762 L933 762 L929 724 Z" fill="#b5dc88" opacity="0.9" filter="url(#fBlur2)"/>
<circle cx="915.2" cy="678.5" r="48.5" fill="url(#gNa)" />
<circle cx="882.6" cy="791" r="16" fill="url(#gH)" />
<circle cx="917" cy="777.5" r="30.3" fill="url(#gO)" />
<circle cx="947" cy="795.5" r="17" fill="url(#gH)" />
<text x="860.88" y="864" font-size="32" textLength="124.35" lengthAdjust="spacingAndGlyphs" >Na<tspan font-size="19.84" dy="-12">+</tspan><tspan dy="12">-H</tspan><tspan font-size="19.84" dy="7.2">2</tspan><tspan dy="-7.2">O</tspan></text>
<defs><radialGradient id="bG" cx="0.365" cy="0.35" r="0.29" fx="0.365" fy="0.35"><stop offset="0" stop-color="#ffffff"/><stop offset="0.3" stop-color="#fbfbff"/><stop offset="0.37" stop-color="#c6e3c6"/><stop offset="0.56" stop-color="#b2d8b2"/><stop offset="0.62" stop-color="#7fbf7f"/><stop offset="0.86" stop-color="#6bb56b"/><stop offset="0.95" stop-color="#008000"/></radialGradient><radialGradient id="bB" cx="0.365" cy="0.35" r="0.29" fx="0.365" fy="0.35"><stop offset="0" stop-color="#ffffff"/><stop offset="0.3" stop-color="#fbfbff"/><stop offset="0.37" stop-color="#c6c6fb"/><stop offset="0.56" stop-color="#b2b2fa"/><stop offset="0.62" stop-color="#7f7ff7"/><stop offset="0.86" stop-color="#6b6bf6"/><stop offset="0.95" stop-color="#0000f0"/></radialGradient><radialGradient id="bR" cx="0.365" cy="0.35" r="0.29" fx="0.365" fy="0.35"><stop offset="0" stop-color="#ffffff"/><stop offset="0.3" stop-color="#fbfbff"/><stop offset="0.37" stop-color="#fdc6c6"/><stop offset="0.56" stop-color="#fcb2b2"/><stop offset="0.62" stop-color="#fb7f7f"/><stop offset="0.86" stop-color="#fa6b6b"/><stop offset="0.95" stop-color="#f80000"/></radialGradient><radialGradient id="bDB" cx="0.365" cy="0.35" r="0.29" fx="0.365" fy="0.35"><stop offset="0" stop-color="#ffffff"/><stop offset="0.3" stop-color="#fbfbff"/><stop offset="0.37" stop-color="#c6c6ea"/><stop offset="0.56" stop-color="#b2b2e2"/><stop offset="0.62" stop-color="#7f7fcf"/><stop offset="0.86" stop-color="#6b6bc7"/><stop offset="0.95" stop-color="#0000a0"/></radialGradient><radialGradient id="bDR" cx="0.365" cy="0.35" r="0.29" fx="0.365" fy="0.35"><stop offset="0" stop-color="#ffffff"/><stop offset="0.3" stop-color="#fbfbff"/><stop offset="0.37" stop-color="#e3c6c6"/><stop offset="0.56" stop-color="#d8b2b2"/><stop offset="0.62" stop-color="#bf7f7f"/><stop offset="0.86" stop-color="#b56b6b"/><stop offset="0.95" stop-color="#800000"/></radialGradient></defs>
<text x="1098.67" y="44.2" font-size="43" textLength="24.38" lengthAdjust="spacingAndGlyphs" >c</text>
<rect x="1237.6" y="89" width="740.2" height="596" fill="none" stroke="#000" stroke-width="3.6"/>
<line x1="1239" y1="624.5" x2="1249.5" y2="624.5" stroke="#000" stroke-width="3.4" />
<line x1="1239" y1="565" x2="1244" y2="565" stroke="#000" stroke-width="3.4" />
<line x1="1239" y1="505.6" x2="1249.5" y2="505.6" stroke="#000" stroke-width="3.4" />
<line x1="1239" y1="446.1" x2="1244" y2="446.1" stroke="#000" stroke-width="3.4" />
<line x1="1239" y1="386.6" x2="1249.5" y2="386.6" stroke="#000" stroke-width="3.4" />
<line x1="1239" y1="327.1" x2="1244" y2="327.1" stroke="#000" stroke-width="3.4" />
<line x1="1239" y1="267.6" x2="1249.5" y2="267.6" stroke="#000" stroke-width="3.4" />
<line x1="1239" y1="208.2" x2="1244" y2="208.2" stroke="#000" stroke-width="3.4" />
<line x1="1239" y1="148.7" x2="1249.5" y2="148.7" stroke="#000" stroke-width="3.4" />
<text x="1163.35" y="633.3" font-size="26" textLength="60.69" lengthAdjust="spacingAndGlyphs" >3200</text>
<text x="1163.35" y="514.35" font-size="26" textLength="60.69" lengthAdjust="spacingAndGlyphs" >3300</text>
<text x="1163.35" y="395.4" font-size="26" textLength="60.69" lengthAdjust="spacingAndGlyphs" >3400</text>
<text x="1163.35" y="276.45" font-size="26" textLength="60.69" lengthAdjust="spacingAndGlyphs" >3500</text>
<text x="1163.35" y="157.5" font-size="26" textLength="60.69" lengthAdjust="spacingAndGlyphs" >3600</text>
<line x1="1294.4" y1="683.5" x2="1294.4" y2="673.5" stroke="#000" stroke-width="3.4" />
<line x1="1351.3" y1="683.5" x2="1351.3" y2="679" stroke="#000" stroke-width="3.4" />
<line x1="1408.2" y1="683.5" x2="1408.2" y2="673.5" stroke="#000" stroke-width="3.4" />
<line x1="1465.1" y1="683.5" x2="1465.1" y2="679" stroke="#000" stroke-width="3.4" />
<line x1="1522" y1="683.5" x2="1522" y2="673.5" stroke="#000" stroke-width="3.4" />
<line x1="1578.9" y1="683.5" x2="1578.9" y2="679" stroke="#000" stroke-width="3.4" />
<line x1="1635.8" y1="683.5" x2="1635.8" y2="673.5" stroke="#000" stroke-width="3.4" />
<line x1="1692.7" y1="683.5" x2="1692.7" y2="679" stroke="#000" stroke-width="3.4" />
<line x1="1749.6" y1="683.5" x2="1749.6" y2="673.5" stroke="#000" stroke-width="3.4" />
<line x1="1806.5" y1="683.5" x2="1806.5" y2="679" stroke="#000" stroke-width="3.4" />
<line x1="1863.4" y1="683.5" x2="1863.4" y2="673.5" stroke="#000" stroke-width="3.4" />
<line x1="1920.3" y1="683.5" x2="1920.3" y2="679" stroke="#000" stroke-width="3.4" />
<text x="1263.76" y="722.2" font-size="29" textLength="61.3" lengthAdjust="spacingAndGlyphs" >−1.0</text>
<text x="1377.56" y="722.2" font-size="29" textLength="60.98" lengthAdjust="spacingAndGlyphs" >−0.8</text>
<text x="1491.36" y="722.2" font-size="29" textLength="61.3" lengthAdjust="spacingAndGlyphs" >−0.6</text>
<text x="1605.18" y="722.2" font-size="29" textLength="60.19" lengthAdjust="spacingAndGlyphs" >−0.4</text>
<text x="1718.96" y="722.2" font-size="29" textLength="61.3" lengthAdjust="spacingAndGlyphs" >−0.2</text>
<text x="1842.34" y="722.2" font-size="29" textLength="42.13" lengthAdjust="spacingAndGlyphs" >0.0</text>
<text x="1956.14" y="722.2" font-size="29" textLength="42.13" lengthAdjust="spacingAndGlyphs" >0.2</text>
<text x="1459.89" y="774.1" font-size="31" textLength="294.38" lengthAdjust="spacingAndGlyphs" >Potential / V vs.RHE</text>
<text x="-2.01" y="0" font-size="31" textLength="272.49" lengthAdjust="spacingAndGlyphs" transform="translate(1133.4 522.5) rotate(-90)">Raman Shift / cm<tspan font-size="19.53" dy="-13.5">−1</tspan></text>
<text x="1317.85" y="134.3" font-size="31.4" textLength="118.5" lengthAdjust="spacingAndGlyphs" >Original</text>
<line x1="1341.7" y1="219.1" x2="1361" y2="219.1" stroke="#4b7d00" stroke-width="4.4" stroke-linecap="round"/>
<line x1="1398.5" y1="218.2" x2="1417.9" y2="217.3" stroke="#4b7d00" stroke-width="4.4" stroke-linecap="round"/>
<line x1="1455.4" y1="215.8" x2="1474.8" y2="215.1" stroke="#4b7d00" stroke-width="4.4" stroke-linecap="round"/>
<line x1="1512.3" y1="213.9" x2="1531.7" y2="213.2" stroke="#4b7d00" stroke-width="4.4" stroke-linecap="round"/>
<line x1="1569.2" y1="211.8" x2="1588.6" y2="211.1" stroke="#4b7d00" stroke-width="4.4" stroke-linecap="round"/>
<line x1="1626.1" y1="208.5" x2="1645.5" y2="206.6" stroke="#4b7d00" stroke-width="4.4" stroke-linecap="round"/>
<line x1="1683" y1="203.7" x2="1702.4" y2="202.5" stroke="#4b7d00" stroke-width="4.4" stroke-linecap="round"/>
<line x1="1739.9" y1="200.5" x2="1759.3" y2="199.6" stroke="#4b7d00" stroke-width="4.4" stroke-linecap="round"/>
<line x1="1796.8" y1="197.7" x2="1816.2" y2="196.6" stroke="#4b7d00" stroke-width="4.4" stroke-linecap="round"/>
<line x1="1853.7" y1="194.1" x2="1873.1" y2="192.4" stroke="#4b7d00" stroke-width="4.4" stroke-linecap="round"/>
<circle cx="1322.9" cy="219.1" r="13.9" fill="url(#bG)" />
<circle cx="1379.8" cy="219.1" r="13.9" fill="url(#bG)" />
<circle cx="1436.7" cy="216.4" r="13.9" fill="url(#bG)" />
<circle cx="1493.6" cy="214.5" r="13.9" fill="url(#bG)" />
<circle cx="1550.5" cy="212.6" r="13.9" fill="url(#bG)" />
<circle cx="1607.4" cy="210.3" r="13.9" fill="url(#bG)" />
<circle cx="1664.3" cy="204.8" r="13.9" fill="url(#bG)" />
<circle cx="1721.2" cy="201.4" r="13.9" fill="url(#bG)" />
<circle cx="1778.1" cy="198.7" r="13.9" fill="url(#bG)" />
<circle cx="1835" cy="195.6" r="13.9" fill="url(#bG)" />
<circle cx="1891.9" cy="190.9" r="13.9" fill="url(#bG)" />
<line x1="1341.7" y1="372.6" x2="1361" y2="372.6" stroke="#1e6fe0" stroke-width="4.4" stroke-linecap="round"/>
<line x1="1398.5" y1="372" x2="1417.9" y2="371.3" stroke="#1e6fe0" stroke-width="4.4" stroke-linecap="round"/>
<line x1="1455.4" y1="370.4" x2="1474.8" y2="370.2" stroke="#1e6fe0" stroke-width="4.4" stroke-linecap="round"/>
<line x1="1512.3" y1="369.3" x2="1531.7" y2="368.6" stroke="#1e6fe0" stroke-width="4.4" stroke-linecap="round"/>
<line x1="1569.2" y1="367.6" x2="1588.6" y2="367.2" stroke="#1e6fe0" stroke-width="4.4" stroke-linecap="round"/>
<line x1="1626.1" y1="365.5" x2="1645.5" y2="364.2" stroke="#1e6fe0" stroke-width="4.4" stroke-linecap="round"/>
<line x1="1683" y1="362.5" x2="1702.4" y2="362.2" stroke="#1e6fe0" stroke-width="4.4" stroke-linecap="round"/>
<line x1="1739.9" y1="360.6" x2="1759.3" y2="359.5" stroke="#1e6fe0" stroke-width="4.4" stroke-linecap="round"/>
<line x1="1796.8" y1="357.5" x2="1816.2" y2="356.8" stroke="#1e6fe0" stroke-width="4.4" stroke-linecap="round"/>
<line x1="1853.7" y1="355.5" x2="1873.1" y2="354.9" stroke="#1e6fe0" stroke-width="4.4" stroke-linecap="round"/>
<circle cx="1322.9" cy="372.6" r="13.9" fill="url(#bB)" />
<circle cx="1379.8" cy="372.6" r="13.9" fill="url(#bB)" />
<circle cx="1436.7" cy="370.7" r="13.9" fill="url(#bB)" />
<circle cx="1493.6" cy="369.9" r="13.9" fill="url(#bB)" />
<circle cx="1550.5" cy="368" r="13.9" fill="url(#bB)" />
<circle cx="1607.4" cy="366.8" r="13.9" fill="url(#bB)" />
<circle cx="1664.3" cy="362.9" r="13.9" fill="url(#bB)" />
<circle cx="1721.2" cy="361.8" r="13.9" fill="url(#bB)" />
<circle cx="1778.1" cy="358.3" r="13.9" fill="url(#bB)" />
<circle cx="1835" cy="356" r="13.9" fill="url(#bB)" />
<circle cx="1891.9" cy="354.4" r="13.9" fill="url(#bB)" />
<line x1="1341.7" y1="581.9" x2="1361" y2="581.9" stroke="#f06000" stroke-width="4.4" stroke-linecap="round"/>
<line x1="1398.5" y1="581.8" x2="1417.9" y2="581.6" stroke="#f06000" stroke-width="4.4" stroke-linecap="round"/>
<line x1="1455.4" y1="581.4" x2="1474.8" y2="581.2" stroke="#f06000" stroke-width="4.4" stroke-linecap="round"/>
<line x1="1512.3" y1="580.9" x2="1531.7" y2="580.6" stroke="#f06000" stroke-width="4.4" stroke-linecap="round"/>
<line x1="1569.2" y1="580.4" x2="1588.6" y2="580.4" stroke="#f06000" stroke-width="4.4" stroke-linecap="round"/>
<line x1="1626.1" y1="580.3" x2="1645.5" y2="580.1" stroke="#f06000" stroke-width="4.4" stroke-linecap="round"/>
<line x1="1683" y1="579.9" x2="1702.4" y2="579.7" stroke="#f06000" stroke-width="4.4" stroke-linecap="round"/>
<line x1="1739.9" y1="579.1" x2="1759.3" y2="578.5" stroke="#f06000" stroke-width="4.4" stroke-linecap="round"/>
<line x1="1796.8" y1="577.8" x2="1816.2" y2="577.5" stroke="#f06000" stroke-width="4.4" stroke-linecap="round"/>
<line x1="1853.7" y1="576" x2="1873.1" y2="574.7" stroke="#f06000" stroke-width="4.4" stroke-linecap="round"/>
<circle cx="1322.9" cy="581.9" r="13.9" fill="url(#bR)" />
<circle cx="1379.8" cy="581.9" r="13.9" fill="url(#bR)" />
<circle cx="1436.7" cy="581.5" r="13.9" fill="url(#bR)" />
<circle cx="1493.6" cy="581.1" r="13.9" fill="url(#bR)" />
<circle cx="1550.5" cy="580.4" r="13.9" fill="url(#bR)" />
<circle cx="1607.4" cy="580.4" r="13.9" fill="url(#bR)" />
<circle cx="1664.3" cy="580" r="13.9" fill="url(#bR)" />
<circle cx="1721.2" cy="579.6" r="13.9" fill="url(#bR)" />
<circle cx="1778.1" cy="578" r="13.9" fill="url(#bR)" />
<circle cx="1835" cy="577.3" r="13.9" fill="url(#bR)" />
<circle cx="1891.9" cy="573.4" r="13.9" fill="url(#bR)" />
<text x="1762.26" y="247.8" font-size="31.2" textLength="120.83" lengthAdjust="spacingAndGlyphs" >Na<tspan font-size="19.97" dy="-14.5">+</tspan><tspan dy="14.5">-H</tspan><tspan font-size="19.97" dy="7.5">2</tspan><tspan dy="-7.5">O</tspan></text>
<text x="1392.86" y="265.7" font-size="30.2" textLength="184.01" lengthAdjust="spacingAndGlyphs" >24.5 cm<tspan font-size="19.03" dy="-13">−1</tspan><tspan dy="13"> / V</tspan></text>
<text x="1754.76" y="407.6" font-size="30.2" textLength="141.63" lengthAdjust="spacingAndGlyphs" >2-HB-H<tspan font-size="18.72" dy="7.3">2</tspan><tspan dy="-7.3">O</tspan></text>
<text x="1383.82" y="415.3" font-size="30.5" textLength="184.05" lengthAdjust="spacingAndGlyphs" >15.6 cm<tspan font-size="19.21" dy="-13">−1</tspan><tspan dy="13"> / V</tspan></text>
<text x="1375.95" y="553.2" font-size="30.2" textLength="167.13" lengthAdjust="spacingAndGlyphs" >7.2 cm<tspan font-size="19.03" dy="-13">−1</tspan><tspan dy="13"> / V</tspan></text>
<text x="1754.33" y="559.7" font-size="30.6" textLength="140.85" lengthAdjust="spacingAndGlyphs" >4-HB-H<tspan font-size="18.97" dy="7.3">2</tspan><tspan dy="-7.3">O</tspan></text>
<defs><linearGradient id="dR" x1="0" y1="0" x2="0" y2="1"><stop offset="0" stop-color="#ef3c3e"/><stop offset="1" stop-color="#f37779"/></linearGradient><linearGradient id="dB" x1="0" y1="0" x2="0" y2="1"><stop offset="0" stop-color="#1c6ce0"/><stop offset="1" stop-color="#7aa9ef"/></linearGradient><linearGradient id="dG" x1="0" y1="0" x2="0" y2="1"><stop offset="0" stop-color="#36a862"/><stop offset="1" stop-color="#8cd8aa"/></linearGradient></defs>
<text x="1093.53" y="804" font-size="43" textLength="27.1" lengthAdjust="spacingAndGlyphs" >d</text>
<rect x="1246.6" y="1321.3" width="17.4" height="140.7" fill="url(#dR)" stroke="#e84848" stroke-width="1"/>
<line x1="1255.3" y1="1317.7" x2="1255.3" y2="1324.9" stroke="#000" stroke-width="2" />
<line x1="1249.8" y1="1317.7" x2="1260.8" y2="1317.7" stroke="#000" stroke-width="2.4" />
<line x1="1249.8" y1="1324.9" x2="1260.8" y2="1324.9" stroke="#000" stroke-width="2.4" />
<rect x="1265" y="1067.6" width="17.4" height="394.4" fill="url(#dB)" stroke="#1a66dd" stroke-width="1"/>
<line x1="1273.7" y1="1063.4" x2="1273.7" y2="1071.8" stroke="#000" stroke-width="2" />
<line x1="1268.2" y1="1063.4" x2="1279.2" y2="1063.4" stroke="#000" stroke-width="2.4" />
<line x1="1268.2" y1="1071.8" x2="1279.2" y2="1071.8" stroke="#000" stroke-width="2.4" />
<rect x="1283.4" y="1395.6" width="17.4" height="66.4" fill="url(#dG)" stroke="#34a35e" stroke-width="1"/>
<line x1="1292.1" y1="1392.5" x2="1292.1" y2="1398.6" stroke="#000" stroke-width="2" />
<line x1="1286.6" y1="1392.5" x2="1297.6" y2="1392.5" stroke="#000" stroke-width="2.4" />
<line x1="1286.6" y1="1398.6" x2="1297.6" y2="1398.6" stroke="#000" stroke-width="2.4" />
<rect x="1314" y="1329.7" width="17.4" height="132.3" fill="url(#dR)" stroke="#e84848" stroke-width="1"/>
<line x1="1322.7" y1="1327.3" x2="1322.7" y2="1332.1" stroke="#000" stroke-width="2" />
<line x1="1317.2" y1="1327.3" x2="1328.2" y2="1327.3" stroke="#000" stroke-width="2.4" />
<line x1="1317.2" y1="1332.1" x2="1328.2" y2="1332.1" stroke="#000" stroke-width="2.4" />
<rect x="1332.4" y="1056.7" width="17.4" height="405.3" fill="url(#dB)" stroke="#1a66dd" stroke-width="1"/>
<line x1="1341.1" y1="1053.7" x2="1341.1" y2="1059.7" stroke="#000" stroke-width="2" />
<line x1="1335.6" y1="1053.7" x2="1346.6" y2="1053.7" stroke="#000" stroke-width="2.4" />
<line x1="1335.6" y1="1059.7" x2="1346.6" y2="1059.7" stroke="#000" stroke-width="2.4" />
<rect x="1350.8" y="1398" width="17.4" height="64" fill="url(#dG)" stroke="#34a35e" stroke-width="1"/>
<line x1="1359.5" y1="1395.6" x2="1359.5" y2="1400.4" stroke="#000" stroke-width="2" />
<line x1="1354" y1="1395.6" x2="1365" y2="1395.6" stroke="#000" stroke-width="2.4" />
<line x1="1354" y1="1400.4" x2="1365" y2="1400.4" stroke="#000" stroke-width="2.4" />
<rect x="1381.5" y="1326.7" width="17.4" height="135.3" fill="url(#dR)" stroke="#e84848" stroke-width="1"/>
<line x1="1390.2" y1="1323.7" x2="1390.2" y2="1329.7" stroke="#000" stroke-width="2" />
<line x1="1384.7" y1="1323.7" x2="1395.7" y2="1323.7" stroke="#000" stroke-width="2.4" />
<line x1="1384.7" y1="1329.7" x2="1395.7" y2="1329.7" stroke="#000" stroke-width="2.4" />
<rect x="1399.9" y="1056.7" width="17.4" height="405.3" fill="url(#dB)" stroke="#1a66dd" stroke-width="1"/>
<line x1="1408.6" y1="1053.7" x2="1408.6" y2="1059.7" stroke="#000" stroke-width="2" />
<line x1="1403.1" y1="1053.7" x2="1414.1" y2="1053.7" stroke="#000" stroke-width="2.4" />
<line x1="1403.1" y1="1059.7" x2="1414.1" y2="1059.7" stroke="#000" stroke-width="2.4" />
<rect x="1418.3" y="1401.6" width="17.4" height="60.4" fill="url(#dG)" stroke="#34a35e" stroke-width="1"/>
<line x1="1427" y1="1396.8" x2="1427" y2="1406.4" stroke="#000" stroke-width="2" />
<line x1="1421.5" y1="1396.8" x2="1432.5" y2="1396.8" stroke="#000" stroke-width="2.4" />
<line x1="1421.5" y1="1406.4" x2="1432.5" y2="1406.4" stroke="#000" stroke-width="2.4" />
<rect x="1448.9" y="1325.5" width="17.4" height="136.5" fill="url(#dR)" stroke="#e84848" stroke-width="1"/>
<line x1="1457.6" y1="1322.5" x2="1457.6" y2="1328.5" stroke="#000" stroke-width="2" />
<line x1="1452.1" y1="1322.5" x2="1463.1" y2="1322.5" stroke="#000" stroke-width="2.4" />
<line x1="1452.1" y1="1328.5" x2="1463.1" y2="1328.5" stroke="#000" stroke-width="2.4" />
<rect x="1467.3" y="1054.3" width="17.4" height="407.7" fill="url(#dB)" stroke="#1a66dd" stroke-width="1"/>
<line x1="1476" y1="1052.5" x2="1476" y2="1056.1" stroke="#000" stroke-width="2" />
<line x1="1470.5" y1="1052.5" x2="1481.5" y2="1052.5" stroke="#000" stroke-width="2.4" />
<line x1="1470.5" y1="1056.1" x2="1481.5" y2="1056.1" stroke="#000" stroke-width="2.4" />
<rect x="1485.7" y="1405.2" width="17.4" height="56.8" fill="url(#dG)" stroke="#34a35e" stroke-width="1"/>
<line x1="1494.4" y1="1402.8" x2="1494.4" y2="1407.6" stroke="#000" stroke-width="2" />
<line x1="1488.9" y1="1402.8" x2="1499.9" y2="1402.8" stroke="#000" stroke-width="2.4" />
<line x1="1488.9" y1="1407.6" x2="1499.9" y2="1407.6" stroke="#000" stroke-width="2.4" />
<rect x="1516.3" y="1327.9" width="17.4" height="134.1" fill="url(#dR)" stroke="#e84848" stroke-width="1"/>
<line x1="1525" y1="1325.5" x2="1525" y2="1330.3" stroke="#000" stroke-width="2" />
<line x1="1519.5" y1="1325.5" x2="1530.5" y2="1325.5" stroke="#000" stroke-width="2.4" />
<line x1="1519.5" y1="1330.3" x2="1530.5" y2="1330.3" stroke="#000" stroke-width="2.4" />
<rect x="1534.7" y="1046.4" width="17.4" height="415.6" fill="url(#dB)" stroke="#1a66dd" stroke-width="1"/>
<line x1="1543.4" y1="1044" x2="1543.4" y2="1048.9" stroke="#000" stroke-width="2" />
<line x1="1537.9" y1="1044" x2="1548.9" y2="1044" stroke="#000" stroke-width="2.4" />
<line x1="1537.9" y1="1048.9" x2="1548.9" y2="1048.9" stroke="#000" stroke-width="2.4" />
<rect x="1553.1" y="1409.5" width="17.4" height="52.5" fill="url(#dG)" stroke="#34a35e" stroke-width="1"/>
<line x1="1561.8" y1="1405.8" x2="1561.8" y2="1413.1" stroke="#000" stroke-width="2" />
<line x1="1556.3" y1="1405.8" x2="1567.3" y2="1405.8" stroke="#000" stroke-width="2.4" />
<line x1="1556.3" y1="1413.1" x2="1567.3" y2="1413.1" stroke="#000" stroke-width="2.4" />
<rect x="1583.8" y="1330.3" width="17.4" height="131.7" fill="url(#dR)" stroke="#e84848" stroke-width="1"/>
<line x1="1592.5" y1="1326.1" x2="1592.5" y2="1334.5" stroke="#000" stroke-width="2" />
<line x1="1587" y1="1326.1" x2="1598" y2="1326.1" stroke="#000" stroke-width="2.4" />
<line x1="1587" y1="1334.5" x2="1598" y2="1334.5" stroke="#000" stroke-width="2.4" />
<rect x="1602.2" y="1035.6" width="17.4" height="426.4" fill="url(#dB)" stroke="#1a66dd" stroke-width="1"/>
<line x1="1610.9" y1="1032.6" x2="1610.9" y2="1038.6" stroke="#000" stroke-width="2" />
<line x1="1605.4" y1="1032.6" x2="1616.4" y2="1032.6" stroke="#000" stroke-width="2.4" />
<line x1="1605.4" y1="1038.6" x2="1616.4" y2="1038.6" stroke="#000" stroke-width="2.4" />
<rect x="1620.6" y="1419.1" width="17.4" height="42.9" fill="url(#dG)" stroke="#34a35e" stroke-width="1"/>
<line x1="1629.3" y1="1415.5" x2="1629.3" y2="1422.7" stroke="#000" stroke-width="2" />
<line x1="1623.8" y1="1415.5" x2="1634.8" y2="1415.5" stroke="#000" stroke-width="2.4" />
<line x1="1623.8" y1="1422.7" x2="1634.8" y2="1422.7" stroke="#000" stroke-width="2.4" />
<rect x="1651.2" y="1332.7" width="17.4" height="129.3" fill="url(#dR)" stroke="#e84848" stroke-width="1"/>
<line x1="1659.9" y1="1326.7" x2="1659.9" y2="1338.8" stroke="#000" stroke-width="2" />
<line x1="1654.4" y1="1326.7" x2="1665.4" y2="1326.7" stroke="#000" stroke-width="2.4" />
<line x1="1654.4" y1="1338.8" x2="1665.4" y2="1338.8" stroke="#000" stroke-width="2.4" />
<rect x="1669.6" y="1022.9" width="17.4" height="439.1" fill="url(#dB)" stroke="#1a66dd" stroke-width="1"/>
<line x1="1678.3" y1="1017.5" x2="1678.3" y2="1028.3" stroke="#000" stroke-width="2" />
<line x1="1672.8" y1="1017.5" x2="1683.8" y2="1017.5" stroke="#000" stroke-width="2.4" />
<line x1="1672.8" y1="1028.3" x2="1683.8" y2="1028.3" stroke="#000" stroke-width="2.4" />
<rect x="1688" y="1430" width="17.4" height="32" fill="url(#dG)" stroke="#34a35e" stroke-width="1"/>
<line x1="1696.7" y1="1427" x2="1696.7" y2="1433" stroke="#000" stroke-width="2" />
<line x1="1691.2" y1="1427" x2="1702.2" y2="1427" stroke="#000" stroke-width="2.4" />
<line x1="1691.2" y1="1433" x2="1702.2" y2="1433" stroke="#000" stroke-width="2.4" />
<rect x="1718.6" y="1332.1" width="17.4" height="129.9" fill="url(#dR)" stroke="#e84848" stroke-width="1"/>
<line x1="1727.3" y1="1329.7" x2="1727.3" y2="1334.5" stroke="#000" stroke-width="2" />
<line x1="1721.8" y1="1329.7" x2="1732.8" y2="1329.7" stroke="#000" stroke-width="2.4" />
<line x1="1721.8" y1="1334.5" x2="1732.8" y2="1334.5" stroke="#000" stroke-width="2.4" />
<rect x="1737" y="1020.5" width="17.4" height="441.5" fill="url(#dB)" stroke="#1a66dd" stroke-width="1"/>
<line x1="1745.7" y1="1017.5" x2="1745.7" y2="1023.5" stroke="#000" stroke-width="2" />
<line x1="1740.2" y1="1017.5" x2="1751.2" y2="1017.5" stroke="#000" stroke-width="2.4" />
<line x1="1740.2" y1="1023.5" x2="1751.2" y2="1023.5" stroke="#000" stroke-width="2.4" />
<rect x="1755.4" y="1432.4" width="17.4" height="29.6" fill="url(#dG)" stroke="#34a35e" stroke-width="1"/>
<line x1="1764.1" y1="1429.4" x2="1764.1" y2="1435.4" stroke="#000" stroke-width="2" />
<line x1="1758.6" y1="1429.4" x2="1769.6" y2="1429.4" stroke="#000" stroke-width="2.4" />
<line x1="1758.6" y1="1435.4" x2="1769.6" y2="1435.4" stroke="#000" stroke-width="2.4" />
<rect x="1786" y="1332.1" width="17.4" height="129.9" fill="url(#dR)" stroke="#e84848" stroke-width="1"/>
<line x1="1794.7" y1="1328.5" x2="1794.7" y2="1335.8" stroke="#000" stroke-width="2" />
<line x1="1789.2" y1="1328.5" x2="1800.2" y2="1328.5" stroke="#000" stroke-width="2.4" />
<line x1="1789.2" y1="1335.8" x2="1800.2" y2="1335.8" stroke="#000" stroke-width="2.4" />
<rect x="1804.4" y="1010.2" width="17.4" height="451.8" fill="url(#dB)" stroke="#1a66dd" stroke-width="1"/>
<line x1="1813.1" y1="1007.8" x2="1813.1" y2="1012.6" stroke="#000" stroke-width="2" />
<line x1="1807.6" y1="1007.8" x2="1818.6" y2="1007.8" stroke="#000" stroke-width="2.4" />
<line x1="1807.6" y1="1012.6" x2="1818.6" y2="1012.6" stroke="#000" stroke-width="2.4" />
<rect x="1822.8" y="1442.7" width="17.4" height="19.3" fill="url(#dG)" stroke="#34a35e" stroke-width="1"/>
<line x1="1831.5" y1="1440.3" x2="1831.5" y2="1445.1" stroke="#000" stroke-width="2" />
<line x1="1826" y1="1440.3" x2="1837" y2="1440.3" stroke="#000" stroke-width="2.4" />
<line x1="1826" y1="1445.1" x2="1837" y2="1445.1" stroke="#000" stroke-width="2.4" />
<rect x="1853.5" y="1342.4" width="17.4" height="119.6" fill="url(#dR)" stroke="#e84848" stroke-width="1"/>
<line x1="1862.2" y1="1340" x2="1862.2" y2="1344.8" stroke="#000" stroke-width="2" />
<line x1="1856.7" y1="1340" x2="1867.7" y2="1340" stroke="#000" stroke-width="2.4" />
<line x1="1856.7" y1="1344.8" x2="1867.7" y2="1344.8" stroke="#000" stroke-width="2.4" />
<rect x="1871.9" y="992.1" width="17.4" height="469.9" fill="url(#dB)" stroke="#1a66dd" stroke-width="1"/>
<line x1="1880.6" y1="990.3" x2="1880.6" y2="993.9" stroke="#000" stroke-width="2" />
<line x1="1875.1" y1="990.3" x2="1886.1" y2="990.3" stroke="#000" stroke-width="2.4" />
<line x1="1875.1" y1="993.9" x2="1886.1" y2="993.9" stroke="#000" stroke-width="2.4" />
<rect x="1890.3" y="1449.9" width="17.4" height="12.1" fill="url(#dG)" stroke="#34a35e" stroke-width="1"/>
<line x1="1899" y1="1446.3" x2="1899" y2="1453.5" stroke="#000" stroke-width="2" />
<line x1="1893.5" y1="1446.3" x2="1904.5" y2="1446.3" stroke="#000" stroke-width="2.4" />
<line x1="1893.5" y1="1453.5" x2="1904.5" y2="1453.5" stroke="#000" stroke-width="2.4" />
<rect x="1920.9" y="1312.8" width="17.4" height="149.2" fill="url(#dR)" stroke="#e84848" stroke-width="1"/>
<line x1="1929.6" y1="1310.4" x2="1929.6" y2="1315.2" stroke="#000" stroke-width="2" />
<line x1="1924.1" y1="1310.4" x2="1935.1" y2="1310.4" stroke="#000" stroke-width="2.4" />
<line x1="1924.1" y1="1315.2" x2="1935.1" y2="1315.2" stroke="#000" stroke-width="2.4" />
<rect x="1939.3" y="1020.5" width="17.4" height="441.5" fill="url(#dB)" stroke="#1a66dd" stroke-width="1"/>
<line x1="1948" y1="1018.7" x2="1948" y2="1022.3" stroke="#000" stroke-width="2" />
<line x1="1942.5" y1="1018.7" x2="1953.5" y2="1018.7" stroke="#000" stroke-width="2.4" />
<line x1="1942.5" y1="1022.3" x2="1953.5" y2="1022.3" stroke="#000" stroke-width="2.4" />
<rect x="1957.7" y="1451.7" width="17.4" height="10.3" fill="url(#dG)" stroke="#34a35e" stroke-width="1"/>
<line x1="1966.4" y1="1448.7" x2="1966.4" y2="1454.7" stroke="#000" stroke-width="2" />
<line x1="1960.9" y1="1448.7" x2="1971.9" y2="1448.7" stroke="#000" stroke-width="2.4" />
<line x1="1960.9" y1="1454.7" x2="1971.9" y2="1454.7" stroke="#000" stroke-width="2.4" />
<rect x="1234" y="859" width="749" height="603" fill="none" stroke="#000" stroke-width="3.8"/>
<line x1="1235.5" y1="1462" x2="1245.5" y2="1462" stroke="#000" stroke-width="3.6" />
<line x1="1235.5" y1="1401.6" x2="1240" y2="1401.6" stroke="#000" stroke-width="3.6" />
<line x1="1235.5" y1="1341.2" x2="1245.5" y2="1341.2" stroke="#000" stroke-width="3.6" />
<line x1="1235.5" y1="1280.8" x2="1240" y2="1280.8" stroke="#000" stroke-width="3.6" />
<line x1="1235.5" y1="1220.4" x2="1245.5" y2="1220.4" stroke="#000" stroke-width="3.6" />
<line x1="1235.5" y1="1160" x2="1240" y2="1160" stroke="#000" stroke-width="3.6" />
<line x1="1235.5" y1="1099.6" x2="1245.5" y2="1099.6" stroke="#000" stroke-width="3.6" />
<line x1="1235.5" y1="1039.2" x2="1240" y2="1039.2" stroke="#000" stroke-width="3.6" />
<line x1="1235.5" y1="978.8" x2="1245.5" y2="978.8" stroke="#000" stroke-width="3.6" />
<line x1="1235.5" y1="918.4" x2="1240" y2="918.4" stroke="#000" stroke-width="3.6" />
<text x="1202.94" y="1471.9" font-size="28.5" textLength="16.96" lengthAdjust="spacingAndGlyphs" >0</text>
<text x="1186.02" y="1351.1" font-size="28.5" textLength="33.92" lengthAdjust="spacingAndGlyphs" >20</text>
<text x="1186.02" y="1230.3" font-size="28.5" textLength="33.92" lengthAdjust="spacingAndGlyphs" >40</text>
<text x="1186.02" y="1109.5" font-size="28.5" textLength="33.92" lengthAdjust="spacingAndGlyphs" >60</text>
<text x="1186.02" y="988.7" font-size="28.5" textLength="33.92" lengthAdjust="spacingAndGlyphs" >80</text>
<text x="1169.09" y="867.9" font-size="28.5" textLength="50.88" lengthAdjust="spacingAndGlyphs" >100</text>
<line x1="1273.7" y1="1460" x2="1273.7" y2="1456.5" stroke="#000" stroke-width="4" />
<line x1="1341.1" y1="1460" x2="1341.1" y2="1451.5" stroke="#000" stroke-width="4" />
<text x="-78.97" y="0" font-size="32.5" textLength="79.77" lengthAdjust="spacingAndGlyphs" transform="translate(1354.43 1497.5) rotate(-26)">−0.85</text>
<line x1="1408.6" y1="1460" x2="1408.6" y2="1456.5" stroke="#000" stroke-width="4" />
<line x1="1476" y1="1460" x2="1476" y2="1451.5" stroke="#000" stroke-width="4" />
<text x="-78.97" y="0" font-size="32.5" textLength="79.77" lengthAdjust="spacingAndGlyphs" transform="translate(1489.29 1497.5) rotate(-26)">−0.65</text>
<line x1="1543.4" y1="1460" x2="1543.4" y2="1456.5" stroke="#000" stroke-width="4" />
<line x1="1610.9" y1="1460" x2="1610.9" y2="1451.5" stroke="#000" stroke-width="4" />
<text x="-78.97" y="0" font-size="32.5" textLength="79.77" lengthAdjust="spacingAndGlyphs" transform="translate(1624.15 1497.5) rotate(-26)">−0.45</text>
<line x1="1678.3" y1="1460" x2="1678.3" y2="1456.5" stroke="#000" stroke-width="4" />
<line x1="1745.7" y1="1460" x2="1745.7" y2="1451.5" stroke="#000" stroke-width="4" />
<text x="-78.97" y="0" font-size="32.5" textLength="79.77" lengthAdjust="spacingAndGlyphs" transform="translate(1759.01 1497.5) rotate(-26)">−0.25</text>
<line x1="1813.1" y1="1460" x2="1813.1" y2="1456.5" stroke="#000" stroke-width="4" />
<line x1="1880.6" y1="1460" x2="1880.6" y2="1451.5" stroke="#000" stroke-width="4" />
<text x="-78.97" y="0" font-size="32.5" textLength="79.77" lengthAdjust="spacingAndGlyphs" transform="translate(1893.87 1497.5) rotate(-26)">−0.05</text>
<line x1="1948" y1="1460" x2="1948" y2="1456.5" stroke="#000" stroke-width="4" />
<text x="1458.27" y="1570" font-size="31.5" textLength="297.01" lengthAdjust="spacingAndGlyphs" >Potential / V vs.RHE</text>
<text x="-2.04" y="0" font-size="32" textLength="426.24" lengthAdjust="spacingAndGlyphs" transform="translate(1158.1 1371.5) rotate(-90)">Relative Raman Intensity / %</text>
<text x="1827.94" y="918.1" font-size="31.7" textLength="118.7" lengthAdjust="spacingAndGlyphs" >Original</text>
<rect x="1274.8" y="878.7" width="69.2" height="34.2" fill="url(#dR)" stroke="#e84848" stroke-width="1"/>
<text x="1352.43" y="905.9" font-size="30.9" textLength="142.57" lengthAdjust="spacingAndGlyphs" >4-HB-H<tspan font-size="19.47" dy="7.5">2</tspan><tspan dy="-7.5">O</tspan></text>
<rect x="1274.8" y="925.5" width="69.2" height="34.2" fill="url(#dB)" stroke="#1a66dd" stroke-width="1"/>
<text x="1352.25" y="952.8" font-size="30.9" textLength="142.74" lengthAdjust="spacingAndGlyphs" >2-HB-H<tspan font-size="19.47" dy="7.5">2</tspan><tspan dy="-7.5">O</tspan></text>
<rect x="1274.8" y="976" width="69.2" height="34.2" fill="url(#dG)" stroke="#34a35e" stroke-width="1"/>
<text x="1352.53" y="1003.3" font-size="30.9" textLength="121.97" lengthAdjust="spacingAndGlyphs" >Na<tspan font-size="19.47" dy="-14.5">+</tspan><tspan dy="14.5">-H</tspan><tspan font-size="19.47" dy="7.5">2</tspan><tspan dy="-7.5">O</tspan></text>
<defs><linearGradient id="gEl" x1="0" y1="0" x2="0" y2="1"><stop offset="0" stop-color="#4a72c4"/><stop offset="0.1" stop-color="#5a82cb"/><stop offset="0.2" stop-color="#7596d2"/><stop offset="0.3" stop-color="#90a9dc"/><stop offset="0.4" stop-color="#a9bbe3"/><stop offset="0.5" stop-color="#c1cdea"/><stop offset="0.6" stop-color="#d4ddf0"/><stop offset="0.7" stop-color="#e5e9f6"/><stop offset="0.8" stop-color="#eef1f9"/><stop offset="1" stop-color="#f3f6fc"/></linearGradient><radialGradient id="gRu" cx="0.5" cy="0.46" r="0.56" fx="0.52" fy="0.4"><stop offset="0" stop-color="#a6f7fd"/><stop offset="0.28" stop-color="#8ae8f4"/><stop offset="0.6" stop-color="#62d0e2"/><stop offset="0.82" stop-color="#50bdd2"/><stop offset="0.93" stop-color="#429fb5"/><stop offset="1" stop-color="#3a8a9c"/></radialGradient><radialGradient id="gOb" cx="0.45" cy="0.45" r="0.6" fx="0.4" fy="0.38"><stop offset="0" stop-color="#f07a7a"/><stop offset="0.4" stop-color="#dd3030"/><stop offset="0.85" stop-color="#c02222"/><stop offset="1" stop-color="#9c1a1a"/></radialGradient><radialGradient id="gHb" cx="0.45" cy="0.4" r="0.6" fx="0.42" fy="0.38"><stop offset="0" stop-color="#ffffff"/><stop offset="0.6" stop-color="#f8f8f8"/><stop offset="1" stop-color="#c8c8c8"/></radialGradient></defs>
<text x="-0.18" y="1021.8" font-size="44" textLength="27.1" lengthAdjust="spacingAndGlyphs" >b</text>
<rect x="37" y="1025.5" width="986.5" height="195" fill="url(#gEl)" />
<rect x="37" y="1220" width="986.5" height="81" fill="#d7dcd8" />
<rect x="37" y="1301" width="986.5" height="3" fill="#e9ecea" />
<rect x="37" y="1304" width="986.5" height="76" fill="#d9d9db" />
<rect x="37" y="1380" width="986.5" height="151" fill="#f6f8fb" />
<circle cx="88.7" cy="1487.4" r="40" fill="url(#gRu)" />
<circle cx="170.3" cy="1487.4" r="40" fill="url(#gRu)" />
<circle cx="249.6" cy="1487.4" r="40" fill="url(#gRu)" />
<circle cx="328.2" cy="1487.4" r="40" fill="url(#gRu)" />
<circle cx="409.2" cy="1487.4" r="40" fill="url(#gRu)" />
<circle cx="487.9" cy="1487.4" r="40" fill="url(#gRu)" />
<circle cx="566.5" cy="1487.4" r="40" fill="url(#gRu)" />
<circle cx="645.8" cy="1487.4" r="40" fill="url(#gRu)" />
<circle cx="722.7" cy="1487.4" r="40" fill="url(#gRu)" />
<path d="M120 1362 L116 1381 L124 1381 Z" fill="#a9b4ea" opacity="0.8"/>
<path d="M198 1362 L194 1381 L202 1381 Z" fill="#a9b4ea" opacity="0.8"/>
<path d="M360.7 1362 L356.7 1381 L364.7 1381 Z" fill="#a9b4ea" opacity="0.8"/>
<path d="M444.7 1362 L440.7 1381 L448.7 1381 Z" fill="#a9b4ea" opacity="0.8"/>
<path d="M598.5 1362 L594.5 1381 L602.5 1381 Z" fill="#a9b4ea" opacity="0.8"/>
<path d="M674 1362 L670 1381 L678 1381 Z" fill="#a9b4ea" opacity="0.8"/>
<path d="M267 1358.6 L259 1383 L273 1383 Z" fill="#f5b400"/>
<path d="M539 1352.7 L523 1383 L537 1383 Z" fill="#f5b400"/>
<path d="M740 1361.6 L737 1383 L751 1383 Z" fill="#f5b400"/>
<circle cx="117.1" cy="1420.6" r="40" fill="url(#gRu)" />
<circle cx="199.9" cy="1420.6" r="40" fill="url(#gRu)" />
<circle cx="280.9" cy="1420.6" r="40" fill="url(#gRu)" />
<circle cx="360.7" cy="1420.6" r="40" fill="url(#gRu)" />
<circle cx="440.6" cy="1420.6" r="40" fill="url(#gRu)" />
<circle cx="517.4" cy="1420.6" r="40" fill="url(#gRu)" />
<circle cx="594.3" cy="1420.6" r="40" fill="url(#gRu)" />
<circle cx="672.4" cy="1420.6" r="40" fill="url(#gRu)" />
<circle cx="749.9" cy="1420.6" r="40" fill="url(#gRu)" />
<circle cx="117" cy="1422.3" r="16.5" fill="url(#gOb)" />
<circle cx="285.6" cy="1422.3" r="16.5" fill="url(#gOb)" />
<circle cx="441.7" cy="1422.3" r="16.5" fill="url(#gOb)" />
<circle cx="641.6" cy="1422.3" r="16.5" fill="url(#gOb)" />
<circle cx="749.9" cy="1422.3" r="16.5" fill="url(#gOb)" />
<circle cx="120" cy="1352" r="9.3" fill="url(#gHb)" />
<circle cx="198" cy="1352" r="9.3" fill="url(#gHb)" />
<circle cx="360.7" cy="1352" r="9.3" fill="url(#gHb)" />
<circle cx="444.7" cy="1352" r="9.3" fill="url(#gHb)" />
<circle cx="598.5" cy="1352" r="9.3" fill="url(#gHb)" />
<circle cx="674" cy="1352" r="9.3" fill="url(#gHb)" />
<circle cx="254.3" cy="1338.1" r="8.5" fill="url(#gHb)" />
<circle cx="254.3" cy="1338.1" r="8.5" fill="url(#gHb)" />
<circle cx="269" cy="1346.6" r="15.5" fill="url(#gOb)" />
<circle cx="541" cy="1340.7" r="15.5" fill="url(#gOb)" />
<circle cx="557.9" cy="1334.5" r="8.5" fill="url(#gHb)" />
<circle cx="557.9" cy="1334.5" r="8.5" fill="url(#gHb)" />
<circle cx="751.6" cy="1338.1" r="8.5" fill="url(#gHb)" />
<circle cx="751.6" cy="1338.1" r="8.5" fill="url(#gHb)" />
<circle cx="742" cy="1349.6" r="15.5" fill="url(#gOb)" />
<circle cx="155.4" cy="1255.8" r="9" fill="url(#gHb)" />
<circle cx="146.7" cy="1271" r="15.5" fill="url(#gOb)" />
<circle cx="130.3" cy="1277" r="9" fill="url(#gHb)" />
<circle cx="214.8" cy="1255.8" r="9" fill="url(#gHb)" />
<circle cx="223.5" cy="1271" r="15.5" fill="url(#gOb)" />
<circle cx="238.7" cy="1279.8" r="9" fill="url(#gHb)" />
<circle cx="316.4" cy="1268" r="15.5" fill="url(#gOb)" />
<circle cx="332.8" cy="1262" r="9" fill="url(#gHb)" />
<circle cx="313.4" cy="1285.2" r="9" fill="url(#gHb)" />
<circle cx="418.7" cy="1253.8" r="9" fill="url(#gHb)" />
<circle cx="415.7" cy="1271" r="15.5" fill="url(#gOb)" />
<circle cx="400.5" cy="1279.8" r="9" fill="url(#gHb)" />
<circle cx="495.5" cy="1253.8" r="9" fill="url(#gHb)" />
<circle cx="498.5" cy="1271" r="15.5" fill="url(#gOb)" />
<circle cx="513.7" cy="1279.8" r="9" fill="url(#gHb)" />
<circle cx="589.9" cy="1252.6" r="9" fill="url(#gHb)" />
<circle cx="588.4" cy="1270" r="15.5" fill="url(#gOb)" />
<circle cx="575" cy="1281.2" r="9" fill="url(#gHb)" />
<circle cx="684.5" cy="1247.1" r="9" fill="url(#gHb)" />
<circle cx="680" cy="1264" r="15.5" fill="url(#gOb)" />
<circle cx="693.4" cy="1275.2" r="9" fill="url(#gHb)" />
<circle cx="752.2" cy="1256.8" r="9" fill="url(#gHb)" />
<circle cx="761" cy="1272" r="15.5" fill="url(#gOb)" />
<circle cx="777.4" cy="1278" r="9" fill="url(#gHb)" />
<text x="856.6" y="1131" font-size="28" textLength="149.27" lengthAdjust="spacingAndGlyphs" fill="#111" >Electrolyte</text>
<text x="831.6" y="1277" font-size="28.5" textLength="183.07" lengthAdjust="spacingAndGlyphs" fill="#111" >Second Layer</text>
<text x="865.69" y="1353" font-size="28.5" textLength="142.38" lengthAdjust="spacingAndGlyphs" fill="#111" >First Layer</text>
<text x="49.72" y="1272.7" font-size="30.5" textLength="56.13" lengthAdjust="spacingAndGlyphs" fill="#111" >H<tspan font-size="18.91" dy="7.3">2</tspan><tspan dy="-7.3">O</tspan></text>
<text x="56.1" y="1356.3" font-size="30.2" textLength="44.23" lengthAdjust="spacingAndGlyphs" fill="#111" >H<tspan font-size="20.54" dy="7.7">ad</tspan></text>
<text x="760.71" y="1368" font-size="30.2" textLength="68.25" lengthAdjust="spacingAndGlyphs" fill="#111" >OH<tspan font-size="20.54" dy="8.4">ad</tspan></text>
<text x="67.88" y="1494.3" font-size="28" textLength="39.44" lengthAdjust="spacingAndGlyphs" fill="#111" >Ru</text>
<defs><linearGradient id="eO" x1="0" y1="0" x2="0" y2="1"><stop offset="0" stop-color="#fa8414"/><stop offset="0.1" stop-color="#f98c2a"/><stop offset="0.2" stop-color="#f8984a"/><stop offset="0.3" stop-color="#f7a86c"/><stop offset="0.4" stop-color="#f8be95"/><stop offset="0.5" stop-color="#f9d5c2"/><stop offset="0.6" stop-color="#f9e6de"/><stop offset="0.7" stop-color="#f9f1ee"/><stop offset="0.8" stop-color="#f9f7f7"/><stop offset="1" stop-color="#fafafc"/></linearGradient><linearGradient id="eG" x1="0" y1="0" x2="0" y2="1"><stop offset="0" stop-color="#4ab04a"/><stop offset="0.1" stop-color="#55b456"/><stop offset="0.2" stop-color="#6bbf6d"/><stop offset="0.3" stop-color="#85c988"/><stop offset="0.4" stop-color="#a8d9ad"/><stop offset="0.5" stop-color="#c9e5cf"/><stop offset="0.6" stop-color="#deede4"/><stop offset="0.7" stop-color="#ecf3ef"/><stop offset="0.8" stop-color="#f5f8f7"/><stop offset="1" stop-color="#f9fafd"/></linearGradient><linearGradient id="eP" x1="0" y1="0" x2="0" y2="1"><stop offset="0" stop-color="#7e5ea6"/><stop offset="0.1" stop-color="#8465a9"/><stop offset="0.2" stop-color="#9079b3"/><stop offset="0.3" stop-color="#a690c3"/><stop offset="0.4" stop-color="#c0b2d6"/><stop offset="0.5" stop-color="#d9d3e8"/><stop offset="0.6" stop-color="#e9e7f2"/><stop offset="0.7" stop-color="#f2f2f8"/><stop offset="0.85" stop-color="#f8f9fc"/><stop offset="1" stop-color="#f9fafd"/></linearGradient></defs>
<text x="-0.56" y="1636.6" font-size="43" textLength="24.86" lengthAdjust="spacingAndGlyphs" >e</text>
<rect x="58" y="1673" width="1938" height="238.5" fill="#f1f9f5" />
<line x1="61" y1="1914.4" x2="1994" y2="1914.4" stroke="#abc9f0" stroke-width="2.6" stroke-dasharray="3.8 3.2"/>
<rect x="123.2" y="2194.9" width="172.2" height="130.6" fill="url(#eO)" />
<rect x="295.4" y="2158" width="172.2" height="167.5" fill="url(#eG)" />
<rect x="467.6" y="2128.7" width="172.2" height="196.8" fill="url(#eP)" />
<rect x="768.4" y="2163.8" width="172.2" height="161.7" fill="url(#eO)" />
<rect x="940.6" y="2231.8" width="172.2" height="93.7" fill="url(#eG)" />
<rect x="1112.8" y="2165.7" width="172.2" height="159.8" fill="url(#eP)" />
<rect x="1413.9" y="2126.9" width="172.2" height="198.6" fill="url(#eO)" />
<rect x="1586.1" y="2296.3" width="172.2" height="29.2" fill="url(#eG)" />
<rect x="1758.3" y="2238.9" width="172.2" height="86.6" fill="url(#eP)" />
<rect x="58.5" y="1673.5" width="1937.5" height="654" fill="none" stroke="#000" stroke-width="4.2"/>
<line x1="119.6" y1="1675" x2="119.6" y2="1686" stroke="#000" stroke-width="3.6" />
<line x1="724.6" y1="1675" x2="724.6" y2="1686" stroke="#000" stroke-width="3.6" />
<line x1="1330" y1="1675" x2="1330" y2="1686" stroke="#000" stroke-width="3.6" />
<line x1="1935.5" y1="1675" x2="1935.5" y2="1686" stroke="#000" stroke-width="3.6" />
<text x="82.54" y="1645.2" font-size="33.8" textLength="84.81" lengthAdjust="spacingAndGlyphs" >RuO<tspan font-size="20.28" dy="7.8">2</tspan></text>
<text x="598.28" y="1645.7" font-size="33.8" textLength="239.06" lengthAdjust="spacingAndGlyphs" >Reduced-RuO<tspan font-size="20.28" dy="7.8">2</tspan></text>
<text x="1289.18" y="1647.8" font-size="33.4" textLength="71.94" lengthAdjust="spacingAndGlyphs" >RuO</text>
<text x="1918.49" y="1647.8" font-size="33.4" textLength="47.32" lengthAdjust="spacingAndGlyphs" >Ru</text>
<defs><radialGradient id="eG" cx="0.365" cy="0.35" r="0.29" fx="0.365" fy="0.35"><stop offset="0" stop-color="#ffffff"/><stop offset="0.3" stop-color="#fbfbff"/><stop offset="0.37" stop-color="#c6e3c6"/><stop offset="0.56" stop-color="#b2d8b2"/><stop offset="0.62" stop-color="#7fbf7f"/><stop offset="0.86" stop-color="#6bb56b"/><stop offset="0.95" stop-color="#008000"/></radialGradient><radialGradient id="eB" cx="0.365" cy="0.35" r="0.29" fx="0.365" fy="0.35"><stop offset="0" stop-color="#ffffff"/><stop offset="0.3" stop-color="#fbfbff"/><stop offset="0.37" stop-color="#c6c6fb"/><stop offset="0.56" stop-color="#b2b2fa"/><stop offset="0.62" stop-color="#7f7ff7"/><stop offset="0.86" stop-color="#6b6bf6"/><stop offset="0.95" stop-color="#0000f0"/></radialGradient><radialGradient id="eR" cx="0.365" cy="0.35" r="0.29" fx="0.365" fy="0.35"><stop offset="0" stop-color="#ffffff"/><stop offset="0.3" stop-color="#fbfbff"/><stop offset="0.37" stop-color="#fdc6c6"/><stop offset="0.56" stop-color="#fcb2b2"/><stop offset="0.62" stop-color="#fb7f7f"/><stop offset="0.86" stop-color="#fa6b6b"/><stop offset="0.95" stop-color="#f80000"/></radialGradient><radialGradient id="eDB" cx="0.365" cy="0.35" r="0.29" fx="0.365" fy="0.35"><stop offset="0" stop-color="#ffffff"/><stop offset="0.3" stop-color="#fbfbff"/><stop offset="0.37" stop-color="#c6c6ea"/><stop offset="0.56" stop-color="#b2b2e2"/><stop offset="0.62" stop-color="#7f7fcf"/><stop offset="0.86" stop-color="#6b6bc7"/><stop offset="0.95" stop-color="#0000a0"/></radialGradient><radialGradient id="eDR" cx="0.365" cy="0.35" r="0.29" fx="0.365" fy="0.35"><stop offset="0" stop-color="#ffffff"/><stop offset="0.3" stop-color="#fbfbff"/><stop offset="0.37" stop-color="#e3c6c6"/><stop offset="0.56" stop-color="#d8b2b2"/><stop offset="0.62" stop-color="#bf7f7f"/><stop offset="0.86" stop-color="#b56b6b"/><stop offset="0.95" stop-color="#800000"/></radialGradient></defs>
<line x1="139.1" y1="1764.6" x2="706.3" y2="1791.1" stroke="#1c6fe3" stroke-width="4.4" stroke-linecap="round"/>
<line x1="743.8" y1="1791.6" x2="1310.8" y2="1779.5" stroke="#1c6fe3" stroke-width="4.4" stroke-linecap="round"/>
<line x1="1348.1" y1="1776.7" x2="1915.8" y2="1704" stroke="#1c6fe3" stroke-width="4.4" stroke-linecap="round"/>
<line x1="138.4" y1="1876.6" x2="705.5" y2="1884.7" stroke="#fa6a10" stroke-width="4.4" stroke-linecap="round"/>
<line x1="742.8" y1="1882.6" x2="1310.5" y2="1810.4" stroke="#fa6a10" stroke-width="4.4" stroke-linecap="round"/>
<line x1="1347.7" y1="1805.4" x2="1915.6" y2="1723.9" stroke="#fa6a10" stroke-width="4.4" stroke-linecap="round"/>
<circle cx="120.1" cy="1763.7" r="13.8" fill="url(#eDB)" />
<circle cx="724.8" cy="1792" r="13.8" fill="url(#eDB)" />
<circle cx="1329.3" cy="1779.1" r="13.8" fill="url(#eDB)" />
<circle cx="1934.1" cy="1701.6" r="13.8" fill="url(#eDB)" />
<circle cx="119.4" cy="1876.3" r="13.8" fill="url(#eDR)" />
<circle cx="724" cy="1885" r="13.8" fill="url(#eDR)" />
<circle cx="1328.9" cy="1808.1" r="13.8" fill="url(#eDR)" />
<circle cx="1933.9" cy="1721.3" r="13.8" fill="url(#eDR)" />
<line x1="310.4" y1="1718.2" x2="318.4" y2="1718.2" stroke="#1c6fe3" stroke-width="4" />
<line x1="359.3" y1="1718.2" x2="367.3" y2="1718.2" stroke="#1c6fe3" stroke-width="4" />
<circle cx="338.8" cy="1718.2" r="13.6" fill="url(#eDB)" />
<text x="373.87" y="1727.1" font-size="29.5" textLength="78.42" lengthAdjust="spacingAndGlyphs" >D<tspan font-size="19.77" dy="8">Ru- H</tspan></text>
<line x1="731" y1="1719" x2="740.5" y2="1719" stroke="#fa6a10" stroke-width="4" />
<line x1="782" y1="1719" x2="791" y2="1719" stroke="#fa6a10" stroke-width="4" />
<circle cx="761.3" cy="1719" r="13.6" fill="url(#eDR)" />
<text x="799.01" y="1728.8" font-size="30.5" textLength="311.19" lengthAdjust="spacingAndGlyphs" >Mulliken charge of *H</text>
<text x="88.98" y="1808.7" font-size="30.6" textLength="75.96" lengthAdjust="spacingAndGlyphs" >1.615</text>
<text x="88.83" y="1856.3" font-size="30.6" textLength="76.31" lengthAdjust="spacingAndGlyphs" >0.009</text>
<text x="687" y="1835" font-size="30.6" textLength="75.18" lengthAdjust="spacingAndGlyphs" >1.604</text>
<text x="688.93" y="1868.8" font-size="30.6" textLength="76.47" lengthAdjust="spacingAndGlyphs" >0.007</text>
<text x="1290.77" y="1754.4" font-size="30.6" textLength="76.27" lengthAdjust="spacingAndGlyphs" >1.609</text>
<text x="1295.83" y="1853.7" font-size="30.6" textLength="76.31" lengthAdjust="spacingAndGlyphs" >0.026</text>
<text x="1825.97" y="1702.3" font-size="30.6" textLength="76.27" lengthAdjust="spacingAndGlyphs" >1.639</text>
<text x="1887.33" y="1770.6" font-size="30.6" textLength="76.47" lengthAdjust="spacingAndGlyphs" >0.047</text>
<text x="1678.16" y="1886.5" font-size="30.9" textLength="137.61" lengthAdjust="spacingAndGlyphs" >Calculate</text>
<text x="1681.09" y="1961.9" font-size="30.2" textLength="168.21" lengthAdjust="spacingAndGlyphs" >Experiment</text>
<rect x="123.9" y="1929.6" width="67.3" height="31.4" fill="url(#eO)" />
<rect x="123.9" y="1972" width="67.3" height="31.4" fill="url(#eG)" />
<rect x="123.9" y="2021" width="67.3" height="31.4" fill="url(#eP)" />
<text x="199.58" y="1955.4" font-size="31" textLength="196.53" lengthAdjust="spacingAndGlyphs" >Overpotential</text>
<text x="198.81" y="1998" font-size="31" textLength="558.93" lengthAdjust="spacingAndGlyphs" >Relative content of Na<tspan font-size="19.22" dy="-13">+</tspan><tspan dy="13">- H</tspan><tspan font-size="19.22" dy="7.5">2</tspan><tspan dy="-7.5">O at −0.35 V</tspan></text>
<text x="200.03" y="2046.7" font-size="31" textLength="415.63" lengthAdjust="spacingAndGlyphs" >Stark tuning rate of Na<tspan font-size="19.22" dy="-13">+</tspan><tspan dy="13">- H</tspan><tspan font-size="19.22" dy="7.5">2</tspan><tspan dy="-7.5">O</tspan></text>
<text x="165.67" y="2181.6" font-size="29.8" textLength="107.06" lengthAdjust="spacingAndGlyphs" >143 mV</text>
<text x="350.29" y="2143.9" font-size="29.8" textLength="69.25" lengthAdjust="spacingAndGlyphs" >9.7%</text>
<text x="476.18" y="2110.6" font-size="29.8" textLength="164.16" lengthAdjust="spacingAndGlyphs" >30.2 cm<tspan font-size="18.77" dy="-13">−1</tspan><tspan dy="13">/V</tspan></text>
<text x="799.76" y="2151.6" font-size="29.8" textLength="107.37" lengthAdjust="spacingAndGlyphs" >176 mV</text>
<text x="989.89" y="2222.2" font-size="29.8" textLength="69.35" lengthAdjust="spacingAndGlyphs" >5.5%</text>
<text x="1120.37" y="2149.8" font-size="29.8" textLength="165.48" lengthAdjust="spacingAndGlyphs" >24.5 cm<tspan font-size="18.77" dy="-13">−1</tspan><tspan dy="13">/V</tspan></text>
<text x="1448.17" y="2112.7" font-size="29.8" textLength="108.06" lengthAdjust="spacingAndGlyphs" >215 mV</text>
<text x="1634.83" y="2285" font-size="29.8" textLength="70.92" lengthAdjust="spacingAndGlyphs" >1.8%</text>
<text x="1765.64" y="2216.7" font-size="29.8" textLength="165.11" lengthAdjust="spacingAndGlyphs" >12.9 cm<tspan font-size="18.77" dy="-13">−1</tspan><tspan dy="13">/V</tspan></text>
<text x="310.23" y="2373.8" font-size="31" textLength="143.09" lengthAdjust="spacingAndGlyphs" >Oxidized</text>
<text x="961.72" y="2375.2" font-size="31" textLength="130.54" lengthAdjust="spacingAndGlyphs" >Original</text>
<text x="1599.27" y="2373" font-size="31" textLength="144.98" lengthAdjust="spacingAndGlyphs" >Reduced</text></svg></body></html>
